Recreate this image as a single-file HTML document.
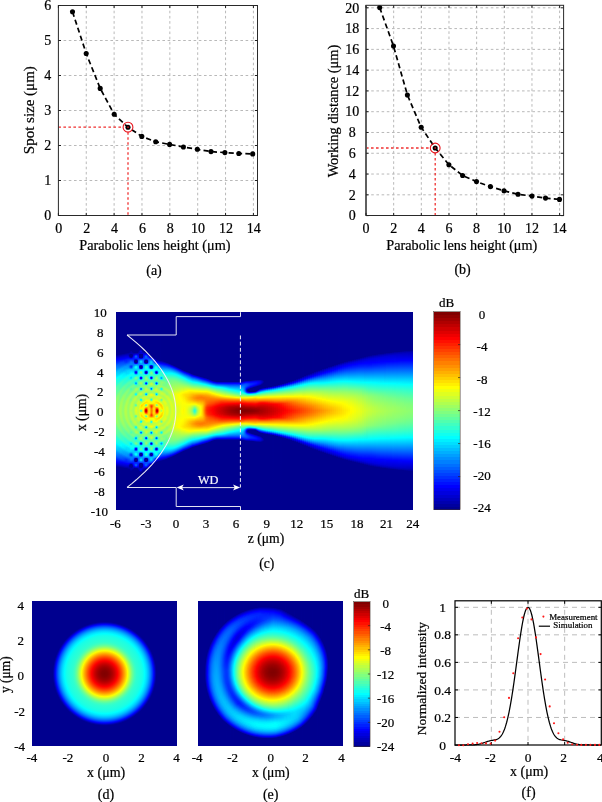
<!DOCTYPE html>
<html><head><meta charset="utf-8"><title>Parabolic lens figure</title>
<style>
html,body{margin:0;padding:0;background:#fff}
#fig{position:relative;width:602px;height:802px;overflow:hidden;background:#fff;font-family:"Liberation Serif",serif}
.hm{position:absolute;display:flex;overflow:hidden}
.hm i{display:block;flex:0 0 auto;width:1px;height:100%}
.cb{position:absolute}
svg{position:absolute;left:0;top:0;will-change:transform}
svg text{font-family:"Liberation Serif",serif}
</style></head><body>
<div id="fig">
<div class="hm" style="left:116px;top:312px;width:297px;height:198px"><i style="background:linear-gradient(#00008f 0.5px,#00008f 42.5px,#0000fa 47.5px,#002bff 50.5px,#06f 53.5px,#0096ff 57.5px,#00caff 60.5px,#00e0ff 63.5px,#00f8ff 65.5px,#0afff5 66.5px,#21ffde 68.5px,#31ffce 72.5px,#60ff9f 76.5px,#65ff9a 81.5px,#96ff69 88.5px,#9aff65 107.5px,#90ff6f 110.5px,#68ff97 115.5px,#65ff9a 119.5px,#5dffa2 121.5px,#2effd1 125.5px,#1effe1 129.5px,#03fffc 131.5px,#00f2ff 132.5px,#00c4ff 137.5px,#0091ff 140.5px,#0070ff 143.5px,#0035ff 146.5px,#0006ff 149.5px,#0000f2 150.5px,#00009b 154.5px,#00008f 155.5px,#00008f 197.5px)"></i><i style="background:linear-gradient(#00008f 0.5px,#000091 42.5px,#0000fd 47.5px,#002eff 50.5px,#0069ff 53.5px,#008bff 56.5px,#00c0ff 59.5px,#00e1ff 63.5px,#02fffd 65.5px,#1affe5 67.5px,#23ffdc 70.5px,#54ffab 74.5px,#5bffa4 75.5px,#5dffa2 79.5px,#8f7 84.5px,#92ff6d 86.5px,#8cff73 104.5px,#93ff6c 110.5px,#85ff7a 113.5px,#60ff9f 117.5px,#59ffa6 122.5px,#28ffd7 126.5px,#17ffe8 130.5px,#00faff 132.5px,#0df 134.5px,#00c8ff 137.5px,#0094ff 140.5px,#0063ff 144.5px,#0027ff 147.5px,#0008ff 149.5px,#0000f6 150.5px,#00009d 154.5px,#00008f 155.5px,#00008f 197.5px)"></i><i style="background:linear-gradient(#00008f 0.5px,#00008f 41.5px,#000093 42.5px,#0000d8 45.5px,#0000fe 47.5px,#001fff 49.5px,#005cff 52.5px,#007fff 55.5px,#00b5ff 58.5px,#00c2ff 59.5px,#00d8ff 62.5px,#00f9ff 64.5px,#09fff6 65.5px,#13ffec 66.5px,#1dffe2 69.5px,#50ffaf 73.5px,#5affa5 78.5px,#89ff76 83.5px,#8cff73 85.5px,#85ff7a 90.5px,#93ff6c 98.5px,#85ff7a 107.5px,#8cff73 112.5px,#87ff78 114.5px,#57ffa8 119.5px,#54ffab 123.5px,#4cffb3 124.5px,#2fd 127.5px,#10ffef 131.5px,#04fffb 132.5px,#00f2ff 133.5px,#00d4ff 135.5px,#00beff 138.5px,#08f 141.5px,#05f 145.5px,#0018ff 148.5px,#0000f8 150.5px,#00008f 155.5px,#00008f 197.5px)"></i><i style="background:linear-gradient(#00008f 0.5px,#00008f 41.5px,#000096 42.5px,#0000db 45.5px,#00f 47.5px,#004eff 51.5px,#0082ff 55.5px,#0af 57.5px,#00b8ff 58.5px,#00cfff 61.5px,#01fffe 64.5px,#0bfff4 65.5px,#16ffe9 68.5px,#4bffb4 72.5px,#50ffaf 76.5px,#82ff7d 81.5px,#7fff80 87.5px,#a0ff5f 95.5px,#a3ff5c 100.5px,#80ff7f 109.5px,#85ff7a 114.5px,#80ff7f 116.5px,#53ffac 120.5px,#4effb1 124.5px,#47ffb8 125.5px,#13ffec 129.5px,#0efff1 131.5px,#00faff 133.5px,#00cbff 136.5px,#00b3ff 139.5px,#007cff 142.5px,#0058ff 145.5px,#000aff 149.5px,#0000f9 150.5px,#0000e8 151.5px,#00008f 155.5px,#00008f 197.5px)"></i><i style="background:linear-gradient(#00008f 0.5px,#00008f 41.5px,#009 42.5px,#0000de 45.5px,#0001ff 47.5px,#0040ff 50.5px,#0075ff 54.5px,#00aeff 57.5px,#00c6ff 60.5px,#00f8ff 63.5px,#03fffc 64.5px,#0ffff0 67.5px,#45ffba 71.5px,#4bffb4 75.5px,#7aff85 79.5px,#7aff85 85.5px,#9bff64 90.5px,#a7ff58 93.5px,#abff54 101.5px,#a3ff5c 105.5px,#79ff86 112.5px,#7dff82 117.5px,#76ff89 118.5px,#50ffaf 121.5px,#49ffb6 122.5px,#48ffb7 125.5px,#42ffbd 126.5px,#15ffea 129.5px,#0ff 133.5px,#00ceff 136.5px,#00a8ff 140.5px,#006fff 143.5px,#004bff 146.5px,#000cff 149.5px,#0000fa 150.5px,#0000d6 152.5px,#000090 155.5px,#00008f 197.5px)"></i><i style="background:linear-gradient(#00008f 0.5px,#00008f 41.5px,#00009d 42.5px,#00c 44.5px,#0000f1 46.5px,#0004ff 47.5px,#04f 50.5px,#0069ff 53.5px,#00a2ff 56.5px,#00bdff 59.5px,#0ef 62.5px,#00fbff 63.5px,#01fffe 64.5px,#08fff7 66.5px,#3fffc0 70.5px,#47ffb8 74.5px,#7f8 78.5px,#74ff8b 83.5px,#95ff6a 87.5px,#a5ff5a 90.5px,#a1ff5e 99.5px,#a6ff59 105.5px,#a0ff5f 108.5px,#73ff8c 114.5px,#79ff86 118.5px,#74ff8b 119.5px,#4fb 123.5px,#3cffc3 127.5px,#0efff1 130.5px,#05fffa 131.5px,#0ff 133.5px,#00f7ff 134.5px,#00c4ff 137.5px,#0af 140.5px,#0072ff 143.5px,#004dff 146.5px,#0000fb 150.5px,#0000d9 152.5px,#000094 155.5px,#00008f 156.5px,#00008f 197.5px)"></i><i style="background:linear-gradient(#00008f 0.5px,#00008f 41.5px,#0000d0 44.5px,#0000f3 46.5px,#0007ff 47.5px,#0046ff 50.5px,#005dff 52.5px,#00a5ff 56.5px,#00bfff 59.5px,#00f3ff 62.5px,#01fffe 65.5px,#39ffc6 69.5px,#3cffc3 72.5px,#43ffbc 73.5px,#6cff93 76.5px,#72ff8d 77.5px,#6dff92 81.5px,#93ff6c 85.5px,#9fff60 87.5px,#93ff6c 100.5px,#a0ff5f 109.5px,#98ff67 111.5px,#70ff8f 115.5px,#6cff93 116.5px,#71ff8e 120.5px,#3fffc0 124.5px,#36ffc9 128.5px,#07fff8 131.5px,#00fdff 132.5px,#0ef 135.5px,#00b9ff 138.5px,#00a0ff 141.5px,#06f 144.5px,#0040ff 147.5px,#0000fe 150.5px,#0000c8 153.5px,#000098 155.5px,#00008f 156.5px,#00008f 197.5px)"></i><i style="background:linear-gradient(#00008f 0.5px,#00008f 41.5px,#0000c0 43.5px,#0000f6 46.5px,#000cff 47.5px,#0037ff 49.5px,#0060ff 52.5px,#009aff 55.5px,#00b4ff 58.5px,#00e9ff 61.5px,#04fffb 65.5px,#3fc 68.5px,#36ffc9 71.5px,#3effc1 72.5px,#69ff96 75.5px,#6bff94 80.5px,#8dff72 83.5px,#9aff65 85.5px,#8eff71 91.5px,#96ff69 98.5px,#8eff71 106.5px,#9bff64 111.5px,#92ff6d 113.5px,#69ff96 117.5px,#6cff93 121.5px,#64ff9b 122.5px,#3affc5 125.5px,#36ffc9 128.5px,#2fffd0 129.5px,#00feff 132.5px,#00efff 135.5px,#00b0ff 139.5px,#0094ff 142.5px,#0059ff 145.5px,#002fff 148.5px,#0003ff 150.5px,#00c 153.5px,#00009d 155.5px,#00008f 156.5px,#00008f 197.5px)"></i><i style="background:linear-gradient(#00008f 0.5px,#00008f 40.5px,#000093 41.5px,#0000c4 43.5px,#0000fa 46.5px,#0050ff 51.5px,#008fff 54.5px,#0af 57.5px,#00e8ff 61.5px,#00fbff 64.5px,#0dfff2 65.5px,#2dffd2 67.5px,#2fffd0 70.5px,#37ffc8 71.5px,#64ff9b 74.5px,#68ff97 75.5px,#63ff9c 78.5px,#94ff6b 83.5px,#8aff75 89.5px,#a3ff5c 95.5px,#a8ff57 99.5px,#a2ff5d 102.5px,#89ff76 108.5px,#94ff6b 112.5px,#92ff6d 114.5px,#6f9 118.5px,#62ff9d 119.5px,#68ff97 122.5px,#60ff9f 123.5px,#32ffcd 126.5px,#30ffcf 129.5px,#28ffd7 130.5px,#06fff9 132.5px,#00f6ff 133.5px,#00e4ff 136.5px,#00b2ff 139.5px,#0098ff 142.5px,#0049ff 146.5px,#002dff 148.5px,#0008ff 150.5px,#0000f2 151.5px,#0000d0 153.5px,#00008f 156.5px,#00008f 197.5px)"></i><i style="background:linear-gradient(#00008f 0.5px,#00008f 40.5px,#000098 41.5px,#0000c9 43.5px,#00f 46.5px,#0015ff 47.5px,#003aff 50.5px,#0094ff 54.5px,#00a2ff 56.5px,#00daff 60.5px,#03fffc 64.5px,#27ffd8 66.5px,#2fffd0 70.5px,#5fffa0 73.5px,#5fffa0 77.5px,#8cff73 81.5px,#8dff72 83.5px,#84ff7b 86.5px,#b0ff4f 94.5px,#b5ff4a 99.5px,#b2ff4d 102.5px,#a6ff59 105.5px,#85ff7a 110.5px,#8eff71 114.5px,#8aff75 116.5px,#64ff9b 119.5px,#5effa1 120.5px,#63ff9c 123.5px,#5affa5 124.5px,#36ffc9 126.5px,#2cffd3 127.5px,#2bffd4 130.5px,#2fd 131.5px,#00fbff 133.5px,#00d6ff 137.5px,#00a8ff 140.5px,#008dff 143.5px,#0046ff 146.5px,#0034ff 147.5px,#000eff 150.5px,#0000f6 151.5px,#0000c0 154.5px,#00008f 156.5px,#00008f 197.5px)"></i><i style="background:linear-gradient(#00008f 0.5px,#00008f 40.5px,#00009d 41.5px,#0000cb 43.5px,#0000ef 45.5px,#0006ff 46.5px,#0019ff 47.5px,#002aff 49.5px,#0039ff 50.5px,#0071ff 52.5px,#0094ff 54.5px,#00a3ff 56.5px,#00c6ff 58.5px,#00deff 61.5px,#00f7ff 63.5px,#0dfff2 64.5px,#1fffe0 65.5px,#27ffd8 66.5px,#26ffd9 68.5px,#2cffd3 69.5px,#57ffa8 72.5px,#5effa1 73.5px,#58ffa7 75.5px,#5cffa3 76.5px,#84ff7b 79.5px,#8bff74 80.5px,#80ff7f 83.5px,#82ff7d 85.5px,#a6ff59 89.5px,#b0ff4f 91.5px,#b0ff4f 105.5px,#af5 107.5px,#80ff7f 112.5px,#89ff76 117.5px,#61ff9e 120.5px,#59ffa6 121.5px,#5cffa3 124.5px,#28ffd7 128.5px,#25ffda 131.5px,#04fffb 133.5px,#00f1ff 134.5px,#00e3ff 135.5px,#00ceff 138.5px,#00abff 140.5px,#0090ff 143.5px,#007eff 144.5px,#0032ff 147.5px,#0013ff 150.5px,#0000fc 151.5px,#0000c3 154.5px,#00008f 156.5px,#00008f 197.5px)"></i><i style="background:linear-gradient(#00008f 0.5px,#00008f 40.5px,#0000f2 45.5px,#000bff 46.5px,#001eff 47.5px,#03f 49.5px,#04f 50.5px,#07f 52.5px,#08f 53.5px,#00a6ff 56.5px,#00cdff 58.5px,#00d8ff 59.5px,#00e0ff 61.5px,#01fffe 63.5px,#20ffdf 65.5px,#26ffd9 68.5px,#54ffab 71.5px,#59ffa6 72.5px,#53ffac 74.5px,#57ffa8 75.5px,#82ff7d 78.5px,#8f7 79.5px,#7cff83 83.5px,#abff54 88.5px,#adff52 90.5px,#9fff60 95.5px,#9dff62 100.5px,#adff52 108.5px,#a9ff56 109.5px,#80ff7f 113.5px,#7bff84 114.5px,#86ff79 118.5px,#54ffab 122.5px,#58ffa7 125.5px,#4fffb0 126.5px,#2dffd2 128.5px,#23ffdc 129.5px,#1dffe2 132.5px,#00f8ff 134.5px,#00e6ff 135.5px,#00d5ff 138.5px,#00a0ff 141.5px,#0082ff 144.5px,#003cff 147.5px,#0018ff 150.5px,#0001ff 151.5px,#000095 156.5px,#00008f 157.5px,#00008f 197.5px)"></i><i style="background:linear-gradient(#00008f 0.5px,#00008f 40.5px,#0000a4 41.5px,#0000c1 43.5px,#0000f0 45.5px,#000eff 46.5px,#02f 47.5px,#003dff 49.5px,#007bff 52.5px,#0093ff 55.5px,#00d2ff 58.5px,#00e4ff 61.5px,#00f4ff 62.5px,#0afff5 63.5px,#18ffe7 64.5px,#1fffe0 67.5px,#4fffb0 70.5px,#56ffa9 71.5px,#4fffb0 73.5px,#52ffad 74.5px,#7eff81 77.5px,#84ff7b 78.5px,#7f8 81.5px,#7bff84 82.5px,#a7ff58 86.5px,#a7ff58 88.5px,#97ff68 93.5px,#97ff68 104.5px,#a9ff56 110.5px,#a4ff5b 111.5px,#78ff87 115.5px,#83ff7c 119.5px,#50ffaf 123.5px,#54ffab 126.5px,#49ffb6 127.5px,#25ffda 129.5px,#1cffe3 130.5px,#1cffe3 132.5px,#14ffeb 133.5px,#02fffd 134.5px,#00edff 135.5px,#00e0ff 136.5px,#00d8ff 138.5px,#0cf 139.5px,#008eff 142.5px,#0081ff 144.5px,#0074ff 145.5px,#0048ff 147.5px,#001cff 150.5px,#0003ff 151.5px,#00c 153.5px,#00008f 157.5px,#00008f 197.5px)"></i><i style="background:linear-gradient(#00008f 0.5px,#00008f 39.5px,#000095 40.5px,#0000a7 41.5px,#000095 43.5px,#0000a7 44.5px,#0000d4 45.5px,#0009ff 46.5px,#0025ff 47.5px,#006fff 51.5px,#007dff 52.5px,#06f 54.5px,#0075ff 55.5px,#00c3ff 57.5px,#00d4ff 58.5px,#00edff 61.5px,#00feff 62.5px,#10ffef 63.5px,#10ffef 64.5px,#05fffa 65.5px,#06fff9 66.5px,#35ffca 68.5px,#54ffab 70.5px,#4effb1 73.5px,#68ff97 75.5px,#7f8 77.5px,#74ff8b 80.5px,#7bff84 81.5px,#a1ff5e 84.5px,#a6ff59 85.5px,#94ff6b 88.5px,#93ff6c 90.5px,#a9ff56 96.5px,#af5 100.5px,#93ff6c 107.5px,#96ff69 109.5px,#a5ff5a 111.5px,#a4ff5b 112.5px,#9dff62 113.5px,#7f8 116.5px,#75ff8a 120.5px,#4dffb2 124.5px,#54ffab 126.5px,#51ffae 127.5px,#41ffbe 128.5px,#1fe 130.5px,#03fffc 131.5px,#12ffed 133.5px,#00f7ff 135.5px,#00e8ff 136.5px,#00d0ff 139.5px,#00b5ff 140.5px,#008aff 141.5px,#006cff 142.5px,#0068ff 143.5px,#0076ff 144.5px,#0078ff 145.5px,#001eff 150.5px,#0000f4 151.5px,#0000c0 152.5px,#00009c 153.5px,#000096 154.5px,#0000a3 155.5px,#0000a0 156.5px,#00008f 157.5px,#00008f 197.5px)"></i><i style="background:linear-gradient(#00008f 0.5px,#00008f 38.5px,#00a 41.5px,#00008f 42.5px,#00008f 44.5px,#0000af 45.5px,#0001ff 46.5px,#0027ff 47.5px,#0061ff 49.5px,#0072ff 50.5px,#007dff 52.5px,#0057ff 53.5px,#003cff 54.5px,#004dff 55.5px,#00c2ff 57.5px,#00fdff 61.5px,#09fff6 62.5px,#12ffed 63.5px,#00fdff 64.5px,#00e0ff 65.5px,#00e7ff 66.5px,#15ffea 67.5px,#3effc1 68.5px,#4effb1 69.5px,#54ffab 70.5px,#4fffb0 72.5px,#5fa 73.5px,#6f9 74.5px,#6bff94 75.5px,#5effa1 76.5px,#5cffa3 77.5px,#79ff86 80.5px,#9aff65 82.5px,#a3ff5c 83.5px,#9dff62 85.5px,#7eff81 87.5px,#80ff7f 88.5px,#adff52 92.5px,#bdff42 96.5px,#b2ff4d 98.5px,#bcff43 100.5px,#b7ff48 103.5px,#97ff68 107.5px,#7cff83 109.5px,#9fff60 112.5px,#a0ff5f 114.5px,#74ff8b 117.5px,#5affa5 120.5px,#6cff93 122.5px,#51ffae 124.5px,#52ffad 127.5px,#49ffb6 128.5px,#31ffce 129.5px,#0ff 130.5px,#00deff 131.5px,#00e9ff 132.5px,#0afff5 133.5px,#0ffff0 134.5px,#00f8ff 136.5px,#00d0ff 139.5px,#00adff 140.5px,#006cff 141.5px,#0041ff 142.5px,#0042ff 143.5px,#0068ff 144.5px,#007bff 145.5px,#07f 146.5px,#006dff 147.5px,#001fff 150.5px,#0000e1 151.5px,#000091 152.5px,#00008f 153.5px,#00008f 154.5px,#0000a4 156.5px,#00008f 159.5px,#00008f 197.5px)"></i><i style="background:linear-gradient(#00008f 0.5px,#00008f 38.5px,#0000a0 39.5px,#0000ac 41.5px,#00008f 42.5px,#00008f 44.5px,#0000a6 45.5px,#00f 46.5px,#0028ff 47.5px,#0068ff 49.5px,#007aff 50.5px,#007cff 52.5px,#004eff 53.5px,#0030ff 54.5px,#0043ff 55.5px,#00c2ff 57.5px,#00f7ff 60.5px,#08fff7 61.5px,#1fe 63.5px,#00f5ff 64.5px,#00d9ff 65.5px,#00e7ff 66.5px,#1cffe3 67.5px,#45ffba 68.5px,#54ffab 72.5px,#71ff8e 74.5px,#6cff93 75.5px,#5fa 76.5px,#51ffae 77.5px,#9aff65 81.5px,#a3ff5c 82.5px,#a0ff5f 83.5px,#7dff82 87.5px,#8f7 88.5px,#a0ff5f 89.5px,#aeff51 90.5px,#beff41 92.5px,#bdff42 96.5px,#afff50 98.5px,#bf4 100.5px,#c1ff3e 104.5px,#af5 107.5px,#81ff7e 109.5px,#7fff80 110.5px,#a2ff5d 114.5px,#a1ff5e 115.5px,#5bffa4 119.5px,#4fffb0 120.5px,#72ff8d 122.5px,#51ffae 125.5px,#4affb5 128.5px,#39ffc6 129.5px,#05fffa 130.5px,#00dbff 131.5px,#00e1ff 132.5px,#04fffb 133.5px,#1fe 134.5px,#02fffd 136.5px,#00daff 138.5px,#00ceff 139.5px,#00acff 140.5px,#06f 141.5px,#0035ff 142.5px,#0036ff 143.5px,#0062ff 144.5px,#007cff 145.5px,#007cff 146.5px,#0075ff 147.5px,#0020ff 150.5px,#0000dc 151.5px,#00008f 152.5px,#000093 155.5px,#0000a6 156.5px,#0000a3 157.5px,#00008f 159.5px,#00008f 197.5px)"></i><i style="background:linear-gradient(#00008f 0.5px,#00008f 39.5px,#0000ae 41.5px,#000093 43.5px,#0000a7 44.5px,#0000d5 45.5px,#000cff 46.5px,#006fff 50.5px,#007cff 52.5px,#0068ff 53.5px,#0062ff 54.5px,#007aff 55.5px,#00c6ff 57.5px,#00dcff 59.5px,#05fffa 61.5px,#0efff1 62.5px,#0efff1 63.5px,#02fffd 65.5px,#16ffe9 66.5px,#35ffca 67.5px,#47ffb8 68.5px,#4fb 70.5px,#4affb5 71.5px,#6bff94 73.5px,#75ff8a 74.5px,#63ff9c 77.5px,#94ff6b 80.5px,#9dff62 81.5px,#9bff64 82.5px,#8aff75 84.5px,#8aff75 85.5px,#bf4 90.5px,#bf4 92.5px,#a8ff57 98.5px,#bcff43 106.5px,#baff45 107.5px,#97ff68 110.5px,#89ff76 112.5px,#9dff62 115.5px,#9bff64 116.5px,#6aff95 119.5px,#62ff9d 120.5px,#74ff8b 122.5px,#73ff8c 123.5px,#47ffb8 126.5px,#43ffbc 129.5px,#0cfff3 131.5px,#01fffe 132.5px,#0ffff0 134.5px,#0cfff3 135.5px,#00feff 136.5px,#00d5ff 138.5px,#0cf 139.5px,#00baff 140.5px,#006dff 142.5px,#0060ff 143.5px,#007bff 145.5px,#0075ff 146.5px,#0068ff 147.5px,#0034ff 149.5px,#0021ff 150.5px,#0000f6 151.5px,#0000c0 152.5px,#00009b 153.5px,#000094 154.5px,#0000a6 155.5px,#0000a7 156.5px,#00008f 158.5px,#00008f 197.5px)"></i><i style="background:linear-gradient(#00008f 0.5px,#00008f 39.5px,#000093 40.5px,#0000f9 44.5px,#000dff 45.5px,#002eff 48.5px,#006eff 51.5px,#008bff 53.5px,#00b8ff 55.5px,#00c5ff 56.5px,#0cf 58.5px,#00d6ff 59.5px,#0ff 61.5px,#0bfff4 62.5px,#0ffff0 64.5px,#42ffbd 67.5px,#3fffc0 70.5px,#71ff8e 73.5px,#72ff8d 74.5px,#67ff98 76.5px,#6eff91 77.5px,#91ff6e 79.5px,#9f6 80.5px,#87ff78 83.5px,#89ff76 84.5px,#b9ff46 88.5px,#a3ff5c 94.5px,#a2ff5d 102.5px,#baff45 108.5px,#adff52 110.5px,#87ff78 113.5px,#8f7 114.5px,#98ff67 116.5px,#97ff68 117.5px,#6aff95 120.5px,#68ff97 121.5px,#73ff8c 123.5px,#6cff93 124.5px,#46ffb9 126.5px,#3effc1 127.5px,#45ffba 129.5px,#3effc1 130.5px,#17ffe8 132.5px,#0cfff3 133.5px,#08fff7 135.5px,#00f8ff 136.5px,#00d0ff 138.5px,#00c1ff 141.5px,#0085ff 144.5px,#06f 146.5px,#0039ff 148.5px,#0006ff 152.5px,#0000ef 153.5px,#00008f 157.5px,#00008f 197.5px)"></i><i style="background:linear-gradient(#00008f 0.5px,#00008f 40.5px,#0000d5 42.5px,#0006ff 43.5px,#0024ff 44.5px,#0025ff 45.5px,#001eff 46.5px,#0004ff 47.5px,#0000bd 48.5px,#0000a4 49.5px,#0000cf 50.5px,#002cff 51.5px,#007fff 52.5px,#009bff 53.5px,#00c5ff 54.5px,#00dbff 55.5px,#00c9ff 57.5px,#00b5ff 58.5px,#08f 59.5px,#007eff 60.5px,#00abff 61.5px,#00edff 62.5px,#09fff6 63.5px,#1bffe4 64.5px,#3affc5 65.5px,#4effb1 66.5px,#4bffb4 67.5px,#3fc 69.5px,#18ffe7 70.5px,#17ffe8 71.5px,#6aff95 73.5px,#6aff95 75.5px,#91ff6e 78.5px,#97ff68 79.5px,#90ff6f 80.5px,#74ff8b 81.5px,#63ff9c 82.5px,#95ff6a 84.5px,#b6ff49 86.5px,#bdff42 87.5px,#b9ff46 88.5px,#90ff6f 92.5px,#8cff73 93.5px,#acff53 95.5px,#baff45 98.5px,#a8ff57 102.5px,#95ff6a 103.5px,#8bff74 104.5px,#bf4 109.5px,#bf4 110.5px,#a0ff5f 112.5px,#8bff74 113.5px,#6dff92 114.5px,#6f9 115.5px,#96ff69 117.5px,#8cff73 119.5px,#6fff90 121.5px,#69ff96 122.5px,#6eff91 123.5px,#5fffa0 124.5px,#2effd1 125.5px,#1fe 126.5px,#3affc5 128.5px,#4effb1 130.5px,#49ffb6 131.5px,#1fe 133.5px,#06fff9 134.5px,#00d4ff 135.5px,#0093ff 136.5px,#007bff 137.5px,#0098ff 138.5px,#00c5ff 139.5px,#00daff 141.5px,#00d6ff 142.5px,#0067ff 145.5px,#0004ff 146.5px,#0000b6 147.5px,#0000a6 148.5px,#0000d6 149.5px,#001eff 150.5px,#0027ff 152.5px,#001bff 153.5px,#0000f2 154.5px,#00008f 156.5px,#00008f 197.5px)"></i><i style="background:linear-gradient(#00008f 0.5px,#00008f 40.5px,#0000b5 41.5px,#0000e8 42.5px,#0036ff 43.5px,#005bff 44.5px,#04f 45.5px,#0024ff 46.5px,#0000e7 47.5px,#00008f 48.5px,#00008f 50.5px,#0000ed 51.5px,#0081ff 52.5px,#00b2ff 53.5px,#00f6ff 54.5px,#0cfff3 55.5px,#00ebff 56.5px,#00caff 57.5px,#009dff 58.5px,#0027ff 59.5px,#0000ef 60.5px,#0037ff 61.5px,#00c7ff 62.5px,#0afff5 63.5px,#2fffd0 64.5px,#60ff9f 65.5px,#6fff90 66.5px,#24ffdb 69.5px,#00caff 70.5px,#009fff 71.5px,#00f1ff 72.5px,#57ffa8 73.5px,#73ff8c 75.5px,#8fff70 76.5px,#a1ff5e 77.5px,#9fff60 78.5px,#93ff6c 79.5px,#7cff83 80.5px,#2cffd3 81.5px,#04fffb 82.5px,#a2ff5d 84.5px,#b4ff4b 85.5px,#bdff42 87.5px,#a4ff5b 89.5px,#9aff65 91.5px,#69ff96 92.5px,#5fa 93.5px,#93ff6c 94.5px,#c3ff3c 95.5px,#daff25 98.5px,#c9ff36 101.5px,#b7ff48 102.5px,#75ff8a 103.5px,#52ffad 104.5px,#80ff7f 105.5px,#a0ff5f 106.5px,#9fff60 107.5px,#b8ff47 109.5px,#beff41 110.5px,#b0ff4f 112.5px,#8cff73 113.5px,#2affd5 114.5px,#06fff9 115.5px,#50ffaf 116.5px,#8bff74 117.5px,#a2ff5d 119.5px,#9dff62 120.5px,#6aff95 122.5px,#6f9 123.5px,#37ffc8 124.5px,#00c4ff 125.5px,#00a2ff 126.5px,#00f0ff 127.5px,#36ffc9 128.5px,#43ffbc 129.5px,#63ff9c 130.5px,#6fff90 131.5px,#4fffb0 132.5px,#1cffe3 133.5px,#01fffe 134.5px,#008eff 135.5px,#000cff 136.5px,#0000f7 137.5px,#05f 138.5px,#00c1ff 139.5px,#00d3ff 140.5px,#00fcff 141.5px,#0bfff4 142.5px,#0df 143.5px,#0057ff 145.5px,#0000a7 146.5px,#00008f 147.5px,#00008f 149.5px,#001bff 150.5px,#002dff 151.5px,#0052ff 152.5px,#0054ff 153.5px,#0019ff 154.5px,#0000ce 155.5px,#00008f 156.5px,#00008f 197.5px)"></i><i style="background:linear-gradient(#00008f 0.5px,#00008f 40.5px,#0000b8 41.5px,#0000ec 42.5px,#0038ff 43.5px,#005bff 44.5px,#0026ff 46.5px,#0000ea 47.5px,#00008f 48.5px,#00008f 50.5px,#0000ea 51.5px,#0085ff 52.5px,#00b8ff 53.5px,#00faff 54.5px,#0efff1 55.5px,#00eaff 56.5px,#0cf 57.5px,#00a1ff 58.5px,#0027ff 59.5px,#0000e8 60.5px,#002fff 61.5px,#00c3ff 62.5px,#0dfff2 63.5px,#69ff96 65.5px,#71ff8e 66.5px,#39ffc6 68.5px,#28ffd7 69.5px,#00cfff 70.5px,#009eff 71.5px,#00eaff 72.5px,#4fffb0 73.5px,#7aff85 75.5px,#9eff61 76.5px,#acff53 77.5px,#9eff61 78.5px,#74ff8b 80.5px,#2affd5 81.5px,#0bfff4 82.5px,#61ff9e 83.5px,#acff53 84.5px,#b2ff4d 86.5px,#a8ff57 89.5px,#afff50 91.5px,#7cff83 92.5px,#65ff9a 93.5px,#a2ff5d 94.5px,#d1ff2e 95.5px,#e1ff1e 98.5px,#d4ff2b 101.5px,#c6ff39 102.5px,#84ff7b 103.5px,#63ff9c 104.5px,#95ff6a 105.5px,#b3ff4c 106.5px,#a9ff56 107.5px,#b3ff4c 112.5px,#9f6 113.5px,#36ffc9 114.5px,#09fff6 115.5px,#4bffb4 116.5px,#81ff7e 117.5px,#a6ff59 119.5px,#af5 120.5px,#91ff6e 121.5px,#6dff92 122.5px,#60ff9f 123.5px,#2fffd0 124.5px,#00bfff 125.5px,#00a4ff 126.5px,#00f6ff 127.5px,#38ffc7 128.5px,#3fffc0 129.5px,#61ff9e 130.5px,#74ff8b 131.5px,#58ffa7 132.5px,#2fd 133.5px,#01fffe 134.5px,#0087ff 135.5px,#0003ff 136.5px,#0000f3 137.5px,#0057ff 138.5px,#00c5ff 139.5px,#00d3ff 140.5px,#00fbff 141.5px,#0efff1 142.5px,#00e3ff 143.5px,#0058ff 145.5px,#0000a1 146.5px,#00008f 147.5px,#00008f 149.5px,#001fff 150.5px,#002eff 151.5px,#0052ff 152.5px,#05f 153.5px,#001cff 154.5px,#0000d1 155.5px,#00008f 156.5px,#00008f 197.5px)"></i><i style="background:linear-gradient(#00008f 0.5px,#00008f 40.5px,#0000bc 41.5px,#0000e0 42.5px,#000dff 43.5px,#0025ff 44.5px,#0025ff 46.5px,#0012ff 47.5px,#0000cf 48.5px,#0000b0 49.5px,#0000d2 50.5px,#002eff 51.5px,#0089ff 52.5px,#00d0ff 54.5px,#00dbff 55.5px,#00c5ff 58.5px,#009bff 59.5px,#0087ff 60.5px,#00a7ff 61.5px,#00e8ff 62.5px,#12ffed 63.5px,#4dffb2 65.5px,#4fffb0 66.5px,#40ffbf 67.5px,#3affc5 68.5px,#42ffbd 69.5px,#2cffd3 71.5px,#59ffa6 73.5px,#63ff9c 74.5px,#95ff6a 76.5px,#9dff62 77.5px,#80ff7f 79.5px,#7aff85 81.5px,#85ff7a 82.5px,#a1ff5e 83.5px,#aeff51 84.5px,#a0ff5f 86.5px,#a2ff5d 87.5px,#cbff34 91.5px,#baff45 93.5px,#caff35 95.5px,#cbff34 99.5px,#c9ff36 102.5px,#bf4 104.5px,#c7ff38 105.5px,#caff35 106.5px,#a0ff5f 110.5px,#acff53 113.5px,#7eff81 115.5px,#7bff84 116.5px,#85ff7a 118.5px,#96ff69 119.5px,#9dff62 120.5px,#8cff73 121.5px,#70ff8f 122.5px,#50ffaf 124.5px,#35ffca 125.5px,#2cffd3 126.5px,#3cffc3 127.5px,#41ffbe 128.5px,#39ffc6 129.5px,#51ffae 131.5px,#4fb 132.5px,#08fff7 134.5px,#00ceff 135.5px,#0094ff 136.5px,#0089ff 137.5px,#00d1ff 139.5px,#00cbff 140.5px,#00daff 142.5px,#00c3ff 143.5px,#006dff 145.5px,#0004ff 146.5px,#0000bc 147.5px,#0000b5 148.5px,#0000e8 149.5px,#0029ff 150.5px,#0023ff 151.5px,#0027ff 152.5px,#001fff 153.5px,#0000fb 154.5px,#0000cf 155.5px,#000098 156.5px,#00008f 157.5px,#00008f 197.5px)"></i><i style="background:linear-gradient(#00008f 0.5px,#00008f 38.5px,#000096 39.5px,#0000ef 43.5px,#0001ff 44.5px,#0025ff 46.5px,#0056ff 48.5px,#0067ff 49.5px,#007aff 51.5px,#00b3ff 54.5px,#00c0ff 56.5px,#00cfff 57.5px,#00faff 59.5px,#02fffd 60.5px,#06fff9 62.5px,#2fffd0 64.5px,#3affc5 65.5px,#34ffcb 67.5px,#3effc1 68.5px,#6f9 70.5px,#69ff96 71.5px,#5effa1 73.5px,#8eff71 76.5px,#7dff82 79.5px,#adff52 82.5px,#aeff51 83.5px,#9aff65 85.5px,#9aff65 86.5px,#c8ff37 89.5px,#d0ff2f 90.5px,#c1ff3e 94.5px,#cbff34 98.5px,#c2ff3d 103.5px,#d0ff2f 106.5px,#ceff31 107.5px,#a1ff5e 110.5px,#9f6 111.5px,#b0ff4f 114.5px,#a8ff57 115.5px,#82ff7d 117.5px,#7dff82 118.5px,#8fff70 120.5px,#8aff75 121.5px,#63ff9c 123.5px,#5dffa2 124.5px,#6aff95 126.5px,#60ff9f 127.5px,#38ffc7 129.5px,#37ffc8 132.5px,#10ffef 134.5px,#03fffc 135.5px,#01fffe 136.5px,#01fffe 137.5px,#00f3ff 138.5px,#00c8ff 140.5px,#00adff 143.5px,#0075ff 146.5px,#0061ff 148.5px,#001cff 151.5px,#0000fa 153.5px,#00008f 158.5px,#00008f 197.5px)"></i><i style="background:linear-gradient(#00008f 0.5px,#00008f 37.5px,#0000b7 39.5px,#0000b8 40.5px,#0000c5 41.5px,#00008f 42.5px,#00008f 45.5px,#0002ff 46.5px,#0047ff 47.5px,#0074ff 48.5px,#0092ff 49.5px,#0093ff 50.5px,#08f 51.5px,#008fff 52.5px,#003dff 53.5px,#0000f1 54.5px,#0000f2 55.5px,#0049ff 56.5px,#00c2ff 57.5px,#00f1ff 58.5px,#15ffea 59.5px,#24ffdb 60.5px,#1fe 62.5px,#1effe1 63.5px,#00feff 64.5px,#00c5ff 65.5px,#00c1ff 66.5px,#03fffc 67.5px,#43ffbc 68.5px,#7aff85 70.5px,#7dff82 71.5px,#65ff9a 73.5px,#74ff8b 74.5px,#6fff90 75.5px,#4dffb2 76.5px,#49ffb6 77.5px,#6aff95 78.5px,#b4ff4b 81.5px,#bcff43 82.5px,#9bff64 84.5px,#98ff67 86.5px,#90ff6f 87.5px,#a5ff5a 88.5px,#c7ff38 89.5px,#c7ff38 92.5px,#e8ff17 96.5px,#e2ff1d 97.5px,#cfff30 98.5px,#d5ff2a 99.5px,#e7ff18 100.5px,#c5ff3a 105.5px,#cf3 107.5px,#bcff43 108.5px,#9f6 109.5px,#92ff6d 110.5px,#9aff65 111.5px,#97ff68 112.5px,#b5ff4a 114.5px,#bcff43 115.5px,#af5 116.5px,#4fb 120.5px,#7f8 122.5px,#6f9 124.5px,#7fff80 126.5px,#71ff8e 127.5px,#2fffd0 129.5px,#00e3ff 130.5px,#00b9ff 131.5px,#00d9ff 132.5px,#13ffec 133.5px,#13ffec 135.5px,#20ffdf 136.5px,#2fd 137.5px,#08fff7 138.5px,#00e3ff 139.5px,#0094ff 140.5px,#001eff 141.5px,#0000e7 142.5px,#0009ff 143.5px,#0063ff 144.5px,#008bff 145.5px,#008bff 146.5px,#0096ff 147.5px,#008aff 148.5px,#0039ff 150.5px,#0000ca 151.5px,#00008f 152.5px,#00008f 154.5px,#0000bd 156.5px,#0000b2 158.5px,#000093 159.5px,#00008f 160.5px,#00008f 197.5px)"></i><i style="background:linear-gradient(#00008f 0.5px,#00008f 37.5px,#00c 38.5px,#0000e1 39.5px,#0000cb 40.5px,#0000c9 41.5px,#00008f 42.5px,#00008f 45.5px,#0000e4 46.5px,#0052ff 47.5px,#009eff 48.5px,#00d5ff 49.5px,#00c9ff 50.5px,#009dff 51.5px,#0092ff 52.5px,#0000e2 53.5px,#00008f 54.5px,#00008f 55.5px,#0000d2 56.5px,#00b4ff 57.5px,#00fdff 58.5px,#3cffc3 59.5px,#5bffa4 60.5px,#45ffba 61.5px,#2fd 62.5px,#2fd 63.5px,#00afff 64.5px,#000aff 65.5px,#0000fd 66.5px,#00acff 67.5px,#47ffb8 68.5px,#95ff6a 70.5px,#a0ff5f 71.5px,#72ff8d 73.5px,#7cff83 74.5px,#3fc 75.5px,#009aff 76.5px,#09f 77.5px,#36ffc9 78.5px,#8bff74 79.5px,#caff35 81.5px,#cf3 82.5px,#9cff63 84.5px,#a2ff5d 85.5px,#75ff8a 86.5px,#08fff7 87.5px,#25ffda 88.5px,#9fff60 89.5px,#beff41 90.5px,#c4ff3b 91.5px,#feff01 93.5px,#fff600 94.5px,#fffa00 96.5px,#c8ff37 97.5px,#6f9 98.5px,#86ff79 99.5px,#ecff13 100.5px,#fff800 101.5px,#fff800 103.5px,#f4ff0b 104.5px,#d4ff2b 105.5px,#beff41 106.5px,#bdff42 107.5px,#73ff8c 108.5px,#02fffd 109.5px,#2effd1 110.5px,#96ff69 111.5px,#a2ff5d 113.5px,#beff41 114.5px,#d0ff2f 115.5px,#c0ff3f 116.5px,#79ff86 118.5px,#00f3ff 119.5px,#007eff 120.5px,#00d1ff 121.5px,#63ff9c 122.5px,#75ff8a 123.5px,#7f8 124.5px,#93ff6c 125.5px,#a1ff5e 126.5px,#87ff78 127.5px,#5dffa2 128.5px,#1cffe3 129.5px,#005aff 130.5px,#0000e7 131.5px,#0043ff 132.5px,#00efff 133.5px,#1fffe0 134.5px,#2dffd2 135.5px,#53ffac 136.5px,#5fa 137.5px,#24ffdb 138.5px,#00eaff 139.5px,#0060ff 140.5px,#00008f 141.5px,#00008f 143.5px,#0032ff 144.5px,#0092ff 145.5px,#00aeff 146.5px,#00d5ff 147.5px,#00c6ff 148.5px,#003eff 150.5px,#00008f 151.5px,#00008f 155.5px,#0000c4 156.5px,#0000d6 157.5px,#0000df 158.5px,#00008f 160.5px,#00008f 197.5px)"></i><i style="background:linear-gradient(#00008f 0.5px,#00008f 37.5px,#0000bf 38.5px,#0000db 39.5px,#00c 40.5px,#0000cd 41.5px,#00008f 42.5px,#00008f 45.5px,#0000e7 46.5px,#0056ff 47.5px,#00a3ff 48.5px,#00d9ff 49.5px,#00ceff 50.5px,#00a2ff 51.5px,#0097ff 52.5px,#0000e0 53.5px,#00008f 54.5px,#00008f 55.5px,#0000ce 56.5px,#00b8ff 57.5px,#03fffc 58.5px,#3fffc0 59.5px,#5effa1 60.5px,#4affb5 61.5px,#28ffd7 62.5px,#28ffd7 63.5px,#00abff 64.5px,#0000f9 65.5px,#0000ef 66.5px,#00abff 67.5px,#4effb1 68.5px,#95ff6a 70.5px,#9fff60 71.5px,#7bff84 73.5px,#84ff7b 74.5px,#2effd1 75.5px,#0085ff 76.5px,#0087ff 77.5px,#37ffc8 78.5px,#97ff68 79.5px,#caff35 81.5px,#c5ff3a 82.5px,#aeff51 83.5px,#a3ff5c 84.5px,#b2ff4d 85.5px,#7fff80 86.5px,#00fcff 87.5px,#1fe 88.5px,#91ff6e 89.5px,#bcff43 90.5px,#d8ff27 91.5px,#fff600 92.5px,#ffd900 93.5px,#ffdf00 94.5px,#fffd00 96.5px,#bfff40 97.5px,#5bffa4 98.5px,#7bff84 99.5px,#e6ff19 100.5px,#fff900 101.5px,#ffda00 103.5px,#ffe100 104.5px,#f5ff0a 105.5px,#c8ff37 106.5px,#b5ff4a 107.5px,#61ff9e 108.5px,#00efff 109.5px,#2cffd3 110.5px,#a5ff5a 111.5px,#af5 112.5px,#a4ff5b 113.5px,#cbff34 115.5px,#c3ff3c 116.5px,#a7ff58 117.5px,#82ff7d 118.5px,#00ecff 119.5px,#0068ff 120.5px,#00c1ff 121.5px,#64ff9b 122.5px,#7eff81 123.5px,#7fff80 124.5px,#95ff6a 125.5px,#9fff60 126.5px,#8f7 127.5px,#62ff9d 128.5px,#21ffde 129.5px,#0053ff 130.5px,#0000d6 131.5px,#0038ff 132.5px,#00efff 133.5px,#25ffda 134.5px,#3fc 135.5px,#56ffa9 136.5px,#58ffa7 137.5px,#27ffd8 138.5px,#00efff 139.5px,#0061ff 140.5px,#00008f 141.5px,#00008f 143.5px,#03f 144.5px,#0098ff 145.5px,#00b3ff 146.5px,#00daff 147.5px,#00cbff 148.5px,#0082ff 149.5px,#0043ff 150.5px,#00008f 151.5px,#00008f 155.5px,#0000c7 156.5px,#0000d4 157.5px,#0000d6 158.5px,#0000a6 159.5px,#00008f 160.5px,#00008f 197.5px)"></i><i style="background:linear-gradient(#00008f 0.5px,#00008f 38.5px,#0000af 39.5px,#0000d0 41.5px,#00008f 42.5px,#00008f 45.5px,#000cff 46.5px,#05f 47.5px,#007fff 48.5px,#009cff 49.5px,#0096ff 51.5px,#009eff 52.5px,#003bff 53.5px,#0000de 54.5px,#00d 55.5px,#0045ff 56.5px,#00d0ff 57.5px,#00feff 58.5px,#1bffe4 59.5px,#28ffd7 60.5px,#23ffdc 62.5px,#2fffd0 63.5px,#00f9ff 64.5px,#00acff 65.5px,#00acff 66.5px,#08fff7 67.5px,#58ffa7 68.5px,#76ff89 70.5px,#76ff89 72.5px,#8aff75 74.5px,#6bff94 75.5px,#2dffd2 76.5px,#2fffd0 77.5px,#74ff8b 78.5px,#a2ff5d 79.5px,#b0ff4f 80.5px,#b2ff4d 81.5px,#a3ff5c 83.5px,#aeff51 84.5px,#c2ff3d 85.5px,#baff45 86.5px,#90ff6f 87.5px,#8bff74 88.5px,#cfff30 90.5px,#f9ff06 91.5px,#ffe300 92.5px,#ffe000 93.5px,#fcff03 95.5px,#f5ff0a 96.5px,#cbff34 98.5px,#d2ff2d 99.5px,#edff12 100.5px,#fffc00 102.5px,#ffde00 104.5px,#ffed00 105.5px,#e7ff18 106.5px,#9fff60 108.5px,#86ff79 109.5px,#c4ff3b 111.5px,#baff45 112.5px,#a7ff58 113.5px,#a4ff5b 114.5px,#b3ff4c 116.5px,#acff53 117.5px,#96ff69 118.5px,#56ffa9 119.5px,#23ffdc 120.5px,#43ffbc 121.5px,#7fff80 122.5px,#85ff7a 123.5px,#79ff86 124.5px,#73ff8c 127.5px,#65ff9a 128.5px,#41ffbe 129.5px,#0df 130.5px,#009fff 131.5px,#00c6ff 132.5px,#18ffe7 133.5px,#2affd5 134.5px,#2fd 135.5px,#25ffda 137.5px,#1fe 138.5px,#00f3ff 139.5px,#009dff 140.5px,#01f 141.5px,#0000d0 142.5px,#0000fa 143.5px,#0069ff 144.5px,#009aff 145.5px,#0098ff 146.5px,#009fff 147.5px,#0093ff 148.5px,#0047ff 150.5px,#0000d1 151.5px,#00008f 152.5px,#00008f 154.5px,#0000b1 155.5px,#0000c6 156.5px,#0000b8 157.5px,#00008f 159.5px,#00008f 197.5px)"></i><i style="background:linear-gradient(#00008f 0.5px,#00008f 39.5px,#0000d2 41.5px,#0000e9 42.5px,#0000f7 43.5px,#0005ff 44.5px,#001aff 45.5px,#0054ff 47.5px,#0065ff 48.5px,#007aff 50.5px,#00a7ff 52.5px,#00b7ff 55.5px,#00e9ff 57.5px,#00fbff 58.5px,#0ff 59.5px,#00feff 60.5px,#0afff5 61.5px,#34ffcb 63.5px,#35ffca 66.5px,#60ff9f 68.5px,#6f9 69.5px,#5bffa4 71.5px,#69ff96 72.5px,#80ff7f 73.5px,#8cff73 74.5px,#7aff85 76.5px,#7fff80 77.5px,#a9ff56 79.5px,#af5 80.5px,#95ff6a 82.5px,#a1ff5e 83.5px,#cbff34 85.5px,#c9ff36 86.5px,#b6ff49 88.5px,#c7ff38 89.5px,#efff10 90.5px,#ffea00 91.5px,#ffe600 92.5px,#fff900 93.5px,#f5ff0a 94.5px,#f1ff0e 95.5px,#fffd00 97.5px,#fff600 98.5px,#fdff02 100.5px,#f1ff0e 102.5px,#faff05 103.5px,#ffe300 105.5px,#fff600 106.5px,#df2 107.5px,#bdff42 108.5px,#b7ff48 109.5px,#cf3 111.5px,#c6ff39 112.5px,#9aff65 114.5px,#96ff69 115.5px,#acff53 117.5px,#a2ff5d 118.5px,#7aff85 120.5px,#8aff75 122.5px,#8aff75 123.5px,#61ff9e 125.5px,#5bffa4 126.5px,#6f9 128.5px,#31ffce 131.5px,#37ffc8 133.5px,#2effd1 134.5px,#04fffb 136.5px,#00feff 137.5px,#0ff 138.5px,#00f6ff 139.5px,#00c2ff 141.5px,#00b2ff 142.5px,#00aeff 144.5px,#0074ff 147.5px,#0060ff 149.5px,#004bff 150.5px,#0010ff 152.5px,#0000fe 153.5px,#0000e1 155.5px,#0000a4 157.5px,#00008f 158.5px,#00008f 197.5px)"></i><i style="background:linear-gradient(#00008f 0.5px,#00008f 40.5px,#0000d0 41.5px,#0000f5 42.5px,#0019ff 43.5px,#002eff 44.5px,#0042ff 46.5px,#0032ff 47.5px,#0000e3 48.5px,#0000b6 49.5px,#0000d9 50.5px,#0045ff 51.5px,#00abff 52.5px,#00c4ff 53.5px,#00d9ff 54.5px,#00f0ff 57.5px,#00e0ff 58.5px,#009bff 59.5px,#0079ff 60.5px,#0af 61.5px,#09fff6 62.5px,#37ffc8 63.5px,#64ff9b 68.5px,#5cffa3 69.5px,#2bffd4 70.5px,#15ffea 71.5px,#43ffbc 72.5px,#7fff80 73.5px,#8cff73 74.5px,#89ff76 76.5px,#acff53 79.5px,#a2ff5d 80.5px,#7fff80 81.5px,#74ff8b 82.5px,#c4ff3b 84.5px,#cdff32 85.5px,#bfff40 87.5px,#c6ff39 88.5px,#e2ff1d 89.5px,#fff300 90.5px,#ffe100 91.5px,#fcff03 92.5px,#deff21 93.5px,#e7ff18 94.5px,#fff800 95.5px,#ff9600 97.5px,#ff7500 98.5px,#ff7e00 99.5px,#ffdf00 101.5px,#f8ff07 102.5px,#dfff20 103.5px,#e6ff19 104.5px,#fff100 105.5px,#ffe200 106.5px,#faff05 107.5px,#d4ff2b 108.5px,#c1ff3e 109.5px,#cf3 112.5px,#b7ff48 113.5px,#8f7 114.5px,#72ff8d 115.5px,#af5 117.5px,#af5 118.5px,#8eff71 120.5px,#8f7 121.5px,#8cff73 123.5px,#6bff94 124.5px,#2affd5 125.5px,#16ffe9 126.5px,#65ff9a 128.5px,#61ff9e 129.5px,#2fffd0 134.5px,#00e3ff 135.5px,#008dff 136.5px,#007eff 137.5px,#00f3ff 139.5px,#00e0ff 142.5px,#00d2ff 143.5px,#00b9ff 144.5px,#008dff 145.5px,#0014ff 146.5px,#0000c0 147.5px,#0000c0 148.5px,#0003ff 149.5px,#0049ff 150.5px,#0028ff 153.5px,#000cff 154.5px,#0000e6 155.5px,#0000b2 156.5px,#00008f 157.5px,#00008f 197.5px)"></i><i style="background:linear-gradient(#00008f 0.5px,#00008f 40.5px,#0000fd 42.5px,#003eff 43.5px,#0061ff 44.5px,#0059ff 45.5px,#004aff 46.5px,#000dff 47.5px,#00008f 48.5px,#00008f 50.5px,#0000f2 51.5px,#00afff 52.5px,#0df 53.5px,#18ffe7 54.5px,#28ffd7 55.5px,#0efff1 56.5px,#00f7ff 57.5px,#00b8ff 58.5px,#0000fe 59.5px,#00009a 60.5px,#0000fd 61.5px,#00d5ff 62.5px,#39ffc6 63.5px,#78ff87 65.5px,#84ff7b 66.5px,#68ff97 68.5px,#40ffbf 69.5px,#009cff 70.5px,#0040ff 71.5px,#00bcff 72.5px,#6cff93 73.5px,#8cff73 74.5px,#96ff69 75.5px,#b9ff46 77.5px,#b8ff47 78.5px,#adff52 79.5px,#8cff73 80.5px,#07fff8 81.5px,#00c4ff 82.5px,#4affb5 83.5px,#c3ff3c 84.5px,#c9ff36 86.5px,#d4ff2b 87.5px,#feff01 89.5px,#ffe500 90.5px,#fff300 91.5px,#9eff61 92.5px,#6fff90 93.5px,#cbff34 94.5px,#ffc700 95.5px,#ff6a00 96.5px,#ff0200 97.5px,#c10000 98.5px,#d20000 99.5px,#ff2a00 100.5px,#ff9200 101.5px,#fe0 102.5px,#9cff63 103.5px,#6fff90 104.5px,#cfff30 105.5px,#ffe100 106.5px,#ffef00 107.5px,#f3ff0c 108.5px,#cfff30 110.5px,#c8ff37 111.5px,#cf3 112.5px,#a3ff5c 113.5px,#05fffa 114.5px,#00c6ff 115.5px,#4fb 116.5px,#a4ff5b 117.5px,#baff45 119.5px,#b5ff4a 120.5px,#90ff6f 122.5px,#8cff73 123.5px,#32ffcd 124.5px,#0075ff 125.5px,#004dff 126.5px,#00e3ff 127.5px,#61ff9e 128.5px,#7eff81 130.5px,#83ff7c 131.5px,#6bff94 132.5px,#47ffb8 133.5px,#2dffd2 134.5px,#007fff 135.5px,#0000be 136.5px,#0000ad 137.5px,#0049ff 138.5px,#00edff 139.5px,#00fcff 140.5px,#1bffe4 141.5px,#28ffd7 142.5px,#03fffc 143.5px,#00c6ff 144.5px,#0079ff 145.5px,#000097 146.5px,#00008f 148.5px,#00009f 149.5px,#0046ff 150.5px,#004dff 151.5px,#0061ff 152.5px,#0059ff 153.5px,#0025ff 154.5px,#0000e6 155.5px,#00009d 156.5px,#00008f 157.5px,#00008f 197.5px)"></i><i style="background:linear-gradient(#00008f 0.5px,#00008f 40.5px,#0000b4 41.5px,#0000f3 42.5px,#0039ff 43.5px,#0063ff 44.5px,#005fff 45.5px,#004eff 46.5px,#000cff 47.5px,#00008f 48.5px,#00008f 50.5px,#0000e6 51.5px,#00b2ff 52.5px,#00e5ff 53.5px,#28ffd7 54.5px,#3bffc4 55.5px,#00fbff 57.5px,#00b0ff 58.5px,#0000dc 59.5px,#00008f 60.5px,#0000d8 61.5px,#0cf 62.5px,#3affc5 63.5px,#5affa5 64.5px,#85ff7a 65.5px,#94ff6b 66.5px,#6aff95 68.5px,#37ffc8 69.5px,#0075ff 70.5px,#0009ff 71.5px,#009aff 72.5px,#68ff97 73.5px,#8aff75 74.5px,#98ff67 75.5px,#b6ff49 76.5px,#c8ff37 77.5px,#c0ff3f 78.5px,#abff54 79.5px,#82ff7d 80.5px,#00e1ff 81.5px,#0091ff 82.5px,#34ffcb 83.5px,#c2ff3d 84.5px,#c8ff37 86.5px,#faff05 88.5px,#fff200 89.5px,#ffe500 90.5px,#ff0 91.5px,#8f7 92.5px,#64ff9b 93.5px,#daff25 94.5px,#ffae00 95.5px,#ff5400 96.5px,#f20000 97.5px,#b80000 98.5px,#c70000 99.5px,#ff1800 100.5px,#ffd700 102.5px,#a1ff5e 103.5px,#5cffa3 104.5px,#bf4 105.5px,#ffe800 106.5px,#ffe900 107.5px,#fff900 108.5px,#f0ff0f 109.5px,#d5ff2a 110.5px,#c4ff3b 111.5px,#c9ff36 112.5px,#9fff60 113.5px,#00dfff 114.5px,#0093ff 115.5px,#2bffd4 116.5px,#9fff60 117.5px,#c6ff39 119.5px,#c4ff3b 120.5px,#8fff70 122.5px,#8cff73 123.5px,#25ffda 124.5px,#0046ff 125.5px,#0018ff 126.5px,#00c9ff 127.5px,#5fffa0 128.5px,#71ff8e 129.5px,#8cff73 130.5px,#93ff6c 131.5px,#75ff8a 132.5px,#49ffb6 133.5px,#2effd1 134.5px,#006bff 135.5px,#000091 136.5px,#00008f 137.5px,#0031ff 138.5px,#00edff 139.5px,#04fffb 140.5px,#2bffd4 141.5px,#3bffc4 142.5px,#10ffef 143.5px,#00cbff 144.5px,#0079ff 145.5px,#00008f 146.5px,#000094 149.5px,#0049ff 150.5px,#0052ff 151.5px,#0065ff 152.5px,#0058ff 153.5px,#001eff 154.5px,#0000d8 155.5px,#00008f 156.5px,#00008f 197.5px)"></i><i style="background:linear-gradient(#00008f 0.5px,#000090 41.5px,#0000d4 42.5px,#000dff 43.5px,#03f 44.5px,#004dff 46.5px,#002fff 47.5px,#0000b8 48.5px,#00008f 49.5px,#00009a 50.5px,#002cff 51.5px,#00b5ff 52.5px,#00f6ff 54.5px,#07fff8 55.5px,#00fcff 57.5px,#00d2ff 58.5px,#0058ff 59.5px,#001eff 60.5px,#006aff 61.5px,#00fcff 62.5px,#3bffc4 63.5px,#71ff8e 66.5px,#72ff8d 67.5px,#6aff95 68.5px,#4effb1 69.5px,#00f2ff 70.5px,#00cbff 71.5px,#1dffe2 72.5px,#7eff81 73.5px,#8aff75 75.5px,#b5ff4a 77.5px,#b8ff47 78.5px,#a9ff56 79.5px,#90ff6f 80.5px,#58ffa7 81.5px,#4dffb2 82.5px,#97ff68 83.5px,#c9ff36 84.5px,#bfff40 85.5px,#c0ff3f 86.5px,#f7ff08 88.5px,#fff600 89.5px,#fe0 90.5px,#fff700 91.5px,#df2 92.5px,#daff25 93.5px,#ffef00 94.5px,#ffbc00 95.5px,#ff6f00 97.5px,#ff5600 98.5px,#ff5d00 99.5px,#ff7e00 100.5px,#ffce00 102.5px,#f7ff08 103.5px,#d2ff2d 104.5px,#ef1 105.5px,#ffef00 106.5px,#fff000 107.5px,#fffb00 108.5px,#edff12 109.5px,#cdff32 110.5px,#bcff43 111.5px,#c4ff3b 112.5px,#bfff40 113.5px,#75ff8a 114.5px,#46ffb9 115.5px,#9eff61 117.5px,#baff45 119.5px,#aeff51 120.5px,#95ff6a 121.5px,#87ff78 122.5px,#8cff73 123.5px,#60ff9f 124.5px,#00f1ff 125.5px,#00cdff 126.5px,#19ffe6 127.5px,#63ff9c 128.5px,#74ff8b 130.5px,#6cff93 131.5px,#42ffbd 133.5px,#34ffcb 134.5px,#00c3ff 135.5px,#003cff 136.5px,#0026ff 137.5px,#08f 138.5px,#00f6ff 139.5px,#04fffb 142.5px,#00e9ff 143.5px,#00c5ff 144.5px,#008eff 145.5px,#0000ea 146.5px,#00008f 147.5px,#00008f 148.5px,#0000e8 149.5px,#0051ff 150.5px,#003fff 152.5px,#0027ff 153.5px,#0000f8 154.5px,#0000ba 155.5px,#00008f 156.5px,#00008f 197.5px)"></i><i style="background:linear-gradient(#00008f 0.5px,#00008f 41.5px,#00a 42.5px,#0000e1 43.5px,#0009ff 44.5px,#004aff 46.5px,#005bff 47.5px,#0050ff 49.5px,#0065ff 50.5px,#00b8ff 52.5px,#00d4ff 55.5px,#00fcff 57.5px,#00feff 58.5px,#00f1ff 59.5px,#00f4ff 60.5px,#10ffef 61.5px,#31ffce 62.5px,#3cffc3 63.5px,#3bffc4 65.5px,#63ff9c 67.5px,#6aff95 68.5px,#5affa5 70.5px,#67ff98 71.5px,#81ff7e 72.5px,#8fff70 73.5px,#7dff82 75.5px,#8f7 76.5px,#a1ff5e 77.5px,#afff50 78.5px,#9f6 80.5px,#9dff62 81.5px,#cf3 83.5px,#caff35 84.5px,#bf4 85.5px,#bf4 86.5px,#f2ff0d 88.5px,#ff0 89.5px,#fff300 91.5px,#ffd300 94.5px,#ffd000 98.5px,#ffd100 102.5px,#fffd00 107.5px,#fcff03 108.5px,#e7ff18 109.5px,#c7ff38 110.5px,#b7ff48 111.5px,#ceff31 113.5px,#c5ff3a 114.5px,#af5 115.5px,#98ff67 116.5px,#9dff62 117.5px,#acff53 118.5px,#acff53 119.5px,#81ff7e 121.5px,#7fff80 122.5px,#8cff73 123.5px,#8cff73 124.5px,#5fffa0 126.5px,#5bffa4 127.5px,#6aff95 129.5px,#38ffc7 132.5px,#3bffc4 134.5px,#25ffda 135.5px,#03fffc 136.5px,#00efff 137.5px,#02fffd 139.5px,#00f6ff 140.5px,#00cdff 142.5px,#00bfff 144.5px,#00acff 145.5px,#007eff 146.5px,#0059ff 147.5px,#004fff 148.5px,#0059ff 150.5px,#0000fa 153.5px,#0000ce 154.5px,#00008f 155.5px,#00008f 197.5px)"></i><i style="background:linear-gradient(#00008f 0.5px,#00008f 42.5px,#0000a0 43.5px,#0000c5 44.5px,#0000f4 45.5px,#0038ff 46.5px,#0063ff 47.5px,#008cff 49.5px,#00b8ff 52.5px,#0049ff 54.5px,#0054ff 55.5px,#009fff 56.5px,#00f4ff 57.5px,#09fff6 58.5px,#1fe 59.5px,#3cffc3 62.5px,#3dffc2 63.5px,#00feff 65.5px,#14ffeb 66.5px,#4cffb3 67.5px,#6aff95 68.5px,#65ff9a 69.5px,#69ff96 70.5px,#91ff6e 72.5px,#93ff6c 73.5px,#73ff8c 75.5px,#6fff90 76.5px,#a9ff56 78.5px,#9bff64 80.5px,#a8ff57 81.5px,#c4ff3b 82.5px,#d4ff2b 83.5px,#baff45 85.5px,#baff45 86.5px,#cdff32 87.5px,#eaff15 88.5px,#f7ff08 89.5px,#f6ff09 90.5px,#fff400 91.5px,#ffce00 92.5px,#ffb400 93.5px,#ffb600 94.5px,#ffdb00 96.5px,#ffe000 100.5px,#ffd600 101.5px,#ffb200 103.5px,#fb0 104.5px,#fd0 105.5px,#feff01 106.5px,#f4ff0b 108.5px,#c3ff3c 110.5px,#b7ff48 111.5px,#bfff40 112.5px,#d0ff2f 113.5px,#d1ff2e 114.5px,#9fff60 116.5px,#9dff62 117.5px,#abff54 118.5px,#9fff60 119.5px,#7cff83 120.5px,#6cff93 121.5px,#8cff73 123.5px,#95ff6a 124.5px,#8bff74 125.5px,#65ff9a 127.5px,#64ff9b 129.5px,#05fffa 131.5px,#06fff9 132.5px,#2cffd3 133.5px,#3effc1 134.5px,#38ffc7 135.5px,#19ffe6 137.5px,#06fff9 139.5px,#00d6ff 140.5px,#007cff 141.5px,#0047ff 142.5px,#0057ff 143.5px,#09f 144.5px,#00b4ff 145.5px,#0085ff 148.5px,#0058ff 150.5px,#001cff 151.5px,#0000df 152.5px,#00008f 154.5px,#00008f 197.5px)"></i><i style="background:linear-gradient(#00008f 0.5px,#00008f 44.5px,#0000bc 45.5px,#0020ff 46.5px,#0061ff 47.5px,#00bcff 49.5px,#00c9ff 50.5px,#00b7ff 52.5px,#001aff 53.5px,#00008f 54.5px,#00008f 55.5px,#0019ff 56.5px,#00e0ff 57.5px,#12ffed 58.5px,#5effa1 60.5px,#60ff9f 61.5px,#3cffc3 63.5px,#00c4ff 64.5px,#0038ff 65.5px,#0047ff 66.5px,#00efff 67.5px,#68ff97 68.5px,#6dff92 69.5px,#acff53 71.5px,#b2ff4d 72.5px,#85ff7a 74.5px,#34ffcb 75.5px,#00c6ff 76.5px,#00e9ff 77.5px,#7f8 78.5px,#a5ff5a 79.5px,#a1ff5e 80.5px,#e2ff1d 82.5px,#e5ff1a 83.5px,#b9ff46 85.5px,#90ff6f 86.5px,#56ffa9 87.5px,#86ff79 88.5px,#df2 89.5px,#ef1 90.5px,#fff500 91.5px,#ffb100 92.5px,#f70 93.5px,#ff6c00 94.5px,#ffa100 96.5px,#ffa900 97.5px,#ffa800 100.5px,#ff9800 101.5px,#ff7a00 102.5px,#ff6a00 103.5px,#ff8900 104.5px,#ffce00 105.5px,#f8ff07 106.5px,#edff12 107.5px,#c1ff3e 108.5px,#65ff9a 109.5px,#6f9 110.5px,#a8ff57 111.5px,#d8ff27 113.5px,#e9ff16 114.5px,#d6ff29 115.5px,#b0ff4f 116.5px,#9fff60 117.5px,#a3ff5c 118.5px,#41ffbe 119.5px,#00c5ff 120.5px,#00e9ff 121.5px,#61ff9e 122.5px,#8dff72 123.5px,#a6ff59 124.5px,#b3ff4c 125.5px,#a0ff5f 126.5px,#7cff83 127.5px,#6aff95 128.5px,#4bffb4 129.5px,#00a4ff 130.5px,#0029ff 131.5px,#0065ff 132.5px,#03fffc 133.5px,#41ffbe 134.5px,#64ff9b 136.5px,#54ffab 137.5px,#29ffd6 138.5px,#09fff6 139.5px,#0098ff 140.5px,#00c 141.5px,#00008f 142.5px,#0000b5 143.5px,#0062ff 144.5px,#00b9ff 145.5px,#00c8ff 147.5px,#00aeff 148.5px,#0052ff 150.5px,#0000f3 151.5px,#0000a1 152.5px,#00008f 153.5px,#00008f 197.5px)"></i><i style="background:linear-gradient(#00008f 0.5px,#00008f 44.5px,#0000a9 45.5px,#000cff 46.5px,#05f 47.5px,#00c4ff 49.5px,#00d5ff 50.5px,#00b9ff 52.5px,#0003ff 53.5px,#00008f 54.5px,#00008f 55.5px,#0000ed 56.5px,#00dbff 57.5px,#18ffe7 58.5px,#4fffb0 59.5px,#7bff84 60.5px,#7f8 61.5px,#53ffac 62.5px,#3dffc2 63.5px,#00a0ff 64.5px,#0000e0 65.5px,#0000eb 66.5px,#00c5ff 67.5px,#68ff97 68.5px,#72ff8d 69.5px,#c1ff3e 71.5px,#c1ff3e 72.5px,#86ff79 74.5px,#13ffec 75.5px,#0067ff 76.5px,#008dff 77.5px,#5bffa4 78.5px,#a6ff59 79.5px,#a5ff5a 80.5px,#efff10 82.5px,#ef1 83.5px,#ceff31 84.5px,#baff45 85.5px,#76ff89 86.5px,#08fff7 87.5px,#45ffba 88.5px,#cfff30 89.5px,#edff12 90.5px,#fff300 91.5px,#ff5400 93.5px,#ff3600 94.5px,#ff4c00 95.5px,#ff6d00 96.5px,#ff7c00 97.5px,#ff7900 100.5px,#ff6100 101.5px,#ff3f00 102.5px,#ff3b00 103.5px,#ff7000 104.5px,#ffc700 105.5px,#f8ff07 106.5px,#ebff14 107.5px,#a1ff5e 108.5px,#15ffea 109.5px,#29ffd6 110.5px,#9fff60 111.5px,#dcff23 113.5px,#f4ff0b 114.5px,#e4ff1b 115.5px,#b9ff46 116.5px,#a1ff5e 117.5px,#9fff60 118.5px,#0afff5 119.5px,#005dff 120.5px,#00a0ff 121.5px,#54ffab 122.5px,#8eff71 123.5px,#afff50 124.5px,#c6ff39 125.5px,#b5ff4a 126.5px,#87ff78 127.5px,#6cff93 128.5px,#40ffbf 129.5px,#0063ff 130.5px,#0000c7 131.5px,#0020ff 132.5px,#00f1ff 133.5px,#4fb 134.5px,#7fff80 136.5px,#6eff91 137.5px,#37ffc8 138.5px,#0cfff3 139.5px,#0084ff 140.5px,#000095 141.5px,#00008f 143.5px,#0057ff 144.5px,#00bcff 145.5px,#00d4ff 147.5px,#00b2ff 148.5px,#0042ff 150.5px,#0000e0 151.5px,#00008f 152.5px,#00008f 197.5px)"></i><i style="background:linear-gradient(#00008f 0.5px,#00008f 44.5px,#00009a 45.5px,#0000ef 46.5px,#0037ff 47.5px,#006bff 48.5px,#0096ff 49.5px,#00afff 50.5px,#00baff 52.5px,#0043ff 53.5px,#00c 54.5px,#0000c3 55.5px,#0042ff 56.5px,#00e9ff 57.5px,#13ffec 58.5px,#52ffad 60.5px,#58ffa7 61.5px,#3fffc0 63.5px,#0df 64.5px,#006eff 65.5px,#007fff 66.5px,#0bfff4 67.5px,#6bff94 68.5px,#6eff91 69.5px,#a3ff5c 71.5px,#acff53 72.5px,#8f7 74.5px,#49ffb6 75.5px,#00faff 76.5px,#1dffe2 77.5px,#8f7 78.5px,#a7ff58 79.5px,#a2ff5d 80.5px,#deff21 82.5px,#e3ff1c 83.5px,#bf4 85.5px,#81ff7e 87.5px,#a9ff56 88.5px,#e6ff19 89.5px,#efff10 90.5px,#fff400 91.5px,#ffb100 92.5px,#f70 93.5px,#ff6c00 94.5px,#ff9d00 96.5px,#ff9f00 97.5px,#ff9800 98.5px,#ffa100 100.5px,#ff9600 101.5px,#ff7900 102.5px,#ff6a00 103.5px,#ff8a00 104.5px,#ffce00 105.5px,#f9ff06 106.5px,#ef1 107.5px,#d3ff2c 108.5px,#90ff6f 109.5px,#89ff76 110.5px,#b0ff4f 111.5px,#e5ff1a 114.5px,#d2ff2d 115.5px,#afff50 116.5px,#a0ff5f 117.5px,#a7ff58 118.5px,#60ff9f 119.5px,#00feff 120.5px,#13ffec 121.5px,#6aff95 122.5px,#8fff70 123.5px,#a4ff5b 124.5px,#acff53 125.5px,#98ff67 126.5px,#79ff86 127.5px,#6cff93 128.5px,#5fa 129.5px,#00cdff 130.5px,#0065ff 131.5px,#0091ff 132.5px,#10ffef 133.5px,#4fb 134.5px,#59ffa6 136.5px,#48ffb7 137.5px,#25ffda 138.5px,#0cfff3 139.5px,#00acff 140.5px,#0003ff 141.5px,#0000b6 142.5px,#0000f1 143.5px,#007bff 144.5px,#00b9ff 145.5px,#00b5ff 146.5px,#00a8ff 147.5px,#0087ff 148.5px,#0020ff 150.5px,#0000ca 151.5px,#00008f 152.5px,#00008f 197.5px)"></i><i style="background:linear-gradient(#00008f 0.5px,#00008f 45.5px,#0000c6 46.5px,#000cff 47.5px,#0040ff 48.5px,#0065ff 49.5px,#00a5ff 51.5px,#0bf 52.5px,#008eff 54.5px,#009aff 55.5px,#0ff 57.5px,#0dfff2 58.5px,#1bffe4 60.5px,#3fffc0 62.5px,#42ffbd 63.5px,#26ffd9 65.5px,#3bffc4 66.5px,#5fffa0 67.5px,#6fff90 68.5px,#68ff97 70.5px,#91ff6e 72.5px,#96ff69 73.5px,#7eff81 75.5px,#86ff79 76.5px,#a0ff5f 77.5px,#b1ff4e 78.5px,#9dff62 80.5px,#a9ff56 81.5px,#c5ff3a 82.5px,#d5ff2a 83.5px,#bdff42 85.5px,#c2ff3d 86.5px,#f7ff08 88.5px,#f7ff08 90.5px,#fff200 91.5px,#ffc900 92.5px,#ffaf00 93.5px,#ffb400 94.5px,#ffda00 96.5px,#ffd200 98.5px,#ffdb00 100.5px,#ffd600 101.5px,#ffaf00 103.5px,#ffb600 104.5px,#fffe00 106.5px,#f7ff08 107.5px,#fbff04 108.5px,#ef1 109.5px,#d0ff2f 110.5px,#bcff43 111.5px,#c1ff3e 112.5px,#d2ff2d 113.5px,#d2ff2d 114.5px,#a1ff5e 116.5px,#a0ff5f 117.5px,#afff50 118.5px,#adff52 119.5px,#80ff7f 121.5px,#81ff7e 122.5px,#96ff69 124.5px,#6f9 127.5px,#6dff92 129.5px,#2fffd0 131.5px,#27ffd8 132.5px,#43ffbc 134.5px,#3affc5 135.5px,#15ffea 137.5px,#0bfff4 139.5px,#00edff 140.5px,#00b4ff 141.5px,#0090ff 142.5px,#0095ff 143.5px,#00b2ff 144.5px,#00b4ff 145.5px,#0057ff 148.5px,#002dff 149.5px,#0000f1 150.5px,#00a 151.5px,#00008f 152.5px,#00008f 197.5px)"></i><i style="background:linear-gradient(#00008f 0.5px,#00008f 45.5px,#00009c 46.5px,#0000d9 47.5px,#000aff 48.5px,#0053ff 50.5px,#00b6ff 52.5px,#00f4ff 56.5px,#06fff9 57.5px,#0ff 58.5px,#00e0ff 59.5px,#00d9ff 60.5px,#00fdff 61.5px,#31ffce 62.5px,#4fb 63.5px,#48ffb7 65.5px,#6dff92 67.5px,#71ff8e 68.5px,#5fa 70.5px,#5dffa2 71.5px,#7eff81 72.5px,#93ff6c 73.5px,#85ff7a 75.5px,#93ff6c 76.5px,#abff54 77.5px,#b6ff49 78.5px,#9dff62 80.5px,#9eff61 81.5px,#cfff30 83.5px,#ceff31 84.5px,#bfff40 85.5px,#c2ff3d 86.5px,#faff05 88.5px,#fffb00 89.5px,#fff900 90.5px,#ffce00 94.5px,#ffd600 96.5px,#ffd100 98.5px,#ffd700 100.5px,#ffce00 102.5px,#ffd000 103.5px,#fffb00 107.5px,#fffc00 108.5px,#f1ff0e 109.5px,#d1ff2e 110.5px,#bdff42 111.5px,#d2ff2d 113.5px,#c7ff38 114.5px,#abff54 115.5px,#9bff64 116.5px,#a2ff5d 117.5px,#b2ff4d 118.5px,#b5ff4a 119.5px,#8bff74 121.5px,#86ff79 122.5px,#91ff6e 123.5px,#8eff71 124.5px,#56ffa9 126.5px,#5affa5 127.5px,#6cff93 128.5px,#71ff8e 129.5px,#67ff98 130.5px,#4fb 132.5px,#42ffbd 134.5px,#1effe1 135.5px,#00eaff 136.5px,#00d6ff 137.5px,#00ecff 138.5px,#09fff6 139.5px,#0ff 140.5px,#00daff 142.5px,#00c1ff 144.5px,#00a7ff 145.5px,#0070ff 146.5px,#0043ff 147.5px,#0000f8 149.5px,#00008f 151.5px,#00008f 197.5px)"></i><i style="background:linear-gradient(#00008f 0.5px,#00008f 46.5px,#0000d7 48.5px,#0000f2 49.5px,#0016ff 50.5px,#005aff 51.5px,#00abff 52.5px,#00f0ff 54.5px,#09fff6 55.5px,#07fff8 57.5px,#00daff 58.5px,#0052ff 59.5px,#0008ff 60.5px,#0057ff 61.5px,#00fdff 62.5px,#45ffba 63.5px,#84ff7b 66.5px,#80ff7f 67.5px,#73ff8c 68.5px,#51ffae 69.5px,#00dfff 70.5px,#0af 71.5px,#0bfff4 72.5px,#82ff7d 73.5px,#94ff6b 75.5px,#c4ff3b 77.5px,#c2ff3d 78.5px,#afff50 79.5px,#93ff6c 80.5px,#47ffb8 81.5px,#2fffd0 82.5px,#8bff74 83.5px,#cf3 84.5px,#c3ff3c 85.5px,#c9ff36 86.5px,#fffa00 88.5px,#ffea00 90.5px,#fff500 91.5px,#daff25 92.5px,#d7ff28 93.5px,#ffe900 94.5px,#ffb700 95.5px,#ff7500 97.5px,#ff6000 98.5px,#f60 99.5px,#ff8300 100.5px,#ffc700 102.5px,#faff05 103.5px,#ceff31 104.5px,#edff12 105.5px,#ffeb00 106.5px,#fff100 108.5px,#faff05 109.5px,#d9ff26 110.5px,#c3ff3c 111.5px,#c9ff36 112.5px,#bfff40 113.5px,#5fffa0 114.5px,#29ffd6 115.5px,#a3ff5c 117.5px,#c6ff39 119.5px,#bdff42 120.5px,#8fff70 122.5px,#93ff6c 123.5px,#5cffa3 124.5px,#00d5ff 125.5px,#00aeff 126.5px,#0ffff0 127.5px,#6aff95 128.5px,#84ff7b 130.5px,#7fff80 131.5px,#4dffb2 133.5px,#3dffc2 134.5px,#0bf 135.5px,#0025ff 136.5px,#0016ff 137.5px,#01fffe 139.5px,#0dfff2 141.5px,#02fffd 142.5px,#00beff 144.5px,#0090ff 145.5px,#003aff 146.5px,#0006ff 147.5px,#0000e8 148.5px,#0000c9 149.5px,#00009d 150.5px,#00008f 151.5px,#00008f 197.5px)"></i><i style="background:linear-gradient(#00008f 0.5px,#00008f 46.5px,#000097 47.5px,#0002ff 50.5px,#0042ff 51.5px,#0096ff 52.5px,#00f4ff 54.5px,#14ffeb 55.5px,#12ffed 56.5px,#07fff8 57.5px,#00cbff 58.5px,#0014ff 59.5px,#0000a2 60.5px,#0000fe 61.5px,#00e1ff 62.5px,#46ffb9 63.5px,#62ff9d 64.5px,#8bff74 65.5px,#9bff64 66.5px,#75ff8a 68.5px,#4fb 69.5px,#008eff 70.5px,#002aff 71.5px,#00b4ff 72.5px,#74ff8b 73.5px,#93ff6c 74.5px,#9fff60 75.5px,#bcff43 76.5px,#d0ff2f 77.5px,#c8ff37 78.5px,#b3ff4c 79.5px,#8bff74 80.5px,#00f4ff 81.5px,#0af 82.5px,#46ffb9 83.5px,#caff35 84.5px,#ceff31 86.5px,#fffa00 88.5px,#ffdf00 90.5px,#fff900 91.5px,#98ff67 92.5px,#7dff82 93.5px,#efff10 94.5px,#ff9f00 95.5px,#ff4b00 96.5px,#f00000 97.5px,#b90000 98.5px,#c70000 99.5px,#ff1300 100.5px,#ffc600 102.5px,#baff45 103.5px,#73ff8c 104.5px,#c6ff39 105.5px,#ffe400 106.5px,#ffe200 107.5px,#ffef00 108.5px,#faff05 109.5px,#dcff23 110.5px,#c9ff36 111.5px,#cfff30 112.5px,#af5 113.5px,#00f6ff 114.5px,#00acff 115.5px,#39ffc6 116.5px,#a6ff59 117.5px,#ceff31 119.5px,#cbff34 120.5px,#97ff68 122.5px,#95ff6a 123.5px,#36ffc9 124.5px,#0065ff 125.5px,#0038ff 126.5px,#0df 127.5px,#6aff95 128.5px,#94ff6b 130.5px,#9f6 131.5px,#7cff83 132.5px,#54ffab 133.5px,#3bffc4 134.5px,#0086ff 135.5px,#0000bf 136.5px,#00b 137.5px,#0060ff 138.5px,#00fdff 139.5px,#0afff5 140.5px,#16ffe9 141.5px,#0cfff3 142.5px,#00e1ff 143.5px,#0078ff 145.5px,#0024ff 146.5px,#0000f1 147.5px,#00008f 150.5px,#00008f 197.5px)"></i><i style="background:linear-gradient(#00008f 0.5px,#00008f 47.5px,#0000ad 48.5px,#0000fa 50.5px,#0032ff 51.5px,#07f 52.5px,#00d0ff 54.5px,#0ef 55.5px,#00fbff 56.5px,#02fffd 57.5px,#00e0ff 58.5px,#0064ff 59.5px,#0014ff 60.5px,#0057ff 61.5px,#00fbff 62.5px,#47ffb8 63.5px,#72ff8d 65.5px,#7fff80 66.5px,#75ff8a 68.5px,#56ffa9 69.5px,#00e0ff 70.5px,#00a3ff 71.5px,#02fffd 72.5px,#81ff7e 73.5px,#96ff69 74.5px,#9f6 75.5px,#baff45 77.5px,#bfff40 78.5px,#b6ff49 79.5px,#9bff64 80.5px,#40ffbf 81.5px,#1bffe4 82.5px,#7dff82 83.5px,#d0ff2f 84.5px,#cf3 86.5px,#d7ff28 87.5px,#ef1 88.5px,#fff500 89.5px,#ffdb00 90.5px,#ffe800 91.5px,#c6ff39 92.5px,#a6ff59 93.5px,#ef1 94.5px,#ffb300 95.5px,#ff5400 96.5px,#ed0000 97.5px,#ae0000 98.5px,#bf0000 99.5px,#ff1500 100.5px,#ff7c00 101.5px,#ffd700 102.5px,#caff35 103.5px,#a5ff5a 104.5px,#e9ff16 105.5px,#ffd900 106.5px,#ffe400 107.5px,#feff01 108.5px,#d1ff2e 110.5px,#cf3 111.5px,#d4ff2b 112.5px,#bf4 113.5px,#4cffb3 114.5px,#19ffe6 115.5px,#68ff97 116.5px,#adff52 117.5px,#bf4 118.5px,#bfff40 119.5px,#96ff69 122.5px,#98ff67 123.5px,#58ffa7 124.5px,#00cdff 125.5px,#0af 126.5px,#13ffec 127.5px,#6fff90 128.5px,#7fff80 130.5px,#7cff83 131.5px,#3effc1 134.5px,#00baff 135.5px,#0029ff 136.5px,#0026ff 137.5px,#0098ff 138.5px,#01fffe 139.5px,#00f8ff 141.5px,#00e4ff 142.5px,#00c0ff 143.5px,#0094ff 144.5px,#005dff 145.5px,#001aff 146.5px,#0000e9 147.5px,#00009f 149.5px,#00008f 150.5px,#00008f 197.5px)"></i><i style="background:linear-gradient(#00008f 0.5px,#00008f 47.5px,#0000a3 48.5px,#0000ef 50.5px,#001fff 51.5px,#0083ff 53.5px,#00a6ff 54.5px,#00f9ff 57.5px,#01fffe 58.5px,#00e5ff 59.5px,#00d5ff 60.5px,#00f2ff 61.5px,#2bffd4 62.5px,#47ffb8 63.5px,#4bffb4 65.5px,#54ffab 66.5px,#73ff8c 68.5px,#6fff90 69.5px,#57ffa8 70.5px,#50ffaf 71.5px,#92ff6d 73.5px,#9f6 74.5px,#8dff72 76.5px,#afff50 78.5px,#b8ff47 79.5px,#aeff51 80.5px,#9aff65 81.5px,#9aff65 82.5px,#d3ff2c 84.5px,#d6ff29 85.5px,#c4ff3b 87.5px,#d0ff2f 88.5px,#f1ff0e 89.5px,#ffe300 90.5px,#ffd500 91.5px,#fff000 92.5px,#f3ff0c 93.5px,#f8ff07 94.5px,#ffe800 95.5px,#ff7d00 97.5px,#ff5a00 98.5px,#ff6400 99.5px,#ff9300 100.5px,#fc0 101.5px,#fff700 102.5px,#f2ff0d 103.5px,#fbff04 104.5px,#ffe300 105.5px,#ffd500 106.5px,#fff300 107.5px,#e2ff1d 108.5px,#c8ff37 109.5px,#c5ff3a 110.5px,#d8ff27 112.5px,#caff35 113.5px,#af5 114.5px,#96ff69 115.5px,#a1ff5e 116.5px,#b5ff4a 117.5px,#b7ff48 118.5px,#93ff6c 120.5px,#8cff73 121.5px,#9aff65 123.5px,#86ff79 124.5px,#5fffa0 125.5px,#4effb1 126.5px,#75ff8a 128.5px,#6fff90 129.5px,#4fffb0 131.5px,#42ffbd 134.5px,#15ffea 135.5px,#00e0ff 136.5px,#00d7ff 137.5px,#00f1ff 138.5px,#04fffb 139.5px,#00efff 140.5px,#09f 143.5px,#0072ff 144.5px,#000bff 146.5px,#0000df 147.5px,#000094 149.5px,#00008f 150.5px,#00008f 197.5px)"></i><i style="background:linear-gradient(#00008f 0.5px,#00008f 47.5px,#00009a 48.5px,#0000e3 50.5px,#000cff 51.5px,#0062ff 53.5px,#00a0ff 55.5px,#00ecff 57.5px,#06fff9 58.5px,#13ffec 60.5px,#20ffdf 61.5px,#47ffb8 63.5px,#39ffc6 65.5px,#3fffc0 66.5px,#72ff8d 68.5px,#7f8 69.5px,#6dff92 71.5px,#92ff6d 73.5px,#9bff64 74.5px,#85ff7a 76.5px,#8cff73 77.5px,#b8ff47 79.5px,#b6ff49 80.5px,#a4ff5b 82.5px,#d9ff26 85.5px,#c4ff3b 87.5px,#c2ff3d 88.5px,#d9ff26 89.5px,#fffb00 90.5px,#ffd800 91.5px,#ffd900 92.5px,#fff100 93.5px,#fcff03 94.5px,#f9ff06 95.5px,#fffc00 96.5px,#ffe600 98.5px,#ffe800 99.5px,#feff01 101.5px,#f9ff06 102.5px,#fffd00 103.5px,#ffd500 105.5px,#ffe300 106.5px,#f1ff0e 107.5px,#cdff32 108.5px,#c0ff3f 109.5px,#d7ff28 111.5px,#d6ff29 112.5px,#abff54 114.5px,#a4ff5b 115.5px,#b9ff46 117.5px,#b3ff4c 118.5px,#87ff78 120.5px,#89ff76 121.5px,#97ff68 122.5px,#9aff65 123.5px,#74ff8b 125.5px,#6cff93 126.5px,#7f8 128.5px,#6aff95 129.5px,#4dffb2 130.5px,#39ffc6 131.5px,#47ffb8 133.5px,#42ffbd 134.5px,#19ffe6 136.5px,#0dfff2 138.5px,#00feff 139.5px,#00b3ff 141.5px,#07f 143.5px,#0000fa 146.5px,#00008f 149.5px,#00008f 197.5px)"></i><i style="background:linear-gradient(#00008f 0.5px,#000091 48.5px,#00f 51.5px,#004aff 53.5px,#007cff 55.5px,#009dff 56.5px,#00d6ff 57.5px,#00fdff 58.5px,#19ffe6 59.5px,#2bffd4 60.5px,#37ffc8 62.5px,#4fb 63.5px,#1affe5 64.5px,#00d8ff 65.5px,#00d8ff 66.5px,#28ffd7 67.5px,#6eff91 68.5px,#7dff82 69.5px,#86ff79 72.5px,#9cff63 74.5px,#7cff83 75.5px,#41ffbe 76.5px,#45ffba 77.5px,#8f7 78.5px,#b4ff4b 79.5px,#beff41 80.5px,#b2ff4d 83.5px,#d4ff2b 85.5px,#c7ff38 86.5px,#9f6 87.5px,#95ff6a 88.5px,#e4ff1b 90.5px,#ffef00 91.5px,#ffd100 92.5px,#ffd300 93.5px,#fffa00 95.5px,#fcff03 96.5px,#d2ff2d 98.5px,#daff25 99.5px,#f4ff0b 100.5px,#ff0 101.5px,#fff400 102.5px,#ffcf00 104.5px,#ffd900 105.5px,#fdff02 106.5px,#acff53 108.5px,#8fff70 109.5px,#abff54 110.5px,#d3ff2c 111.5px,#cdff32 112.5px,#baff45 113.5px,#b1ff4e 114.5px,#beff41 116.5px,#bcff43 117.5px,#a9ff56 118.5px,#6bff94 119.5px,#38ffc7 120.5px,#56ffa9 121.5px,#90ff6f 122.5px,#98ff67 123.5px,#84ff7b 125.5px,#82ff7d 127.5px,#78ff87 128.5px,#59ffa6 129.5px,#03fffc 130.5px,#00cdff 131.5px,#00efff 132.5px,#3fc 133.5px,#3fffc0 134.5px,#25ffda 137.5px,#0ffff0 138.5px,#00f0ff 139.5px,#008dff 141.5px,#005cff 143.5px,#0017ff 145.5px,#0000f0 146.5px,#0000a8 148.5px,#00008f 149.5px,#00008f 197.5px)"></i><i style="background:linear-gradient(#00008f 0.5px,#00008f 48.5px,#0000f7 51.5px,#001cff 52.5px,#005dff 54.5px,#0092ff 56.5px,#00edff 58.5px,#15ffea 59.5px,#31ffce 60.5px,#35ffca 62.5px,#41ffbe 63.5px,#07fff8 64.5px,#0af 65.5px,#00a3ff 66.5px,#09fff6 67.5px,#69ff96 68.5px,#80ff7f 69.5px,#91ff6e 70.5px,#8cff73 73.5px,#9f6 74.5px,#6bff94 75.5px,#0afff5 76.5px,#08fff7 77.5px,#6dff92 78.5px,#acff53 79.5px,#c1ff3e 80.5px,#caff35 81.5px,#b3ff4c 83.5px,#b5ff4a 84.5px,#c9ff36 85.5px,#b1ff4e 86.5px,#6f9 87.5px,#6aff95 88.5px,#afff50 89.5px,#ebff14 91.5px,#ffe800 92.5px,#ffcf00 93.5px,#ffd300 94.5px,#fe0 96.5px,#e7ff18 97.5px,#adff52 98.5px,#bfff40 99.5px,#feff01 100.5px,#ffea00 101.5px,#ffcf00 103.5px,#ffd500 104.5px,#fff800 105.5px,#dcff23 106.5px,#c6ff39 107.5px,#95ff6a 108.5px,#5affa5 109.5px,#82ff7d 110.5px,#c6ff39 111.5px,#b2ff4d 113.5px,#c6ff39 115.5px,#c9ff36 116.5px,#b9ff46 117.5px,#9dff62 118.5px,#41ffbe 119.5px,#00f6ff 120.5px,#2dffd2 121.5px,#8aff75 122.5px,#94ff6b 123.5px,#89ff76 124.5px,#94ff6b 126.5px,#8cff73 127.5px,#78ff87 128.5px,#4dffb2 129.5px,#00d8ff 130.5px,#0096ff 131.5px,#00cbff 132.5px,#29ffd6 133.5px,#3bffc4 134.5px,#35ffca 135.5px,#38ffc7 136.5px,#28ffd7 137.5px,#06fff9 138.5px,#00deff 139.5px,#00acff 140.5px,#0085ff 141.5px,#0051ff 143.5px,#000eff 145.5px,#0000e9 146.5px,#00009f 148.5px,#00008f 149.5px,#00008f 197.5px)"></i><i style="background:linear-gradient(#00008f 0.5px,#00008f 48.5px,#0000a5 49.5px,#0000f1 51.5px,#0016ff 52.5px,#0059ff 54.5px,#0092ff 56.5px,#00fdff 59.5px,#18ffe7 60.5px,#2affd5 62.5px,#3dffc2 63.5px,#24ffdb 64.5px,#00edff 65.5px,#00e5ff 66.5px,#24ffdb 67.5px,#65ff9a 68.5px,#7dff82 69.5px,#8cff73 70.5px,#80ff7f 72.5px,#83ff7c 73.5px,#95ff6a 74.5px,#83ff7c 75.5px,#4cffb3 76.5px,#4fb 77.5px,#79ff86 78.5px,#a3ff5c 79.5px,#bf4 80.5px,#caff35 81.5px,#acff53 84.5px,#baff45 85.5px,#b9ff46 86.5px,#9cff63 87.5px,#a3ff5c 88.5px,#c5ff3a 89.5px,#d0ff2f 91.5px,#fff800 93.5px,#ffe600 94.5px,#ffe000 96.5px,#fff600 97.5px,#e5ff1a 98.5px,#f0ff0f 99.5px,#ffe900 100.5px,#ffdf00 101.5px,#ffeb00 103.5px,#fbff04 104.5px,#deff21 105.5px,#cbff34 106.5px,#cbff34 107.5px,#b9ff46 108.5px,#9aff65 109.5px,#a7ff58 110.5px,#bfff40 111.5px,#acff53 113.5px,#c8ff37 115.5px,#c6ff39 116.5px,#96ff69 118.5px,#61ff9e 119.5px,#3dffc2 120.5px,#61ff9e 121.5px,#92ff6d 122.5px,#80ff7f 124.5px,#8dff72 126.5px,#8f7 127.5px,#74ff8b 128.5px,#50ffaf 129.5px,#06fff9 130.5px,#00dfff 131.5px,#02fffd 132.5px,#35ffca 133.5px,#35ffca 134.5px,#26ffd9 135.5px,#21ffde 136.5px,#0ffff0 137.5px,#00efff 138.5px,#00a6ff 140.5px,#004cff 143.5px,#0007ff 145.5px,#0000e3 146.5px,#000094 148.5px,#00008f 149.5px,#00008f 197.5px)"></i><i style="background:linear-gradient(#00008f 0.5px,#00008f 48.5px,#009 49.5px,#0000ea 51.5px,#000fff 52.5px,#0075ff 55.5px,#00e7ff 59.5px,#00feff 60.5px,#0efff1 61.5px,#1effe1 62.5px,#37ffc8 63.5px,#4fb 64.5px,#3bffc4 66.5px,#48ffb7 67.5px,#7f8 69.5px,#83ff7c 70.5px,#76ff89 72.5px,#7bff84 73.5px,#9dff62 75.5px,#8eff71 77.5px,#8eff71 78.5px,#9f6 79.5px,#c1ff3e 81.5px,#c3ff3c 82.5px,#abff54 84.5px,#aeff51 85.5px,#daff25 88.5px,#deff21 89.5px,#cfff30 92.5px,#fffa00 96.5px,#fff400 99.5px,#fffe00 101.5px,#d4ff2b 104.5px,#ceff31 105.5px,#deff21 108.5px,#abff54 112.5px,#aeff51 113.5px,#c5ff3a 115.5px,#bcff43 116.5px,#93ff6c 118.5px,#8cff73 119.5px,#9cff63 121.5px,#9f6 122.5px,#7f8 124.5px,#82ff7d 126.5px,#81ff7e 127.5px,#41ffbe 130.5px,#3bffc4 131.5px,#41ffbe 133.5px,#17ffe8 135.5px,#08fff7 136.5px,#00f6ff 137.5px,#0068ff 142.5px,#0001ff 145.5px,#00008f 148.5px,#00008f 197.5px)"></i><i style="background:linear-gradient(#00008f 0.5px,#00008f 49.5px,#0000e2 51.5px,#0008ff 52.5px,#0090ff 56.5px,#0df 59.5px,#00f3ff 60.5px,#05fffa 61.5px,#47ffb8 64.5px,#54ffab 65.5px,#52ffad 67.5px,#5cffa3 68.5px,#81ff7e 70.5px,#7f8 73.5px,#9cff63 75.5px,#a7ff58 76.5px,#96ff69 78.5px,#94ff6b 79.5px,#c4ff3b 82.5px,#c1ff3e 83.5px,#adff52 85.5px,#b1ff4e 86.5px,#e0ff1f 89.5px,#e3ff1c 90.5px,#d1ff2e 93.5px,#e2ff1d 98.5px,#d0ff2f 103.5px,#e3ff1c 107.5px,#dcff23 108.5px,#aeff51 111.5px,#afff50 112.5px,#c4ff3b 114.5px,#c1ff3e 115.5px,#9cff63 117.5px,#93ff6c 118.5px,#a5ff5a 120.5px,#a4ff5b 121.5px,#7fff80 123.5px,#76ff89 124.5px,#83ff7c 126.5px,#7cff83 127.5px,#56ffa9 129.5px,#51ffae 132.5px,#0ffff0 135.5px,#00fdff 136.5px,#00d3ff 138.5px,#0084ff 141.5px,#001eff 144.5px,#0000f8 145.5px,#0000a6 147.5px,#00008f 148.5px,#00008f 197.5px)"></i><i style="background:linear-gradient(#00008f 0.5px,#00008f 49.5px,#0000a9 50.5px,#00f 52.5px,#004bff 54.5px,#0af 57.5px,#00d8ff 59.5px,#00fdff 61.5px,#12ffed 62.5px,#56ffa9 65.5px,#5cffa3 66.5px,#5affa5 68.5px,#74ff8b 70.5px,#7f8 73.5px,#80ff7f 74.5px,#a8ff57 76.5px,#acff53 77.5px,#96ff69 79.5px,#9f6 80.5px,#c2ff3d 83.5px,#c2ff3d 84.5px,#b1ff4e 86.5px,#b5ff4a 87.5px,#dfff20 90.5px,#e4ff1b 91.5px,#d8ff27 93.5px,#d5ff2a 97.5px,#d8ff27 103.5px,#e3ff1c 106.5px,#b2ff4d 110.5px,#b2ff4d 111.5px,#c4ff3b 113.5px,#bdff42 114.5px,#9fff60 116.5px,#97ff68 117.5px,#9f6 118.5px,#adff52 120.5px,#a2ff5d 121.5px,#7bff84 123.5px,#71ff8e 127.5px,#57ffa8 129.5px,#5bffa4 131.5px,#50ffaf 132.5px,#09fff6 135.5px,#00f6ff 136.5px,#00cfff 138.5px,#009fff 140.5px,#0060ff 142.5px,#0017ff 144.5px,#0000ef 145.5px,#000096 147.5px,#00008f 148.5px,#00008f 197.5px)"></i><i style="background:linear-gradient(#00008f 0.5px,#00008f 49.5px,#000098 50.5px,#0000f4 52.5px,#001dff 53.5px,#008aff 56.5px,#00c2ff 58.5px,#00feff 61.5px,#12ffed 62.5px,#53ffac 65.5px,#5fffa0 66.5px,#5cffa3 68.5px,#7eff81 74.5px,#b0ff4f 77.5px,#91ff6e 81.5px,#9bff64 82.5px,#b7ff48 83.5px,#c9ff36 84.5px,#b6ff49 87.5px,#b7ff48 88.5px,#d6ff29 91.5px,#d2ff2d 93.5px,#e7ff18 95.5px,#e7ff18 101.5px,#e5ff1a 102.5px,#d1ff2e 104.5px,#d3ff2c 106.5px,#baff45 108.5px,#b6ff49 109.5px,#c8ff37 112.5px,#c5ff3a 113.5px,#94ff6b 115.5px,#93ff6c 116.5px,#afff50 119.5px,#adff52 120.5px,#85ff7a 122.5px,#7dff82 123.5px,#60ff9f 128.5px,#5dffa2 131.5px,#0afff5 135.5px,#00f7ff 136.5px,#00cfff 138.5px,#009dff 140.5px,#000dff 144.5px,#0000e3 145.5px,#00008f 147.5px,#00008f 197.5px)"></i><i style="background:linear-gradient(#00008f 0.5px,#00008f 50.5px,#0000e7 52.5px,#0012ff 53.5px,#0084ff 56.5px,#00c2ff 58.5px,#02fffd 61.5px,#5effa1 66.5px,#65ff9a 69.5px,#82ff7d 72.5px,#86ff79 75.5px,#af5 77.5px,#b1ff4e 78.5px,#94ff6b 81.5px,#98ff67 82.5px,#c6ff39 84.5px,#cdff32 85.5px,#b6ff49 89.5px,#cbff34 93.5px,#e4ff1b 95.5px,#ebff14 99.5px,#e1ff1e 102.5px,#c7ff38 104.5px,#b7ff48 107.5px,#b7ff48 108.5px,#cdff32 111.5px,#cf3 112.5px,#beff41 113.5px,#a4ff5b 114.5px,#93ff6c 115.5px,#98ff67 116.5px,#afff50 118.5px,#b0ff4f 119.5px,#82ff7d 122.5px,#86ff79 124.5px,#68ff97 127.5px,#62ff9d 130.5px,#59ffa6 131.5px,#30ffcf 133.5px,#00f9ff 136.5px,#00d0ff 138.5px,#09f 140.5px,#0002ff 144.5px,#0000a3 146.5px,#00008f 147.5px,#00008f 197.5px)"></i><i style="background:linear-gradient(#00008f 0.5px,#00008f 50.5px,#0000a4 51.5px,#0000d6 52.5px,#0006ff 53.5px,#00a0ff 57.5px,#00d9ff 59.5px,#04fffb 61.5px,#5dffa2 66.5px,#67ff98 67.5px,#70ff8f 70.5px,#8bff74 72.5px,#8fff70 73.5px,#86ff79 75.5px,#8eff71 76.5px,#afff50 78.5px,#b4ff4b 79.5px,#9fff60 82.5px,#a8ff57 83.5px,#c8ff37 85.5px,#d0ff2f 86.5px,#d0ff2f 87.5px,#b8ff47 91.5px,#d3ff2c 96.5px,#d8ff27 98.5px,#d5ff2a 100.5px,#bdff42 104.5px,#b8ff47 106.5px,#d1ff2e 110.5px,#ceff31 111.5px,#a3ff5c 114.5px,#9fff60 115.5px,#b2ff4d 117.5px,#b4ff4b 118.5px,#89ff76 121.5px,#8fff70 124.5px,#6dff92 127.5px,#64ff9b 130.5px,#00fbff 136.5px,#00d0ff 138.5px,#00b3ff 139.5px,#0093ff 140.5px,#001fff 143.5px,#0000f3 144.5px,#00008f 146.5px,#00008f 197.5px)"></i><i style="background:linear-gradient(#00008f 0.5px,#00008f 51.5px,#0000f5 53.5px,#02f 54.5px,#0073ff 56.5px,#0bf 58.5px,#00efff 60.5px,#04fffb 61.5px,#69ff96 67.5px,#75ff8a 70.5px,#92ff6d 73.5px,#8dff72 76.5px,#b5ff4a 79.5px,#b9ff46 80.5px,#a5ff5a 83.5px,#abff54 84.5px,#d1ff2e 87.5px,#d4ff2b 88.5px,#bcff43 93.5px,#c1ff3e 97.5px,#bdff42 104.5px,#d4ff2b 109.5px,#ceff31 110.5px,#a8ff57 113.5px,#a6ff59 114.5px,#b9ff46 117.5px,#b1ff4e 118.5px,#92ff6d 120.5px,#8dff72 121.5px,#94ff6b 123.5px,#79ff86 126.5px,#6dff92 129.5px,#65ff9a 130.5px,#00fbff 136.5px,#00cdff 138.5px,#00aeff 139.5px,#0064ff 141.5px,#01f 143.5px,#0000e1 144.5px,#0000ae 145.5px,#00008f 146.5px,#00008f 197.5px)"></i><i style="background:linear-gradient(#00008f 0.5px,#00008f 51.5px,#0000ad 52.5px,#0000e2 53.5px,#0013ff 54.5px,#0068ff 56.5px,#00b4ff 58.5px,#00edff 60.5px,#04fffb 61.5px,#2affd5 63.5px,#6aff95 67.5px,#7fff80 71.5px,#98ff67 74.5px,#97ff68 77.5px,#bcff43 80.5px,#bfff40 81.5px,#abff54 84.5px,#aeff51 85.5px,#d7ff28 89.5px,#d5ff2a 91.5px,#c4ff3b 95.5px,#c0ff3f 99.5px,#d8ff27 107.5px,#d4ff2b 108.5px,#acff53 112.5px,#acff53 113.5px,#bfff40 116.5px,#95ff6a 120.5px,#96ff69 123.5px,#83ff7c 125.5px,#70ff8f 129.5px,#65ff9a 130.5px,#10ffef 135.5px,#00faff 136.5px,#00e4ff 137.5px,#00a6ff 139.5px,#00f 143.5px,#000098 145.5px,#00008f 146.5px,#00008f 197.5px)"></i><i style="background:linear-gradient(#00008f 0.5px,#00008f 51.5px,#000096 52.5px,#0001ff 54.5px,#005aff 56.5px,#0af 58.5px,#00eaff 60.5px,#02fffd 61.5px,#3bffc4 64.5px,#75ff8a 68.5px,#89ff76 72.5px,#a0ff5f 75.5px,#a4ff5b 78.5px,#c4ff3b 81.5px,#c6ff39 82.5px,#b2ff4d 86.5px,#daff25 91.5px,#dcff23 93.5px,#d1ff2e 98.5px,#dcff23 104.5px,#d8ff27 106.5px,#b4ff4b 110.5px,#b5ff4a 112.5px,#c6ff39 115.5px,#c1ff3e 116.5px,#a1ff5e 119.5px,#9eff61 122.5px,#86ff79 125.5px,#79ff86 128.5px,#5fa 131.5px,#0ffff0 135.5px,#00f8ff 136.5px,#00c0ff 138.5px,#0073ff 140.5px,#001dff 142.5px,#0000ec 143.5px,#0000b7 144.5px,#00008f 145.5px,#00008f 197.5px)"></i><i style="background:linear-gradient(#00008f 0.5px,#00008f 52.5px,#0000b5 53.5px,#0000eb 54.5px,#001eff 55.5px,#009fff 58.5px,#00e4ff 60.5px,#00feff 61.5px,#14ffeb 62.5px,#4bffb4 65.5px,#75ff8a 68.5px,#a9ff56 76.5px,#b5ff4a 79.5px,#cf3 82.5px,#cf3 84.5px,#b9ff46 87.5px,#dcff23 94.5px,#deff21 101.5px,#d7ff28 104.5px,#b9ff46 109.5px,#ceff31 113.5px,#ceff31 114.5px,#b2ff4d 118.5px,#a7ff58 121.5px,#81ff7e 127.5px,#63ff9c 130.5px,#3fc 133.5px,#0cfff3 135.5px,#00f4ff 136.5px,#00d8ff 137.5px,#008fff 139.5px,#000bff 142.5px,#0000d6 143.5px,#00009e 144.5px,#00008f 145.5px,#00008f 197.5px)"></i><i style="background:linear-gradient(#00008f 0.5px,#00008f 52.5px,#00009b 53.5px,#0000d3 54.5px,#000aff 55.5px,#06f 57.5px,#00b8ff 59.5px,#00f8ff 61.5px,#10ffef 62.5px,#49ffb6 65.5px,#75ff8a 68.5px,#cdff32 81.5px,#d8ff27 85.5px,#c7ff38 88.5px,#c3ff3c 90.5px,#d5ff2a 99.5px,#c3ff3c 107.5px,#d9ff26 112.5px,#cbff34 116.5px,#7bff84 128.5px,#43ffbc 132.5px,#08fff7 135.5px,#0ef 136.5px,#00a9ff 138.5px,#0027ff 141.5px,#0000f4 142.5px,#0000bd 143.5px,#00008f 144.5px,#00008f 197.5px)"></i><i style="background:linear-gradient(#00008f 0.5px,#00008f 53.5px,#0000b9 54.5px,#0000f2 55.5px,#0026ff 56.5px,#0080ff 58.5px,#00d0ff 60.5px,#00f1ff 61.5px,#0bfff4 62.5px,#57ffa8 66.5px,#7eff81 69.5px,#a6ff59 75.5px,#daff25 81.5px,#e3ff1c 86.5px,#c8ff37 93.5px,#c7ff38 102.5px,#cbff34 105.5px,#e3ff1c 111.5px,#d8ff27 116.5px,#a3ff5c 122.5px,#7aff85 128.5px,#40ffbf 132.5px,#02fffd 135.5px,#00e4ff 136.5px,#009aff 138.5px,#0012ff 141.5px,#0000db 142.5px,#0000a3 143.5px,#00008f 144.5px,#00008f 197.5px)"></i><i style="background:linear-gradient(#00008f 0.5px,#00008f 53.5px,#00009e 54.5px,#0000d8 55.5px,#0010ff 56.5px,#006eff 58.5px,#00c3ff 60.5px,#00e6ff 61.5px,#04fffb 62.5px,#42ffbd 65.5px,#7dff82 69.5px,#b1ff4e 76.5px,#e4ff1b 81.5px,#eaff15 88.5px,#cf3 96.5px,#caff35 99.5px,#ebff14 110.5px,#e2ff1d 116.5px,#b6ff49 120.5px,#83ff7c 127.5px,#4dffb2 131.5px,#12ffed 134.5px,#00f8ff 135.5px,#00b3ff 137.5px,#002eff 140.5px,#0000f9 141.5px,#00008f 143.5px,#00008f 197.5px)"></i><i style="background:linear-gradient(#00008f 0.5px,#00008f 54.5px,#0000bc 55.5px,#0000f6 56.5px,#002bff 57.5px,#08f 59.5px,#00d9ff 61.5px,#00f9ff 62.5px,#14ffeb 63.5px,#4fffb0 66.5px,#7aff85 69.5px,#c5ff3a 78.5px,#ebff14 81.5px,#f0ff0f 82.5px,#ef1 90.5px,#d6ff29 98.5px,#d7ff28 100.5px,#efff10 107.5px,#f0ff0f 114.5px,#e7ff18 116.5px,#c1ff3e 119.5px,#81ff7e 127.5px,#59ffa6 130.5px,#0afff5 134.5px,#00edff 135.5px,#00a2ff 137.5px,#0017ff 140.5px,#0000df 141.5px,#0000a4 142.5px,#00008f 143.5px,#00008f 197.5px)"></i><i style="background:linear-gradient(#00008f 0.5px,#00008f 54.5px,#00009f 55.5px,#0000da 56.5px,#0013ff 57.5px,#0074ff 59.5px,#00caff 61.5px,#00edff 62.5px,#0afff5 63.5px,#49ffb6 66.5px,#83ff7c 70.5px,#c7ff38 78.5px,#f6ff09 82.5px,#f1ff0e 90.5px,#dbff24 98.5px,#f2ff0d 107.5px,#f6ff09 114.5px,#f4ff0b 115.5px,#c3ff3c 119.5px,#94ff6b 125.5px,#7eff81 127.5px,#42ffbd 131.5px,#0ff 134.5px,#00baff 136.5px,#0000fc 140.5px,#00008f 142.5px,#00008f 197.5px)"></i><i style="background:linear-gradient(#00008f 0.5px,#00008f 55.5px,#0000bc 56.5px,#0000f7 57.5px,#002eff 58.5px,#008cff 60.5px,#00deff 62.5px,#00feff 63.5px,#18ffe7 64.5px,#53ffac 67.5px,#8cff73 71.5px,#caff35 78.5px,#faff05 82.5px,#f4ff0b 90.5px,#e0ff1f 96.5px,#deff21 99.5px,#f5ff0a 107.5px,#fbff04 114.5px,#f7ff08 115.5px,#c6ff39 119.5px,#87ff78 126.5px,#4dffb2 130.5px,#0ffff0 133.5px,#00f2ff 134.5px,#00a7ff 136.5px,#0019ff 139.5px,#0000e0 140.5px,#0000a4 141.5px,#00008f 142.5px,#00008f 197.5px)"></i><i style="background:linear-gradient(#00008f 0.5px,#00008f 55.5px,#00009e 56.5px,#0000da 57.5px,#0013ff 58.5px,#0075ff 60.5px,#00cdff 62.5px,#00f1ff 63.5px,#0efff1 64.5px,#4dffb2 67.5px,#8f7 71.5px,#cfff30 78.5px,#feff01 82.5px,#f9ff06 89.5px,#e8ff17 95.5px,#e5ff1a 99.5px,#f8ff07 107.5px,#fffe00 114.5px,#fcff03 115.5px,#cbff34 119.5px,#90ff6f 125.5px,#57ffa8 129.5px,#32ffcd 131.5px,#03fffc 133.5px,#00e3ff 134.5px,#0091ff 136.5px,#0000fc 139.5px,#00008f 141.5px,#00008f 197.5px)"></i><i style="background:linear-gradient(#00008f 0.5px,#00008f 56.5px,#00b 57.5px,#0000f6 58.5px,#002dff 59.5px,#00b9ff 62.5px,#00e1ff 63.5px,#02fffd 64.5px,#45ffba 67.5px,#76ff89 70.5px,#9fff60 73.5px,#d5ff2a 78.5px,#fcff03 81.5px,#fff900 83.5px,#ff0 86.5px,#f0ff0f 94.5px,#efff10 102.5px,#fcff03 108.5px,#fff900 114.5px,#fffd00 115.5px,#f8ff07 116.5px,#d0ff2f 119.5px,#8dff72 125.5px,#50ffaf 129.5px,#1fe 132.5px,#00f5ff 133.5px,#00a8ff 135.5px,#0018ff 138.5px,#0000df 139.5px,#0000a3 140.5px,#00008f 141.5px,#00008f 197.5px)"></i><i style="background:linear-gradient(#00008f 0.5px,#00008f 56.5px,#00009e 57.5px,#0000d9 58.5px,#0012ff 59.5px,#0075ff 61.5px,#00ceff 63.5px,#00f3ff 64.5px,#10ffef 65.5px,#50ffaf 68.5px,#8fff70 72.5px,#f7ff08 80.5px,#fffb00 81.5px,#fff400 83.5px,#fffd00 87.5px,#f5ff0a 94.5px,#fbff04 98.5px,#f5ff0a 103.5px,#ff0 108.5px,#fff300 114.5px,#ff0 116.5px,#a5ff5a 123.5px,#6aff95 127.5px,#49ffb6 129.5px,#06fff9 132.5px,#00e5ff 133.5px,#0092ff 135.5px,#0000fc 138.5px,#00008f 140.5px,#00008f 197.5px)"></i><i style="background:linear-gradient(#00008f 0.5px,#00008f 57.5px,#0000bd 58.5px,#0000f7 59.5px,#002dff 60.5px,#0bf 63.5px,#00e3ff 64.5px,#04fffb 65.5px,#35ffca 67.5px,#6bff94 70.5px,#9bff64 73.5px,#fdff02 80.5px,#fe0 82.5px,#feff01 90.5px,#f8ff07 94.5px,#ff0 100.5px,#f8ff07 104.5px,#ff0 107.5px,#ffed00 114.5px,#fff900 116.5px,#f8ff07 117.5px,#a4ff5b 123.5px,#41ffbe 129.5px,#14ffeb 131.5px,#00f7ff 132.5px,#00a9ff 134.5px,#0018ff 137.5px,#0000e0 138.5px,#0000a5 139.5px,#00008f 140.5px,#00008f 197.5px)"></i><i style="background:linear-gradient(#00008f 0.5px,#00008f 57.5px,#0000a2 58.5px,#00d 59.5px,#0015ff 60.5px,#0078ff 62.5px,#00d1ff 64.5px,#00f6ff 65.5px,#14ffeb 66.5px,#41ffbe 68.5px,#98ff67 73.5px,#fffc00 80.5px,#ffe800 82.5px,#ffe900 84.5px,#fdff02 91.5px,#f8ff07 93.5px,#fff900 98.5px,#f8ff07 103.5px,#feff01 106.5px,#ffe700 114.5px,#fff400 116.5px,#fcff03 117.5px,#a2ff5d 123.5px,#39ffc6 129.5px,#09fff6 131.5px,#00e8ff 132.5px,#0095ff 134.5px,#00f 137.5px,#00008f 139.5px,#00008f 197.5px)"></i><i style="background:linear-gradient(#00008f 0.5px,#00008f 58.5px,#0000fd 60.5px,#00beff 64.5px,#00e5ff 65.5px,#07fff8 66.5px,#4cffb3 69.5px,#b8ff47 75.5px,#f6ff09 79.5px,#fff800 80.5px,#ffe300 82.5px,#ffe200 83.5px,#feff01 91.5px,#f8ff07 93.5px,#fffe00 97.5px,#f8ff07 103.5px,#fcff03 105.5px,#ffe400 112.5px,#ffe200 114.5px,#ffe600 115.5px,#fffe00 117.5px,#c3ff3c 121.5px,#57ffa8 127.5px,#00faff 131.5px,#00adff 133.5px,#001eff 136.5px,#0000e7 137.5px,#0000ac 138.5px,#00008f 139.5px,#00008f 197.5px)"></i><i style="background:linear-gradient(#00008f 0.5px,#00008f 58.5px,#0000ac 59.5px,#0000e7 60.5px,#001eff 61.5px,#007eff 63.5px,#00d3ff 65.5px,#00f6ff 66.5px,#13ffec 67.5px,#42ffbd 69.5px,#cf3 76.5px,#faff05 79.5px,#fff500 80.5px,#ffdf00 82.5px,#ffdc00 84.5px,#ffe100 86.5px,#fffe00 91.5px,#f6ff09 94.5px,#f6ff09 103.5px,#fcff03 105.5px,#ffe400 110.5px,#ffdc00 113.5px,#ffe300 115.5px,#fffb00 117.5px,#e7ff18 119.5px,#c4ff3b 121.5px,#3affc5 128.5px,#08fff7 130.5px,#00e8ff 131.5px,#09f 133.5px,#0009ff 136.5px,#0000d0 137.5px,#000093 138.5px,#00008f 139.5px,#00008f 197.5px)"></i><i style="background:linear-gradient(#00008f 0.5px,#00008f 58.5px,#000093 59.5px,#0000d0 60.5px,#0009ff 61.5px,#0097ff 64.5px,#00e4ff 66.5px,#04fffb 67.5px,#4effb1 70.5px,#cdff32 76.5px,#feff01 79.5px,#ffdc00 82.5px,#ffd500 84.5px,#ffde00 87.5px,#faff05 92.5px,#efff10 96.5px,#efff10 100.5px,#fdff02 105.5px,#ffe200 109.5px,#ffd500 112.5px,#ffd800 114.5px,#fff700 117.5px,#f9ff06 118.5px,#d9ff26 120.5px,#45ffba 127.5px,#15ffea 129.5px,#00f7ff 130.5px,#00b0ff 132.5px,#0029ff 135.5px,#0000f2 136.5px,#0000b8 137.5px,#00008f 138.5px,#00008f 197.5px)"></i><i style="background:linear-gradient(#00008f 0.5px,#00008f 59.5px,#0000b8 60.5px,#0000f3 61.5px,#0029ff 62.5px,#0084ff 64.5px,#00d2ff 66.5px,#00f3ff 67.5px,#1fe 68.5px,#4fb 70.5px,#e4ff1b 77.5px,#f6ff09 78.5px,#fffb00 79.5px,#ffd900 82.5px,#ffce00 85.5px,#ffd500 87.5px,#fbff04 92.5px,#e1ff1e 98.5px,#e7ff18 101.5px,#feff01 105.5px,#ffe200 108.5px,#ffce00 111.5px,#ffd400 114.5px,#fff400 117.5px,#fdff02 118.5px,#dcff23 120.5px,#3bffc4 127.5px,#06fff9 129.5px,#00e6ff 130.5px,#009dff 132.5px,#0015ff 135.5px,#0000dc 136.5px,#0000a0 137.5px,#00008f 138.5px,#00008f 197.5px)"></i><i style="background:linear-gradient(#00008f 0.5px,#00008f 59.5px,#0000a0 60.5px,#0000dc 61.5px,#0014ff 62.5px,#0045ff 63.5px,#009aff 65.5px,#00e3ff 67.5px,#04fffb 68.5px,#3bffc4 70.5px,#e5ff1a 77.5px,#f9ff06 78.5px,#fff700 79.5px,#ffd500 82.5px,#ffc600 85.5px,#fc0 87.5px,#fbff04 92.5px,#dbff24 96.5px,#d3ff2c 98.5px,#deff21 101.5px,#ff0 105.5px,#ffd100 109.5px,#ffc600 112.5px,#ffd000 114.5px,#fffc00 118.5px,#f2ff0d 119.5px,#dcff23 120.5px,#15ffea 128.5px,#00f7ff 129.5px,#008aff 132.5px,#0000fe 135.5px,#00008f 137.5px,#00008f 197.5px)"></i><i style="background:linear-gradient(#00008f 0.5px,#00008f 60.5px,#0000fc 62.5px,#0089ff 65.5px,#00d5ff 67.5px,#00f7ff 68.5px,#16ffe9 69.5px,#fbff04 78.5px,#ffd000 82.5px,#ffbe00 85.5px,#ffc400 87.5px,#fcff03 92.5px,#d0ff2f 96.5px,#c5ff3a 98.5px,#cbff34 100.5px,#fffe00 105.5px,#ffca00 109.5px,#ffbe00 111.5px,#ffcb00 114.5px,#fffa00 118.5px,#f3ff0c 119.5px,#dbff24 120.5px,#0afff5 128.5px,#00e9ff 129.5px,#00a1ff 131.5px,#001dff 134.5px,#0000e6 135.5px,#00a 136.5px,#00008f 137.5px,#00008f 197.5px)"></i><i style="background:linear-gradient(#00008f 0.5px,#00008f 60.5px,#0000a6 61.5px,#0000e2 62.5px,#0019ff 63.5px,#0075ff 65.5px,#00c6ff 67.5px,#00e9ff 68.5px,#0bfff4 69.5px,#fbff04 78.5px,#ffcb00 82.5px,#ffb600 85.5px,#ffbd00 87.5px,#fbff04 92.5px,#c3ff3c 96.5px,#b4ff4b 98.5px,#bcff43 100.5px,#fffe00 105.5px,#ffc300 109.5px,#ffb500 111.5px,#ffc500 114.5px,#fff900 118.5px,#f2ff0d 119.5px,#d9ff26 120.5px,#9eff61 122.5px,#00fdff 128.5px,#008fff 131.5px,#0037ff 133.5px,#0004ff 134.5px,#0000ca 135.5px,#00008f 136.5px,#00008f 197.5px)"></i><i style="background:linear-gradient(#00008f 0.5px,#00008f 61.5px,#0000fe 63.5px,#008dff 66.5px,#00dbff 68.5px,#00feff 69.5px,#1effe1 70.5px,#87ff78 74.5px,#f9ff06 78.5px,#fff200 79.5px,#ffc500 82.5px,#ffad00 85.5px,#ffb500 87.5px,#fff400 91.5px,#f9ff06 92.5px,#beff41 95.5px,#a5ff5a 97.5px,#9fff60 98.5px,#a1ff5e 99.5px,#b6ff49 101.5px,#c4ff3b 102.5px,#fffe00 105.5px,#ffbc00 109.5px,#ffad00 111.5px,#ffae00 112.5px,#ffbe00 114.5px,#fff900 118.5px,#f0ff0f 119.5px,#7cff83 123.5px,#12ffed 127.5px,#00f0ff 128.5px,#00a5ff 130.5px,#001fff 133.5px,#0000e8 134.5px,#0000ad 135.5px,#00008f 136.5px,#00008f 197.5px)"></i><i style="background:linear-gradient(#00008f 0.5px,#00008f 61.5px,#0000ac 62.5px,#0000e7 63.5px,#001eff 64.5px,#007cff 66.5px,#00ceff 68.5px,#00f2ff 69.5px,#15ffea 70.5px,#f7ff08 78.5px,#fff300 79.5px,#ffc000 82.5px,#ffa500 85.5px,#ffae00 87.5px,#fff200 91.5px,#f7ff08 92.5px,#c1ff3e 94.5px,#acff53 95.5px,#8cff73 97.5px,#84ff7b 98.5px,#86ff79 99.5px,#b3ff4c 102.5px,#fffe00 105.5px,#ffb500 109.5px,#ffa500 111.5px,#ffa600 112.5px,#ffb800 114.5px,#fffa00 118.5px,#edff12 119.5px,#93ff6c 122.5px,#08fff7 127.5px,#00e4ff 128.5px,#0096ff 130.5px,#0009ff 133.5px,#0000d0 134.5px,#000093 135.5px,#00008f 136.5px,#00008f 197.5px)"></i><i style="background:linear-gradient(#00008f 0.5px,#00008f 61.5px,#000096 62.5px,#0000d5 63.5px,#000fff 64.5px,#0071ff 66.5px,#00c6ff 68.5px,#00ebff 69.5px,#0ffff0 70.5px,#7dff82 74.5px,#f4ff0b 78.5px,#fff400 79.5px,#ffbc00 82.5px,#ffa300 84.5px,#ff9d00 85.5px,#ff9e00 86.5px,#ffb500 88.5px,#fff200 91.5px,#f4ff0b 92.5px,#91ff6e 95.5px,#5dffa2 97.5px,#4effb1 98.5px,#52ffad 99.5px,#67ff98 100.5px,#9dff62 102.5px,#ff0 105.5px,#ffaf00 109.5px,#ff9d00 111.5px,#ff9f00 112.5px,#ffb300 114.5px,#fffc00 118.5px,#eaff15 119.5px,#8eff71 122.5px,#3effc1 125.5px,#01fffe 127.5px,#0df 128.5px,#008cff 130.5px,#002fff 132.5px,#0000f8 133.5px,#0000bc 134.5px,#00008f 135.5px,#00008f 197.5px)"></i><i style="background:linear-gradient(#00008f 0.5px,#00008f 62.5px,#0000c2 63.5px,#00f 64.5px,#0037ff 65.5px,#0095ff 67.5px,#00e6ff 69.5px,#0afff5 70.5px,#f1ff0e 78.5px,#fff600 79.5px,#ffa900 83.5px,#ff9700 85.5px,#ff9700 86.5px,#ffa000 87.5px,#ffc300 89.5px,#fff100 91.5px,#f2ff0d 92.5px,#7eff81 95.5px,#38ffc7 97.5px,#2fd 98.5px,#28ffd7 99.5px,#46ffb9 100.5px,#feff01 105.5px,#ffa900 109.5px,#ff9600 111.5px,#ff9800 112.5px,#ffaf00 114.5px,#fffe00 118.5px,#e7ff18 119.5px,#8bff74 122.5px,#00fbff 127.5px,#0084ff 130.5px,#02f 132.5px,#0000e7 133.5px,#0000a8 134.5px,#00008f 135.5px,#00008f 197.5px)"></i><i style="background:linear-gradient(#00008f 0.5px,#00008f 62.5px,#0000ae 63.5px,#00e 64.5px,#0028ff 65.5px,#00b5ff 68.5px,#04fffb 70.5px,#efff10 78.5px,#fff700 79.5px,#ffa400 83.5px,#ff9000 85.5px,#ff9000 86.5px,#ffa900 88.5px,#ffed00 91.5px,#f7ff08 92.5px,#89ff76 95.5px,#49ffb6 97.5px,#35ffca 98.5px,#3affc5 99.5px,#5fa 100.5px,#97ff68 102.5px,#e3ff1c 104.5px,#fffb00 105.5px,#ffb400 108.5px,#ff9500 110.5px,#ff8f00 111.5px,#ff9200 112.5px,#fa0 114.5px,#ffea00 117.5px,#feff01 118.5px,#18ffe7 126.5px,#00f5ff 127.5px,#07f 130.5px,#0012ff 132.5px,#0000d5 133.5px,#000094 134.5px,#00008f 135.5px,#00008f 197.5px)"></i><i style="background:linear-gradient(#00008f 0.5px,#00008f 62.5px,#00009b 63.5px,#0000dc 64.5px,#0018ff 65.5px,#00abff 68.5px,#00fdff 70.5px,#20ffdf 71.5px,#ef1 78.5px,#fff700 79.5px,#ff9f00 83.5px,#ff8900 85.5px,#ff8a00 86.5px,#ffa200 88.5px,#fffc00 92.5px,#a9ff56 95.5px,#7bff84 97.5px,#6eff91 98.5px,#72ff8d 99.5px,#83ff7c 100.5px,#b2ff4d 102.5px,#f0ff0f 104.5px,#fff200 105.5px,#ff9b00 109.5px,#f80 111.5px,#ff8b00 112.5px,#ffa600 114.5px,#ffea00 117.5px,#feff01 118.5px,#13ffec 126.5px,#0ef 127.5px,#006aff 130.5px,#0001ff 132.5px,#0000c2 133.5px,#00008f 134.5px,#00008f 197.5px)"></i><i style="background:linear-gradient(#00008f 0.5px,#00008f 63.5px,#0000ca 64.5px,#0007ff 65.5px,#0070ff 67.5px,#0cf 69.5px,#00f5ff 70.5px,#1affe5 71.5px,#edff12 78.5px,#fff800 79.5px,#ff9c00 83.5px,#ff8400 85.5px,#ff8500 86.5px,#ff9e00 88.5px,#fff200 92.5px,#f2ff0d 93.5px,#c5ff3a 95.5px,#a8ff57 97.5px,#a0ff5f 98.5px,#a2ff5d 99.5px,#bcff43 101.5px,#cf3 102.5px,#fdff02 104.5px,#ff9700 109.5px,#ff8400 111.5px,#ff9200 113.5px,#ffa300 114.5px,#ffea00 117.5px,#fcff03 118.5px,#0cfff3 126.5px,#00e5ff 127.5px,#008dff 129.5px,#0028ff 131.5px,#00e 132.5px,#0000b0 133.5px,#00008f 134.5px,#00008f 197.5px)"></i><i style="background:linear-gradient(#00008f 0.5px,#00008f 63.5px,#0000b7 64.5px,#0000f4 65.5px,#002dff 66.5px,#00c1ff 69.5px,#00ebff 70.5px,#13ffec 71.5px,#cdff32 77.5px,#fff900 79.5px,#f90 83.5px,#ff8200 85.5px,#ff8300 86.5px,#ff9c00 88.5px,#fdff02 93.5px,#d9ff26 95.5px,#bfff40 98.5px,#c8ff37 100.5px,#efff10 103.5px,#fff800 104.5px,#ff9500 109.5px,#ff8100 111.5px,#ff8f00 113.5px,#ffa100 114.5px,#ffeb00 117.5px,#fbff04 118.5px,#47ffb8 124.5px,#04fffb 126.5px,#00dbff 127.5px,#007fff 129.5px,#0017ff 131.5px,#0000dc 132.5px,#00009d 133.5px,#00008f 134.5px,#00008f 197.5px)"></i><i style="background:linear-gradient(#00008f 0.5px,#00008f 63.5px,#0000a4 64.5px,#0000e2 65.5px,#001bff 66.5px,#00b4ff 69.5px,#00e1ff 70.5px,#0bfff4 71.5px,#caff35 77.5px,#fffb00 79.5px,#ff9700 83.5px,#ff7f00 85.5px,#ff8b00 87.5px,#fff800 93.5px,#f5ff0a 94.5px,#d9ff26 98.5px,#dfff20 100.5px,#fbff04 103.5px,#ff9400 109.5px,#ff7f00 111.5px,#ff8100 112.5px,#ff9f00 114.5px,#ffec00 117.5px,#f9ff06 118.5px,#21ffde 125.5px,#00faff 126.5px,#00a1ff 128.5px,#0005ff 131.5px,#0000ca 132.5px,#00008f 133.5px,#00008f 197.5px)"></i><i style="background:linear-gradient(#00008f 0.5px,#00008f 63.5px,#000092 64.5px,#0000d0 65.5px,#0009ff 66.5px,#00a6ff 69.5px,#02fffd 71.5px,#49ffb6 73.5px,#e6ff19 78.5px,#fffd00 79.5px,#ff9600 83.5px,#ff7d00 85.5px,#ff8a00 87.5px,#fe0 93.5px,#fffb00 94.5px,#fcff03 95.5px,#f2ff0d 98.5px,#feff01 102.5px,#fff700 103.5px,#ff9200 109.5px,#ff7d00 111.5px,#ff7f00 112.5px,#ff8b00 113.5px,#ff9f00 114.5px,#fe0 117.5px,#f7ff08 118.5px,#19ffe6 125.5px,#00f0ff 126.5px,#0092ff 128.5px,#0029ff 130.5px,#0000f2 131.5px,#0000b8 132.5px,#00008f 133.5px,#00008f 197.5px)"></i><i style="background:linear-gradient(#00008f 0.5px,#00008f 64.5px,#0000be 65.5px,#0000f6 66.5px,#002cff 67.5px,#0097ff 69.5px,#00f7ff 71.5px,#20ffdf 72.5px,#c4ff3b 77.5px,#ff0 79.5px,#ff9700 83.5px,#ff8500 84.5px,#ff7c00 85.5px,#f80 87.5px,#ffe200 93.5px,#ffeb00 94.5px,#fff100 98.5px,#ffe900 103.5px,#ff8300 110.5px,#ff7c00 111.5px,#ff7f00 112.5px,#ffa000 114.5px,#fff000 117.5px,#f4ff0b 118.5px,#d7ff28 119.5px,#1fe 125.5px,#00e6ff 126.5px,#0017ff 130.5px,#0000e0 131.5px,#0000a6 132.5px,#00008f 133.5px,#00008f 197.5px)"></i><i style="background:linear-gradient(#00008f 0.5px,#00008f 64.5px,#0000ad 65.5px,#0000e6 66.5px,#001cff 67.5px,#00edff 71.5px,#18ffe7 72.5px,#c2ff3d 77.5px,#feff01 79.5px,#f90 83.5px,#ff7d00 85.5px,#ff8500 87.5px,#ffb200 90.5px,#ffd200 93.5px,#ffd600 94.5px,#ffd000 98.5px,#ffd500 103.5px,#ffc400 105.5px,#ff8100 110.5px,#ff7c00 111.5px,#ff8000 112.5px,#ff8e00 113.5px,#ffa200 114.5px,#fff100 117.5px,#f3ff0c 118.5px,#d5ff2a 119.5px,#52ffad 123.5px,#08fff7 125.5px,#00daff 126.5px,#0007ff 130.5px,#0000d0 131.5px,#000094 132.5px,#00008f 133.5px,#00008f 197.5px)"></i><i style="background:linear-gradient(#00008f 0.5px,#00008f 64.5px,#00009b 65.5px,#0000d6 66.5px,#000dff 67.5px,#00e2ff 71.5px,#10ffef 72.5px,#7eff81 75.5px,#feff01 79.5px,#ff9c00 83.5px,#ff7f00 85.5px,#ff7c00 86.5px,#ff8200 87.5px,#ffa500 90.5px,#ffb700 93.5px,#ffa700 98.5px,#ffb700 104.5px,#ffa100 107.5px,#ff7f00 110.5px,#ff7c00 111.5px,#ff9000 113.5px,#fff100 117.5px,#f3ff0c 118.5px,#d5ff2a 119.5px,#4dffb2 123.5px,#00feff 125.5px,#009aff 127.5px,#002cff 129.5px,#0000f7 130.5px,#00008f 132.5px,#00008f 197.5px)"></i><i style="background:linear-gradient(#00008f 0.5px,#00008f 65.5px,#0000fd 67.5px,#00d7ff 71.5px,#07fff8 72.5px,#7cff83 75.5px,#feff01 79.5px,#ff9f00 83.5px,#ff8100 85.5px,#ff7d00 86.5px,#ff9500 90.5px,#ff9a00 92.5px,#ff7b00 98.5px,#ff7f00 100.5px,#f90 104.5px,#ff9700 106.5px,#ff7d00 110.5px,#ff7d00 111.5px,#ff9300 113.5px,#fff100 117.5px,#f3ff0c 118.5px,#d5ff2a 119.5px,#91ff6e 121.5px,#21ffde 124.5px,#00f4ff 125.5px,#001dff 129.5px,#0000e7 130.5px,#0000af 131.5px,#00008f 132.5px,#00008f 197.5px)"></i><i style="background:linear-gradient(#00008f 0.5px,#00008f 65.5px,#0000b6 66.5px,#0000ed 67.5px,#0023ff 68.5px,#00caff 71.5px,#00fcff 72.5px,#29ffd6 73.5px,#9dff62 76.5px,#feff01 79.5px,#ffb600 82.5px,#ff9000 84.5px,#ff8400 85.5px,#ff7c00 87.5px,#ff8300 91.5px,#f70 93.5px,#ff5f00 95.5px,#ff5100 98.5px,#ff5b00 101.5px,#ff8100 105.5px,#ff7f00 111.5px,#ff9600 113.5px,#fff100 117.5px,#f3ff0c 118.5px,#d4ff2b 119.5px,#8fff70 121.5px,#18ffe7 124.5px,#00e9ff 125.5px,#000eff 129.5px,#0000d8 130.5px,#00009d 131.5px,#00008f 132.5px,#00008f 197.5px)"></i><i style="background:linear-gradient(#00008f 0.5px,#00008f 65.5px,#0000a4 66.5px,#00d 67.5px,#0013ff 68.5px,#00f1ff 72.5px,#20ffdf 73.5px,#9f6 76.5px,#dfff20 78.5px,#fcff03 79.5px,#ffa400 83.5px,#ff8600 85.5px,#ff7a00 87.5px,#ff7000 91.5px,#ff6900 92.5px,#ff3f00 95.5px,#ff3000 98.5px,#ff3b00 101.5px,#ff6c00 105.5px,#ff7b00 110.5px,#ff8b00 112.5px,#ffac00 114.5px,#fff200 117.5px,#f1ff0e 118.5px,#d2ff2d 119.5px,#64ff9b 122.5px,#0efff1 124.5px,#00dcff 125.5px,#0000fd 129.5px,#00008f 131.5px,#00008f 197.5px)"></i><i style="background:linear-gradient(#00008f 0.5px,#00008f 66.5px,#00c 67.5px,#0003ff 68.5px,#00e3ff 72.5px,#16ffe9 73.5px,#92ff6d 76.5px,#f8ff07 79.5px,#ffec00 80.5px,#ffa700 83.5px,#f80 85.5px,#ff6400 91.5px,#ff2d00 95.5px,#ff1e00 98.5px,#ff2900 101.5px,#ff3100 102.5px,#ff5f00 105.5px,#ff7b00 110.5px,#ff8d00 112.5px,#ffaf00 114.5px,#fff600 117.5px,#ecff13 118.5px,#a8ff57 120.5px,#5cffa3 122.5px,#03fffc 124.5px,#00ceff 125.5px,#0023ff 128.5px,#0000ed 129.5px,#0000b5 130.5px,#00008f 131.5px,#00008f 197.5px)"></i><i style="background:linear-gradient(#00008f 0.5px,#00008f 66.5px,#0000b7 67.5px,#0000f0 68.5px,#0027ff 69.5px,#00d5ff 72.5px,#0afff5 73.5px,#62ff9d 75.5px,#d1ff2e 78.5px,#f1ff0e 79.5px,#fff200 80.5px,#ffab00 83.5px,#ff8a00 85.5px,#ff5c00 91.5px,#ff2300 95.5px,#ff1500 98.5px,#ff1900 100.5px,#ff2700 102.5px,#f50 105.5px,#ff8f00 112.5px,#ffb300 114.5px,#fffc00 117.5px,#e5ff1a 118.5px,#9fff60 120.5px,#26ffd9 123.5px,#00f5ff 124.5px,#01f 128.5px,#0000da 129.5px,#00009d 130.5px,#00008f 131.5px,#00008f 197.5px)"></i><i style="background:linear-gradient(#00008f 0.5px,#00008f 66.5px,#00009b 67.5px,#0000da 68.5px,#0014ff 69.5px,#00fbff 73.5px,#2cffd3 74.5px,#57ffa8 75.5px,#c7ff38 78.5px,#e8ff17 79.5px,#fffa00 80.5px,#ffb000 83.5px,#ff8c00 85.5px,#f50 91.5px,#ff1b00 95.5px,#ff0e00 98.5px,#ff1200 100.5px,#ff1f00 102.5px,#ff4e00 105.5px,#ff8400 111.5px,#ffa400 113.5px,#ffea00 116.5px,#f9ff06 117.5px,#dbff24 118.5px,#6fff90 121.5px,#1affe5 123.5px,#00e6ff 124.5px,#0000fd 128.5px,#00008f 130.5px,#00008f 197.5px)"></i><i style="background:linear-gradient(#00008f 0.5px,#00008f 67.5px,#0000c0 68.5px,#0000fe 69.5px,#00edff 73.5px,#20ffdf 74.5px,#72ff8d 76.5px,#bf4 78.5px,#fbff04 80.5px,#ffb600 83.5px,#ff8100 86.5px,#ff5000 91.5px,#ff1400 95.5px,#ff0800 98.5px,#ff1800 102.5px,#ff4800 105.5px,#ff8600 111.5px,#ffa900 113.5px,#fff300 116.5px,#f0ff0f 117.5px,#d0ff2f 118.5px,#63ff9c 121.5px,#0dfff2 123.5px,#00d8ff 124.5px,#0023ff 127.5px,#0000e6 128.5px,#0000a6 129.5px,#00008f 130.5px,#00008f 197.5px)"></i><i style="background:linear-gradient(#00008f 0.5px,#00008f 67.5px,#0000a4 68.5px,#0000e7 69.5px,#0026ff 70.5px,#00e0ff 73.5px,#14ffeb 74.5px,#67ff98 76.5px,#d2ff2d 79.5px,#f1ff0e 80.5px,#fff100 81.5px,#ffa600 84.5px,#ff8200 86.5px,#ff4b00 91.5px,#ff0f00 95.5px,#ff0300 98.5px,#ff1200 102.5px,#ff4300 105.5px,#f80 111.5px,#ffaf00 113.5px,#fffc00 116.5px,#c5ff3a 118.5px,#7dff82 120.5px,#2fffd0 122.5px,#0ff 123.5px,#00c9ff 124.5px,#000eff 127.5px,#0000cd 128.5px,#00008f 129.5px,#00008f 197.5px)"></i><i style="background:linear-gradient(#00008f 0.5px,#00008f 68.5px,#0000d0 69.5px,#0013ff 70.5px,#00d3ff 73.5px,#09fff6 74.5px,#36ffc9 75.5px,#a5ff5a 78.5px,#e7ff18 80.5px,#fffa00 81.5px,#ffab00 84.5px,#ff8400 86.5px,#ff4700 91.5px,#ff1500 94.5px,#ff0900 95.5px,#f00 97.5px,#ff0200 100.5px,#ff0d00 102.5px,#ff4c00 106.5px,#ff8a00 111.5px,#ffb500 113.5px,#ffe900 115.5px,#f9ff06 116.5px,#dbff24 117.5px,#73ff8c 120.5px,#25ffda 122.5px,#00f4ff 123.5px,#0bf 124.5px,#0039ff 126.5px,#0000f8 127.5px,#0000b3 128.5px,#00008f 129.5px,#00008f 197.5px)"></i><i style="background:linear-gradient(#00008f 0.5px,#00008f 68.5px,#00b 69.5px,#0001ff 70.5px,#00c6ff 73.5px,#00feff 74.5px,#2effd1 75.5px,#9dff62 78.5px,#fcff03 81.5px,#ffb000 84.5px,#ff8500 86.5px,#ff4200 91.5px,#ff0e00 94.5px,#fd0000 96.5px,#f80000 99.5px,#f00 101.5px,#ff0700 102.5px,#ff4700 106.5px,#ff8d00 111.5px,#ffba00 113.5px,#fff100 115.5px,#f0ff0f 116.5px,#d2ff2d 117.5px,#6bff94 120.5px,#1cffe3 122.5px,#00e9ff 123.5px,#0029ff 126.5px,#0000e5 127.5px,#00009d 128.5px,#00008f 129.5px,#00008f 197.5px)"></i><i style="background:linear-gradient(#00008f 0.5px,#00008f 68.5px,#0000ab 69.5px,#0000f3 70.5px,#0036ff 71.5px,#0bf 73.5px,#00f6ff 74.5px,#26ffd9 75.5px,#74ff8b 77.5px,#f5ff0a 81.5px,#ffed00 82.5px,#ffb500 84.5px,#ff8700 86.5px,#ff3c00 91.5px,#ff0700 94.5px,#fb0000 95.5px,#f10000 98.5px,#f00 102.5px,#ff8f00 111.5px,#fff800 115.5px,#e9ff16 116.5px,#89ff76 119.5px,#14ffeb 122.5px,#00dfff 123.5px,#001cff 126.5px,#0000d7 127.5px,#00008f 128.5px,#00008f 197.5px)"></i><i style="background:linear-gradient(#00008f 0.5px,#00008f 68.5px,#00009c 69.5px,#0000e5 70.5px,#0029ff 71.5px,#00ebff 74.5px,#1dffe2 75.5px,#46ffb9 76.5px,#adff52 79.5px,#ebff14 81.5px,#fff500 82.5px,#ff8900 86.5px,#f00 94.5px,#f40000 95.5px,#ea0000 98.5px,#f10000 101.5px,#ff0600 103.5px,#ff7d00 110.5px,#ffab00 112.5px,#ffe300 114.5px,#fdff02 115.5px,#dfff20 116.5px,#5cffa3 120.5px,#0bfff4 122.5px,#00d4ff 123.5px,#000eff 126.5px,#0000c9 127.5px,#00008f 128.5px,#00008f 197.5px)"></i><i style="background:linear-gradient(#00008f 0.5px,#00008f 68.5px,#000091 69.5px,#0000da 70.5px,#001dff 71.5px,#00e1ff 74.5px,#15ffea 75.5px,#60ff9f 77.5px,#fffe00 82.5px,#ffa500 85.5px,#ff7600 87.5px,#ff0a00 93.5px,#f90000 94.5px,#e80000 96.5px,#e20000 98.5px,#ea0000 101.5px,#f00 103.5px,#ff7f00 110.5px,#ffb000 112.5px,#ffec00 114.5px,#f4ff0b 115.5px,#b6ff49 117.5px,#2effd1 121.5px,#02fffd 122.5px,#00c9ff 123.5px,#0003ff 126.5px,#0000be 127.5px,#00008f 128.5px,#00008f 197.5px)"></i><i style="background:linear-gradient(#00008f 0.5px,#00008f 69.5px,#0000d5 70.5px,#0017ff 71.5px,#00dbff 74.5px,#0ffff0 75.5px,#59ffa6 77.5px,#f8ff07 82.5px,#ffe700 83.5px,#ffa900 85.5px,#ff7600 87.5px,#ff0300 93.5px,#f30000 94.5px,#e20000 96.5px,#dc0000 99.5px,#eb0000 102.5px,#f90000 103.5px,#ff0b00 104.5px,#ff7f00 110.5px,#ffb500 112.5px,#fff400 114.5px,#ecff13 115.5px,#cdff32 116.5px,#4bffb4 120.5px,#00fbff 122.5px,#00c2ff 123.5px,#0000fc 126.5px,#0000b9 127.5px,#00008f 128.5px,#00008f 197.5px)"></i><i style="background:linear-gradient(#00008f 0.5px,#00008f 69.5px,#0000d4 70.5px,#0015ff 71.5px,#00d6ff 74.5px,#0bfff4 75.5px,#54ffab 77.5px,#f1ff0e 82.5px,#fe0 83.5px,#ff9000 86.5px,#ff5e00 88.5px,#fd0000 93.5px,#e20000 95.5px,#d60000 98.5px,#de0000 101.5px,#ff0500 104.5px,#ff5100 108.5px,#ff7f00 110.5px,#fffb00 114.5px,#c6ff39 116.5px,#23ffdc 121.5px,#00f7ff 122.5px,#00beff 123.5px,#003bff 125.5px,#0000fb 126.5px,#0000b9 127.5px,#00008f 128.5px,#00008f 197.5px)"></i><i style="background:linear-gradient(#00008f 0.5px,#00008f 69.5px,#0000d3 70.5px,#0013ff 71.5px,#00d1ff 74.5px,#06fff9 75.5px,#4fffb0 77.5px,#e9ff16 82.5px,#fff700 83.5px,#ff9200 86.5px,#ff5c00 88.5px,#ff0a00 92.5px,#f70000 93.5px,#d00 95.5px,#d10000 99.5px,#e10000 102.5px,#fe0000 104.5px,#ff4d00 108.5px,#ff8100 110.5px,#ffe300 113.5px,#fbff04 114.5px,#1fffe0 121.5px,#00f2ff 122.5px,#00b9ff 123.5px,#0038ff 125.5px,#0000f9 126.5px,#0000b8 127.5px,#00008f 128.5px,#00008f 197.5px)"></i><i style="background:linear-gradient(#00008f 0.5px,#00008f 69.5px,#0000d2 70.5px,#01f 71.5px,#00cbff 74.5px,#0ff 75.5px,#4affb5 77.5px,#ff0 83.5px,#ff9600 86.5px,#ff4000 89.5px,#ff0500 92.5px,#f20000 93.5px,#d20000 96.5px,#c00 99.5px,#d40000 101.5px,#f90000 104.5px,#ff0c00 105.5px,#ff4a00 108.5px,#ff8200 110.5px,#ffec00 113.5px,#f2ff0d 114.5px,#5cffa3 119.5px,#19ffe6 121.5px,#00ecff 122.5px,#0035ff 125.5px,#0000f8 126.5px,#0000b8 127.5px,#00008f 128.5px,#00008f 197.5px)"></i><i style="background:linear-gradient(#00008f 0.5px,#00008f 69.5px,#0000d2 70.5px,#000fff 71.5px,#00c5ff 74.5px,#00f9ff 75.5px,#23ffdc 76.5px,#f7ff08 83.5px,#ffe600 84.5px,#f90 86.5px,#ff5900 88.5px,#ff3d00 89.5px,#f00 92.5px,#d40000 95.5px,#c70000 98.5px,#d00000 101.5px,#d80000 102.5px,#f50000 104.5px,#ff0800 105.5px,#ff2f00 107.5px,#ff6500 109.5px,#ff8400 110.5px,#fff400 113.5px,#eaff15 114.5px,#56ffa9 119.5px,#14ffeb 121.5px,#00e5ff 122.5px,#00aeff 123.5px,#03f 125.5px,#0000f7 126.5px,#0000b7 127.5px,#00008f 128.5px,#00008f 197.5px)"></i><i style="background:linear-gradient(#00008f 0.5px,#00008f 69.5px,#0000d1 70.5px,#000eff 71.5px,#00bfff 74.5px,#00f3ff 75.5px,#1dffe2 76.5px,#f0ff0f 83.5px,#ffec00 84.5px,#ff9c00 86.5px,#ff5900 88.5px,#ff2500 90.5px,#fc0000 92.5px,#d00000 95.5px,#c20000 98.5px,#cb0000 101.5px,#ff0400 105.5px,#ff2e00 107.5px,#ff6500 109.5px,#ff8600 110.5px,#fffb00 113.5px,#50ffaf 119.5px,#0efff1 121.5px,#00dfff 122.5px,#0031ff 125.5px,#0000f6 126.5px,#0000b7 127.5px,#00008f 128.5px,#00008f 197.5px)"></i><i style="background:linear-gradient(#00008f 0.5px,#00008f 69.5px,#0000d0 70.5px,#000dff 71.5px,#00b9ff 74.5px,#00ecff 75.5px,#15ffea 76.5px,#eaff15 83.5px,#fff200 84.5px,#ff9f00 86.5px,#ff5900 88.5px,#ff2400 90.5px,#f90000 92.5px,#cb0000 95.5px,#bf0000 97.5px,#bd0000 99.5px,#cf0000 102.5px,#ff0200 105.5px,#ff2e00 107.5px,#ff6500 109.5px,#ffda00 112.5px,#feff01 113.5px,#49ffb6 119.5px,#06fff9 121.5px,#00d8ff 122.5px,#002fff 125.5px,#0000f5 126.5px,#0000b7 127.5px,#00008f 128.5px,#00008f 197.5px)"></i><i style="background:linear-gradient(#00008f 0.5px,#00008f 69.5px,#0000d0 70.5px,#000bff 71.5px,#00b2ff 74.5px,#00e3ff 75.5px,#0dfff2 76.5px,#e4ff1b 83.5px,#fff600 84.5px,#ff7b00 87.5px,#ff5a00 88.5px,#ff0d00 91.5px,#f60000 92.5px,#c70000 95.5px,#b70000 98.5px,#bc0000 100.5px,#cb0000 102.5px,#f00 105.5px,#ff2d00 107.5px,#ff6700 109.5px,#ff8a00 110.5px,#ffdf00 112.5px,#f9ff06 113.5px,#00fdff 121.5px,#009dff 123.5px,#002dff 125.5px,#0000f4 126.5px,#0000b6 127.5px,#00008f 128.5px,#00008f 197.5px)"></i><i style="background:linear-gradient(#00008f 0.5px,#00008f 69.5px,#0000cf 70.5px,#000aff 71.5px,#00abff 74.5px,#00dbff 75.5px,#04fffb 76.5px,#fffb00 84.5px,#ff7d00 87.5px,#ff5c00 88.5px,#ff0b00 91.5px,#f40000 92.5px,#ce0000 94.5px,#c20000 95.5px,#b20000 98.5px,#b70000 100.5px,#c60000 102.5px,#fd0000 105.5px,#ff2d00 107.5px,#ff6800 109.5px,#ffe300 112.5px,#f4ff0b 113.5px,#b1ff4e 115.5px,#19ffe6 120.5px,#00f4ff 121.5px,#0096ff 123.5px,#002bff 125.5px,#0000f3 126.5px,#0000b6 127.5px,#00008f 128.5px,#00008f 197.5px)"></i><i style="background:linear-gradient(#00008f 0.5px,#00008f 69.5px,#0000cf 70.5px,#0009ff 71.5px,#0072ff 73.5px,#00d2ff 75.5px,#00f9ff 76.5px,#1effe1 77.5px,#b8ff47 82.5px,#ff0 84.5px,#ff8000 87.5px,#ff5d00 88.5px,#ff0a00 91.5px,#f20000 92.5px,#ca0000 94.5px,#bd0000 95.5px,#ad0000 98.5px,#b20000 100.5px,#c20000 102.5px,#fb0000 105.5px,#ff2d00 107.5px,#ff6a00 109.5px,#ffe700 112.5px,#f0ff0f 113.5px,#abff54 115.5px,#10ffef 120.5px,#00eaff 121.5px,#0090ff 123.5px,#0029ff 125.5px,#0000f2 126.5px,#0000b6 127.5px,#00008f 128.5px,#00008f 197.5px)"></i><i style="background:linear-gradient(#00008f 0.5px,#00008f 69.5px,#0000ce 70.5px,#0008ff 71.5px,#006dff 73.5px,#00c9ff 75.5px,#00f0ff 76.5px,#15ffea 77.5px,#91ff6e 81.5px,#fbff04 84.5px,#ffda00 85.5px,#ff8300 87.5px,#ff3f00 89.5px,#ff0900 91.5px,#f00000 92.5px,#c60000 94.5px,#b90000 95.5px,#a80000 98.5px,#ad0000 100.5px,#bd0000 102.5px,#f90000 105.5px,#ff2d00 107.5px,#ff6d00 109.5px,#ffeb00 112.5px,#ecff13 113.5px,#a4ff5b 115.5px,#07fff8 120.5px,#00e1ff 121.5px,#008aff 123.5px,#0027ff 125.5px,#0000f1 126.5px,#0000b5 127.5px,#00008f 128.5px,#00008f 197.5px)"></i><i style="background:linear-gradient(#00008f 0.5px,#00008f 69.5px,#0000ce 70.5px,#0007ff 71.5px,#006aff 73.5px,#00c1ff 75.5px,#00e7ff 76.5px,#0cfff3 77.5px,#8aff75 81.5px,#f7ff08 84.5px,#ffde00 85.5px,#ff8500 87.5px,#ff4000 89.5px,#ff0800 91.5px,#e00 92.5px,#d60000 93.5px,#b40000 95.5px,#a30000 98.5px,#a90000 100.5px,#b90000 102.5px,#f80000 105.5px,#ff2d00 107.5px,#ff6f00 109.5px,#ffef00 112.5px,#e7ff18 113.5px,#9eff61 115.5px,#00fdff 120.5px,#00b0ff 122.5px,#0026ff 125.5px,#0000f1 126.5px,#0000b5 127.5px,#00008f 128.5px,#00008f 197.5px)"></i><i style="background:linear-gradient(#00008f 0.5px,#00008f 69.5px,#0000ce 70.5px,#0007ff 71.5px,#0092ff 74.5px,#00dfff 76.5px,#04fffb 77.5px,#83ff7c 81.5px,#f3ff0c 84.5px,#ffe200 85.5px,#f80 87.5px,#ff4000 89.5px,#ff0700 91.5px,#ec0000 92.5px,#bf0000 94.5px,#b10000 95.5px,#9f0000 98.5px,#a50000 100.5px,#b60000 102.5px,#c70000 103.5px,#f60000 105.5px,#ff1200 106.5px,#ff4e00 108.5px,#f90 110.5px,#fff300 112.5px,#e3ff1c 113.5px,#7f8 116.5px,#19ffe6 119.5px,#00f5ff 120.5px,#0081ff 123.5px,#0025ff 125.5px,#0000f0 126.5px,#0000b5 127.5px,#00008f 128.5px,#00008f 197.5px)"></i><i style="background:linear-gradient(#00008f 0.5px,#00008f 69.5px,#0000ce 70.5px,#0006ff 71.5px,#0064ff 73.5px,#00d9ff 76.5px,#00fcff 77.5px,#20ffdf 78.5px,#7dff82 81.5px,#ef1 84.5px,#ffe600 85.5px,#ff8a00 87.5px,#ff4100 89.5px,#ff0600 91.5px,#eb0000 92.5px,#bd0000 94.5px,#ae0000 95.5px,#9b0000 98.5px,#a10000 100.5px,#b30000 102.5px,#f50000 105.5px,#f10 106.5px,#ff4e00 108.5px,#ff9c00 110.5px,#fff700 112.5px,#deff21 113.5px,#91ff6e 115.5px,#12ffed 119.5px,#0ef 120.5px,#007eff 123.5px,#0024ff 125.5px,#0000f0 126.5px,#0000b5 127.5px,#00008f 128.5px,#00008f 197.5px)"></i><i style="background:linear-gradient(#00008f 0.5px,#00008f 69.5px,#0000ce 70.5px,#0006ff 71.5px,#0063ff 73.5px,#00b1ff 75.5px,#00f6ff 77.5px,#19ffe6 78.5px,#76ff89 81.5px,#e9ff16 84.5px,#ffea00 85.5px,#ff8c00 87.5px,#ff4100 89.5px,#ff0500 91.5px,#e90000 92.5px,#b00 94.5px,#ac0000 95.5px,#970000 98.5px,#9e0000 100.5px,#b10000 102.5px,#c20000 103.5px,#f40000 105.5px,#ff1000 106.5px,#ff4f00 108.5px,#ff9e00 110.5px,#fffb00 112.5px,#8aff75 115.5px,#69ff96 116.5px,#0cfff3 119.5px,#00e9ff 120.5px,#007cff 123.5px,#0024ff 125.5px,#0000f0 126.5px,#0000b5 127.5px,#00008f 128.5px,#00008f 197.5px)"></i><i style="background:linear-gradient(#00008f 0.5px,#00008f 69.5px,#0000ce 70.5px,#0006ff 71.5px,#0062ff 73.5px,#00aeff 75.5px,#00f1ff 77.5px,#13ffec 78.5px,#6fff90 81.5px,#e4ff1b 84.5px,#fe0 85.5px,#ff8e00 87.5px,#ff4100 89.5px,#ff0400 91.5px,#e70000 92.5px,#b90000 94.5px,#a00 95.5px,#940000 98.5px,#9b0000 100.5px,#af0000 102.5px,#c10000 103.5px,#f20000 105.5px,#ff0f00 106.5px,#ff4f00 108.5px,#ffa000 110.5px,#ffd100 111.5px,#feff01 112.5px,#af5 114.5px,#62ff9d 116.5px,#06fff9 119.5px,#00e4ff 120.5px,#007aff 123.5px,#0024ff 125.5px,#0000f0 126.5px,#0000b5 127.5px,#00008f 128.5px,#00008f 197.5px)"></i><i style="background:linear-gradient(#00008f 0.5px,#00008f 69.5px,#0000ce 70.5px,#0006ff 71.5px,#0037ff 72.5px,#08f 74.5px,#00ecff 77.5px,#0cfff3 78.5px,#68ff97 81.5px,#deff21 84.5px,#fff200 85.5px,#ff9000 87.5px,#ff4100 89.5px,#ff0300 91.5px,#e60000 92.5px,#c00 93.5px,#a70000 95.5px,#910000 98.5px,#980000 100.5px,#ad0000 102.5px,#bf0000 103.5px,#f10000 105.5px,#ff0f00 106.5px,#ff4f00 108.5px,#ff7600 109.5px,#ffd500 111.5px,#f9ff06 112.5px,#7dff82 115.5px,#0ff 119.5px,#0079ff 123.5px,#0024ff 125.5px,#0000f0 126.5px,#0000b5 127.5px,#00008f 128.5px,#00008f 197.5px)"></i><i style="background:linear-gradient(#00008f 0.5px,#00008f 69.5px,#0000ce 70.5px,#0006ff 71.5px,#0037ff 72.5px,#0086ff 74.5px,#00e7ff 77.5px,#06fff9 78.5px,#61ff9e 81.5px,#d9ff26 84.5px,#fff700 85.5px,#ff9100 87.5px,#ff4100 89.5px,#ff0200 91.5px,#e50000 92.5px,#ca0000 93.5px,#a60000 95.5px,#8e0000 98.5px,#950000 100.5px,#ab0000 102.5px,#bd0000 103.5px,#f00000 105.5px,#ff0e00 106.5px,#ff4f00 108.5px,#f70 109.5px,#ffd900 111.5px,#f4ff0b 112.5px,#76ff89 115.5px,#35ffca 117.5px,#00f9ff 119.5px,#0078ff 123.5px,#0024ff 125.5px,#0000f0 126.5px,#0000b5 127.5px,#00008f 128.5px,#00008f 197.5px)"></i><i style="background:linear-gradient(#00008f 0.5px,#00008f 69.5px,#0000ce 70.5px,#0006ff 71.5px,#0037ff 72.5px,#0085ff 74.5px,#01fffe 78.5px,#3affc5 80.5px,#7eff81 82.5px,#fffb00 85.5px,#ff9300 87.5px,#ff6700 88.5px,#ff0100 91.5px,#b30000 94.5px,#900 96.5px,#8b0000 98.5px,#930000 100.5px,#a90000 102.5px,#b00 103.5px,#ef0000 105.5px,#ff0d00 106.5px,#ff4f00 108.5px,#ff7800 109.5px,#ffdc00 111.5px,#efff10 112.5px,#95ff6a 114.5px,#6fff90 115.5px,#12ffed 118.5px,#00f4ff 119.5px,#09f 122.5px,#0050ff 124.5px,#0024ff 125.5px,#0000f0 126.5px,#0000b5 127.5px,#00008f 128.5px,#00008f 197.5px)"></i><i style="background:linear-gradient(#00008f 0.5px,#00008f 69.5px,#0000ce 70.5px,#0007ff 71.5px,#0060ff 73.5px,#00a3ff 75.5px,#00faff 78.5px,#16ffe9 79.5px,#7f8 82.5px,#cf3 84.5px,#ff0 85.5px,#ff9500 87.5px,#ff6800 88.5px,#ff4100 89.5px,#f00 91.5px,#b20000 94.5px,#960000 96.5px,#800 98.5px,#900000 100.5px,#a80000 102.5px,#ba0000 103.5px,#e00 105.5px,#ff0c00 106.5px,#ff5000 108.5px,#ff7900 109.5px,#ffe000 111.5px,#eaff15 112.5px,#8eff71 114.5px,#46ffb9 116.5px,#0bfff4 118.5px,#00efff 119.5px,#0076ff 123.5px,#0024ff 125.5px,#0000f0 126.5px,#0000b5 127.5px,#00008f 128.5px,#00008f 197.5px)"></i><i style="background:linear-gradient(#00008f 0.5px,#00008f 69.5px,#0000ce 70.5px,#0007ff 71.5px,#005fff 73.5px,#00a2ff 75.5px,#00f4ff 78.5px,#10ffef 79.5px,#70ff8f 82.5px,#98ff67 83.5px,#faff05 85.5px,#ff9600 87.5px,#ff6800 88.5px,#ff1e00 90.5px,#fe0000 91.5px,#c60000 93.5px,#b10000 94.5px,#950000 96.5px,#860000 98.5px,#8e0000 100.5px,#a70000 102.5px,#d00000 104.5px,#ed0000 105.5px,#ff0b00 106.5px,#ff5000 108.5px,#ff7900 109.5px,#ffe400 111.5px,#e5ff1a 112.5px,#87ff78 114.5px,#3fffc0 116.5px,#05fffa 118.5px,#00eaff 119.5px,#0075ff 123.5px,#0025ff 125.5px,#0000f0 126.5px,#0000b5 127.5px,#00008f 128.5px,#00008f 197.5px)"></i><i style="background:linear-gradient(#00008f 0.5px,#00008f 69.5px,#0000ce 70.5px,#0007ff 71.5px,#0037ff 72.5px,#0082ff 74.5px,#00d6ff 77.5px,#00efff 78.5px,#0afff5 79.5px,#68ff97 82.5px,#90ff6f 83.5px,#f6ff09 85.5px,#ffd000 86.5px,#ff9700 87.5px,#ff6900 88.5px,#ff4000 89.5px,#fe0000 91.5px,#c50000 93.5px,#b00000 94.5px,#930000 96.5px,#830000 98.5px,#8c0000 100.5px,#a60000 102.5px,#cf0000 104.5px,#ec0000 105.5px,#ff0b00 106.5px,#ff2b00 107.5px,#ff7a00 109.5px,#ffe700 111.5px,#e0ff1f 112.5px,#abff54 113.5px,#5affa5 115.5px,#38ffc7 116.5px,#00feff 118.5px,#0094ff 122.5px,#0050ff 124.5px,#0025ff 125.5px,#0000f1 126.5px,#0000b5 127.5px,#00008f 128.5px,#00008f 197.5px)"></i><i style="background:linear-gradient(#00008f 0.5px,#00008f 69.5px,#0000ce 70.5px,#0008ff 71.5px,#0037ff 72.5px,#0081ff 74.5px,#0bf 76.5px,#03fffc 79.5px,#61ff9e 82.5px,#89ff76 83.5px,#f1ff0e 85.5px,#ffd300 86.5px,#f90 87.5px,#ff6900 88.5px,#ff4000 89.5px,#fd0000 91.5px,#c40000 93.5px,#af0000 94.5px,#920000 96.5px,#810000 98.5px,#8b0000 100.5px,#a50000 102.5px,#b70000 103.5px,#eb0000 105.5px,#ff0a00 106.5px,#ff5000 108.5px,#ff7b00 109.5px,#ffeb00 111.5px,#dbff24 112.5px,#a4ff5b 113.5px,#52ffad 115.5px,#13ffec 117.5px,#00f8ff 118.5px,#0094ff 122.5px,#0050ff 124.5px,#0025ff 125.5px,#0000f1 126.5px,#0000b5 127.5px,#00008f 128.5px,#00008f 197.5px)"></i><i style="background:linear-gradient(#00008f 0.5px,#00008f 69.5px,#0000cf 70.5px,#0008ff 71.5px,#005fff 73.5px,#009fff 75.5px,#00fdff 79.5px,#19ffe6 80.5px,#82ff7d 83.5px,#ef1 85.5px,#ffd600 86.5px,#ff9a00 87.5px,#ff6900 88.5px,#ff4000 89.5px,#fc0000 91.5px,#c40000 93.5px,#af0000 94.5px,#910000 96.5px,#800000 98.5px,#8a0000 100.5px,#a50000 102.5px,#b60000 103.5px,#ea0000 105.5px,#ff0900 106.5px,#ff2a00 107.5px,#ff7b00 109.5px,#fe0 111.5px,#d6ff29 112.5px,#9eff61 113.5px,#4cffb3 115.5px,#0efff1 117.5px,#00f3ff 118.5px,#00c8ff 120.5px,#0094ff 122.5px,#0050ff 124.5px,#0026ff 125.5px,#0000f2 126.5px,#0000b5 127.5px,#00008f 128.5px,#00008f 197.5px)"></i><i style="background:linear-gradient(#00008f 0.5px,#00008f 68.5px,#000092 69.5px,#0000d4 70.5px,#000eff 71.5px,#003dff 72.5px,#0063ff 73.5px,#00a0ff 75.5px,#00f9ff 79.5px,#17ffe8 80.5px,#5affa5 82.5px,#82ff7d 83.5px,#edff12 85.5px,#ffd600 86.5px,#ff9b00 87.5px,#ff6900 88.5px,#ff4000 89.5px,#fc0000 91.5px,#c40000 93.5px,#af0000 94.5px,#910000 96.5px,#800000 98.5px,#8a0000 100.5px,#a50000 102.5px,#b70000 103.5px,#ea0000 105.5px,#ff0a00 106.5px,#ff2a00 107.5px,#ff7b00 109.5px,#fe0 111.5px,#d6ff29 112.5px,#9eff61 113.5px,#4bffb4 115.5px,#0bfff4 117.5px,#00efff 118.5px,#0095ff 122.5px,#05f 124.5px,#0000f8 126.5px,#00b 127.5px,#00008f 128.5px,#00008f 197.5px)"></i><i style="background:linear-gradient(#00008f 0.5px,#00008f 68.5px,#00009c 69.5px,#0000e0 70.5px,#0019ff 71.5px,#0046ff 72.5px,#0083ff 74.5px,#00ecff 79.5px,#0efff1 80.5px,#83ff7c 83.5px,#edff12 85.5px,#ffd800 86.5px,#ff6b00 88.5px,#ff1e00 90.5px,#fd0000 91.5px,#c50000 93.5px,#b00000 94.5px,#920000 96.5px,#800000 98.5px,#8a0000 100.5px,#a60000 102.5px,#b80000 103.5px,#eb0000 105.5px,#ff0b00 106.5px,#ff2b00 107.5px,#ff7e00 109.5px,#ffef00 111.5px,#d6ff29 112.5px,#9fff60 113.5px,#71ff8e 114.5px,#0ff 117.5px,#00e1ff 118.5px,#0079ff 123.5px,#005cff 124.5px,#0035ff 125.5px,#0004ff 126.5px,#0000c6 127.5px,#00008f 128.5px,#00008f 197.5px)"></i><i style="background:linear-gradient(#00008f 0.5px,#00008f 68.5px,#0000a9 69.5px,#0000ed 70.5px,#0024ff 71.5px,#004dff 72.5px,#006aff 73.5px,#00b5ff 78.5px,#00d0ff 79.5px,#00f8ff 80.5px,#26ffd9 81.5px,#83ff7c 83.5px,#edff12 85.5px,#ffdb00 86.5px,#ff7000 88.5px,#ff4500 89.5px,#f00 91.5px,#c70000 93.5px,#b20000 94.5px,#930000 96.5px,#810000 98.5px,#820000 99.5px,#980000 101.5px,#ba0000 103.5px,#e00 105.5px,#ff0c00 106.5px,#f50 108.5px,#ff8300 109.5px,#fff100 111.5px,#d7ff28 112.5px,#6fff90 114.5px,#14ffeb 116.5px,#00e7ff 117.5px,#00c4ff 118.5px,#00adff 119.5px,#0086ff 122.5px,#0060ff 124.5px,#003eff 125.5px,#0010ff 126.5px,#0000d4 127.5px,#00008f 128.5px,#00008f 197.5px)"></i><i style="background:linear-gradient(#00008f 0.5px,#00008f 68.5px,#0000b8 69.5px,#0000fa 70.5px,#002dff 71.5px,#0051ff 72.5px,#06f 73.5px,#0070ff 74.5px,#0076ff 77.5px,#0085ff 78.5px,#00a2ff 79.5px,#00d4ff 80.5px,#1fe 81.5px,#edff12 85.5px,#ffdc00 86.5px,#f70 88.5px,#ff2300 90.5px,#ff0300 91.5px,#e50000 92.5px,#b50000 94.5px,#a40000 95.5px,#800 97.5px,#820000 98.5px,#830000 99.5px,#9a0000 101.5px,#bd0000 103.5px,#f10000 105.5px,#ff0f00 106.5px,#ff3100 107.5px,#ff8a00 109.5px,#fff100 111.5px,#d8ff27 112.5px,#34ffcb 115.5px,#00f8ff 116.5px,#00bdff 117.5px,#0094ff 118.5px,#007dff 119.5px,#0073ff 120.5px,#006dff 123.5px,#005fff 124.5px,#04f 125.5px,#001bff 126.5px,#0000e1 127.5px,#009 128.5px,#00008f 129.5px,#00008f 197.5px)"></i><i style="background:linear-gradient(#00008f 0.5px,#00008f 68.5px,#0000c7 69.5px,#0007ff 70.5px,#0035ff 71.5px,#0052ff 72.5px,#005fff 73.5px,#005eff 74.5px,#0036ff 77.5px,#003fff 78.5px,#0060ff 79.5px,#009dff 80.5px,#0ef 81.5px,#3bffc4 82.5px,#7cff83 83.5px,#efff10 85.5px,#ffdc00 86.5px,#ff4f00 89.5px,#ff2600 90.5px,#ff0600 91.5px,#e90000 92.5px,#a60000 95.5px,#890000 97.5px,#830000 98.5px,#840000 99.5px,#9c0000 101.5px,#c10000 103.5px,#f40000 105.5px,#ff1200 106.5px,#ff3600 107.5px,#fff000 111.5px,#daff25 112.5px,#63ff9c 114.5px,#1effe1 115.5px,#00ceff 116.5px,#0081ff 117.5px,#0050ff 118.5px,#0038ff 119.5px,#0039ff 120.5px,#0058ff 122.5px,#0060ff 123.5px,#005cff 124.5px,#0048ff 125.5px,#0024ff 126.5px,#00e 127.5px,#0000a8 128.5px,#00008f 129.5px,#00008f 197.5px)"></i><i style="background:linear-gradient(#00008f 0.5px,#00008f 68.5px,#0000d0 69.5px,#000dff 70.5px,#0037ff 71.5px,#004eff 72.5px,#0054ff 73.5px,#0049ff 74.5px,#002fff 75.5px,#000bff 76.5px,#0000e9 77.5px,#0000e4 78.5px,#000dff 79.5px,#005bff 80.5px,#00c5ff 81.5px,#26ffd9 82.5px,#74ff8b 83.5px,#f2ff0d 85.5px,#ffdb00 86.5px,#ff2a00 90.5px,#ff0800 91.5px,#ec0000 92.5px,#a80000 95.5px,#8b0000 97.5px,#840000 98.5px,#860000 99.5px,#9e0000 101.5px,#c50000 103.5px,#f70000 105.5px,#ff1500 106.5px,#ff3a00 107.5px,#fe0 111.5px,#dcff23 112.5px,#57ffa8 114.5px,#02fffd 115.5px,#0038ff 117.5px,#0000f7 118.5px,#0000e0 119.5px,#0000f4 120.5px,#001aff 121.5px,#003bff 122.5px,#0050ff 123.5px,#0054ff 124.5px,#0047ff 125.5px,#0028ff 126.5px,#0000f7 127.5px,#0000b3 128.5px,#00008f 129.5px,#00008f 197.5px)"></i><i style="background:linear-gradient(#00008f 0.5px,#00008f 68.5px,#0000d5 69.5px,#000eff 70.5px,#0034ff 71.5px,#0047ff 72.5px,#0048ff 73.5px,#0036ff 74.5px,#0013ff 75.5px,#0000e2 76.5px,#0000b0 77.5px,#00009f 78.5px,#0000cd 79.5px,#002bff 80.5px,#00a2ff 81.5px,#15ffea 82.5px,#6dff92 83.5px,#b5ff4a 84.5px,#f4ff0b 85.5px,#ffd800 86.5px,#ff2d00 90.5px,#ff0a00 91.5px,#e00 92.5px,#a00 95.5px,#8c0000 97.5px,#850000 98.5px,#870000 99.5px,#9f0000 101.5px,#c70000 103.5px,#f80000 105.5px,#ff1600 106.5px,#ff3d00 107.5px,#ffeb00 111.5px,#dcff23 112.5px,#9f6 113.5px,#4cffb3 114.5px,#00eaff 115.5px,#0071ff 116.5px,#0002ff 117.5px,#0000b3 118.5px,#00009f 119.5px,#0000c3 120.5px,#0000f6 121.5px,#0023ff 122.5px,#003fff 123.5px,#004aff 124.5px,#0042ff 125.5px,#0027ff 126.5px,#0000f9 127.5px,#0000b9 128.5px,#00008f 129.5px,#00008f 197.5px)"></i><i style="background:linear-gradient(#00008f 0.5px,#00008f 68.5px,#0000d6 69.5px,#000cff 70.5px,#002fff 71.5px,#003eff 72.5px,#003bff 73.5px,#0025ff 74.5px,#0000fc 75.5px,#000090 77.5px,#00008f 78.5px,#0000ab 79.5px,#01f 80.5px,#008fff 81.5px,#0afff5 82.5px,#67ff98 83.5px,#b4ff4b 84.5px,#f5ff0a 85.5px,#ffd600 86.5px,#ff2e00 90.5px,#ff0a00 91.5px,#ef0000 92.5px,#a00 95.5px,#8d0000 97.5px,#870000 98.5px,#800 99.5px,#a00000 101.5px,#c80000 103.5px,#f90000 105.5px,#ff1800 106.5px,#fb0 110.5px,#ffe900 111.5px,#df2 112.5px,#96ff69 113.5px,#4fb 114.5px,#00dbff 115.5px,#005aff 116.5px,#0000e4 117.5px,#00008f 118.5px,#00008f 119.5px,#0000a5 120.5px,#0000de 121.5px,#000fff 122.5px,#0030ff 123.5px,#003eff 124.5px,#003aff 125.5px,#0023ff 126.5px,#0000f8 127.5px,#0000bc 128.5px,#00008f 129.5px,#00008f 197.5px)"></i><i style="background:linear-gradient(#00008f 0.5px,#00008f 67.5px,#000092 68.5px,#0000d7 69.5px,#000aff 70.5px,#0029ff 71.5px,#0035ff 72.5px,#002dff 73.5px,#0013ff 74.5px,#0000e6 75.5px,#0000ac 76.5px,#00008f 77.5px,#000094 79.5px,#0004ff 80.5px,#0086ff 81.5px,#06fff9 82.5px,#65ff9a 83.5px,#b4ff4b 84.5px,#f8ff07 85.5px,#ffd300 86.5px,#ff2f00 90.5px,#ff0b00 91.5px,#ef0000 92.5px,#ab0000 95.5px,#8e0000 97.5px,#800 98.5px,#890000 99.5px,#a00000 101.5px,#f90000 105.5px,#ff1800 106.5px,#ffe600 111.5px,#deff21 112.5px,#95ff6a 113.5px,#41ffbe 114.5px,#00d6ff 115.5px,#0050ff 116.5px,#0000d2 117.5px,#00008f 118.5px,#00008f 120.5px,#0000f9 122.5px,#001fff 123.5px,#0032ff 124.5px,#0032ff 125.5px,#001fff 126.5px,#0000f7 127.5px,#0000be 128.5px,#00008f 129.5px,#00008f 197.5px)"></i><i style="background:linear-gradient(#00008f 0.5px,#00008f 67.5px,#000096 68.5px,#0000d8 69.5px,#0008ff 70.5px,#0023ff 71.5px,#002bff 72.5px,#001fff 73.5px,#0001ff 74.5px,#0000cf 75.5px,#000092 76.5px,#00008f 79.5px,#0003ff 80.5px,#008aff 81.5px,#0afff5 82.5px,#67ff98 83.5px,#b6ff49 84.5px,#fbff04 85.5px,#ffd100 86.5px,#ff2f00 90.5px,#ff0b00 91.5px,#f00000 92.5px,#ab0000 95.5px,#9a0000 96.5px,#890000 98.5px,#8a0000 99.5px,#a00000 101.5px,#fa0000 105.5px,#ff1800 106.5px,#ffe300 111.5px,#e2ff1d 112.5px,#4fb 114.5px,#00daff 115.5px,#0053ff 116.5px,#0000cf 117.5px,#00008f 118.5px,#00008f 120.5px,#0000ac 121.5px,#0000e5 122.5px,#000fff 123.5px,#0026ff 124.5px,#002aff 125.5px,#001bff 126.5px,#0000f7 127.5px,#00008f 129.5px,#00008f 197.5px)"></i><i style="background:linear-gradient(#00008f 0.5px,#00008f 67.5px,#00009f 68.5px,#0000de 69.5px,#000aff 70.5px,#0021ff 71.5px,#0025ff 72.5px,#0015ff 73.5px,#0000f1 74.5px,#00008f 76.5px,#00008f 79.5px,#0009ff 80.5px,#0093ff 81.5px,#10ffef 82.5px,#6aff95 83.5px,#bf4 84.5px,#fffe00 85.5px,#ffcf00 86.5px,#ff3000 90.5px,#ff0d00 91.5px,#f20000 92.5px,#ad0000 95.5px,#900000 97.5px,#8a0000 98.5px,#8c0000 99.5px,#a20000 101.5px,#fb0000 105.5px,#ff1a00 106.5px,#ffe000 111.5px,#e7ff18 112.5px,#49ffb6 114.5px,#00e2ff 115.5px,#005bff 116.5px,#0000d1 117.5px,#00008f 118.5px,#00008f 120.5px,#000097 121.5px,#0000d4 122.5px,#0002ff 123.5px,#001eff 124.5px,#0026ff 125.5px,#001aff 126.5px,#0000fa 127.5px,#00008f 129.5px,#00008f 197.5px)"></i><i style="background:linear-gradient(#00008f 0.5px,#00008f 67.5px,#0000a7 68.5px,#0000e3 69.5px,#000bff 70.5px,#001fff 71.5px,#001eff 72.5px,#000aff 73.5px,#0000e2 74.5px,#0000a9 75.5px,#00008f 76.5px,#00008f 79.5px,#0013ff 80.5px,#009fff 81.5px,#19ffe6 82.5px,#c0ff3f 84.5px,#fffa00 85.5px,#fc0 86.5px,#ff3200 90.5px,#ff0f00 91.5px,#f40000 92.5px,#af0000 95.5px,#920000 97.5px,#8c0000 98.5px,#8d0000 99.5px,#a40000 101.5px,#fe0000 105.5px,#ff1c00 106.5px,#fd0 111.5px,#ecff13 112.5px,#4fffb0 114.5px,#00ecff 115.5px,#0067ff 116.5px,#0000d8 117.5px,#00008f 118.5px,#00008f 121.5px,#0000f4 123.5px,#0015ff 124.5px,#0021ff 125.5px,#0019ff 126.5px,#0000fd 127.5px,#0000cd 128.5px,#00008f 129.5px,#00008f 197.5px)"></i><i style="background:linear-gradient(#00008f 0.5px,#00008f 67.5px,#0000af 68.5px,#0000e7 69.5px,#000cff 70.5px,#001cff 71.5px,#0017ff 72.5px,#0000fd 73.5px,#0000d1 74.5px,#000094 75.5px,#000090 79.5px,#001fff 80.5px,#00acff 81.5px,#21ffde 82.5px,#c6ff39 84.5px,#fff500 85.5px,#ffc900 86.5px,#f30 90.5px,#f10 91.5px,#f60000 92.5px,#b10000 95.5px,#940000 97.5px,#8e0000 98.5px,#8f0000 99.5px,#a60000 101.5px,#ff0100 105.5px,#ff1e00 106.5px,#ffd900 111.5px,#f2ff0d 112.5px,#5fa 114.5px,#00f7ff 115.5px,#0074ff 116.5px,#0000e3 117.5px,#00008f 118.5px,#00008f 121.5px,#0000ae 122.5px,#0000e5 123.5px,#000bff 124.5px,#001bff 125.5px,#0018ff 126.5px,#00f 127.5px,#0000d3 128.5px,#000092 129.5px,#00008f 130.5px,#00008f 197.5px)"></i><i style="background:linear-gradient(#00008f 0.5px,#00008f 67.5px,#0000b6 68.5px,#0000eb 69.5px,#000cff 70.5px,#0017ff 71.5px,#000eff 72.5px,#0000f0 73.5px,#00008f 75.5px,#00008f 78.5px,#00009a 79.5px,#002dff 80.5px,#00b9ff 81.5px,#2affd5 82.5px,#cf3 84.5px,#fff100 85.5px,#ffc600 86.5px,#ff8200 88.5px,#ff3500 90.5px,#ff1300 91.5px,#f70000 92.5px,#b30000 95.5px,#960000 97.5px,#900000 98.5px,#910000 99.5px,#a80000 101.5px,#ff0200 105.5px,#ff2000 106.5px,#ffd600 111.5px,#f7ff08 112.5px,#5cffa3 114.5px,#03fffc 115.5px,#0082ff 116.5px,#0000f1 117.5px,#00008f 118.5px,#00008f 121.5px,#00009a 122.5px,#0000d5 123.5px,#0000fe 124.5px,#0014ff 125.5px,#0015ff 126.5px,#0001ff 127.5px,#0000d8 128.5px,#00009b 129.5px,#00008f 130.5px,#00008f 197.5px)"></i><i style="background:linear-gradient(#00008f 0.5px,#00008f 67.5px,#00e 69.5px,#000bff 70.5px,#0012ff 71.5px,#0005ff 72.5px,#0000e2 73.5px,#0000ad 74.5px,#00008f 75.5px,#00008f 78.5px,#0000af 79.5px,#0041ff 80.5px,#00c9ff 81.5px,#3fc 82.5px,#d3ff2c 84.5px,#ffef00 85.5px,#ffc500 86.5px,#ff8200 88.5px,#ff1200 91.5px,#f60000 92.5px,#a40000 96.5px,#920000 98.5px,#940000 99.5px,#a00 101.5px,#ff0100 105.5px,#ff2000 106.5px,#ffd400 111.5px,#fbff04 112.5px,#b3ff4c 113.5px,#0efff1 115.5px,#0095ff 116.5px,#0008ff 117.5px,#00008f 118.5px,#00008f 122.5px,#0000c5 123.5px,#0000f2 124.5px,#000dff 125.5px,#0012ff 126.5px,#0002ff 127.5px,#0000dc 128.5px,#0000a3 129.5px,#00008f 130.5px,#00008f 197.5px)"></i><i style="background:linear-gradient(#00008f 0.5px,#00008f 67.5px,#0000f0 69.5px,#0009ff 70.5px,#000cff 71.5px,#0000f9 72.5px,#0000d4 73.5px,#00009c 74.5px,#00008f 75.5px,#00008f 78.5px,#0000e5 79.5px,#006cff 80.5px,#00e6ff 81.5px,#43ffbc 82.5px,#d7ff28 84.5px,#fff100 85.5px,#ff0e00 91.5px,#f30000 92.5px,#a50000 96.5px,#950000 98.5px,#960000 99.5px,#ab0000 101.5px,#fc0000 105.5px,#ff1c00 106.5px,#ffd800 111.5px,#f9ff06 112.5px,#bf4 113.5px,#2fd 115.5px,#00b7ff 116.5px,#0037ff 117.5px,#0000af 118.5px,#00008f 119.5px,#00008f 122.5px,#0000b4 123.5px,#0000e5 124.5px,#0004ff 125.5px,#000dff 126.5px,#0002ff 127.5px,#0000e0 128.5px,#0000ab 129.5px,#00008f 130.5px,#00008f 197.5px)"></i><i style="background:linear-gradient(#00008f 0.5px,#00008f 67.5px,#0000c4 68.5px,#0000ec 69.5px,#0001ff 70.5px,#00f 71.5px,#0000e9 72.5px,#0000c1 73.5px,#00008f 74.5px,#00008f 77.5px,#00a 78.5px,#0025ff 79.5px,#009aff 80.5px,#03fffc 81.5px,#52ffad 82.5px,#97ff68 83.5px,#d6ff29 84.5px,#fff600 85.5px,#ff0800 91.5px,#ef0000 92.5px,#b50000 95.5px,#9d0000 97.5px,#980000 98.5px,#900 99.5px,#ac0000 101.5px,#f80000 105.5px,#ff1500 106.5px,#ff6900 108.5px,#ffdc00 111.5px,#f5ff0a 112.5px,#beff41 113.5px,#35ffca 115.5px,#00dbff 116.5px,#006cff 117.5px,#0000f3 118.5px,#00008f 119.5px,#00008f 122.5px,#0000a0 123.5px,#0000d3 124.5px,#0000f4 125.5px,#0003ff 126.5px,#0000fa 127.5px,#0000de 128.5px,#0000ae 129.5px,#00008f 130.5px,#00008f 197.5px)"></i><i style="background:linear-gradient(#00008f 0.5px,#00008f 67.5px,#0000c3 68.5px,#0000e8 69.5px,#0000f7 70.5px,#0000f2 71.5px,#0000d9 72.5px,#0000ae 73.5px,#00008f 74.5px,#00008f 77.5px,#0000eb 78.5px,#0058ff 79.5px,#00bfff 80.5px,#1bffe4 81.5px,#9bff64 83.5px,#d3ff2c 84.5px,#fffa00 85.5px,#ff7f00 88.5px,#ff2500 90.5px,#ff0200 91.5px,#eb0000 92.5px,#b50000 95.5px,#9f0000 97.5px,#9b0000 98.5px,#9c0000 99.5px,#ad0000 101.5px,#f30000 105.5px,#ff0e00 106.5px,#ffdf00 111.5px,#f1ff0e 112.5px,#83ff7c 114.5px,#00f9ff 116.5px,#002eff 118.5px,#0000c0 119.5px,#00008f 120.5px,#00008f 123.5px,#0000c1 124.5px,#0000e5 125.5px,#0000f7 126.5px,#0000f3 127.5px,#0000dc 128.5px,#0000af 129.5px,#00008f 130.5px,#00008f 197.5px)"></i><i style="background:linear-gradient(#00008f 0.5px,#00008f 67.5px,#0000c2 68.5px,#0000e2 69.5px,#00e 70.5px,#0000e5 71.5px,#0000c9 72.5px,#00009c 73.5px,#00008f 74.5px,#00008f 76.5px,#0000ba 77.5px,#001cff 78.5px,#0df 80.5px,#2bffd4 81.5px,#9dff62 83.5px,#fffb00 85.5px,#ff7c00 88.5px,#ff1e00 90.5px,#fc0000 91.5px,#b50000 95.5px,#a20000 97.5px,#9f0000 98.5px,#ae0000 101.5px,#ca0000 103.5px,#f00000 105.5px,#ff0800 106.5px,#ffe000 111.5px,#f0ff0f 112.5px,#50ffaf 115.5px,#10ffef 116.5px,#00b6ff 117.5px,#0056ff 118.5px,#0000f3 119.5px,#000096 120.5px,#00008f 121.5px,#00008f 123.5px,#0000d6 125.5px,#0000eb 126.5px,#0000ec 127.5px,#0000d8 128.5px,#00008f 130.5px,#00008f 197.5px)"></i><i style="background:linear-gradient(#00008f 0.5px,#00008f 67.5px,#0000c0 68.5px,#0000db 69.5px,#0000e3 70.5px,#0000d6 71.5px,#0000b7 72.5px,#00008f 73.5px,#00008f 76.5px,#0000db 77.5px,#0039ff 78.5px,#00f3ff 80.5px,#38ffc7 81.5px,#d6ff29 84.5px,#fff900 85.5px,#ff7b00 88.5px,#ff1900 90.5px,#fa0000 91.5px,#d40000 93.5px,#b70000 95.5px,#a20000 98.5px,#b00000 101.5px,#ca0000 103.5px,#ff0400 106.5px,#ff2b00 107.5px,#ff8b00 109.5px,#ffde00 111.5px,#f3ff0c 112.5px,#8eff71 114.5px,#20ffdf 116.5px,#00d0ff 117.5px,#0013ff 119.5px,#0000b8 120.5px,#00008f 121.5px,#00008f 123.5px,#00009d 124.5px,#0000c5 125.5px,#00d 126.5px,#0000e2 127.5px,#0000d3 128.5px,#00008f 130.5px,#00008f 197.5px)"></i><i style="background:linear-gradient(#00008f 0.5px,#00008f 67.5px,#0000b2 68.5px,#0000ca 69.5px,#0000cd 70.5px,#0000bd 71.5px,#00009b 72.5px,#00008f 73.5px,#00008f 75.5px,#00009d 76.5px,#0000f2 77.5px,#0050ff 78.5px,#00aeff 79.5px,#05fffa 80.5px,#43ffbc 81.5px,#a9ff56 83.5px,#daff25 84.5px,#fff600 85.5px,#ff7a00 88.5px,#ff1700 90.5px,#f80000 91.5px,#d30000 93.5px,#b80000 95.5px,#a50000 98.5px,#a00 100.5px,#bd0000 102.5px,#ff0200 106.5px,#ff2900 107.5px,#ff8b00 109.5px,#ffdc00 111.5px,#f6ff09 112.5px,#2cffd3 116.5px,#00e5ff 117.5px,#002aff 119.5px,#0000cf 120.5px,#00008f 121.5px,#00008f 124.5px,#0000c6 126.5px,#0000ce 127.5px,#0000c3 128.5px,#0000a3 129.5px,#00008f 130.5px,#00008f 197.5px)"></i><i style="background:linear-gradient(#00008f 0.5px,#00008f 67.5px,#0000b8 69.5px,#0000b7 70.5px,#00008f 72.5px,#00008f 75.5px,#0000b2 76.5px,#0008ff 77.5px,#00c3ff 79.5px,#13ffec 80.5px,#4cffb3 81.5px,#aeff51 83.5px,#df2 84.5px,#fff400 85.5px,#ff7900 88.5px,#ff1600 90.5px,#f80000 91.5px,#d40000 93.5px,#ba0000 95.5px,#ab0000 97.5px,#a90000 99.5px,#b40000 101.5px,#cb0000 103.5px,#ff0200 106.5px,#ff2800 107.5px,#ff8b00 109.5px,#ffdb00 111.5px,#f9ff06 112.5px,#36ffc9 116.5px,#00f6ff 117.5px,#003fff 119.5px,#0000e4 120.5px,#000091 121.5px,#00008f 122.5px,#000090 125.5px,#0000ae 126.5px,#0000ba 127.5px,#0000b2 128.5px,#000097 129.5px,#00008f 130.5px,#00008f 197.5px)"></i><i style="background:linear-gradient(#00008f 0.5px,#00008f 67.5px,#000092 68.5px,#0000a2 69.5px,#00009d 70.5px,#00008f 71.5px,#00008f 75.5px,#0000c4 76.5px,#001aff 77.5px,#00d4ff 79.5px,#1effe1 80.5px,#b3ff4c 83.5px,#e0ff1f 84.5px,#fff200 85.5px,#ff7900 88.5px,#ff1600 90.5px,#f90000 91.5px,#d40000 93.5px,#bc0000 95.5px,#ae0000 97.5px,#ac0000 99.5px,#c00000 102.5px,#da0000 104.5px,#ff0300 106.5px,#ff2800 107.5px,#ff8b00 109.5px,#ffda00 111.5px,#fbff04 112.5px,#3fffc0 116.5px,#04fffb 117.5px,#00b1ff 118.5px,#0053ff 119.5px,#0000f6 120.5px,#0000a3 121.5px,#00008f 122.5px,#000092 126.5px,#0000a1 127.5px,#00009e 128.5px,#00008f 129.5px,#00008f 197.5px)"></i><i style="background:linear-gradient(#00008f 0.5px,#00008f 75.5px,#0000d3 76.5px,#002bff 77.5px,#008cff 78.5px,#00e4ff 79.5px,#27ffd8 80.5px,#e3ff1c 84.5px,#fff100 85.5px,#ff7900 88.5px,#ff1700 90.5px,#fb0000 91.5px,#e50000 92.5px,#c90000 94.5px,#b70000 96.5px,#af0000 98.5px,#b30000 100.5px,#c30000 102.5px,#db0000 104.5px,#ff0500 106.5px,#ff2900 107.5px,#ff8b00 109.5px,#fcff03 112.5px,#76ff89 115.5px,#0ffff0 117.5px,#00c2ff 118.5px,#0007ff 120.5px,#0000b2 121.5px,#00008f 122.5px,#00008f 197.5px)"></i><i style="background:linear-gradient(#00008f 0.5px,#00008f 75.5px,#0000e1 76.5px,#003cff 77.5px,#009cff 78.5px,#00f0ff 79.5px,#2fffd0 80.5px,#e5ff1a 84.5px,#fff000 85.5px,#ff7a00 88.5px,#ff1a00 90.5px,#fd0000 91.5px,#e60000 92.5px,#cb0000 94.5px,#b90000 96.5px,#b20000 98.5px,#b60000 100.5px,#c50000 102.5px,#dc0000 104.5px,#ff0800 106.5px,#ff2b00 107.5px,#ff8b00 109.5px,#feff01 112.5px,#7bff84 115.5px,#19ffe6 117.5px,#00d1ff 118.5px,#0078ff 119.5px,#0016ff 120.5px,#0000c0 121.5px,#00008f 122.5px,#00008f 197.5px)"></i><i style="width:2px;background:linear-gradient(#00008f 0.5px,#00008f 74.5px,#0000a2 75.5px,#0000f6 76.5px,#0056ff 77.5px,#00b2ff 78.5px,#03fefc 79.5px,#3affc6 80.5px,#e8ff17 84.5px,#fe0 85.5px,#ff7c00 88.5px,#ff2000 90.5px,#ff0200 91.5px,#e90000 92.5px,#ce0000 94.5px,#be0000 96.5px,#b70000 98.5px,#ba0000 100.5px,#c80000 102.5px,#df0000 104.5px,#f10000 105.5px,#ff0d00 106.5px,#ff3000 107.5px,#ff8c00 109.5px,#fffe00 112.5px,#aeff52 114.5px,#24ffda 117.5px,#00e4ff 118.5px,#0090ff 119.5px,#002dff 120.5px,#0000d5 121.5px,#00008f 122.5px,#00008f 197.5px)"></i><i style="width:2px;background:linear-gradient(#00008f 0.5px,#00008f 74.5px,#0000c0 75.5px,#0012ff 76.5px,#0076ff 77.5px,#0cf 78.5px,#13ffec 79.5px,#46ffba 80.5px,#ecff14 84.5px,#fe0 85.5px,#ff7f00 88.5px,#ff2800 90.5px,#ff0800 91.5px,#ed0000 92.5px,#ca0000 95.5px,#be0000 98.5px,#c20000 100.5px,#ce0000 102.5px,#e40000 104.5px,#f60000 105.5px,#ff1400 106.5px,#ff3800 107.5px,#ff8f00 109.5px,#fffc00 112.5px,#8aff75 115.5px,#00f9ff 118.5px,#00abff 119.5px,#004dff 120.5px,#0000f0 121.5px,#00009e 122.5px,#00008f 123.5px,#00008f 197.5px)"></i><i style="width:2px;background:linear-gradient(#00008f 0.5px,#00008f 73.5px,#000090 74.5px,#0000da 75.5px,#0030ff 76.5px,#0092ff 77.5px,#00e3ff 78.5px,#22ffde 79.5px,#79ff86 81.5px,#ef1 84.5px,#ffec00 85.5px,#ff8300 88.5px,#ff0e00 91.5px,#f20000 92.5px,#da0000 94.5px,#ca0000 96.5px,#c50000 99.5px,#d40000 102.5px,#e80000 104.5px,#fa0000 105.5px,#ff1c00 106.5px,#ff9200 109.5px,#fffa00 112.5px,#e0ff20 113.5px,#68ff96 116.5px,#3effc1 117.5px,#0bfff4 118.5px,#00c4ff 119.5px,#006dff 120.5px,#000bff 121.5px,#0000bc 122.5px,#00008f 123.5px,#00008f 197.5px)"></i><i style="width:2px;background:linear-gradient(#00008f 0.5px,#00008f 73.5px,#0000a9 74.5px,#0000f4 75.5px,#0052ff 76.5px,#00aeff 77.5px,#00f8ff 78.5px,#2effd0 79.5px,#81ff7e 81.5px,#f0ff0e 84.5px,#ffeb00 85.5px,#f80 88.5px,#ff1400 91.5px,#f60000 92.5px,#d80000 95.5px,#ce0000 97.5px,#c00 99.5px,#da0000 102.5px,#fe0100 105.5px,#ff9600 109.5px,#fff800 112.5px,#e2ff1c 113.5px,#71ff8e 116.5px,#1affe4 118.5px,#00dcff 119.5px,#008cff 120.5px,#0029ff 121.5px,#0000d6 122.5px,#000090 123.5px,#00008f 197.5px)"></i><i style="width:2px;background:linear-gradient(#00008f 0.5px,#00008f 73.5px,#0000c6 74.5px,#0012ff 75.5px,#0076ff 76.5px,#00c8ff 77.5px,#0afff4 78.5px,#3bffc4 79.5px,#63ff9c 80.5px,#f2ff0c 84.5px,#ffea00 85.5px,#ff8c00 88.5px,#ff6a00 89.5px,#ff1800 91.5px,#fc0000 92.5px,#d80000 96.5px,#d30000 99.5px,#e20000 102.5px,#ff0500 105.5px,#ff2700 106.5px,#ff7800 108.5px,#fff800 112.5px,#e6ff1a 113.5px,#9fff60 115.5px,#28ffd6 118.5px,#00f2ff 119.5px,#0af 120.5px,#004eff 121.5px,#0000f2 122.5px,#00a 123.5px,#00008f 124.5px,#00008f 197.5px)"></i><i style="width:2px;background:linear-gradient(#00008f 0.5px,#00008f 72.5px,#0000a0 73.5px,#0000e5 74.5px,#003aff 75.5px,#09f 76.5px,#00e2ff 77.5px,#1cffe3 78.5px,#6cff93 80.5px,#f6ff0a 84.5px,#ffe900 85.5px,#ff8e00 88.5px,#ff6d00 89.5px,#ff1c00 91.5px,#ff0200 92.5px,#f60000 93.5px,#e00000 96.5px,#da0000 98.5px,#e20000 101.5px,#fa0000 104.5px,#ff0a00 105.5px,#ff2a00 106.5px,#ff7c00 108.5px,#fff600 112.5px,#e8ff16 113.5px,#a6ff5a 115.5px,#36ffc8 118.5px,#08fff8 119.5px,#00c7ff 120.5px,#0076ff 121.5px,#0014ff 122.5px,#0000ca 123.5px,#00008f 124.5px,#00008f 197.5px)"></i><i style="width:2px;background:linear-gradient(#00008f 0.5px,#00008f 72.5px,#0000c2 73.5px,#0008fe 74.5px,#06f 75.5px,#00b8ff 76.5px,#00f9ff 77.5px,#2affd4 78.5px,#96ff68 81.5px,#f8ff08 84.5px,#ffe800 85.5px,#ff9000 88.5px,#ff2000 91.5px,#ff0a00 92.5px,#f60000 94.5px,#e40000 97.5px,#e20000 99.5px,#f90000 103.5px,#ff0400 104.5px,#ff1000 105.5px,#ff2e00 106.5px,#ff7e00 108.5px,#fff400 112.5px,#eaff14 113.5px,#aaff54 115.5px,#42ffbc 118.5px,#18ffe6 119.5px,#00e1ff 120.5px,#09f 121.5px,#003dff 122.5px,#0000e9 123.5px,#0000a8 124.5px,#00008f 125.5px,#00008f 197.5px)"></i><i style="width:2px;background:linear-gradient(#00008f 0.5px,#00008f 71.5px,#0000a2 72.5px,#0000e1 73.5px,#002eff 74.5px,#008aff 75.5px,#00d2ff 76.5px,#0cfff3 77.5px,#5bffa4 79.5px,#faff06 84.5px,#ffe800 85.5px,#ff9200 88.5px,#ff2600 91.5px,#ff1400 92.5px,#ff0900 93.5px,#f80000 95.5px,#ea0000 98.5px,#e00 100.5px,#fa0000 102.5px,#ff0400 103.5px,#ff1800 105.5px,#f30 106.5px,#ff9e00 109.5px,#fff200 112.5px,#eeff12 113.5px,#b0ff50 115.5px,#4effb2 118.5px,#00f7ff 120.5px,#00b7ff 121.5px,#0068ff 122.5px,#000bff 123.5px,#0000c9 124.5px,#000090 125.5px,#00008f 197.5px)"></i><i style="width:2px;background:linear-gradient(#00008f 0.5px,#00008f 71.5px,#0000c4 72.5px,#0005fc 73.5px,#00a9ff 75.5px,#00eaff 76.5px,#1cffe3 77.5px,#63ff9c 79.5px,#fcff04 84.5px,#ff9200 88.5px,#ff2e00 91.5px,#ff1400 93.5px,#ff0200 95.5px,#fa0000 96.5px,#f20000 98.5px,#fd0000 101.5px,#ff2300 105.5px,#ff3a00 106.5px,#ff9e00 109.5px,#fff200 112.5px,#f0ff10 113.5px,#96ff6a 116.5px,#34ffcb 119.5px,#0afff5 120.5px,#00d1ff 121.5px,#008bff 122.5px,#0032ff 123.5px,#0000e6 124.5px,#0000ac 125.5px,#00008f 126.5px,#00008f 197.5px)"></i><i style="width:2px;background:linear-gradient(#00008f 0.5px,#00008f 70.5px,#00a 71.5px,#0000e2 72.5px,#0026ff 73.5px,#007eff 74.5px,#00c4ff 75.5px,#02fcfe 76.5px,#2affd6 77.5px,#6bff94 79.5px,#feff02 84.5px,#ffaf00 87.5px,#ff3800 91.5px,#ff1500 94.5px,#ff0600 96.5px,#fb0000 98.5px,#ff0800 101.5px,#ff2f00 105.5px,#ff4200 106.5px,#ff9e00 109.5px,#fff000 112.5px,#f2ff0c 113.5px,#5fffa0 118.5px,#1affe6 120.5px,#00e8ff 121.5px,#00a9ff 122.5px,#0008fe 124.5px,#00c 125.5px,#000095 126.5px,#00008f 127.5px,#00008f 197.5px)"></i><i style="width:2px;background:linear-gradient(#00008f 0.5px,#00008f 69.5px,#000095 70.5px,#0000ca 71.5px,#0004fc 72.5px,#009dff 74.5px,#00dcff 75.5px,#0ffff0 76.5px,#5fa 78.5px,#feff00 84.5px,#ff5900 90.5px,#f40 91.5px,#ff2000 94.5px,#ff0400 98.5px,#ff0a00 100.5px,#ff3a00 105.5px,#ff6400 107.5px,#fff000 112.5px,#f4ff0b 113.5px,#d8ff26 114.5px,#48ffb6 119.5px,#00fbfe 121.5px,#00c4ff 122.5px,#0080ff 123.5px,#002dff 124.5px,#0000e9 125.5px,#0000b5 126.5px,#00008f 127.5px,#00008f 197.5px)"></i><i style="width:2px;background:linear-gradient(#00008f 0.5px,#00008f 69.5px,#0000b5 70.5px,#0000e6 71.5px,#0024ff 72.5px,#0074ff 73.5px,#00b8ff 74.5px,#00f1ff 75.5px,#1effe2 76.5px,#5cffa3 78.5px,#fffe00 84.5px,#ff7900 89.5px,#ff4e00 91.5px,#ff2a00 94.5px,#ff0d00 98.5px,#ff1400 100.5px,#ff2e00 103.5px,#ff5600 106.5px,#ff6a00 107.5px,#fe0 112.5px,#f6ff0a 113.5px,#dcff24 114.5px,#51ffae 119.5px,#0efff2 121.5px,#00dcff 122.5px,#009eff 123.5px,#0008ff 125.5px,#0000d2 126.5px,#00009f 127.5px,#00008f 128.5px,#00008f 197.5px)"></i><i style="width:2px;background:linear-gradient(#00008f 0.5px,#00008f 68.5px,#0000a1 69.5px,#0000d2 70.5px,#0006fd 71.5px,#0094ff 73.5px,#00d0ff 74.5px,#04fffb 75.5px,#48ffb7 77.5px,#fffc00 84.5px,#ff7e00 89.5px,#ff5a00 91.5px,#ff3400 94.5px,#ff1600 98.5px,#ff1700 99.5px,#ff2600 101.5px,#ff3800 103.5px,#ff6000 106.5px,#f80 108.5px,#fe0 112.5px,#f8ff08 113.5px,#58ffa6 119.5px,#1cffe4 121.5px,#00f0ff 122.5px,#00baff 123.5px,#0078ff 124.5px,#002cff 125.5px,#00e 126.5px,#000091 128.5px,#00008f 129.5px,#00008f 197.5px)"></i><i style="width:2px;background:linear-gradient(#00008f 0.5px,#00008f 67.5px,#000093 68.5px,#0000ed 70.5px,#0026ff 71.5px,#0070ff 72.5px,#00e7ff 74.5px,#12ffec 75.5px,#50ffb0 77.5px,#fffc00 84.5px,#ff9a00 88.5px,#ff7300 90.5px,#ff3e00 94.5px,#ff1e00 98.5px,#ff2600 100.5px,#ff5a00 105.5px,#ff8c00 108.5px,#ffed00 112.5px,#f8ff06 113.5px,#c6ff38 115.5px,#45ffba 120.5px,#04fefc 122.5px,#00d2ff 123.5px,#0098ff 124.5px,#000dff 126.5px,#0000da 127.5px,#0000ae 128.5px,#00008f 129.5px,#00008f 197.5px)"></i><i style="width:2px;background:linear-gradient(#00008f 0.5px,#00008f 67.5px,#0000b1 68.5px,#0000dc 69.5px,#000cff 70.5px,#0090ff 72.5px,#00caff 73.5px,#00faff 74.5px,#1fffe0 75.5px,#56ffa8 77.5px,#ebff14 83.5px,#fffb00 84.5px,#ff9e00 88.5px,#ff7b00 90.5px,#ff4700 94.5px,#ff2600 98.5px,#ff2e00 100.5px,#ff6400 105.5px,#ffa600 109.5px,#ffed00 112.5px,#f9ff06 113.5px,#e2ff1e 114.5px,#4dffb2 120.5px,#12ffee 122.5px,#00e8ff 123.5px,#0078ff 125.5px,#0032ff 126.5px,#0000f6 127.5px,#00009e 129.5px,#00008f 130.5px,#00008f 197.5px)"></i><i style="width:2px;background:linear-gradient(#00008f 0.5px,#00008f 66.5px,#0000a4 67.5px,#0000f8 69.5px,#0031ff 70.5px,#0074ff 71.5px,#00e1ff 73.5px,#0afff4 74.5px,#46ffba 76.5px,#d6ff2a 82.5px,#fffb00 84.5px,#ffb600 87.5px,#ff8300 90.5px,#ff4f00 94.5px,#ff2f00 98.5px,#ff3600 100.5px,#ff6c00 105.5px,#fa0 109.5px,#ffed00 112.5px,#faff05 113.5px,#e3ff1c 114.5px,#3cffc4 121.5px,#00fbff 123.5px,#0098ff 125.5px,#0018ff 127.5px,#0000e7 128.5px,#000094 130.5px,#00008f 131.5px,#00008f 197.5px)"></i><i style="width:2px;background:linear-gradient(#00008f 0.5px,#00008f 65.5px,#009 66.5px,#0000ea 68.5px,#001aff 69.5px,#0094ff 71.5px,#00f4ff 73.5px,#18ffe6 74.5px,#4effb1 76.5px,#eeff12 83.5px,#fffa00 84.5px,#fa0 88.5px,#ff6f00 92.5px,#ff4300 96.5px,#ff3700 98.5px,#ff3e00 100.5px,#ff6700 104.5px,#ffb000 109.5px,#ffed00 112.5px,#fbff04 113.5px,#4fb 121.5px,#0cfff4 123.5px,#00e4ff 124.5px,#007eff 126.5px,#0006fe 128.5px,#0000da 129.5px,#00008f 131.5px,#00008f 197.5px)"></i><i style="width:2px;background:linear-gradient(#00008f 0.5px,#00008f 64.5px,#000094 65.5px,#0000e0 67.5px,#0009ff 68.5px,#00b0ff 71.5px,#00deff 72.5px,#06fffa 73.5px,#24ffda 74.5px,#5fa 76.5px,#ef1 83.5px,#fffa00 84.5px,#ffc000 87.5px,#f70 92.5px,#ff4b00 96.5px,#ff4000 98.5px,#ff4600 100.5px,#ff6f00 104.5px,#ffb600 109.5px,#fe0 112.5px,#fbff04 113.5px,#4cffb3 121.5px,#19ffe6 123.5px,#00f6ff 124.5px,#009cff 126.5px,#0028ff 128.5px,#0000f6 129.5px,#0000ab 131.5px,#00008f 132.5px,#00008f 197.5px)"></i><i style="width:2px;background:linear-gradient(#00008f 0.5px,#000090 64.5px,#0002fa 67.5px,#002bff 68.5px,#09f 70.5px,#00c8ff 71.5px,#00f0ff 72.5px,#13ffec 73.5px,#5cffa4 76.5px,#fffb00 84.5px,#ffc500 87.5px,#ff7200 93.5px,#ff5300 96.5px,#ff4800 98.5px,#ff4f00 100.5px,#ff6a00 103.5px,#ffbc00 109.5px,#fff000 112.5px,#fbff04 113.5px,#3dffc2 122.5px,#06fff8 124.5px,#00e1ff 125.5px,#0085ff 127.5px,#0016ff 129.5px,#0000ec 130.5px,#0000a3 132.5px,#00008f 133.5px,#00008f 197.5px)"></i><i style="width:2px;background:linear-gradient(#00008f 0.5px,#00008f 63.5px,#0000f0 66.5px,#001aff 67.5px,#0083ff 69.5px,#00dcff 71.5px,#02fefd 72.5px,#1effe2 73.5px,#4cffb2 75.5px,#fffc00 84.5px,#ffca00 87.5px,#ff7900 93.5px,#ff5b00 96.5px,#ff5000 98.5px,#ff5700 100.5px,#ff7200 103.5px,#ffd000 110.5px,#fff200 112.5px,#faff05 113.5px,#59ffa6 121.5px,#13ffec 124.5px,#00f2ff 125.5px,#009fff 127.5px,#0008ff 130.5px,#0000e2 131.5px,#00009c 133.5px,#00008f 134.5px,#00008f 197.5px)"></i><i style="width:2px;background:linear-gradient(#00008f 0.5px,#00008f 62.5px,#0000a5 63.5px,#0000e6 65.5px,#000aff 66.5px,#006cff 68.5px,#00c4ff 70.5px,#00ecff 71.5px,#0cfff2 72.5px,#52ffad 75.5px,#fffe00 84.5px,#ff8000 93.5px,#ff6300 96.5px,#ff5900 98.5px,#ff5f00 100.5px,#ff7900 103.5px,#fff400 112.5px,#f8ff06 113.5px,#d3ff2c 115.5px,#4affb5 122.5px,#02fefe 125.5px,#00b4ff 127.5px,#0089ff 128.5px,#0026ff 130.5px,#0001fa 131.5px,#000096 134.5px,#00008f 135.5px,#00008f 197.5px)"></i><i style="width:2px;background:linear-gradient(#00008f 0.5px,#00008f 61.5px,#00009c 62.5px,#0002fb 65.5px,#0026ff 66.5px,#0085ff 68.5px,#00d6ff 70.5px,#00f8ff 71.5px,#15ffea 72.5px,#56ffaa 75.5px,#fcff03 84.5px,#f80 93.5px,#ff6b00 96.5px,#ff6100 98.5px,#ff6700 100.5px,#ff8100 103.5px,#fff800 112.5px,#f6ff0a 113.5px,#c0ff3f 116.5px,#3affc5 123.5px,#0afff5 125.5px,#00eaff 126.5px,#009eff 128.5px,#0014ff 131.5px,#0000f0 132.5px,#000092 135.5px,#00008f 136.5px,#00008f 197.5px)"></i><i style="width:2px;background:linear-gradient(#00008f 0.5px,#00008f 60.5px,#000095 61.5px,#0000f2 64.5px,#0015ff 65.5px,#0097ff 68.5px,#00e2ff 70.5px,#02fffe 71.5px,#44ffba 74.5px,#c7ff38 81.5px,#f9ff06 84.5px,#fff700 85.5px,#ff8f00 93.5px,#ff7400 96.5px,#ff6900 98.5px,#ff6f00 100.5px,#f80 103.5px,#fffc00 112.5px,#c0ff40 116.5px,#3effc2 123.5px,#1fe 125.5px,#00f5ff 126.5px,#08f 129.5px,#0006ff 132.5px,#0000e6 133.5px,#00008f 136.5px,#00008f 197.5px)"></i><i style="width:2px;background:linear-gradient(#00008f 0.5px,#000090 60.5px,#0000e8 63.5px,#0006ff 64.5px,#00a6ff 68.5px,#00eaff 70.5px,#06fff9 71.5px,#46ffb9 74.5px,#b4ff4b 80.5px,#e6ff19 83.5px,#fffc00 85.5px,#ff8c00 94.5px,#ff7100 98.5px,#f70 100.5px,#ff9000 103.5px,#fff400 111.5px,#fdff02 112.5px,#bfff40 116.5px,#3effc0 123.5px,#00fbff 126.5px,#00bcff 128.5px,#0070ff 130.5px,#001cff 132.5px,#0000f9 133.5px,#0000a2 136.5px,#00008f 137.5px,#00008f 197.5px)"></i><i style="width:2px;background:linear-gradient(#00008f 0.5px,#00008f 59.5px,#0000fa 63.5px,#001bff 64.5px,#006aff 66.5px,#00d2ff 69.5px,#00efff 70.5px,#08fff6 71.5px,#3fc 73.5px,#b4ff4c 80.5px,#fdff02 85.5px,#ff9e00 93.5px,#ff7900 98.5px,#ff7f00 100.5px,#ff9800 103.5px,#fffa00 111.5px,#eaff14 113.5px,#adff52 117.5px,#3fffc0 123.5px,#00feff 126.5px,#00e4ff 127.5px,#00a4ff 129.5px,#000dff 133.5px,#0000ef 134.5px,#0000bc 136.5px,#000098 137.5px,#00008f 138.5px,#00008f 197.5px)"></i><i style="width:2px;background:linear-gradient(#00008f 0.5px,#00008f 58.5px,#00009e 59.5px,#0000bf 60.5px,#0000f0 62.5px,#000cff 63.5px,#0078ff 66.5px,#00d7ff 69.5px,#00f2ff 70.5px,#0afff6 71.5px,#59ffa6 75.5px,#b2ff4c 80.5px,#ebff14 84.5px,#fffa00 86.5px,#ffa600 93.5px,#ff8000 98.5px,#f80 100.5px,#ffa000 103.5px,#fff200 110.5px,#fefe00 111.5px,#acff53 117.5px,#3effc0 123.5px,#00fffe 126.5px,#00adff 129.5px,#0020ff 133.5px,#0002fe 134.5px,#0000ce 136.5px,#000092 138.5px,#00008f 139.5px,#00008f 197.5px)"></i><i style="width:2px;background:linear-gradient(#00008f 0.5px,#00008f 57.5px,#000094 58.5px,#0000d2 60.5px,#0002fe 62.5px,#001eff 63.5px,#0084ff 66.5px,#00c0ff 68.5px,#00f2ff 70.5px,#0afff5 71.5px,#a1ff5e 79.5px,#cdff32 82.5px,#fefe01 86.5px,#ffae00 93.5px,#f80 98.5px,#ff8a00 99.5px,#ffa800 103.5px,#fff800 110.5px,#faff05 111.5px,#aaff54 117.5px,#65ff9a 121.5px,#01fffe 126.5px,#00b4ff 129.5px,#0012ff 134.5px,#0000f6 135.5px,#0000c8 137.5px,#00008f 139.5px,#00008f 197.5px)"></i><i style="width:2px;background:linear-gradient(#00008f 0.5px,#00008f 57.5px,#0000ca 59.5px,#0000f6 61.5px,#0010ff 62.5px,#008dff 66.5px,#00c4ff 68.5px,#00f4ff 70.5px,#0afff5 71.5px,#6dff92 76.5px,#a0ff5f 79.5px,#faff06 86.5px,#fff800 87.5px,#ffb500 93.5px,#ff9000 98.5px,#ff9700 100.5px,#ffb900 104.5px,#fffe00 110.5px,#c4ff3b 115.5px,#9aff66 118.5px,#66ff9a 121.5px,#02fffd 126.5px,#00eaff 127.5px,#009eff 130.5px,#0006ff 135.5px,#00e 136.5px,#0000c0 138.5px,#00009f 139.5px,#00008f 140.5px,#00008f 197.5px)"></i><i style="width:2px;background:linear-gradient(#00008f 0.5px,#00008f 56.5px,#00e 60.5px,#0006ff 61.5px,#0095ff 66.5px,#00c8ff 68.5px,#00f6ff 70.5px,#0cfff4 71.5px,#5bffa4 75.5px,#9eff60 79.5px,#fffe00 87.5px,#ffbd00 93.5px,#ff9800 98.5px,#ff9f00 100.5px,#ffb800 103.5px,#fff700 109.5px,#fcff03 110.5px,#98ff66 118.5px,#6f9 121.5px,#03fffc 126.5px,#00ecff 127.5px,#00a4ff 130.5px,#0014ff 135.5px,#0000fb 136.5px,#0000d2 138.5px,#0000b8 139.5px,#000095 140.5px,#00008f 141.5px,#00008f 197.5px)"></i><i style="width:2px;background:linear-gradient(#00008f 0.5px,#00008f 55.5px,#000097 56.5px,#0000ba 57.5px,#0000d4 58.5px,#0000fb 60.5px,#0012ff 61.5px,#0082ff 65.5px,#0cf 68.5px,#00f8ff 70.5px,#0efff2 71.5px,#5cffa4 75.5px,#8eff72 78.5px,#fcff03 87.5px,#ffc400 93.5px,#ffa000 98.5px,#ffa700 100.5px,#ffbe00 103.5px,#fffc00 109.5px,#ecff13 111.5px,#96ff68 118.5px,#54ffab 122.5px,#05fffa 126.5px,#00efff 127.5px,#0092ff 131.5px,#000aff 136.5px,#0000f3 137.5px,#0000ca 139.5px,#00008f 141.5px,#00008f 197.5px)"></i><i style="width:2px;background:linear-gradient(#00008f 0.5px,#000090 55.5px,#00c 57.5px,#0000f4 59.5px,#0009ff 60.5px,#008cff 65.5px,#00d2ff 68.5px,#00fbff 70.5px,#10ffef 71.5px,#5cffa3 75.5px,#8cff74 78.5px,#d6ff29 84.5px,#fffc00 88.5px,#ffca00 93.5px,#ffa700 98.5px,#ffb600 101.5px,#fff600 108.5px,#feff01 109.5px,#94ff6b 118.5px,#5fa 122.5px,#08fff7 126.5px,#00f3ff 127.5px,#009aff 131.5px,#0016ff 136.5px,#0002fe 137.5px,#0000da 139.5px,#0000c2 140.5px,#0000a2 141.5px,#00008f 142.5px,#00008f 197.5px)"></i><i style="width:2px;background:linear-gradient(#00008f 0.5px,#00008f 54.5px,#0000da 57.5px,#0002fe 59.5px,#0015ff 60.5px,#007eff 64.5px,#00c2ff 67.5px,#01fefe 70.5px,#14ffeb 71.5px,#5cffa4 75.5px,#8aff76 78.5px,#feff01 88.5px,#ffc800 94.5px,#ffaf00 98.5px,#ffb500 100.5px,#ffc400 102.5px,#fffa00 108.5px,#e4ff1a 111.5px,#92ff6e 118.5px,#5fa 122.5px,#0cfff3 126.5px,#00f8ff 127.5px,#008cff 132.5px,#000cff 137.5px,#0000f8 138.5px,#0000d2 140.5px,#0000b9 141.5px,#000096 142.5px,#00008f 143.5px,#00008f 197.5px)"></i><i style="width:2px;background:linear-gradient(#00008f 0.5px,#00008f 53.5px,#000097 54.5px,#0000ba 55.5px,#0000d4 56.5px,#0000f8 58.5px,#000bff 59.5px,#009eff 65.5px,#00f1ff 69.5px,#05fffa 70.5px,#4bffb4 74.5px,#86ff78 78.5px,#c4ff3a 83.5px,#f9ff06 88.5px,#fffb00 89.5px,#ffc600 95.5px,#ffb700 98.5px,#ffc200 101.5px,#fff600 107.5px,#f6ff09 109.5px,#a8ff56 116.5px,#64ff9b 121.5px,#00fcff 127.5px,#0096ff 132.5px,#0004ff 138.5px,#0000ca 141.5px,#00008f 143.5px,#00008f 197.5px)"></i><i style="width:2px;background:linear-gradient(#00008f 0.5px,#00008f 53.5px,#00c 55.5px,#0004ff 58.5px,#00bcff 66.5px,#00f5ff 69.5px,#08fff7 70.5px,#5affa5 75.5px,#92ff6d 79.5px,#ceff32 84.5px,#fefe00 89.5px,#fc0 95.5px,#ffbf00 98.5px,#ffc800 101.5px,#fffa00 107.5px,#e8ff16 110.5px,#a6ff58 116.5px,#54ffab 122.5px,#01fffe 127.5px,#009eff 132.5px,#0025ff 137.5px,#0000fc 139.5px,#0000d8 141.5px,#0000c2 142.5px,#0000a1 143.5px,#00008f 144.5px,#00008f 197.5px)"></i><i style="width:2px;background:linear-gradient(#00008f 0.5px,#00008f 52.5px,#0000a4 53.5px,#0000da 55.5px,#0000fc 57.5px,#0024ff 59.5px,#0083ff 63.5px,#00c1ff 66.5px,#00f8ff 69.5px,#0afff4 70.5px,#5affa6 75.5px,#9eff61 80.5px,#e0ff1e 86.5px,#fcff04 89.5px,#ffd200 95.5px,#ffc600 98.5px,#ffce00 101.5px,#fffe00 107.5px,#dcff22 111.5px,#9f6 117.5px,#54ffab 122.5px,#04fffb 127.5px,#00f2ff 128.5px,#0090ff 133.5px,#001bff 138.5px,#0008ff 139.5px,#0000f6 140.5px,#0000d2 142.5px,#0000b8 143.5px,#000094 144.5px,#00008f 145.5px,#00008f 197.5px)"></i><i style="width:2px;background:linear-gradient(#00008f 0.5px,#00008f 51.5px,#000096 52.5px,#0000ba 53.5px,#0000d4 54.5px,#0000f8 56.5px,#0008ff 57.5px,#001bff 58.5px,#008aff 63.5px,#00d8ff 67.5px,#00fcff 69.5px,#0dfff2 70.5px,#5affa4 75.5px,#91ff6e 79.5px,#caff34 84.5px,#faff06 89.5px,#fffc00 90.5px,#ffd800 95.5px,#ffce00 98.5px,#ffd400 101.5px,#fff800 106.5px,#f6ff08 108.5px,#a5ff5a 116.5px,#63ff9c 121.5px,#06fff8 127.5px,#00f4ff 128.5px,#0096ff 133.5px,#0028ff 138.5px,#0002fe 140.5px,#0000e0 142.5px,#0000ca 143.5px,#00008f 145.5px,#00008f 197.5px)"></i><i style="width:2px;background:linear-gradient(#00008f 0.5px,#000090 51.5px,#00c 53.5px,#0000f3 55.5px,#0004ff 56.5px,#00dbff 67.5px,#00feff 69.5px,#10fff0 70.5px,#6aff96 76.5px,#a9ff56 81.5px,#d4ff2c 85.5px,#fffe00 90.5px,#ffde00 95.5px,#ffd400 98.5px,#ffda00 101.5px,#fffa00 106.5px,#ecff13 109.5px,#a5ff5a 116.5px,#64ff9b 121.5px,#08fff6 127.5px,#00f6ff 128.5px,#00afff 132.5px,#001fff 139.5px,#0000fc 141.5px,#0000da 143.5px,#0000a2 145.5px,#00008f 146.5px,#00008f 197.5px)"></i><i style="width:2px;background:linear-gradient(#00008f 0.5px,#00008f 50.5px,#0000a3 51.5px,#0000db 53.5px,#0000fd 55.5px,#001eff 57.5px,#00a7ff 64.5px,#00fffe 69.5px,#85ff7a 78.5px,#beff40 83.5px,#feff02 90.5px,#ffe400 95.5px,#ffda00 98.5px,#ffe000 101.5px,#fffc00 106.5px,#e2ff1e 110.5px,#98ff66 117.5px,#65ff9a 121.5px,#0afff4 127.5px,#00f8ff 128.5px,#00b2ff 132.5px,#0018ff 140.5px,#0008ff 141.5px,#0000f8 142.5px,#0000d2 144.5px,#000094 146.5px,#00008f 147.5px,#00008f 197.5px)"></i><i style="width:2px;background:linear-gradient(#00008f 0.5px,#00008f 49.5px,#000094 50.5px,#0000d2 52.5px,#0000f7 54.5px,#0016ff 56.5px,#00bcff 65.5px,#02fffe 69.5px,#4effb1 74.5px,#90ff6e 79.5px,#c6ff38 84.5px,#f3ff0c 89.5px,#fffd00 91.5px,#ffe200 98.5px,#ffe600 101.5px,#fffa00 105.5px,#f0ff0f 108.5px,#aeff50 115.5px,#72ff8d 120.5px,#0bfff4 127.5px,#00faff 128.5px,#0032ff 139.5px,#0002fe 142.5px,#0000df 144.5px,#00008f 147.5px,#00008f 197.5px)"></i><i style="width:2px;background:linear-gradient(#00008f 0.5px,#00008f 49.5px,#0000de 52.5px,#0001fe 54.5px,#001eff 56.5px,#00d0ff 66.5px,#02fffd 69.5px,#69ff96 76.5px,#9bff64 80.5px,#f0ff0f 89.5px,#fffd00 92.5px,#ffe800 98.5px,#ffec00 101.5px,#fffa00 104.5px,#f4ff0b 107.5px,#acff52 115.5px,#71ff8e 120.5px,#0bfff4 127.5px,#00faff 128.5px,#0028ff 140.5px,#0008ff 142.5px,#0000f9 143.5px,#0000d5 145.5px,#0000bc 146.5px,#00009a 147.5px,#00008f 148.5px,#00008f 197.5px)"></i><i style="width:2px;background:linear-gradient(#00008f 0.5px,#00008f 48.5px,#000097 49.5px,#0000d3 51.5px,#0000f8 53.5px,#0006ff 54.5px,#0024ff 56.5px,#00c0ff 65.5px,#01fffe 69.5px,#68ff98 76.5px,#9aff66 80.5px,#ecff14 89.5px,#fffe00 93.5px,#fe0 98.5px,#fffa00 103.5px,#faff04 105.5px,#e9ff16 108.5px,#aaff54 115.5px,#70ff90 120.5px,#0afff4 127.5px,#00faff 128.5px,#002eff 140.5px,#0002ff 143.5px,#0000e0 145.5px,#0000ca 146.5px,#00008f 148.5px,#00008f 197.5px)"></i><i style="width:2px;background:linear-gradient(#00008f 0.5px,#00008f 48.5px,#0000de 51.5px,#0000fe 53.5px,#0029ff 56.5px,#00fffe 69.5px,#8cff73 79.5px,#acff52 82.5px,#e0ff1f 88.5px,#fefe00 94.5px,#fff400 98.5px,#fffc00 102.5px,#e4ff1b 108.5px,#a8ff56 115.5px,#88ff78 118.5px,#0afff6 127.5px,#00f9ff 128.5px,#0032ff 140.5px,#0006ff 143.5px,#0000f8 144.5px,#0000d6 146.5px,#00009c 148.5px,#00008f 149.5px,#00008f 197.5px)"></i><i style="width:2px;background:linear-gradient(#00008f 0.5px,#00008f 47.5px,#000098 48.5px,#0000d2 50.5px,#0000f6 52.5px,#0004ff 53.5px,#001fff 55.5px,#00feff 69.5px,#0efff2 70.5px,#7eff80 78.5px,#c4ff3b 85.5px,#e8ff18 90.5px,#feff02 95.5px,#fffc00 100.5px,#e6ff1a 107.5px,#afff50 114.5px,#7aff86 119.5px,#08fff8 127.5px,#00f8ff 128.5px,#0037ff 140.5px,#0000fe 144.5px,#0000df 146.5px,#0000c9 147.5px,#00008f 149.5px,#00008f 197.5px)"></i><i style="width:2px;background:linear-gradient(#00008f 0.5px,#00008f 47.5px,#0000dc 50.5px,#0000fb 52.5px,#0023ff 55.5px,#00fcff 69.5px,#0cfff4 70.5px,#7cff82 78.5px,#b8ff47 84.5px,#d6ff28 88.5px,#ecff14 92.5px,#f8ff08 95.5px,#fcff02 99.5px,#e0ff20 107.5px,#acff53 114.5px,#78ff88 119.5px,#06fffa 127.5px,#00f6ff 128.5px,#003bff 140.5px,#0003ff 144.5px,#0000e7 146.5px,#0000ba 148.5px,#00009c 149.5px,#00008f 150.5px,#00008f 197.5px)"></i><i style="width:2px;background:linear-gradient(#00008f 0.5px,#00008f 46.5px,#000098 47.5px,#0000b7 48.5px,#0000e4 50.5px,#0000fe 52.5px,#0026ff 55.5px,#00ecff 68.5px,#00faff 69.5px,#0afff6 70.5px,#6dff92 77.5px,#acff53 83.5px,#cbff34 87.5px,#e6ff1a 92.5px,#f4ff0c 96.5px,#f6ff08 99.5px,#e4ff1c 105.5px,#ceff30 109.5px,#b1ff4e 113.5px,#81ff7e 118.5px,#04fffc 127.5px,#00f4ff 128.5px,#0021ff 142.5px,#0007ff 144.5px,#0000fa 145.5px,#0000dc 147.5px,#0000c7 148.5px,#00008f 150.5px,#00008f 197.5px)"></i><i style="width:2px;background:linear-gradient(#00008f 0.5px,#00008f 46.5px,#0000d9 49.5px,#0000f8 51.5px,#0004ff 52.5px,#001cff 54.5px,#00ceff 66.5px,#00f8ff 69.5px,#08fff8 70.5px,#7f8 78.5px,#a8ff57 83.5px,#d1ff2e 89.5px,#e8ff18 94.5px,#f0ff0e 98.5px,#e2ff1c 104.5px,#c4ff3c 110.5px,#a5ff5a 114.5px,#72ff8d 119.5px,#02fffc 127.5px,#00f4ff 128.5px,#0024ff 142.5px,#0000fe 145.5px,#0000d2 148.5px,#00009a 150.5px,#00008f 151.5px,#00008f 197.5px)"></i><i style="width:2px;background:linear-gradient(#00008f 0.5px,#00008f 45.5px,#000096 46.5px,#0000ce 48.5px,#0000e1 49.5px,#0000fc 51.5px,#001fff 54.5px,#00c0ff 65.5px,#00f8ff 69.5px,#06fff9 70.5px,#74ff8b 78.5px,#acff53 84.5px,#daff26 92.5px,#e8ff18 96.5px,#eaff16 99.5px,#e4ff1c 102.5px,#ceff30 107.5px,#a1ff5e 114.5px,#6fff90 119.5px,#00fffe 127.5px,#0036ff 141.5px,#0003ff 145.5px,#0000f7 146.5px,#0000da 148.5px,#00008f 151.5px,#00008f 197.5px)"></i><i style="width:2px;background:linear-gradient(#00008f 0.5px,#00008f 45.5px,#0000d7 48.5px,#0000fe 51.5px,#02f 54.5px,#00dbff 67.5px,#04fffa 70.5px,#70ff8f 78.5px,#a0ff5f 83.5px,#bcff44 87.5px,#d8ff28 93.5px,#e4ff1c 99.5px,#daff26 103.5px,#c4ff3c 108.5px,#9cff62 114.5px,#5fffa0 120.5px,#00feff 127.5px,#002aff 142.5px,#0006ff 145.5px,#0000fb 146.5px,#0000e2 148.5px,#0000b8 150.5px,#00009a 151.5px,#00008f 152.5px,#00008f 197.5px)"></i><i style="width:2px;background:linear-gradient(#00008f 0.5px,#00008f 44.5px,#000098 45.5px,#00c 47.5px,#0000de 48.5px,#0002ff 51.5px,#0023ff 54.5px,#00e8ff 68.5px,#04fffc 70.5px,#5effa0 77.5px,#a2ff5c 84.5px,#baff44 88.5px,#d4ff2b 94.5px,#dcff22 99.5px,#c6ff39 106.5px,#a0ff60 113.5px,#65ff9a 119.5px,#00feff 127.5px,#002bff 142.5px,#0000fe 146.5px,#0000d8 149.5px,#00008f 152.5px,#00008f 197.5px)"></i><i style="width:2px;background:linear-gradient(#00008f 0.5px,#00008f 44.5px,#0000d5 47.5px,#0000f0 49.5px,#0003ff 51.5px,#0031ff 55.5px,#02fffc 70.5px,#4cffb2 76.5px,#96ff6a 83.5px,#aaff56 86.5px,#c5ff3a 92.5px,#d6ff29 98.5px,#ccff34 103.5px,#9aff65 113.5px,#69ff96 118.5px,#00fcff 127.5px,#001eff 143.5px,#00f 146.5px,#0000df 149.5px,#0000b7 151.5px,#00009b 152.5px,#00008f 153.5px,#00008f 197.5px)"></i><i style="width:2px;background:linear-gradient(#00008f 0.5px,#00008f 43.5px,#000098 44.5px,#0000b4 45.5px,#0000dc 47.5px,#0000fb 50.5px,#0004ff 51.5px,#0024ff 54.5px,#02fffe 70.5px,#7cff82 81.5px,#98ff68 84.5px,#c2ff3d 93.5px,#d0ff30 98.5px,#c4ff3a 103.5px,#94ff6a 113.5px,#00fbff 127.5px,#002cff 142.5px,#00f 146.5px,#0000f0 148.5px,#0000d6 150.5px,#00008f 153.5px,#00008f 197.5px)"></i><i style="width:2px;background:linear-gradient(#00008f 0.5px,#00008f 43.5px,#0000d2 46.5px,#0000ec 48.5px,#0000fc 50.5px,#0004ff 51.5px,#0018ff 53.5px,#0ff 70.5px,#8aff74 83.5px,#a2ff5c 87.5px,#c4ff3c 95.5px,#caff36 98.5px,#c2ff3e 102.5px,#8fff70 113.5px,#08fff8 126.5px,#00faff 127.5px,#0020ff 143.5px,#0001ff 146.5px,#0000f2 148.5px,#0000dc 150.5px,#0000ca 151.5px,#00009a 153.5px,#00008f 154.5px,#00008f 197.5px)"></i><i style="width:2px;background:linear-gradient(#00008f 0.5px,#00008f 42.5px,#000095 43.5px,#0000b0 44.5px,#0000d8 46.5px,#00e 48.5px,#0000fc 50.5px,#000eff 52.5px,#0027ff 54.5px,#00f2ff 69.5px,#00feff 70.5px,#0afff4 71.5px,#7dff82 82.5px,#8dff72 84.5px,#baff45 94.5px,#c4ff3b 98.5px,#bcff43 102.5px,#8aff75 113.5px,#06fffa 126.5px,#00f9ff 127.5px,#002eff 142.5px,#0002ff 146.5px,#0000e0 150.5px,#0000be 152.5px,#00008f 154.5px,#00008f 197.5px)"></i><i style="width:2px;background:linear-gradient(#00008f 0.5px,#00008f 42.5px,#00d 46.5px,#0000fe 50.5px,#002aff 54.5px,#00f0ff 69.5px,#00fcff 70.5px,#09fff6 71.5px,#7aff86 82.5px,#89ff76 84.5px,#b9ff46 95.5px,#bfff40 99.5px,#a0ff5f 108.5px,#86ff79 113.5px,#04fffa 126.5px,#00f8ff 127.5px,#0024ff 143.5px,#0004ff 146.5px,#0000e4 150.5px,#0000c6 152.5px,#000094 154.5px,#00008f 155.5px,#00008f 197.5px)"></i><i style="width:2px;background:linear-gradient(#00008f 0.5px,#00008f 42.5px,#0000c0 44.5px,#0000e1 46.5px,#00f 50.5px,#0020ff 53.5px,#00f0ff 69.5px,#00fcff 70.5px,#08fff8 71.5px,#76ff89 82.5px,#85ff7a 84.5px,#b5ff4a 95.5px,#bf4 99.5px,#b4ff4b 102.5px,#83ff7c 113.5px,#03fffc 126.5px,#00f6ff 127.5px,#001aff 144.5px,#0000fc 147.5px,#0000dc 151.5px,#00c 152.5px,#00009e 154.5px,#00008f 155.5px,#00008f 197.5px)"></i><i style="width:2px;background:linear-gradient(#00008f 0.5px,#00008f 41.5px,#000096 42.5px,#0000c6 44.5px,#0000e4 46.5px,#0002ff 50.5px,#02f 53.5px,#00e2ff 68.5px,#00faff 70.5px,#06fff8 71.5px,#73ff8c 82.5px,#82ff7e 84.5px,#aeff51 94.5px,#b7ff48 99.5px,#a0ff5e 106.5px,#7fff80 113.5px,#02fffd 126.5px,#00f6ff 127.5px,#002aff 143.5px,#0000fe 147.5px,#0000df 151.5px,#0000be 153.5px,#00008f 155.5px,#00008f 197.5px)"></i><i style="width:2px;background:linear-gradient(#00008f 0.5px,#00008f 41.5px,#0000db 45.5px,#00e 47.5px,#0004ff 50.5px,#0030ff 54.5px,#0ef 69.5px,#05fffa 71.5px,#70ff8f 82.5px,#7eff80 84.5px,#9fff60 91.5px,#b4ff4c 98.5px,#a9ff56 103.5px,#7cff83 113.5px,#01fffe 126.5px,#00f4ff 127.5px,#002cff 143.5px,#00f 147.5px,#0000e2 151.5px,#0000c4 153.5px,#000092 155.5px,#00008f 156.5px,#00008f 197.5px)"></i><i style="width:2px;background:linear-gradient(#00008f 0.5px,#00008f 41.5px,#0000be 43.5px,#0000de 45.5px,#0000fc 49.5px,#000eff 51.5px,#00d4ff 67.5px,#04fffb 71.5px,#64ff9a 81.5px,#7cff84 84.5px,#a4ff5c 93.5px,#b0ff4f 99.5px,#8eff70 109.5px,#72ff8d 114.5px,#00feff 126.5px,#0001ff 147.5px,#0000ec 150.5px,#0000d9 152.5px,#0000b6 154.5px,#00009c 155.5px,#00008f 156.5px,#00008f 197.5px)"></i><i style="width:2px;background:linear-gradient(#00008f 0.5px,#00008f 40.5px,#000092 41.5px,#0000c4 43.5px,#0000e0 45.5px,#0000fc 49.5px,#0010ff 51.5px,#00ecff 69.5px,#03fffc 71.5px,#62ff9d 81.5px,#78ff86 84.5px,#9aff66 91.5px,#adff52 98.5px,#a6ff59 102.5px,#7cff83 112.5px,#5effa0 116.5px,#00feff 126.5px,#0002ff 147.5px,#0000dc 152.5px,#0000bc 154.5px,#00008f 156.5px,#00008f 197.5px)"></i><i style="width:2px;background:linear-gradient(#00008f 0.5px,#00008f 40.5px,#00009a 41.5px,#0000b4 42.5px,#0000d8 44.5px,#0000fe 49.5px,#0012ff 51.5px,#02fffd 71.5px,#58ffa8 80.5px,#82ff7e 86.5px,#a4ff5a 95.5px,#aaff56 99.5px,#96ff6a 106.5px,#7aff86 112.5px,#5cffa2 116.5px,#00fdff 126.5px,#0004ff 147.5px,#0000de 152.5px,#0000c1 154.5px,#00008f 156.5px,#00008f 197.5px)"></i><i style="width:2px;background:linear-gradient(#00008f 0.5px,#00008f 40.5px,#0000ba 42.5px,#0000da 44.5px,#0000fe 49.5px,#02fffe 71.5px,#3cffc4 77.5px,#73ff8c 84.5px,#94ff6a 91.5px,#a7ff58 98.5px,#a0ff5e 102.5px,#7cff82 111.5px,#5affa4 116.5px,#00fcff 126.5px,#0010ff 146.5px,#0000fb 148.5px,#0000d4 153.5px,#0000b0 155.5px,#000096 156.5px,#00008f 157.5px,#00008f 197.5px)"></i><i style="width:2px;background:linear-gradient(#00008f 0.5px,#00008f 40.5px,#0000be 42.5px,#0000cf 43.5px,#0000e4 45.5px,#00f 49.5px,#00fffe 71.5px,#4cffb4 79.5px,#7cff82 86.5px,#9cff63 94.5px,#a4ff5b 99.5px,#90ff6e 106.5px,#74ff8a 112.5px,#50ffae 117.5px,#00fcff 126.5px,#0006ff 147.5px,#0000fc 148.5px,#0000d6 153.5px,#0000c9 154.5px,#00009e 156.5px,#00008f 157.5px,#00008f 197.5px)"></i><i style="width:2px;background:linear-gradient(#00008f 0.5px,#00008f 39.5px,#000092 40.5px,#0000ae 41.5px,#0000d2 43.5px,#0002ff 49.5px,#0ff 71.5px,#3affc6 77.5px,#74ff8a 85.5px,#8cff72 90.5px,#a2ff5e 98.5px,#98ff66 103.5px,#78ff88 111.5px,#56ffa8 116.5px,#06fff9 125.5px,#00faff 126.5px,#0012ff 146.5px,#0000fc 148.5px,#0000d8 153.5px,#00b 155.5px,#00008f 157.5px,#00008f 197.5px)"></i><i style="width:2px;background:linear-gradient(#00008f 0.5px,#00008f 39.5px,#00009a 40.5px,#0000b3 41.5px,#0000d4 43.5px,#0002ff 49.5px,#00f4ff 70.5px,#00feff 71.5px,#0afff6 72.5px,#48ffb6 79.5px,#78ff88 86.5px,#98ff68 94.5px,#a0ff60 98.5px,#8cff72 106.5px,#76ff8a 111.5px,#45ffba 118.5px,#06fffa 125.5px,#00faff 126.5px,#0000fe 148.5px,#0000ce 154.5px,#00a 156.5px,#00008f 157.5px,#00008f 197.5px)"></i><i style="width:2px;background:linear-gradient(#00008f 0.5px,#00008f 39.5px,#0000b8 41.5px,#0000d4 43.5px,#0004ff 49.5px,#00f3ff 70.5px,#00feff 71.5px,#08fff6 72.5px,#46ffb8 79.5px,#76ff8a 86.5px,#8cff74 91.5px,#9aff64 96.5px,#9cff62 99.5px,#8eff72 105.5px,#74ff8c 111.5px,#44ffbc 118.5px,#04fffa 125.5px,#00f9ff 126.5px,#0000fe 148.5px,#0000d0 154.5px,#0000af 156.5px,#000094 157.5px,#00008f 158.5px,#00008f 197.5px)"></i><i style="width:2px;background:linear-gradient(#00008f 0.5px,#00008f 39.5px,#00b 41.5px,#0000ca 42.5px,#0000fa 48.5px,#0004ff 49.5px,#00f2ff 70.5px,#08fff8 72.5px,#3effc2 78.5px,#78ff86 87.5px,#96ff6a 95.5px,#9aff64 99.5px,#8cff74 105.5px,#76ff88 110.5px,#4affb6 117.5px,#04fffb 125.5px,#00f8ff 126.5px,#00f 148.5px,#0000d1 154.5px,#0000b4 156.5px,#00009a 157.5px,#00008f 158.5px,#00008f 197.5px)"></i><i style="width:2px;background:linear-gradient(#00008f 0.5px,#00008f 39.5px,#0000ab 40.5px,#00c 42.5px,#0000fa 48.5px,#0006ff 49.5px,#00e7ff 69.5px,#00fcff 71.5px,#07fff8 72.5px,#44ffbc 79.5px,#76ff88 87.5px,#94ff6c 95.5px,#98ff66 99.5px,#8aff76 105.5px,#74ff8a 110.5px,#40ffbe 118.5px,#03fffc 125.5px,#00f8ff 126.5px,#0002ff 148.5px,#0000d2 154.5px,#0000b7 156.5px,#00008f 158.5px,#00008f 197.5px)"></i><i style="width:2px;background:linear-gradient(#00008f 0.5px,#00008f 38.5px,#000094 39.5px,#0000af 40.5px,#00c 42.5px,#0000fc 48.5px,#00f1ff 70.5px,#06fff9 72.5px,#3affc4 78.5px,#6aff96 85.5px,#86ff7a 91.5px,#96ff68 98.5px,#90ff6e 102.5px,#78ff88 109.5px,#38ffc8 119.5px,#02fffd 125.5px,#00f7ff 126.5px,#0002ff 148.5px,#0000c8 155.5px,#0000ba 156.5px,#00008f 158.5px,#00008f 197.5px)"></i><i style="width:2px;background:linear-gradient(#00008f 0.5px,#00008f 38.5px,#00009a 39.5px,#0000b2 40.5px,#0000c2 41.5px,#0000fc 48.5px,#00e6ff 69.5px,#05fffa 72.5px,#32ffce 77.5px,#68ff98 85.5px,#84ff7c 91.5px,#94ff6a 98.5px,#8eff70 102.5px,#76ff8a 109.5px,#3effc2 118.5px,#02fffe 125.5px,#00f6ff 126.5px,#0004ff 148.5px,#0000f8 149.5px,#0000c8 155.5px,#00a 157.5px,#00008f 158.5px,#00008f 197.5px)"></i><i style="width:2px;background:linear-gradient(#00008f 0.5px,#00008f 38.5px,#0000c2 41.5px,#0000fd 48.5px,#00dbff 68.5px,#04fffa 72.5px,#38ffc8 78.5px,#70ff8e 87.5px,#8eff72 95.5px,#92ff6c 99.5px,#80ff7e 106.5px,#6eff90 110.5px,#3cffc3 118.5px,#00fffe 125.5px,#00f6ff 126.5px,#0004ff 148.5px,#0000f9 149.5px,#0000c9 155.5px,#0000ae 157.5px,#000094 158.5px,#00008f 159.5px,#00008f 197.5px)"></i><i style="width:2px;background:linear-gradient(#00008f 0.5px,#00008f 38.5px,#0000b6 40.5px,#0000c3 41.5px,#0000fe 48.5px,#00d0ff 67.5px,#04fffb 72.5px,#36ffc8 78.5px,#6aff96 86.5px,#83ff7c 92.5px,#90ff6e 99.5px,#7eff80 106.5px,#62ff9e 112.5px,#34ffcc 119.5px,#0ff 125.5px,#0005ff 148.5px,#0000fa 149.5px,#0000be 156.5px,#0000b0 157.5px,#000098 158.5px,#00008f 159.5px,#00008f 197.5px)"></i><i style="width:2px;background:linear-gradient(#00008f 0.5px,#00008f 38.5px,#0000b7 40.5px,#0000fe 48.5px,#00c5ff 66.5px,#03fffc 72.5px,#35ffca 78.5px,#68ff98 86.5px,#7eff80 91.5px,#8fff70 98.5px,#80ff7e 105.5px,#66ff9a 111.5px,#32ffcd 119.5px,#00feff 125.5px,#0006ff 148.5px,#0000fa 149.5px,#0000be 156.5px,#00008f 159.5px,#00008f 197.5px)"></i><i style="width:2px;background:linear-gradient(#00008f 0.5px,#000090 38.5px,#0000a8 39.5px,#0000b7 40.5px,#00f 48.5px,#00c5ff 66.5px,#02fffd 72.5px,#42ffbe 80.5px,#6bff94 87.5px,#83ff7c 93.5px,#8eff72 99.5px,#7cff84 106.5px,#69ff96 110.5px,#38ffc7 118.5px,#00feff 125.5px,#0006ff 148.5px,#0000fb 149.5px,#0000be 156.5px,#00008f 159.5px,#00008f 197.5px)"></i><i style="background:linear-gradient(#00008f 0.5px,#000091 38.5px,#0000a9 39.5px,#0000b7 40.5px,#00f 48.5px,#00c5ff 66.5px,#02fffd 72.5px,#3fc 78.5px,#65ff9a 86.5px,#7cff83 91.5px,#8cff73 99.5px,#7eff81 105.5px,#68ff97 110.5px,#3effc1 117.5px,#00fdff 125.5px,#0000fb 149.5px,#0000bd 156.5px,#0000b2 157.5px,#00008f 159.5px,#00008f 197.5px)"></i></div>
<div class="hm" style="left:32px;top:601px;width:145px;height:145px;background:radial-gradient(circle at 72.6px 72.7px,#800000 0px,#860000 3px,#9a0000 6px,#af0000 8px,#ca0000 10px,#fd0000 13px,#ff2700 15px,#ff5600 17px,#ffa700 20px,#fcff03 23px,#84ff7b 27px,#6bff94 28px,#45ffba 30px,#30ffcf 32px,#1bffe4 37px,#15ffea 38px,#01fffe 40px,#00e1ff 42px,#00b5ff 44px,#007bff 46px,#03f 48px,#0009ff 49px,#0000db 50px,#00a 51px,#00008f 52px,#00008f 60px)"></div>
<div class="hm" style="left:198px;top:601px;width:145px;height:145px"><i style="background:#00008f"></i><i style="background:#00008f"></i><i style="background:#00008f"></i><i style="background:#00008f"></i><i style="background:#00008f"></i><i style="background:#00008f"></i><i style="background:#00008f"></i><i style="background:linear-gradient(#00008f 0.5px,#00008f 60.5px,#0000a6 65.5px,#0000af 72.5px,#0000ab 77.5px,#00008f 83.5px,#00008f 144.5px)"></i><i style="background:linear-gradient(#00008f 0.5px,#00008f 54.5px,#0000b0 58.5px,#0000c8 62.5px,#0000d6 67.5px,#0000dc 73.5px,#0000ce 80.5px,#0000b6 84.5px,#000091 88.5px,#00008f 89.5px,#00008f 144.5px)"></i><i style="background:linear-gradient(#00008f 0.5px,#00008f 50.5px,#0000b9 54.5px,#0000e1 59.5px,#0000f8 64.5px,#00f 68.5px,#0005ff 74.5px,#0001ff 77.5px,#0000f3 81.5px,#0000e2 84.5px,#0000c0 88.5px,#00008f 92.5px,#00008f 144.5px)"></i><i style="background:linear-gradient(#00008f 0.5px,#00008f 47.5px,#0000d8 53.5px,#0001ff 58.5px,#001fff 65.5px,#0028ff 73.5px,#0021ff 79.5px,#0004ff 85.5px,#0000f3 87.5px,#0000d6 90.5px,#000091 95.5px,#00008f 96.5px,#00008f 144.5px)"></i><i style="background:linear-gradient(#00008f 0.5px,#00008f 44.5px,#000097 45.5px,#0000de 50.5px,#0000fd 53.5px,#0007ff 54.5px,#0023ff 58.5px,#0039ff 63.5px,#0047ff 75.5px,#03f 83.5px,#001aff 87.5px,#0000fe 90.5px,#0000ce 94.5px,#00008f 98.5px,#00008f 144.5px)"></i><i style="background:linear-gradient(#00008f 0.5px,#00008f 42.5px,#0000d0 46.5px,#0002ff 50.5px,#002eff 55.5px,#0051ff 62.5px,#005cff 67.5px,#0062ff 75.5px,#005bff 80.5px,#0042ff 86.5px,#002cff 89.5px,#0004ff 93.5px,#0000f6 94.5px,#0000ca 97.5px,#000093 100.5px,#00008f 101.5px,#00008f 144.5px)"></i><i style="background:linear-gradient(#00008f 0.5px,#000090 40.5px,#0000d7 44.5px,#0001ff 47.5px,#003bff 53.5px,#0059ff 58.5px,#006dff 64.5px,#0078ff 73.5px,#0075ff 79.5px,#0063ff 85.5px,#04f 90.5px,#0002ff 96.5px,#0000f3 97.5px,#0000c0 100.5px,#000097 102.5px,#00008f 103.5px,#00008f 144.5px)"></i><i style="background:linear-gradient(#00008f 0.5px,#00008f 38.5px,#0000ca 41.5px,#0000fa 44.5px,#0008ff 45.5px,#003dff 50.5px,#0069ff 57.5px,#007fff 64.5px,#008aff 73.5px,#0087ff 80.5px,#0072ff 87.5px,#0047ff 93.5px,#000aff 98.5px,#0000f9 99.5px,#0000c3 102.5px,#000097 104.5px,#00008f 105.5px,#00008f 144.5px)"></i><i style="background:linear-gradient(#00008f 0.5px,#00008f 36.5px,#00d 40.5px,#0000fd 42.5px,#0030ff 46.5px,#004cff 49.5px,#0071ff 55.5px,#0086ff 61.5px,#0098ff 74.5px,#0096ff 81.5px,#008aff 86.5px,#0078ff 90.5px,#0050ff 95.5px,#0000fd 101.5px,#0000c2 104.5px,#000093 106.5px,#00008f 107.5px,#00008f 144.5px)"></i><i style="background:linear-gradient(#00008f 0.5px,#00008f 34.5px,#00009c 35.5px,#0000db 38.5px,#0000fd 40.5px,#0048ff 46.5px,#0060ff 49.5px,#0076ff 53.5px,#0090ff 61.5px,#00a2ff 75.5px,#00a0ff 83.5px,#0087ff 91.5px,#0073ff 94.5px,#004bff 98.5px,#0000fd 103.5px,#00008f 108.5px,#00008f 144.5px)"></i><i style="background:linear-gradient(#00008f 0.5px,#00008f 32.5px,#000093 33.5px,#0000d6 36.5px,#0000fb 38.5px,#004aff 44.5px,#0069ff 48.5px,#0079ff 51.5px,#08f 55.5px,#09f 63.5px,#00a9ff 78.5px,#00a2ff 88.5px,#08f 94.5px,#0070ff 97.5px,#004eff 100.5px,#0000fa 105.5px,#00009c 109.5px,#00008f 110.5px,#00008f 144.5px)"></i><i style="background:linear-gradient(#00008f 0.5px,#00008f 31.5px,#0000f5 36.5px,#0008ff 37.5px,#03f 40.5px,#005cff 44.5px,#0082ff 51.5px,#00a3ff 69.5px,#00aeff 83.5px,#00a8ff 90.5px,#008dff 96.5px,#005cff 101.5px,#0030ff 104.5px,#000aff 106.5px,#0000f4 107.5px,#00008f 111.5px,#00008f 144.5px)"></i><i style="background:linear-gradient(#00008f 0.5px,#000091 30.5px,#0000c3 32.5px,#0001ff 35.5px,#0030ff 38.5px,#0052ff 41.5px,#006aff 44.5px,#007eff 48.5px,#008cff 54.5px,#00b1ff 85.5px,#0af 93.5px,#0090ff 98.5px,#0074ff 101.5px,#004dff 104.5px,#0003ff 108.5px,#0000eb 109.5px,#00009b 112.5px,#00008f 113.5px,#00008f 144.5px)"></i><i style="background:linear-gradient(#00008f 0.5px,#00008f 28.5px,#00009a 29.5px,#0000f7 33.5px,#000aff 34.5px,#0038ff 37.5px,#004fff 39.5px,#0079ff 45.5px,#0086ff 50.5px,#0091ff 65.5px,#00b4ff 89.5px,#0af 96.5px,#0092ff 100.5px,#0067ff 104.5px,#0037ff 107.5px,#000fff 109.5px,#0000f7 110.5px,#00008f 114.5px,#00008f 144.5px)"></i><i style="background:linear-gradient(#00008f 0.5px,#00008f 27.5px,#00f 32.5px,#0023ff 34.5px,#05f 38.5px,#006cff 41.5px,#007aff 44.5px,#0083ff 49.5px,#0086ff 65.5px,#0097ff 77.5px,#00b6ff 91.5px,#00b0ff 97.5px,#0092ff 102.5px,#0071ff 105.5px,#0053ff 107.5px,#0002ff 111.5px,#0000cd 113.5px,#000090 115.5px,#00008f 144.5px)"></i><i style="background:linear-gradient(#00008f 0.5px,#00008f 26.5px,#0000db 29.5px,#0006ff 31.5px,#0037ff 34.5px,#0059ff 37.5px,#006fff 40.5px,#007aff 43.5px,#007fff 48.5px,#0074ff 60.5px,#0078ff 65.5px,#008cff 78.5px,#00afff 89.5px,#00b9ff 95.5px,#00b5ff 98.5px,#00a8ff 101.5px,#0086ff 105.5px,#005cff 108.5px,#000bff 112.5px,#0000f1 113.5px,#000098 116.5px,#00008f 117.5px,#00008f 144.5px)"></i><i style="background:linear-gradient(#00008f 0.5px,#000090 25.5px,#0000c8 27.5px,#0000f7 29.5px,#000cff 30.5px,#003cff 33.5px,#005dff 36.5px,#07f 41.5px,#007bff 45.5px,#0067ff 56.5px,#06f 64.5px,#007aff 77.5px,#00b2ff 92.5px,#00baff 96.5px,#00b3ff 101.5px,#00a8ff 103.5px,#008dff 106.5px,#0064ff 109.5px,#0012ff 113.5px,#0000f8 114.5px,#00009e 117.5px,#00008f 118.5px,#00008f 144.5px)"></i><i style="background:linear-gradient(#00008f 0.5px,#00008f 23.5px,#000094 24.5px,#00c 26.5px,#0000fb 28.5px,#0010ff 29.5px,#0032ff 31.5px,#0056ff 34.5px,#0074ff 39.5px,#0074ff 45.5px,#0054ff 57.5px,#0054ff 64.5px,#0071ff 80.5px,#0af 92.5px,#00bcff 98.5px,#00b3ff 103.5px,#0093ff 107.5px,#0059ff 111.5px,#0000fe 115.5px,#0000a1 118.5px,#00008f 119.5px,#00008f 144.5px)"></i><i style="background:linear-gradient(#00008f 0.5px,#00008f 22.5px,#000096 23.5px,#0000cf 25.5px,#0000fe 27.5px,#0035ff 30.5px,#004eff 32.5px,#0067ff 35.5px,#0073ff 38.5px,#006dff 44.5px,#004aff 53.5px,#0041ff 57.5px,#0042ff 64.5px,#0051ff 70.5px,#0053ff 75.5px,#005fff 80.5px,#0070ff 84.5px,#00b4ff 96.5px,#00beff 100.5px,#00b7ff 104.5px,#09f 108.5px,#005fff 112.5px,#0003ff 116.5px,#0000e5 117.5px,#0000a0 119.5px,#00008f 120.5px,#00008f 144.5px)"></i><i style="background:linear-gradient(#00008f 0.5px,#000093 22.5px,#0000d0 24.5px,#0001ff 26.5px,#0037ff 29.5px,#0050ff 31.5px,#0061ff 33.5px,#006fff 36.5px,#0069ff 42.5px,#0034ff 54.5px,#002eff 57.5px,#0031ff 63.5px,#0043ff 70.5px,#0045ff 76.5px,#0051ff 81.5px,#006fff 87.5px,#00acff 96.5px,#00bfff 101.5px,#00baff 105.5px,#00afff 107.5px,#0092ff 110.5px,#0075ff 112.5px,#004fff 114.5px,#0004ff 117.5px,#0000e3 118.5px,#00009c 120.5px,#00008f 121.5px,#00008f 144.5px)"></i><i style="background:linear-gradient(#00008f 0.5px,#00008f 21.5px,#0000ce 23.5px,#0002ff 25.5px,#0038ff 28.5px,#0051ff 30.5px,#0067ff 33.5px,#006eff 36.5px,#0062ff 41.5px,#002fff 50.5px,#0020ff 55.5px,#0021ff 60.5px,#003aff 70.5px,#003bff 78.5px,#04f 82.5px,#0056ff 86.5px,#00a8ff 97.5px,#00b9ff 100.5px,#00c1ff 103.5px,#00b9ff 107.5px,#0096ff 111.5px,#0079ff 113.5px,#0052ff 115.5px,#0002ff 118.5px,#000097 121.5px,#00008f 122.5px,#00008f 144.5px)"></i><i style="background:linear-gradient(#00008f 0.5px,#00008f 20.5px,#00f 24.5px,#0029ff 26.5px,#0051ff 29.5px,#06f 32.5px,#006cff 35.5px,#0060ff 39.5px,#0020ff 49.5px,#0014ff 53.5px,#0019ff 59.5px,#0037ff 69.5px,#0037ff 82.5px,#0050ff 88.5px,#00b2ff 100.5px,#00c2ff 105.5px,#00b6ff 109.5px,#09f 112.5px,#0068ff 115.5px,#0039ff 117.5px,#0000fe 119.5px,#000090 122.5px,#00008f 144.5px)"></i><i style="background:linear-gradient(#00008f 0.5px,#00008f 19.5px,#0000fb 23.5px,#0037ff 26.5px,#0051ff 28.5px,#0065ff 31.5px,#0069ff 33.5px,#005fff 37.5px,#001eff 46.5px,#000aff 51.5px,#000dff 55.5px,#003fff 69.5px,#0032ff 84.5px,#0046ff 89.5px,#00a8ff 100.5px,#0bf 103.5px,#00c4ff 106.5px,#00beff 109.5px,#00b1ff 111.5px,#009bff 113.5px,#0067ff 116.5px,#001aff 119.5px,#0000f9 120.5px,#00008f 123.5px,#00008f 144.5px)"></i><i style="background:linear-gradient(#00008f 0.5px,#00008f 18.5px,#00009f 19.5px,#0000f6 22.5px,#000eff 23.5px,#0034ff 25.5px,#004fff 27.5px,#0064ff 30.5px,#0067ff 32.5px,#005fff 35.5px,#004cff 38.5px,#0012ff 45.5px,#0001ff 49.5px,#0007ff 53.5px,#003fff 63.5px,#0051ff 69.5px,#004bff 75.5px,#0031ff 83.5px,#0030ff 87.5px,#003cff 90.5px,#0053ff 93.5px,#00adff 102.5px,#0bf 104.5px,#00c5ff 107.5px,#00c0ff 110.5px,#00b3ff 112.5px,#009cff 114.5px,#0065ff 117.5px,#0015ff 120.5px,#0000f3 121.5px,#0000a8 123.5px,#00008f 124.5px,#00008f 144.5px)"></i><i style="background:linear-gradient(#00008f 0.5px,#00008f 17.5px,#000096 18.5px,#0000f1 21.5px,#000aff 22.5px,#0030ff 24.5px,#004cff 26.5px,#005dff 28.5px,#0064ff 30.5px,#0063ff 32.5px,#0054ff 35.5px,#000eff 43.5px,#0000fc 46.5px,#0000f9 48.5px,#0003ff 51.5px,#004dff 61.5px,#005eff 64.5px,#006aff 68.5px,#06f 74.5px,#0032ff 85.5px,#002dff 89.5px,#0042ff 93.5px,#00abff 103.5px,#00baff 105.5px,#00c6ff 108.5px,#00c2ff 111.5px,#00b4ff 113.5px,#009cff 115.5px,#0062ff 118.5px,#000fff 121.5px,#0000eb 122.5px,#00009e 124.5px,#00008f 125.5px,#00008f 144.5px)"></i><i style="background:linear-gradient(#00008f 0.5px,#00008f 17.5px,#0000ea 20.5px,#0004ff 21.5px,#002cff 23.5px,#0048ff 25.5px,#005aff 27.5px,#0062ff 29.5px,#0060ff 31.5px,#004fff 34.5px,#0004ff 42.5px,#0000f3 46.5px,#0000fd 49.5px,#000dff 51.5px,#006cff 61.5px,#0086ff 66.5px,#008bff 69.5px,#007dff 76.5px,#0032ff 87.5px,#002bff 91.5px,#0043ff 95.5px,#00b2ff 105.5px,#00c0ff 107.5px,#00c8ff 110.5px,#00bdff 113.5px,#009bff 116.5px,#005fff 119.5px,#0007ff 122.5px,#0000e2 123.5px,#000092 125.5px,#00008f 144.5px)"></i><i style="background:linear-gradient(#00008f 0.5px,#00008f 16.5px,#0000a5 17.5px,#0000fc 20.5px,#0027ff 22.5px,#04f 24.5px,#0057ff 26.5px,#005fff 28.5px,#005dff 30.5px,#004bff 33.5px,#0003ff 40.5px,#00e 44.5px,#0000f2 46.5px,#0001ff 48.5px,#0086ff 60.5px,#00a1ff 64.5px,#00aeff 69.5px,#0af 73.5px,#009fff 76.5px,#0084ff 80.5px,#0038ff 88.5px,#0027ff 92.5px,#002dff 94.5px,#003cff 96.5px,#00b2ff 106.5px,#00c5ff 109.5px,#00caff 111.5px,#00beff 114.5px,#09f 117.5px,#0059ff 120.5px,#0000fd 123.5px,#0000af 125.5px,#00008f 126.5px,#00008f 144.5px)"></i><i style="background:linear-gradient(#00008f 0.5px,#00008f 15.5px,#009 16.5px,#0000f4 19.5px,#000dff 20.5px,#0032ff 22.5px,#004bff 24.5px,#0058ff 26.5px,#005cff 28.5px,#0047ff 32.5px,#0005ff 38.5px,#0000ea 42.5px,#0000ed 44.5px,#0000fb 46.5px,#001eff 49.5px,#0072ff 55.5px,#00a9ff 60.5px,#00c5ff 64.5px,#00d2ff 68.5px,#0cf 74.5px,#00bdff 77.5px,#0092ff 82.5px,#0036ff 90.5px,#0029ff 92.5px,#0025ff 94.5px,#002eff 96.5px,#0040ff 98.5px,#009cff 105.5px,#00baff 108.5px,#00c8ff 110.5px,#00caff 113.5px,#00b4ff 116.5px,#0096ff 118.5px,#006dff 120.5px,#0016ff 123.5px,#0000f2 124.5px,#0000a1 126.5px,#00008f 127.5px,#00008f 144.5px)"></i><i style="background:linear-gradient(#00008f 0.5px,#00008f 15.5px,#0000cf 17.5px,#0005ff 19.5px,#003bff 22.5px,#004fff 24.5px,#0058ff 26.5px,#0056ff 28.5px,#004bff 30.5px,#0000fd 37.5px,#0000ec 39.5px,#0000e6 41.5px,#0000ed 43.5px,#00f 45.5px,#0078ff 53.5px,#00b8ff 58.5px,#00e8ff 64.5px,#00f6ff 69.5px,#00f0ff 74.5px,#00d3ff 79.5px,#00a9ff 83.5px,#003dff 91.5px,#0025ff 94.5px,#0024ff 96.5px,#0030ff 98.5px,#00b4ff 108.5px,#00c6ff 110.5px,#00ceff 113.5px,#00beff 116.5px,#0093ff 119.5px,#004bff 122.5px,#000bff 124.5px,#0000e5 125.5px,#000091 127.5px,#00008f 144.5px)"></i><i style="background:linear-gradient(#00008f 0.5px,#00008f 14.5px,#0000a3 15.5px,#0000fb 18.5px,#0035ff 21.5px,#004bff 23.5px,#05f 25.5px,#004fff 28.5px,#0040ff 30.5px,#0003ff 35.5px,#0000e3 39.5px,#0000e6 41.5px,#0000f8 43.5px,#0014ff 45.5px,#09f 53.5px,#00c3ff 56.5px,#0ef 60.5px,#00feff 62.5px,#05fffa 63.5px,#14ffeb 66.5px,#1affe5 70.5px,#14ffeb 74.5px,#00feff 78.5px,#0cf 83.5px,#04f 92.5px,#0025ff 95.5px,#0021ff 97.5px,#002cff 99.5px,#0043ff 101.5px,#00b8ff 109.5px,#00ceff 112.5px,#00d0ff 114.5px,#00bdff 117.5px,#00a1ff 119.5px,#005fff 122.5px,#0000fe 125.5px,#0000ad 127.5px,#00008f 128.5px,#00008f 144.5px)"></i><i style="background:linear-gradient(#00008f 0.5px,#00008f 13.5px,#000094 14.5px,#0000f1 17.5px,#000aff 18.5px,#003cff 21.5px,#004dff 23.5px,#0052ff 25.5px,#004dff 27.5px,#003dff 29.5px,#0000fe 34.5px,#0000e8 36.5px,#0000df 38.5px,#0000e6 40.5px,#0000fb 42.5px,#000bff 43.5px,#0af 52.5px,#00e3ff 56.5px,#00faff 58.5px,#06fff9 59.5px,#30ffcf 65.5px,#3bffc4 70.5px,#32ffcd 75.5px,#21ffde 78.5px,#00fbff 82.5px,#00c4ff 86.5px,#003cff 94.5px,#0026ff 96.5px,#001fff 98.5px,#0029ff 100.5px,#003fff 102.5px,#00a3ff 108.5px,#00bcff 110.5px,#00cdff 112.5px,#00d1ff 115.5px,#0bf 118.5px,#009cff 120.5px,#0071ff 122.5px,#0016ff 125.5px,#0000f0 126.5px,#00009a 128.5px,#00008f 129.5px,#00008f 144.5px)"></i><i style="background:linear-gradient(#00008f 0.5px,#00008f 13.5px,#00f 17.5px,#0036ff 20.5px,#0049ff 22.5px,#004fff 24.5px,#04f 27.5px,#0000fc 33.5px,#0000e6 35.5px,#0000dc 37.5px,#0000e6 39.5px,#00f 41.5px,#0097ff 49.5px,#00d9ff 53.5px,#03fffc 56.5px,#24ffdb 59.5px,#4fb 63.5px,#56ffa9 67.5px,#5affa5 70.5px,#5fa 74.5px,#48ffb7 77.5px,#28ffd7 81.5px,#04fffb 84.5px,#00d6ff 87.5px,#0040ff 95.5px,#0027ff 97.5px,#001dff 99.5px,#0026ff 101.5px,#003dff 103.5px,#0098ff 108.5px,#00c1ff 111.5px,#00d4ff 114.5px,#00d2ff 116.5px,#00c4ff 118.5px,#0097ff 121.5px,#0068ff 123.5px,#0007ff 126.5px,#0000df 127.5px,#00008f 129.5px,#00008f 144.5px)"></i><i style="background:linear-gradient(#00008f 0.5px,#00008f 12.5px,#000098 13.5px,#00b 14.5px,#0000f4 16.5px,#000cff 17.5px,#003cff 20.5px,#004cff 23.5px,#0043ff 26.5px,#0000fb 32.5px,#0000e5 34.5px,#0000dc 36.5px,#0000e6 38.5px,#0003ff 40.5px,#00a4ff 48.5px,#00e7ff 52.5px,#06fff9 54.5px,#2cffd3 57.5px,#52ffad 61.5px,#6bff94 65.5px,#7f8 70.5px,#75ff8a 73.5px,#6f9 77.5px,#3dffc2 82.5px,#08fff7 86.5px,#00f7ff 87.5px,#00d3ff 89.5px,#04f 96.5px,#0027ff 98.5px,#001bff 100.5px,#0023ff 102.5px,#002fff 103.5px,#008dff 108.5px,#0bf 111.5px,#00d4ff 114.5px,#00d6ff 116.5px,#0cf 118.5px,#00a4ff 121.5px,#005dff 124.5px,#001dff 126.5px,#0000f6 127.5px,#0000a0 129.5px,#00008f 130.5px,#00008f 144.5px)"></i><i style="background:linear-gradient(#00008f 0.5px,#00008f 12.5px,#0000e8 15.5px,#0002ff 16.5px,#0028ff 18.5px,#0035ff 19.5px,#0046ff 21.5px,#004aff 23.5px,#0039ff 26.5px,#0000fb 31.5px,#0000e6 33.5px,#0000de 35.5px,#0000e8 37.5px,#0000f4 38.5px,#0006ff 39.5px,#00afff 47.5px,#00e4ff 50.5px,#04fffb 52.5px,#3bffc4 56.5px,#74ff8b 62.5px,#8dff72 67.5px,#92ff6d 71.5px,#87ff78 76.5px,#6dff92 80.5px,#43ffbc 84.5px,#06fff9 88.5px,#00f3ff 89.5px,#0047ff 97.5px,#0027ff 99.5px,#001eff 100.5px,#001cff 102.5px,#0026ff 103.5px,#00b4ff 111.5px,#00d3ff 114.5px,#00d9ff 116.5px,#00caff 119.5px,#00b0ff 121.5px,#006eff 124.5px,#000dff 127.5px,#0000e4 128.5px,#00008f 130.5px,#00008f 144.5px)"></i><i style="background:linear-gradient(#00008f 0.5px,#00008f 11.5px,#009 12.5px,#0000bc 13.5px,#0000f5 15.5px,#000cff 16.5px,#003aff 19.5px,#0047ff 22.5px,#0039ff 25.5px,#0000fc 30.5px,#0000e8 32.5px,#0000e1 34.5px,#0000ed 36.5px,#0000fa 37.5px,#000aff 38.5px,#001dff 39.5px,#00b8ff 46.5px,#01fffe 50.5px,#48ffb7 55.5px,#7dff82 60.5px,#a3ff5c 66.5px,#acff53 71.5px,#a1ff5e 76.5px,#76ff89 82.5px,#45ffba 86.5px,#0ff 90.5px,#0049ff 98.5px,#0027ff 100.5px,#001dff 101.5px,#001bff 102.5px,#002bff 104.5px,#004cff 106.5px,#009bff 110.5px,#00c7ff 113.5px,#00d7ff 115.5px,#00daff 117.5px,#00d1ff 119.5px,#00a9ff 122.5px,#007eff 124.5px,#0062ff 125.5px,#0000f9 128.5px,#0000a1 130.5px,#00008f 131.5px,#00008f 144.5px)"></i><i style="background:linear-gradient(#00008f 0.5px,#00008f 11.5px,#0001ff 15.5px,#0016ff 16.5px,#03f 18.5px,#0045ff 21.5px,#0039ff 24.5px,#0000fe 29.5px,#0000ea 31.5px,#0000e4 33.5px,#0000e9 34.5px,#00f 36.5px,#0038ff 39.5px,#00d3ff 46.5px,#00f8ff 48.5px,#0afff5 49.5px,#60ff9f 55.5px,#95ff6a 60.5px,#bf4 66.5px,#c4ff3b 72.5px,#b5ff4a 77.5px,#90ff6f 82.5px,#52ffad 87.5px,#0afff5 91.5px,#00f3ff 92.5px,#0049ff 99.5px,#0028ff 101.5px,#0020ff 102.5px,#001fff 103.5px,#0031ff 105.5px,#00a4ff 111.5px,#00c2ff 113.5px,#00d5ff 115.5px,#0df 117.5px,#00cfff 120.5px,#00a2ff 123.5px,#05f 126.5px,#000fff 128.5px,#0000e5 129.5px,#00008f 131.5px,#00008f 144.5px)"></i><i style="background:linear-gradient(#00008f 0.5px,#00008f 10.5px,#000097 11.5px,#0000ba 12.5px,#0000f3 14.5px,#000bff 15.5px,#0037ff 18.5px,#0042ff 21.5px,#0031ff 24.5px,#0001ff 28.5px,#0000ed 30.5px,#0000e8 32.5px,#0005ff 35.5px,#002aff 37.5px,#00c5ff 44.5px,#0ff 47.5px,#5dffa2 53.5px,#9f6 58.5px,#b4ff4b 61.5px,#ceff31 65.5px,#dcff23 70.5px,#d1ff2e 76.5px,#a8ff57 82.5px,#6cff93 87.5px,#3affc5 90.5px,#1fe 92.5px,#00faff 93.5px,#004aff 100.5px,#0037ff 101.5px,#0023ff 103.5px,#0024ff 104.5px,#0038ff 106.5px,#009aff 111.5px,#00c9ff 114.5px,#00daff 116.5px,#00deff 118.5px,#0cf 121.5px,#09f 124.5px,#0065ff 126.5px,#0000f9 129.5px,#00009f 131.5px,#00008f 132.5px,#00008f 144.5px)"></i><i style="background:linear-gradient(#00008f 0.5px,#00008f 10.5px,#0000fd 14.5px,#0030ff 17.5px,#0040ff 20.5px,#0032ff 23.5px,#0004ff 27.5px,#0000eb 30.5px,#0000eb 31.5px,#0000fa 33.5px,#001aff 35.5px,#00deff 44.5px,#06fff9 46.5px,#39ffc6 49.5px,#73ff8c 53.5px,#b8ff47 59.5px,#d2ff2d 62.5px,#e9ff16 66.5px,#f3ff0c 71.5px,#e3ff1c 77.5px,#b5ff4a 83.5px,#76ff89 88.5px,#41ffbe 91.5px,#0ff 94.5px,#004aff 101.5px,#0038ff 102.5px,#0026ff 104.5px,#0028ff 105.5px,#0040ff 107.5px,#00a4ff 112.5px,#00c4ff 114.5px,#00d8ff 116.5px,#00e0ff 118.5px,#00dbff 120.5px,#00b8ff 123.5px,#0073ff 126.5px,#000dff 129.5px,#0000e2 130.5px,#00008f 132.5px,#00008f 144.5px)"></i><i style="background:linear-gradient(#00008f 0.5px,#000091 10.5px,#0000d4 12.5px,#0000ef 13.5px,#0007ff 14.5px,#001aff 15.5px,#03f 17.5px,#003dff 20.5px,#03f 22.5px,#0000fc 27.5px,#00e 29.5px,#00e 30.5px,#0000fd 32.5px,#000cff 33.5px,#0032ff 35.5px,#00f5ff 44.5px,#09fff6 45.5px,#5effa1 50.5px,#8f7 53.5px,#b9ff46 57.5px,#e0ff1f 61.5px,#ff0 66.5px,#fff500 70.5px,#fffc00 75.5px,#e6ff19 80.5px,#a9ff56 86.5px,#6dff92 90.5px,#32ffcd 93.5px,#03fffc 95.5px,#00e8ff 96.5px,#0060ff 101.5px,#004aff 102.5px,#002dff 104.5px,#002aff 105.5px,#0039ff 107.5px,#00aeff 113.5px,#0cf 115.5px,#0df 117.5px,#00e2ff 119.5px,#00cfff 122.5px,#00afff 124.5px,#0064ff 127.5px,#001fff 129.5px,#0000f5 130.5px,#009 132.5px,#00008f 133.5px,#00008f 144.5px)"></i><i style="background:linear-gradient(#00008f 0.5px,#00008f 9.5px,#0000a0 10.5px,#0000e0 12.5px,#0000f9 13.5px,#000fff 14.5px,#0035ff 17.5px,#003bff 19.5px,#002cff 22.5px,#0001ff 26.5px,#0000f1 29.5px,#00f 31.5px,#0034ff 34.5px,#00e4ff 42.5px,#00f7ff 43.5px,#0cfff3 44.5px,#42ffbd 47.5px,#9cff63 53.5px,#e3ff1c 59.5px,#fdff02 62.5px,#ffe500 67.5px,#ffde00 71.5px,#ffe600 75.5px,#fffb00 79.5px,#f3ff0c 81.5px,#d6ff29 84.5px,#a3ff5c 88.5px,#5fffa0 92.5px,#04fffb 96.5px,#00e8ff 97.5px,#005fff 102.5px,#0049ff 103.5px,#002fff 105.5px,#0034ff 107.5px,#0042ff 108.5px,#0093ff 112.5px,#00c7ff 115.5px,#00e2ff 118.5px,#00e3ff 120.5px,#00d6ff 122.5px,#00a5ff 125.5px,#008eff 126.5px,#0053ff 128.5px,#0008ff 130.5px,#0000dc 131.5px,#0000ad 132.5px,#00008f 133.5px,#00008f 144.5px)"></i><i style="background:linear-gradient(#00008f 0.5px,#00008f 9.5px,#0000ce 11.5px,#0002ff 13.5px,#002fff 16.5px,#0039ff 18.5px,#002eff 21.5px,#0005ff 25.5px,#0000fc 26.5px,#0000f5 28.5px,#0002ff 30.5px,#0021ff 32.5px,#00e6ff 41.5px,#00f9ff 42.5px,#0efff1 43.5px,#5fa 47.5px,#93ff6c 51.5px,#d6ff29 56.5px,#fffd00 60.5px,#ffd300 66.5px,#ffc800 71.5px,#ffd400 76.5px,#ff0 82.5px,#d3ff2c 86.5px,#a9ff56 89.5px,#62ff9d 93.5px,#03fffc 97.5px,#00e7ff 98.5px,#005dff 103.5px,#0047ff 104.5px,#0032ff 106.5px,#03f 107.5px,#004bff 109.5px,#009eff 113.5px,#00d0ff 116.5px,#00e2ff 118.5px,#00e6ff 120.5px,#00d1ff 123.5px,#00b0ff 125.5px,#0061ff 128.5px,#0019ff 130.5px,#00e 131.5px,#00008f 133.5px,#00008f 144.5px)"></i><i style="background:linear-gradient(#00008f 0.5px,#00008f 8.5px,#000097 9.5px,#0000d8 11.5px,#0000f2 12.5px,#0009ff 13.5px,#0027ff 15.5px,#0036ff 17.5px,#0037ff 18.5px,#0030ff 20.5px,#0001ff 25.5px,#0000f8 27.5px,#0004ff 29.5px,#0036ff 32.5px,#00a7ff 37.5px,#00faff 41.5px,#0efff1 42.5px,#87ff78 49.5px,#d0ff2f 54.5px,#fffd00 58.5px,#ffc800 64.5px,#ffb200 70.5px,#ffb400 73.5px,#ffc400 77.5px,#fff500 83.5px,#feff01 84.5px,#f3ff0c 85.5px,#9dff62 91.5px,#4dffb2 95.5px,#02fffd 98.5px,#0059ff 104.5px,#0039ff 106.5px,#0035ff 107.5px,#0045ff 109.5px,#00abff 114.5px,#0cf 116.5px,#00e1ff 118.5px,#00e8ff 120.5px,#00e1ff 122.5px,#00d7ff 123.5px,#00a4ff 126.5px,#006eff 128.5px,#0029ff 130.5px,#00f 131.5px,#0000a1 133.5px,#00008f 134.5px,#00008f 144.5px)"></i><i style="background:linear-gradient(#00008f 0.5px,#00008f 8.5px,#0000a3 9.5px,#0000c5 10.5px,#0000fa 12.5px,#000fff 13.5px,#002aff 15.5px,#0035ff 18.5px,#002bff 20.5px,#0000fe 25.5px,#0006ff 28.5px,#0035ff 31.5px,#00bcff 37.5px,#00f9ff 40.5px,#0efff1 41.5px,#a8ff57 50.5px,#fdff02 56.5px,#ffba00 63.5px,#ffa300 67.5px,#ff9d00 70.5px,#ffa100 74.5px,#ffb500 78.5px,#ffcd00 81.5px,#fff800 85.5px,#f9ff06 86.5px,#d0ff2f 89.5px,#8cff73 93.5px,#4cffb3 96.5px,#00feff 99.5px,#006dff 104.5px,#05f 105.5px,#003aff 107.5px,#0041ff 109.5px,#0050ff 110.5px,#00a4ff 114.5px,#00d5ff 117.5px,#00e6ff 119.5px,#00e9ff 121.5px,#0df 123.5px,#00c2ff 125.5px,#00aeff 126.5px,#007bff 128.5px,#0010ff 131.5px,#0000e3 132.5px,#0000b3 133.5px,#00008f 134.5px,#00008f 144.5px)"></i><i style="background:linear-gradient(#00008f 0.5px,#00008f 8.5px,#0000cf 10.5px,#0002ff 12.5px,#002cff 15.5px,#03f 17.5px,#002dff 19.5px,#0004ff 24.5px,#00f 25.5px,#0007ff 27.5px,#0034ff 30.5px,#00cfff 37.5px,#00f7ff 39.5px,#0cfff3 40.5px,#9f6 48.5px,#d8ff27 52.5px,#fffb00 55.5px,#ffbf00 60.5px,#ffa500 63.5px,#ff8e00 67.5px,#ff8700 71.5px,#ff8c00 74.5px,#ffa000 78.5px,#ffc300 82.5px,#ff0 87.5px,#9fff60 93.5px,#61ff9e 96.5px,#00faff 100.5px,#0081ff 104.5px,#0051ff 106.5px,#0042ff 107.5px,#003dff 108.5px,#004bff 110.5px,#00b1ff 115.5px,#00d2ff 117.5px,#00e6ff 119.5px,#00ecff 121.5px,#00d8ff 124.5px,#00b7ff 126.5px,#0086ff 128.5px,#0045ff 130.5px,#001eff 131.5px,#0000f3 132.5px,#000091 134.5px,#00008f 144.5px)"></i><i style="background:linear-gradient(#00008f 0.5px,#00008f 7.5px,#000096 8.5px,#0000d7 10.5px,#0000f1 11.5px,#0007ff 12.5px,#0024ff 14.5px,#0031ff 16.5px,#002fff 18.5px,#0008ff 23.5px,#0003ff 25.5px,#0008ff 26.5px,#01f 27.5px,#0031ff 29.5px,#0cf 36.5px,#00f4ff 38.5px,#09fff6 39.5px,#b9ff46 49.5px,#f8ff07 53.5px,#fff700 54.5px,#ffb600 59.5px,#ff8900 64.5px,#ff7400 69.5px,#ff7300 72.5px,#ff8000 76.5px,#ff9c00 80.5px,#ffba00 83.5px,#fffc00 88.5px,#e4ff1b 90.5px,#9eff61 94.5px,#5fffa0 97.5px,#1fe 100.5px,#00f3ff 101.5px,#0060ff 106.5px,#0042ff 108.5px,#0041ff 109.5px,#0057ff 111.5px,#00abff 115.5px,#00ceff 117.5px,#00e5ff 119.5px,#0ef 121.5px,#00deff 124.5px,#0af 127.5px,#0052ff 130.5px,#0002ff 132.5px,#0000a1 134.5px,#00008f 135.5px,#00008f 144.5px)"></i><i style="background:linear-gradient(#00008f 0.5px,#00008f 7.5px,#0000a1 8.5px,#0000df 10.5px,#0000f7 11.5px,#000cff 12.5px,#0026ff 14.5px,#0030ff 16.5px,#002bff 18.5px,#0008ff 23.5px,#0009ff 25.5px,#01f 26.5px,#002fff 28.5px,#00c8ff 35.5px,#05fffa 38.5px,#c9ff36 49.5px,#faff05 52.5px,#fff500 53.5px,#fb0 57.5px,#ff7d00 63.5px,#ff6200 68.5px,#ff5f00 72.5px,#ff6c00 76.5px,#ff9200 81.5px,#ffc000 85.5px,#fffa00 89.5px,#e4ff1b 91.5px,#9cff63 95.5px,#5affa5 98.5px,#0afff5 101.5px,#00ebff 102.5px,#0071ff 106.5px,#005aff 107.5px,#04f 109.5px,#0053ff 111.5px,#00b9ff 116.5px,#00d9ff 118.5px,#00ebff 120.5px,#00efff 122.5px,#00d7ff 125.5px,#00b2ff 127.5px,#007eff 129.5px,#0039ff 131.5px,#0010ff 132.5px,#0000e2 133.5px,#0000b1 134.5px,#00008f 135.5px,#00008f 144.5px)"></i><i style="background:linear-gradient(#00008f 0.5px,#00008f 7.5px,#0000cb 9.5px,#0000fd 11.5px,#001eff 13.5px,#002dff 15.5px,#002dff 17.5px,#000aff 23.5px,#01f 25.5px,#003eff 28.5px,#00c3ff 34.5px,#0ff 37.5px,#d8ff27 49.5px,#faff05 51.5px,#fff400 52.5px,#ffa900 57.5px,#ff7200 62.5px,#ff5200 67.5px,#ff4b00 71.5px,#ff5900 76.5px,#ff7f00 81.5px,#ffae00 85.5px,#fff900 90.5px,#e3ff1c 92.5px,#83ff7c 97.5px,#54ffab 99.5px,#01fffe 102.5px,#0069ff 107.5px,#05f 108.5px,#004aff 109.5px,#0049ff 110.5px,#0060ff 112.5px,#00b5ff 116.5px,#00d6ff 118.5px,#00ebff 120.5px,#00f1ff 122.5px,#00e7ff 124.5px,#00baff 127.5px,#08f 129.5px,#0045ff 131.5px,#001dff 132.5px,#0000f0 133.5px,#00008f 135.5px,#00008f 144.5px)"></i><i style="background:linear-gradient(#00008f 0.5px,#00008f 7.5px,#0000d2 9.5px,#0003ff 11.5px,#0020ff 13.5px,#002cff 15.5px,#002aff 17.5px,#000dff 22.5px,#01f 24.5px,#0028ff 26.5px,#003aff 27.5px,#00f9ff 36.5px,#0dfff2 37.5px,#f8ff07 50.5px,#fff400 51.5px,#ffa500 56.5px,#ff6900 61.5px,#f40 66.5px,#ff3900 70.5px,#ff3b00 73.5px,#ff4600 76.5px,#ff6d00 81.5px,#ffab00 86.5px,#fffa00 91.5px,#e1ff1e 93.5px,#93ff6c 97.5px,#4dffb2 100.5px,#15ffea 102.5px,#00f5ff 103.5px,#0079ff 107.5px,#0061ff 108.5px,#0052ff 109.5px,#004cff 110.5px,#0050ff 111.5px,#005dff 112.5px,#00c3ff 117.5px,#00e1ff 119.5px,#00f1ff 121.5px,#00f1ff 123.5px,#00e2ff 125.5px,#00c2ff 127.5px,#00abff 128.5px,#0091ff 129.5px,#0050ff 131.5px,#0000fd 133.5px,#00009a 135.5px,#00008f 136.5px,#00008f 144.5px)"></i><i style="background:linear-gradient(#00008f 0.5px,#00008f 6.5px,#009 7.5px,#0000d9 9.5px,#0000f1 10.5px,#0007ff 11.5px,#0021ff 13.5px,#002cff 15.5px,#0028ff 17.5px,#0012ff 21.5px,#0012ff 23.5px,#0025ff 25.5px,#0035ff 26.5px,#00caff 33.5px,#00f2ff 35.5px,#06fff9 36.5px,#f5ff0a 49.5px,#fff700 50.5px,#ff9400 56.5px,#ff6200 60.5px,#ff3800 65.5px,#ff2700 70.5px,#ff3000 75.5px,#ff5200 80.5px,#ff8c00 85.5px,#fffd00 92.5px,#8dff72 98.5px,#43ffbc 101.5px,#09fff6 103.5px,#00e9ff 104.5px,#0089ff 107.5px,#006fff 108.5px,#005bff 109.5px,#0051ff 110.5px,#0051ff 111.5px,#006bff 113.5px,#00c0ff 117.5px,#00dfff 119.5px,#00f5ff 122.5px,#00efff 124.5px,#00d9ff 126.5px,#009aff 129.5px,#005aff 131.5px,#0009ff 133.5px,#0000da 134.5px,#0000a6 135.5px,#00008f 136.5px,#00008f 144.5px)"></i><i style="background:linear-gradient(#00008f 0.5px,#00008f 6.5px,#0000a1 7.5px,#0000c2 8.5px,#0000f6 10.5px,#000aff 11.5px,#02f 13.5px,#002bff 15.5px,#0013ff 21.5px,#0019ff 23.5px,#0042ff 26.5px,#00fdff 35.5px,#1fe 36.5px,#fffb00 49.5px,#ff9300 55.5px,#ff5100 60.5px,#ff2700 65.5px,#ff1600 70.5px,#ff1f00 75.5px,#ff4100 80.5px,#ff7c00 85.5px,#ffef00 92.5px,#fdff02 93.5px,#9bff64 98.5px,#6dff92 100.5px,#00fbff 104.5px,#007dff 108.5px,#06f 109.5px,#0058ff 110.5px,#0054ff 111.5px,#0068ff 113.5px,#00bcff 117.5px,#00deff 119.5px,#00f2ff 121.5px,#00f6ff 123.5px,#00ebff 125.5px,#00dfff 126.5px,#00baff 128.5px,#0063ff 131.5px,#0013ff 133.5px,#0000e4 134.5px,#0000b2 135.5px,#00008f 136.5px,#00008f 144.5px)"></i><i style="background:linear-gradient(#00008f 0.5px,#00008f 6.5px,#0000e4 9.5px,#0000fa 10.5px,#001aff 12.5px,#0028ff 14.5px,#0028ff 16.5px,#0017ff 20.5px,#0019ff 22.5px,#003dff 25.5px,#00e2ff 33.5px,#00f5ff 34.5px,#09fff6 35.5px,#75ff8a 41.5px,#fdff02 48.5px,#ff9400 54.5px,#ff4d00 59.5px,#ff1700 65.5px,#ff0600 70.5px,#ff0f00 75.5px,#ff3b00 81.5px,#ff7b00 86.5px,#fff400 93.5px,#f7ff08 94.5px,#a8ff57 98.5px,#62ff9d 101.5px,#0dfff2 104.5px,#00ecff 105.5px,#008bff 108.5px,#0072ff 109.5px,#0060ff 110.5px,#0058ff 111.5px,#005bff 112.5px,#0067ff 113.5px,#0cf 118.5px,#00e9ff 120.5px,#00f7ff 122.5px,#00efff 125.5px,#00d4ff 127.5px,#00a8ff 129.5px,#006bff 131.5px,#001dff 133.5px,#00e 134.5px,#00008f 136.5px,#00008f 144.5px)"></i><i style="background:linear-gradient(#00008f 0.5px,#00008f 6.5px,#0000ce 8.5px,#0000fe 10.5px,#001cff 12.5px,#0028ff 14.5px,#0019ff 20.5px,#0020ff 22.5px,#0049ff 25.5px,#0ff 34.5px,#59ffa6 39.5px,#f5ff0a 47.5px,#fff400 48.5px,#ff7500 55.5px,#ff4a00 58.5px,#ff2800 61.5px,#ff0800 65.5px,#fd0000 67.5px,#f60000 71.5px,#f00 75.5px,#ff1900 79.5px,#ff5000 84.5px,#ffaf00 90.5px,#fffb00 94.5px,#f0ff0f 95.5px,#8f7 100.5px,#56ffa9 102.5px,#00fcff 105.5px,#007eff 109.5px,#0069ff 110.5px,#005eff 111.5px,#005dff 112.5px,#0076ff 114.5px,#00caff 118.5px,#00e8ff 120.5px,#00f8ff 122.5px,#00f8ff 124.5px,#00d8ff 127.5px,#00adff 129.5px,#0072ff 131.5px,#0025ff 133.5px,#0000f7 134.5px,#000091 136.5px,#00008f 144.5px)"></i><i style="background:linear-gradient(#00008f 0.5px,#000092 6.5px,#0000d3 8.5px,#0002ff 10.5px,#001dff 12.5px,#0028ff 14.5px,#001dff 19.5px,#0027ff 22.5px,#05f 25.5px,#00f6ff 33.5px,#09fff6 34.5px,#61ff9e 39.5px,#fffd00 47.5px,#ffad00 51.5px,#ff5800 56.5px,#ff2400 60.5px,#f00 64.5px,#ef0000 67.5px,#e80000 71.5px,#ed0000 74.5px,#ff0300 78.5px,#ff1e00 81.5px,#ff5000 85.5px,#ff9000 89.5px,#ffef00 94.5px,#fbff04 95.5px,#af5 99.5px,#63ff9c 102.5px,#0cfff3 105.5px,#00ebff 106.5px,#008bff 109.5px,#0065ff 111.5px,#0060ff 112.5px,#0075ff 114.5px,#00c8ff 118.5px,#00e7ff 120.5px,#00f8ff 122.5px,#00f9ff 124.5px,#00f3ff 125.5px,#00dbff 127.5px,#00b2ff 129.5px,#0078ff 131.5px,#00f 134.5px,#00009a 136.5px,#00008f 137.5px,#00008f 144.5px)"></i><i style="background:linear-gradient(#00008f 0.5px,#00008f 5.5px,#000098 6.5px,#0000d7 8.5px,#0000f0 9.5px,#0004ff 10.5px,#001eff 12.5px,#0025ff 13.5px,#0028ff 15.5px,#001fff 19.5px,#0026ff 21.5px,#004dff 24.5px,#00feff 33.5px,#10ffef 34.5px,#8fff70 41.5px,#f7ff08 46.5px,#fff200 47.5px,#ff8e00 52.5px,#ff4b00 56.5px,#ff1700 60.5px,#ff0300 62.5px,#fa0000 63.5px,#e60000 66.5px,#da0000 71.5px,#e30000 75.5px,#fd0000 79.5px,#ff0700 80.5px,#ff3500 84.5px,#ff7200 88.5px,#fff800 95.5px,#f2ff0d 96.5px,#8f7 101.5px,#1affe5 105.5px,#00f9ff 106.5px,#0098ff 109.5px,#007eff 110.5px,#006cff 111.5px,#0065ff 112.5px,#0068ff 113.5px,#0074ff 114.5px,#00c5ff 118.5px,#00e5ff 120.5px,#00fbff 123.5px,#00f5ff 125.5px,#00deff 127.5px,#009cff 130.5px,#005aff 132.5px,#0008ff 134.5px,#0000d7 135.5px,#0000a2 136.5px,#00008f 137.5px,#00008f 144.5px)"></i><i style="background:linear-gradient(#00008f 0.5px,#00008f 5.5px,#00009c 6.5px,#0000bf 7.5px,#0000f3 9.5px,#0007ff 10.5px,#001fff 12.5px,#0025ff 13.5px,#02f 19.5px,#002dff 21.5px,#0058ff 24.5px,#00e2ff 31.5px,#06fff9 33.5px,#83ff7c 40.5px,#fffc00 46.5px,#ff9500 51.5px,#ff4e00 55.5px,#ff3000 57.5px,#f00 61.5px,#df0000 65.5px,#ce0000 70.5px,#d70000 75.5px,#fa0000 80.5px,#ff0500 81.5px,#f50 87.5px,#ff9d00 91.5px,#fe0 95.5px,#fcff03 96.5px,#92ff6d 101.5px,#45ffba 104.5px,#08fff7 106.5px,#00e6ff 107.5px,#0089ff 110.5px,#0075ff 111.5px,#006aff 112.5px,#006aff 113.5px,#0084ff 115.5px,#00d4ff 119.5px,#00efff 121.5px,#00fbff 123.5px,#00f6ff 125.5px,#00e1ff 127.5px,#00baff 129.5px,#00a1ff 130.5px,#0060ff 132.5px,#000eff 134.5px,#0000de 135.5px,#00a 136.5px,#00008f 137.5px,#00008f 144.5px)"></i><i style="background:linear-gradient(#00008f 0.5px,#00008f 5.5px,#00009e 6.5px,#0000c0 7.5px,#0000f3 9.5px,#0007ff 10.5px,#001fff 12.5px,#0025ff 13.5px,#0025ff 18.5px,#002bff 20.5px,#0050ff 23.5px,#00fbff 32.5px,#0dfff2 33.5px,#8aff75 40.5px,#f5ff0a 45.5px,#fff300 46.5px,#ffb200 49.5px,#ff6500 53.5px,#ff2500 57.5px,#fe0000 60.5px,#ce0000 66.5px,#c20000 71.5px,#d00000 76.5px,#ff0400 82.5px,#ff2b00 85.5px,#ff5b00 88.5px,#fff900 96.5px,#dcff23 98.5px,#84ff7b 102.5px,#14ffeb 106.5px,#00f2ff 107.5px,#00b1ff 109.5px,#007dff 111.5px,#006fff 112.5px,#006dff 113.5px,#0083ff 115.5px,#00d2ff 119.5px,#0ef 121.5px,#00fbff 123.5px,#00f8ff 125.5px,#00e3ff 127.5px,#00beff 129.5px,#0087ff 131.5px,#003fff 133.5px,#0014ff 134.5px,#0000e4 135.5px,#0000b0 136.5px,#00008f 137.5px,#00008f 144.5px)"></i><i style="background:linear-gradient(#00008f 0.5px,#00008f 5.5px,#0000a0 6.5px,#0000dc 8.5px,#0000f3 9.5px,#0006ff 10.5px,#0024ff 13.5px,#0028ff 18.5px,#0031ff 20.5px,#005aff 23.5px,#00cdff 29.5px,#02fffd 32.5px,#69ff96 38.5px,#feff01 45.5px,#ff6d00 52.5px,#ff2900 56.5px,#f00 59.5px,#e90000 61.5px,#c90000 65.5px,#b80000 70.5px,#ba0000 73.5px,#c60000 76.5px,#db0000 79.5px,#f90000 82.5px,#ff0600 83.5px,#ff6200 89.5px,#fff000 96.5px,#f9ff06 97.5px,#8dff72 102.5px,#3effc1 105.5px,#00feff 107.5px,#00bcff 109.5px,#0085ff 111.5px,#0075ff 112.5px,#0070ff 113.5px,#0082ff 115.5px,#00d0ff 119.5px,#00edff 121.5px,#00fbff 123.5px,#00f9ff 125.5px,#00e5ff 127.5px,#00c1ff 129.5px,#008bff 131.5px,#0019ff 134.5px,#0000e9 135.5px,#0000b6 136.5px,#00008f 137.5px,#00008f 144.5px)"></i><i style="background:linear-gradient(#00008f 0.5px,#00008f 5.5px,#0000a1 6.5px,#0000dc 8.5px,#0000f2 9.5px,#0005ff 10.5px,#02f 13.5px,#002fff 19.5px,#0052ff 22.5px,#00d4ff 29.5px,#00f6ff 31.5px,#08fff7 32.5px,#5cffa3 37.5px,#efff10 44.5px,#fff800 45.5px,#ff8b00 50.5px,#ff5100 53.5px,#ff0300 58.5px,#f60000 59.5px,#d60000 62.5px,#c00000 65.5px,#b20000 68.5px,#ae0000 71.5px,#b70000 75.5px,#c20000 77.5px,#da0000 80.5px,#fb0000 83.5px,#ff1700 85.5px,#ff5900 89.5px,#fffe00 97.5px,#7dff82 103.5px,#48ffb7 105.5px,#0afff5 107.5px,#00e8ff 108.5px,#008eff 111.5px,#007cff 112.5px,#0074ff 113.5px,#0076ff 114.5px,#0082ff 115.5px,#00cfff 119.5px,#00ecff 121.5px,#00fbff 123.5px,#00faff 125.5px,#00e7ff 127.5px,#00abff 130.5px,#006dff 132.5px,#001dff 134.5px,#00e 135.5px,#00008f 137.5px,#00008f 144.5px)"></i><i style="background:linear-gradient(#00008f 0.5px,#00008f 5.5px,#0000a1 6.5px,#0000db 8.5px,#0004ff 10.5px,#0021ff 13.5px,#0034ff 19.5px,#005aff 22.5px,#00fbff 31.5px,#0cfff3 32.5px,#73ff8c 38.5px,#f6ff09 44.5px,#fff100 45.5px,#ff9700 49.5px,#ff5b00 52.5px,#ff2600 55.5px,#ff0800 57.5px,#fa0000 58.5px,#d70000 61.5px,#bd0000 64.5px,#ad0000 67.5px,#a50000 71.5px,#b90000 77.5px,#d10000 80.5px,#f00 84.5px,#ff5000 89.5px,#fff700 97.5px,#f2ff0d 98.5px,#85ff7a 103.5px,#51ffae 105.5px,#14ffeb 107.5px,#00f2ff 108.5px,#0096ff 111.5px,#0082ff 112.5px,#0078ff 113.5px,#0079ff 114.5px,#0083ff 115.5px,#00ceff 119.5px,#00ecff 121.5px,#00fbff 123.5px,#00fbff 125.5px,#00e9ff 127.5px,#00c6ff 129.5px,#00adff 130.5px,#0070ff 132.5px,#0021ff 134.5px,#0000f2 135.5px,#00008f 137.5px,#00008f 144.5px)"></i><i style="background:linear-gradient(#00008f 0.5px,#00008f 5.5px,#0000a1 6.5px,#0000db 8.5px,#0003ff 10.5px,#0020ff 13.5px,#0039ff 19.5px,#0062ff 22.5px,#00beff 27.5px,#01fffe 31.5px,#64ff9b 37.5px,#a1ff5e 40.5px,#fdff02 44.5px,#ff5300 52.5px,#f00 57.5px,#e50000 59.5px,#bd0000 63.5px,#a50000 67.5px,#9e0000 70.5px,#a30000 74.5px,#b80000 78.5px,#d30000 81.5px,#f70000 84.5px,#ff0600 85.5px,#ff4900 89.5px,#fff000 97.5px,#f8ff07 98.5px,#8bff74 103.5px,#59ffa6 105.5px,#00fcff 108.5px,#009eff 111.5px,#0089ff 112.5px,#007dff 113.5px,#007cff 114.5px,#0093ff 116.5px,#00cdff 119.5px,#00ecff 121.5px,#00feff 124.5px,#00f5ff 126.5px,#00dbff 128.5px,#00afff 130.5px,#0072ff 132.5px,#0024ff 134.5px,#0000f5 135.5px,#00008f 137.5px,#00008f 144.5px)"></i><i style="background:linear-gradient(#00008f 0.5px,#00008f 5.5px,#0000a0 6.5px,#0000da 8.5px,#0001ff 10.5px,#000fff 11.5px,#001fff 13.5px,#0036ff 18.5px,#0059ff 21.5px,#00d5ff 28.5px,#05fffa 31.5px,#68ff97 37.5px,#fffc00 44.5px,#ffb500 47.5px,#ff4c00 52.5px,#ff0800 56.5px,#f90000 57.5px,#c80000 61.5px,#a80000 65.5px,#980000 69.5px,#970000 72.5px,#a00000 75.5px,#b90000 79.5px,#d70000 82.5px,#f00 85.5px,#f50 90.5px,#ffeb00 97.5px,#fdff02 98.5px,#a8ff57 102.5px,#4fb 106.5px,#05fffa 108.5px,#00e3ff 109.5px,#00a6ff 111.5px,#008fff 112.5px,#0082ff 113.5px,#007fff 114.5px,#0094ff 116.5px,#00deff 120.5px,#00f6ff 122.5px,#00feff 124.5px,#00f6ff 126.5px,#00dcff 128.5px,#00b1ff 130.5px,#0074ff 132.5px,#0026ff 134.5px,#0000f7 135.5px,#00008f 137.5px,#00008f 144.5px)"></i><i style="background:linear-gradient(#00008f 0.5px,#00008f 5.5px,#0000a0 6.5px,#0000d8 8.5px,#00f 10.5px,#0018ff 12.5px,#003aff 18.5px,#0060ff 21.5px,#00e9ff 29.5px,#08fff7 31.5px,#58ffa7 36.5px,#94ff6b 39.5px,#f0ff0f 43.5px,#fff600 44.5px,#f90 48.5px,#ff4600 52.5px,#ff0200 56.5px,#f30000 57.5px,#c20000 61.5px,#a20000 65.5px,#920000 69.5px,#910000 72.5px,#9a0000 75.5px,#b30000 79.5px,#d10000 82.5px,#f90000 85.5px,#ff0900 86.5px,#ff4f00 90.5px,#fffc00 98.5px,#7fff80 104.5px,#0dfff2 108.5px,#00ebff 109.5px,#00adff 111.5px,#0096ff 112.5px,#0087ff 113.5px,#0083ff 114.5px,#0095ff 116.5px,#00ecff 121.5px,#00fcff 123.5px,#00fdff 125.5px,#00ecff 127.5px,#00caff 129.5px,#00b2ff 130.5px,#0076ff 132.5px,#0000f9 135.5px,#000090 137.5px,#00008f 144.5px)"></i><i style="background:linear-gradient(#00008f 0.5px,#00008f 5.5px,#00009e 6.5px,#0000d7 8.5px,#0000fe 10.5px,#001fff 13.5px,#0036ff 17.5px,#06f 21.5px,#00fcff 30.5px,#0bfff4 31.5px,#6eff91 37.5px,#f4ff0b 43.5px,#fff200 44.5px,#ff9400 48.5px,#ff4100 52.5px,#fc0000 56.5px,#d30000 59.5px,#ab0000 63.5px,#930000 67.5px,#8c0000 72.5px,#950000 75.5px,#ae0000 79.5px,#c00 82.5px,#ff0300 86.5px,#ff5e00 91.5px,#fff800 98.5px,#f0ff0f 99.5px,#84ff7b 104.5px,#14ffeb 108.5px,#00f2ff 109.5px,#00b4ff 111.5px,#009cff 112.5px,#008cff 113.5px,#0086ff 114.5px,#0097ff 116.5px,#00dfff 120.5px,#00f6ff 122.5px,#0ff 124.5px,#00f7ff 126.5px,#00deff 128.5px,#00b3ff 130.5px,#0076ff 132.5px,#0000fa 135.5px,#000091 137.5px,#00008f 144.5px)"></i><i style="background:linear-gradient(#00008f 0.5px,#00008f 5.5px,#00009d 6.5px,#0000d5 8.5px,#0000fd 10.5px,#0017ff 12.5px,#003aff 17.5px,#005dff 20.5px,#0ff 30.5px,#5dffa2 36.5px,#9f6 39.5px,#f7ff08 43.5px,#ffef00 44.5px,#ff9000 48.5px,#ff3d00 52.5px,#ff0800 55.5px,#f80000 56.5px,#c30000 60.5px,#9f0000 64.5px,#8f0000 67.5px,#870000 71.5px,#8d0000 74.5px,#a20000 78.5px,#c80000 82.5px,#fe0000 86.5px,#ff2000 88.5px,#ff6e00 92.5px,#fff400 98.5px,#f4ff0b 99.5px,#8f7 104.5px,#1affe5 108.5px,#00f9ff 109.5px,#00d8ff 110.5px,#00a2ff 112.5px,#0091ff 113.5px,#008aff 114.5px,#09f 116.5px,#00dfff 120.5px,#00f7ff 122.5px,#01fffe 124.5px,#00f7ff 126.5px,#00deff 128.5px,#00b3ff 130.5px,#07f 132.5px,#0000fa 135.5px,#000091 137.5px,#00008f 144.5px)"></i><i style="background:linear-gradient(#00008f 0.5px,#00008f 5.5px,#00009b 6.5px,#0000d4 8.5px,#0000fc 10.5px,#0048ff 18.5px,#0072ff 21.5px,#00d6ff 27.5px,#02fffd 30.5px,#3cffc3 34.5px,#71ff8e 37.5px,#faff05 43.5px,#ffec00 44.5px,#f70 49.5px,#ff3a00 52.5px,#ff0500 55.5px,#f50000 56.5px,#c00000 60.5px,#9c0000 64.5px,#800 68.5px,#840000 71.5px,#8d0000 75.5px,#9f0000 78.5px,#c50000 82.5px,#fb0000 86.5px,#ff1d00 88.5px,#ff5600 91.5px,#fff200 98.5px,#f6ff09 99.5px,#8bff74 104.5px,#59ffa6 106.5px,#00feff 109.5px,#00a7ff 112.5px,#0096ff 113.5px,#008eff 114.5px,#009cff 116.5px,#00e0ff 120.5px,#00f8ff 122.5px,#01fffe 124.5px,#00f8ff 126.5px,#00deff 128.5px,#00b3ff 130.5px,#0076ff 132.5px,#0000f9 135.5px,#000091 137.5px,#00008f 144.5px)"></i><i style="background:linear-gradient(#00008f 0.5px,#00008f 5.5px,#009 6.5px,#0000d2 8.5px,#0000fa 10.5px,#000aff 11.5px,#004dff 18.5px,#0068ff 20.5px,#00d9ff 27.5px,#04fffb 30.5px,#3dffc2 34.5px,#72ff8d 37.5px,#fcff03 43.5px,#ff4b00 51.5px,#ff0300 55.5px,#f20000 56.5px,#c90000 59.5px,#a10000 63.5px,#890000 67.5px,#820000 71.5px,#870000 74.5px,#9d0000 78.5px,#c20000 82.5px,#f90000 86.5px,#ff0a00 87.5px,#ff4000 90.5px,#fff000 98.5px,#f8ff07 99.5px,#8dff72 104.5px,#41ffbe 107.5px,#04fffb 109.5px,#00e3ff 110.5px,#00acff 112.5px,#009aff 113.5px,#0093ff 114.5px,#009fff 116.5px,#00e2ff 120.5px,#00f9ff 122.5px,#02fffd 124.5px,#00f8ff 126.5px,#00deff 128.5px,#00b2ff 130.5px,#0075ff 132.5px,#0027ff 134.5px,#0000f8 135.5px,#00008f 137.5px,#00008f 144.5px)"></i><i style="background:linear-gradient(#00008f 0.5px,#00008f 5.5px,#000096 6.5px,#0000d0 8.5px,#0000f9 10.5px,#000aff 11.5px,#0052ff 18.5px,#00dcff 27.5px,#05fffa 30.5px,#3dffc2 34.5px,#73ff8c 37.5px,#fdff02 43.5px,#ff7300 49.5px,#ff3600 52.5px,#ff0100 55.5px,#f10000 56.5px,#bc0000 60.5px,#980000 64.5px,#800 67.5px,#800000 71.5px,#860000 74.5px,#9b0000 78.5px,#c10000 82.5px,#f70000 86.5px,#ff0800 87.5px,#ff2b00 89.5px,#ff6700 92.5px,#ffef00 98.5px,#f9ff06 99.5px,#8fff70 104.5px,#5fffa0 106.5px,#08fff7 109.5px,#00e7ff 110.5px,#00b1ff 112.5px,#009fff 113.5px,#0097ff 114.5px,#00a3ff 116.5px,#00e4ff 120.5px,#00faff 122.5px,#02fffd 124.5px,#00f8ff 126.5px,#0df 128.5px,#00b1ff 130.5px,#0073ff 132.5px,#0024ff 134.5px,#0000f5 135.5px,#00008f 137.5px,#00008f 144.5px)"></i><i style="background:linear-gradient(#00008f 0.5px,#000093 6.5px,#0000ce 8.5px,#0000f8 10.5px,#0009ff 11.5px,#0056ff 18.5px,#00d0ff 26.5px,#00f9ff 29.5px,#06fff9 30.5px,#60ff9f 36.5px,#9eff61 39.5px,#fdff02 43.5px,#ff8900 48.5px,#ff4900 51.5px,#ff0100 55.5px,#f00000 56.5px,#c70000 59.5px,#9f0000 63.5px,#870000 67.5px,#800000 71.5px,#850000 74.5px,#9b0000 78.5px,#c00000 82.5px,#f70000 86.5px,#ff0800 87.5px,#ff3e00 90.5px,#fe0 98.5px,#faff05 99.5px,#91ff6e 104.5px,#61ff9e 106.5px,#0bfff4 109.5px,#00ebff 110.5px,#00b5ff 112.5px,#00a3ff 113.5px,#009bff 114.5px,#00a6ff 116.5px,#00f2ff 121.5px,#01fffe 123.5px,#00feff 125.5px,#00ecff 127.5px,#00c8ff 129.5px,#00afff 130.5px,#0071ff 132.5px,#0021ff 134.5px,#0000f1 135.5px,#00008f 137.5px,#00008f 144.5px)"></i><i style="background:linear-gradient(#00008f 0.5px,#000090 6.5px,#0000b0 7.5px,#0000e2 9.5px,#0000f6 10.5px,#0008ff 11.5px,#004cff 17.5px,#00e0ff 27.5px,#00f9ff 29.5px,#07fff8 30.5px,#2effd1 33.5px,#5fffa0 36.5px,#9dff62 39.5px,#fdff02 43.5px,#ff8900 48.5px,#ff4900 51.5px,#ff0100 55.5px,#f00000 56.5px,#bc0000 60.5px,#9f0000 63.5px,#840000 68.5px,#800000 71.5px,#890000 75.5px,#9b0000 78.5px,#c10000 82.5px,#f70000 86.5px,#ff0800 87.5px,#ff3e00 90.5px,#ffef00 98.5px,#f9ff06 99.5px,#91ff6e 104.5px,#48ffb7 107.5px,#0dfff2 109.5px,#0ef 110.5px,#00b9ff 112.5px,#00a8ff 113.5px,#00a0ff 114.5px,#00a1ff 115.5px,#0af 116.5px,#00f4ff 121.5px,#02fffd 123.5px,#00feff 125.5px,#00ebff 127.5px,#00c6ff 129.5px,#00adff 130.5px,#006dff 132.5px,#001cff 134.5px,#0000ec 135.5px,#0000b9 136.5px,#00008f 137.5px,#00008f 144.5px)"></i><i style="background:linear-gradient(#00008f 0.5px,#00008f 6.5px,#0000de 9.5px,#0004ff 11.5px,#0058ff 18.5px,#00d2ff 26.5px,#00f9ff 29.5px,#07fff8 30.5px,#2effd1 33.5px,#5fffa0 36.5px,#9cff63 39.5px,#fcff03 43.5px,#ff7400 49.5px,#ff3700 52.5px,#ff0200 55.5px,#f20000 56.5px,#bd0000 60.5px,#900 64.5px,#850000 68.5px,#810000 71.5px,#870000 74.5px,#9c0000 78.5px,#c20000 82.5px,#f80000 86.5px,#ff0900 87.5px,#ff2c00 89.5px,#ff6800 92.5px,#fff000 98.5px,#f8ff07 99.5px,#91ff6e 104.5px,#63ff9c 106.5px,#10ffef 109.5px,#00f1ff 110.5px,#00bdff 112.5px,#00acff 113.5px,#00a5ff 114.5px,#00afff 116.5px,#00f6ff 121.5px,#00feff 122.5px,#00feff 125.5px,#00e9ff 127.5px,#0af 130.5px,#0069ff 132.5px,#0018ff 134.5px,#0000e7 135.5px,#0000b3 136.5px,#00008f 137.5px,#00008f 144.5px)"></i><i style="background:linear-gradient(#00008f 0.5px,#00008f 6.5px,#0000d9 9.5px,#00f 11.5px,#0056ff 18.5px,#00dfff 27.5px,#06fff9 30.5px,#2dffd2 33.5px,#5dffa2 36.5px,#b1ff4e 40.5px,#faff05 43.5px,#ffeb00 44.5px,#ff8d00 48.5px,#ff3900 52.5px,#ff0400 55.5px,#f40000 56.5px,#bf0000 60.5px,#9b0000 64.5px,#870000 68.5px,#830000 71.5px,#890000 74.5px,#9e0000 78.5px,#c40000 82.5px,#fa0000 86.5px,#ff0b00 87.5px,#ff5600 91.5px,#fff200 98.5px,#f6ff09 99.5px,#7aff85 105.5px,#1fe 109.5px,#00f3ff 110.5px,#00c0ff 112.5px,#00a8ff 114.5px,#00b2ff 116.5px,#00f7ff 121.5px,#00feff 122.5px,#00fdff 125.5px,#00e8ff 127.5px,#00c0ff 129.5px,#08f 131.5px,#0065ff 132.5px,#0012ff 134.5px,#0000e1 135.5px,#0000ac 136.5px,#00008f 137.5px,#00008f 144.5px)"></i><i style="background:linear-gradient(#00008f 0.5px,#00008f 6.5px,#00009e 7.5px,#0000d3 9.5px,#0000fa 11.5px,#000aff 12.5px,#0047ff 17.5px,#00c2ff 25.5px,#00f8ff 29.5px,#05fffa 30.5px,#2cffd3 33.5px,#5cffa3 36.5px,#98ff67 39.5px,#f7ff08 43.5px,#fe0 44.5px,#ff7900 49.5px,#ff3c00 52.5px,#ff0700 55.5px,#f70000 56.5px,#c20000 60.5px,#9e0000 64.5px,#8a0000 68.5px,#860000 71.5px,#8c0000 74.5px,#a10000 78.5px,#c70000 82.5px,#fd0000 86.5px,#ff5900 91.5px,#fff400 98.5px,#f4ff0b 99.5px,#8eff71 104.5px,#49ffb6 107.5px,#12ffed 109.5px,#00f5ff 110.5px,#00c3ff 112.5px,#00abff 114.5px,#00b4ff 116.5px,#00f5ff 121.5px,#0ff 123.5px,#00f9ff 125.5px,#00f0ff 126.5px,#00d1ff 128.5px,#00a0ff 130.5px,#005eff 132.5px,#000aff 134.5px,#0000d9 135.5px,#0000a4 136.5px,#00008f 137.5px,#00008f 144.5px)"></i><i style="background:linear-gradient(#00008f 0.5px,#00008f 6.5px,#000098 7.5px,#0000e3 10.5px,#0000f6 11.5px,#0006ff 12.5px,#0061ff 19.5px,#0df 27.5px,#04fffb 30.5px,#2affd5 33.5px,#6cff93 37.5px,#f4ff0b 43.5px,#fff200 44.5px,#ff9300 48.5px,#ff4000 52.5px,#ff0b00 55.5px,#fb0000 56.5px,#c60000 60.5px,#a20000 64.5px,#8e0000 68.5px,#8a0000 71.5px,#900000 74.5px,#a50000 78.5px,#cb0000 82.5px,#ff0200 86.5px,#ff7100 92.5px,#fff800 98.5px,#f0ff0f 99.5px,#8cff73 104.5px,#48ffb7 107.5px,#12ffed 109.5px,#00f5ff 110.5px,#00c6ff 112.5px,#00b6ff 113.5px,#00afff 114.5px,#00b7ff 116.5px,#00f4ff 121.5px,#00fdff 123.5px,#00f5ff 125.5px,#0df 127.5px,#00b4ff 129.5px,#0079ff 131.5px,#002dff 133.5px,#00f 134.5px,#009 136.5px,#00008f 137.5px,#00008f 144.5px)"></i><i style="background:linear-gradient(#00008f 0.5px,#000091 7.5px,#0000c8 9.5px,#0000f1 11.5px,#0002ff 12.5px,#005fff 19.5px,#00bfff 25.5px,#02fffd 30.5px,#37ffc8 34.5px,#69ff96 37.5px,#f0ff0f 43.5px,#fff600 44.5px,#ff8200 49.5px,#ff3200 53.5px,#ff0100 56.5px,#f10000 57.5px,#cb0000 60.5px,#a70000 64.5px,#930000 68.5px,#8f0000 71.5px,#980000 75.5px,#a00 78.5px,#c50000 81.5px,#f70000 85.5px,#ff0700 86.5px,#ff4d00 90.5px,#fffc00 98.5px,#74ff8b 105.5px,#12ffed 109.5px,#00f6ff 110.5px,#00c8ff 112.5px,#00b2ff 114.5px,#00baff 116.5px,#00ebff 120.5px,#00f9ff 122.5px,#00f1ff 125.5px,#00d7ff 127.5px,#00acff 129.5px,#0070ff 131.5px,#02f 133.5px,#0000f4 134.5px,#00008f 136.5px,#00008f 144.5px)"></i><i style="background:linear-gradient(#00008f 0.5px,#00008f 7.5px,#0000d8 10.5px,#0000fc 12.5px,#004eff 18.5px,#0cf 26.5px,#01fffe 30.5px,#35ffca 34.5px,#6f9 37.5px,#fffb00 44.5px,#ff5e00 51.5px,#ff0600 56.5px,#f70000 57.5px,#d10000 60.5px,#b40000 63.5px,#9c0000 67.5px,#950000 71.5px,#9a0000 74.5px,#b00000 78.5px,#cb0000 81.5px,#fd0000 85.5px,#ff1d00 87.5px,#ff5300 90.5px,#ffeb00 97.5px,#fdff02 98.5px,#71ff8e 105.5px,#1fe 109.5px,#00f6ff 110.5px,#00c9ff 112.5px,#00b5ff 114.5px,#00bdff 116.5px,#00f2ff 121.5px,#00f7ff 122.5px,#00f4ff 124.5px,#00d1ff 127.5px,#00a4ff 129.5px,#06f 131.5px,#0017ff 133.5px,#0000e8 134.5px,#0000b6 135.5px,#00008f 136.5px,#00008f 144.5px)"></i><i style="background:linear-gradient(#00008f 0.5px,#00008f 7.5px,#00009f 8.5px,#0000e6 11.5px,#0000f7 12.5px,#0008ff 13.5px,#004aff 18.5px,#00d8ff 27.5px,#00feff 30.5px,#0bfff4 31.5px,#32ffcd 34.5px,#63ff9c 37.5px,#8aff75 39.5px,#fdff02 44.5px,#ff8e00 49.5px,#ff5100 52.5px,#fd0000 57.5px,#cd0000 61.5px,#b30000 64.5px,#9d0000 69.5px,#9c0000 72.5px,#a50000 75.5px,#be0000 79.5px,#f50000 84.5px,#ff0500 85.5px,#ff5a00 90.5px,#fff000 97.5px,#f8ff07 98.5px,#6eff91 105.5px,#0ffff0 109.5px,#00f5ff 110.5px,#00cbff 112.5px,#00b8ff 114.5px,#00c0ff 116.5px,#00f1ff 121.5px,#00f4ff 123.5px,#00efff 124.5px,#00daff 126.5px,#00b5ff 128.5px,#007eff 130.5px,#0036ff 132.5px,#000bff 133.5px,#0000db 134.5px,#0000a8 135.5px,#00008f 136.5px,#00008f 144.5px)"></i><i style="background:linear-gradient(#00008f 0.5px,#00008f 7.5px,#000097 8.5px,#0000c8 10.5px,#0000fd 13.5px,#0045ff 18.5px,#00c7ff 26.5px,#00fcff 30.5px,#09fff6 31.5px,#2fffd0 34.5px,#71ff8e 38.5px,#f6ff09 44.5px,#fff000 45.5px,#ff9500 49.5px,#ff4600 53.5px,#ff0600 57.5px,#f70000 58.5px,#b00 64.5px,#a70000 68.5px,#a30000 71.5px,#ac0000 75.5px,#b70000 77.5px,#cf0000 80.5px,#fd0000 84.5px,#ff1b00 86.5px,#ff4e00 89.5px,#fff700 97.5px,#f2ff0d 98.5px,#6aff95 105.5px,#0efff1 109.5px,#00f4ff 110.5px,#0cf 112.5px,#0bf 114.5px,#00c3ff 116.5px,#00f0ff 121.5px,#00ebff 124.5px,#00d4ff 126.5px,#0092ff 129.5px,#0051ff 131.5px,#0000fd 133.5px,#00009a 135.5px,#00008f 136.5px,#00008f 144.5px)"></i><i style="background:linear-gradient(#00008f 0.5px,#00008f 8.5px,#0000e3 12.5px,#0004ff 14.5px,#00d3ff 27.5px,#00f9ff 30.5px,#06fff9 31.5px,#5affa5 37.5px,#94ff6b 40.5px,#efff10 44.5px,#fff800 45.5px,#ff7400 51.5px,#ff3d00 54.5px,#ff0100 58.5px,#f30000 59.5px,#d00 61.5px,#bd0000 65.5px,#ad0000 69.5px,#ac0000 71.5px,#b10000 74.5px,#c00000 77.5px,#d80000 80.5px,#f90000 83.5px,#ff1500 85.5px,#ff5700 89.5px,#fffe00 97.5px,#6f9 105.5px,#0cfff3 109.5px,#00f3ff 110.5px,#00cdff 112.5px,#00beff 114.5px,#00c6ff 116.5px,#00eaff 120.5px,#00efff 122.5px,#00e6ff 124.5px,#00cdff 126.5px,#00a3ff 128.5px,#0068ff 130.5px,#001dff 132.5px,#0000f0 133.5px,#00008f 135.5px,#00008f 144.5px)"></i><i style="background:linear-gradient(#00008f 0.5px,#00008f 8.5px,#000095 9.5px,#0000c4 11.5px,#0000fa 14.5px,#000aff 15.5px,#003aff 18.5px,#00b2ff 25.5px,#00eaff 29.5px,#03fffc 31.5px,#5fa 37.5px,#a3ff5c 41.5px,#feff01 45.5px,#ff6a00 52.5px,#ff2600 56.5px,#fd0000 59.5px,#d00 62.5px,#c60000 65.5px,#b90000 68.5px,#b50000 71.5px,#be0000 75.5px,#c90000 77.5px,#ff0300 83.5px,#ff2d00 86.5px,#ff6000 89.5px,#fff000 96.5px,#f8ff07 97.5px,#75ff8a 104.5px,#09fff6 109.5px,#00f2ff 110.5px,#00ceff 112.5px,#00c1ff 114.5px,#00c9ff 116.5px,#00e9ff 120.5px,#00ecff 122.5px,#00e1ff 124.5px,#00c5ff 126.5px,#09f 128.5px,#005cff 130.5px,#000fff 132.5px,#0000e1 133.5px,#0000af 134.5px,#00008f 135.5px,#00008f 144.5px)"></i><i style="background:linear-gradient(#00008f 0.5px,#00008f 9.5px,#0000cd 12.5px,#0002ff 15.5px,#00beff 26.5px,#0ff 31.5px,#50ffaf 37.5px,#87ff78 40.5px,#f5ff0a 45.5px,#fff200 46.5px,#ffb000 49.5px,#ff6200 53.5px,#f20 57.5px,#fb0000 60.5px,#cb0000 66.5px,#c10000 69.5px,#c00000 72.5px,#d30000 77.5px,#ff0100 82.5px,#ff4700 87.5px,#ff9000 91.5px,#fff900 96.5px,#f0ff0f 97.5px,#5cffa3 105.5px,#07fff8 109.5px,#00f0ff 110.5px,#00cfff 112.5px,#00c4ff 114.5px,#00e8ff 120.5px,#00e9ff 122.5px,#00dbff 124.5px,#00bdff 126.5px,#008fff 128.5px,#0050ff 130.5px,#00f 132.5px,#00009e 134.5px,#00008f 135.5px,#00008f 144.5px)"></i><i style="background:linear-gradient(#00008f 0.5px,#000093 10.5px,#0000c1 12.5px,#0000f9 15.5px,#001cff 17.5px,#00abff 25.5px,#00e4ff 29.5px,#00fcff 31.5px,#09fff6 32.5px,#3cffc3 36.5px,#6dff92 39.5px,#fffc00 46.5px,#ff9200 51.5px,#ff4b00 55.5px,#ff1300 59.5px,#fc0000 61.5px,#ea0000 63.5px,#d20000 67.5px,#cb0000 71.5px,#d90000 76.5px,#ff0100 81.5px,#ff2500 84.5px,#ff5200 87.5px,#ff9b00 91.5px,#fe0 95.5px,#fcff03 96.5px,#4fb 106.5px,#04fffb 109.5px,#00efff 110.5px,#00d1ff 112.5px,#00c7ff 114.5px,#00e7ff 120.5px,#00e4ff 122.5px,#00d4ff 124.5px,#00b4ff 126.5px,#0083ff 128.5px,#0065ff 129.5px,#001bff 131.5px,#0000ef 132.5px,#00008f 134.5px,#00008f 144.5px)"></i><i style="background:linear-gradient(#00008f 0.5px,#00008f 10.5px,#0003ff 16.5px,#00b6ff 26.5px,#00edff 30.5px,#05fffa 32.5px,#5fa 38.5px,#8cff73 41.5px,#f7ff08 46.5px,#fff100 47.5px,#ff9e00 51.5px,#ff5700 55.5px,#ff1f00 59.5px,#f00 62.5px,#e80000 65.5px,#d70000 70.5px,#dc0000 74.5px,#ff0400 80.5px,#ff2500 83.5px,#ff5e00 87.5px,#fff800 95.5px,#f2ff0d 96.5px,#52ffad 105.5px,#01fffe 109.5px,#0df 111.5px,#00cbff 113.5px,#0cf 115.5px,#00e5ff 120.5px,#00e0ff 122.5px,#00cdff 124.5px,#0af 126.5px,#07f 128.5px,#000bff 131.5px,#0000de 132.5px,#0000ae 133.5px,#00008f 134.5px,#00008f 144.5px)"></i><i style="background:linear-gradient(#00008f 0.5px,#000090 11.5px,#0000f9 16.5px,#000dff 17.5px,#007fff 23.5px,#00b2ff 26.5px,#01fffe 32.5px,#4fffb0 38.5px,#97ff68 42.5px,#fffc00 47.5px,#ff9800 52.5px,#ff4600 57.5px,#ff1600 61.5px,#fc0000 64.5px,#eb0000 67.5px,#e40000 71.5px,#e90000 74.5px,#f00 78.5px,#ff1b00 81.5px,#ff4c00 85.5px,#ffa000 90.5px,#ffef00 94.5px,#fbff04 95.5px,#b1ff4e 99.5px,#5effa1 104.5px,#00fdff 109.5px,#0df 111.5px,#00cdff 113.5px,#00e2ff 120.5px,#00dbff 122.5px,#00d1ff 123.5px,#00b4ff 125.5px,#0086ff 127.5px,#0048ff 129.5px,#0000f9 131.5px,#00009a 133.5px,#00008f 134.5px,#00008f 144.5px)"></i><i style="background:linear-gradient(#00008f 0.5px,#00008f 11.5px,#00009b 12.5px,#0000dc 15.5px,#0004ff 17.5px,#0079ff 23.5px,#00adff 26.5px,#00f1ff 31.5px,#00fcff 32.5px,#09fff6 33.5px,#58ffa7 39.5px,#8eff71 42.5px,#f5ff0a 47.5px,#fff400 48.5px,#ff9300 53.5px,#ff4600 58.5px,#ff1200 63.5px,#fe0000 66.5px,#f20000 71.5px,#ff0100 76.5px,#ff1600 79.5px,#f30 82.5px,#ff6900 86.5px,#ffad00 90.5px,#fffa00 94.5px,#f0ff0f 95.5px,#00fbff 109.5px,#0df 111.5px,#00cfff 113.5px,#00e0ff 119.5px,#00dcff 121.5px,#00caff 123.5px,#00a9ff 125.5px,#0079ff 127.5px,#0039ff 129.5px,#0012ff 130.5px,#0000e7 131.5px,#00008f 133.5px,#00008f 144.5px)"></i><i style="background:linear-gradient(#00008f 0.5px,#00008f 12.5px,#0000fa 17.5px,#0010ff 18.5px,#00a8ff 26.5px,#00edff 31.5px,#05fffa 33.5px,#34ffcb 37.5px,#61ff9e 40.5px,#97ff68 43.5px,#fdff02 48.5px,#ff9000 54.5px,#ff3d00 60.5px,#ff1300 65.5px,#ff0200 70.5px,#ff0b00 75.5px,#ff2400 79.5px,#ff3700 81.5px,#ff8700 87.5px,#fff400 93.5px,#f7ff08 94.5px,#b0ff4f 98.5px,#52ffad 104.5px,#0afff5 108.5px,#00f8ff 109.5px,#0df 111.5px,#00d1ff 113.5px,#00deff 119.5px,#00ceff 122.5px,#00b2ff 124.5px,#0087ff 126.5px,#004cff 128.5px,#00f 130.5px,#0000a4 132.5px,#00008f 133.5px,#00008f 144.5px)"></i><i style="background:linear-gradient(#00008f 0.5px,#00008f 12.5px,#000098 13.5px,#0000f1 17.5px,#0007ff 18.5px,#0059ff 22.5px,#00a2ff 26.5px,#00cfff 29.5px,#0ff 33.5px,#2effd1 37.5px,#59ffa6 40.5px,#fffb00 49.5px,#ff9f00 54.5px,#ff5800 59.5px,#ff2900 64.5px,#ff1300 69.5px,#ff1700 74.5px,#ff2500 77.5px,#ff3d00 80.5px,#ff7800 85.5px,#fdff02 93.5px,#a6ff59 98.5px,#5bffa4 103.5px,#06fff9 108.5px,#00f5ff 109.5px,#00d6ff 112.5px,#00d3ff 114.5px,#00dbff 119.5px,#00c6ff 122.5px,#0092ff 125.5px,#005cff 127.5px,#0016ff 129.5px,#0000ec 130.5px,#00008f 132.5px,#00008f 144.5px)"></i><i style="background:linear-gradient(#00008f 0.5px,#00008f 13.5px,#0000fc 18.5px,#0065ff 23.5px,#00acff 27.5px,#00efff 32.5px,#06fff9 34.5px,#28ffd7 37.5px,#60ff9f 41.5px,#f5ff0a 49.5px,#fff600 50.5px,#ff9f00 55.5px,#ff5d00 60.5px,#f30 65.5px,#ff2600 68.5px,#f20 71.5px,#ff3000 76.5px,#ff6200 82.5px,#ff9700 86.5px,#fffc00 92.5px,#acff53 97.5px,#54ffab 103.5px,#03fffc 108.5px,#00f3ff 109.5px,#00d8ff 112.5px,#00d9ff 118.5px,#00c9ff 121.5px,#00aeff 123.5px,#0084ff 125.5px,#004bff 127.5px,#0003ff 129.5px,#0000a9 131.5px,#00008f 132.5px,#00008f 144.5px)"></i><i style="background:linear-gradient(#00008f 0.5px,#00008f 13.5px,#000095 14.5px,#0000f2 18.5px,#0009ff 19.5px,#0071ff 24.5px,#00a6ff 27.5px,#00deff 31.5px,#01fffe 34.5px,#2effd1 38.5px,#57ffa8 41.5px,#f8ff07 50.5px,#fff300 51.5px,#ffa100 56.5px,#ff6400 61.5px,#ff3f00 66.5px,#ff3400 70.5px,#ff3d00 75.5px,#ff5f00 80.5px,#ff7f00 83.5px,#ffa800 86.5px,#fffa00 91.5px,#f3ff0c 92.5px,#b1ff4e 96.5px,#0ff 108.5px,#00e6ff 110.5px,#00d9ff 112.5px,#00d6ff 118.5px,#00c1ff 121.5px,#00a3ff 123.5px,#0076ff 125.5px,#0016ff 128.5px,#0000ed 129.5px,#000092 131.5px,#00008f 144.5px)"></i><i style="background:linear-gradient(#00008f 0.5px,#00008f 14.5px,#0000a1 15.5px,#0000fe 19.5px,#0069ff 24.5px,#00afff 28.5px,#00f0ff 33.5px,#07fff8 35.5px,#34ffcb 39.5px,#5dffa2 42.5px,#faff05 51.5px,#fff200 52.5px,#ffa500 57.5px,#ff7600 61.5px,#ff5d00 64.5px,#ff4d00 67.5px,#ff4600 71.5px,#ff4f00 75.5px,#ff7100 80.5px,#ffab00 85.5px,#fff800 90.5px,#f5ff0a 91.5px,#97ff68 97.5px,#09fff6 107.5px,#00faff 108.5px,#00deff 111.5px,#00d2ff 118.5px,#00b8ff 121.5px,#0096ff 123.5px,#06f 125.5px,#0027ff 127.5px,#0001ff 128.5px,#00a 130.5px,#00008f 131.5px,#00008f 144.5px)"></i><i style="background:linear-gradient(#00008f 0.5px,#000093 15.5px,#0000f4 19.5px,#000bff 20.5px,#0061ff 24.5px,#00a8ff 28.5px,#00dfff 32.5px,#01fffe 35.5px,#53ffac 42.5px,#92ff6d 46.5px,#fbff04 52.5px,#ffb700 57.5px,#ff8900 61.5px,#ff6a00 65.5px,#ff5a00 70.5px,#ff5c00 73.5px,#ff6700 76.5px,#ff8400 80.5px,#ffb000 84.5px,#fff900 89.5px,#f6ff09 90.5px,#b7ff48 94.5px,#03fffc 107.5px,#00f6ff 108.5px,#00deff 111.5px,#00d2ff 117.5px,#0bf 120.5px,#08f 123.5px,#05f 125.5px,#0012ff 127.5px,#0000eb 128.5px,#000091 130.5px,#00008f 144.5px)"></i><i style="background:linear-gradient(#00008f 0.5px,#00008f 15.5px,#00009e 16.5px,#0001ff 20.5px,#0058ff 24.5px,#00a1ff 28.5px,#00d9ff 32.5px,#00faff 35.5px,#05fffa 36.5px,#57ffa8 43.5px,#f9ff06 53.5px,#fff500 54.5px,#ffb200 59.5px,#ff8400 64.5px,#ff7100 68.5px,#ff6e00 72.5px,#ff7600 75.5px,#ff8f00 79.5px,#ffb700 83.5px,#fffb00 88.5px,#af5 94.5px,#00fdff 107.5px,#00e0ff 110.5px,#00cdff 117.5px,#00b1ff 120.5px,#008fff 122.5px,#0060ff 124.5px,#0000fc 127.5px,#0000a7 129.5px,#00008f 130.5px,#00008f 144.5px)"></i><i style="background:linear-gradient(#00008f 0.5px,#000090 16.5px,#0000f4 20.5px,#000cff 21.5px,#0062ff 25.5px,#00a9ff 29.5px,#00f4ff 35.5px,#00feff 36.5px,#0afff5 37.5px,#4dffb2 43.5px,#f6ff09 54.5px,#fff900 55.5px,#ffc600 59.5px,#ffa000 63.5px,#ff8900 67.5px,#ff8200 71.5px,#ff8b00 75.5px,#ff9c00 78.5px,#ffc000 82.5px,#fffe00 87.5px,#91ff6e 95.5px,#56ffa9 100.5px,#05fffa 106.5px,#00f8ff 107.5px,#00dcff 110.5px,#00cdff 116.5px,#00b4ff 119.5px,#0095ff 121.5px,#0069ff 123.5px,#000cff 126.5px,#0000e4 127.5px,#00008f 129.5px,#00008f 144.5px)"></i><i style="background:linear-gradient(#00008f 0.5px,#00008f 16.5px,#00009c 17.5px,#0001ff 21.5px,#04f 24.5px,#00a1ff 29.5px,#00e3ff 34.5px,#03fffc 37.5px,#37ffc8 42.5px,#5dffa2 45.5px,#ff0 56.5px,#ffda00 59.5px,#ffb500 63.5px,#ffa300 66.5px,#ff9800 70.5px,#ff9d00 74.5px,#ffb100 78.5px,#ffca00 81.5px,#fff700 85.5px,#fbff04 86.5px,#9eff61 93.5px,#41ffbe 101.5px,#00feff 106.5px,#00dfff 109.5px,#00d4ff 111.5px,#00c7ff 116.5px,#00b6ff 118.5px,#09f 120.5px,#0070ff 122.5px,#0019ff 125.5px,#0000f3 126.5px,#00009f 128.5px,#00008f 129.5px,#00008f 144.5px)"></i><i style="background:linear-gradient(#00008f 0.5px,#00008f 17.5px,#0000f3 21.5px,#000cff 22.5px,#0062ff 26.5px,#00a8ff 30.5px,#00f2ff 36.5px,#06fff9 38.5px,#45ffba 44.5px,#ecff13 56.5px,#fffa00 58.5px,#ffdb00 61.5px,#ffbe00 65.5px,#ffaf00 69.5px,#ffae00 71.5px,#ffb300 74.5px,#ffc700 78.5px,#fffe00 84.5px,#9dff62 92.5px,#45ffba 100.5px,#05fffa 105.5px,#00f8ff 106.5px,#00daff 109.5px,#00c2ff 115.5px,#00abff 118.5px,#008bff 120.5px,#005eff 122.5px,#0001ff 125.5px,#0000b0 127.5px,#00008f 128.5px,#00008f 144.5px)"></i><i style="background:linear-gradient(#00008f 0.5px,#00008f 17.5px,#000098 18.5px,#0000fe 22.5px,#006bff 27.5px,#009fff 30.5px,#00ebff 36.5px,#00feff 38.5px,#09fff6 39.5px,#52ffad 46.5px,#d8ff27 56.5px,#faff05 59.5px,#fffa00 60.5px,#ffd400 65.5px,#ffc500 70.5px,#ffd100 76.5px,#fffe00 82.5px,#3dffc2 100.5px,#00fdff 105.5px,#00d5ff 109.5px,#00b8ff 115.5px,#009bff 118.5px,#007bff 120.5px,#0064ff 121.5px,#000cff 124.5px,#0000e7 125.5px,#000094 127.5px,#00008f 128.5px,#00008f 144.5px)"></i><i style="background:linear-gradient(#00008f 0.5px,#00008f 18.5px,#0000ef 22.5px,#0009ff 23.5px,#0060ff 27.5px,#00a5ff 31.5px,#00d9ff 35.5px,#02fffd 39.5px,#47ffb8 46.5px,#d0ff2f 57.5px,#fffe00 62.5px,#ffe200 67.5px,#ffdb00 71.5px,#ffe300 75.5px,#fffa00 79.5px,#fdff02 80.5px,#d9ff26 84.5px,#4affb5 98.5px,#04fffb 104.5px,#00f6ff 105.5px,#00d7ff 108.5px,#00b3ff 114.5px,#0098ff 117.5px,#06f 120.5px,#0050ff 121.5px,#0016ff 123.5px,#0000f2 124.5px,#0000a3 126.5px,#00008f 127.5px,#00008f 144.5px)"></i><i style="background:linear-gradient(#00008f 0.5px,#000091 19.5px,#0000f9 23.5px,#0012ff 24.5px,#0054ff 27.5px,#009bff 31.5px,#00d1ff 35.5px,#04fffb 40.5px,#32ffcd 45.5px,#bcff43 57.5px,#f1ff0e 63.5px,#fffc00 66.5px,#fff200 71.5px,#fffe00 76.5px,#e8ff17 80.5px,#c6ff39 84.5px,#4bffb4 97.5px,#00fbff 104.5px,#00d1ff 108.5px,#00a8ff 114.5px,#08f 117.5px,#0050ff 120.5px,#0000fb 123.5px,#00008f 126.5px,#00008f 144.5px)"></i><i style="background:linear-gradient(#00008f 0.5px,#00008f 19.5px,#00009a 20.5px,#0000ea 23.5px,#0004ff 24.5px,#006fff 29.5px,#00afff 33.5px,#00d4ff 36.5px,#00fbff 40.5px,#05fffa 41.5px,#cdff32 61.5px,#e7ff18 65.5px,#f5ff0a 71.5px,#eaff15 76.5px,#cf3 81.5px,#38ffc7 98.5px,#0ff 103.5px,#00d3ff 107.5px,#00a4ff 113.5px,#0084ff 116.5px,#004fff 119.5px,#00f 122.5px,#000091 125.5px,#00008f 144.5px)"></i><i style="background:linear-gradient(#00008f 0.5px,#00008f 20.5px,#0000f3 24.5px,#000cff 25.5px,#004fff 28.5px,#00a5ff 33.5px,#00d6ff 37.5px,#00fcff 41.5px,#06fff9 42.5px,#b1ff4e 60.5px,#d1ff2e 65.5px,#dfff20 71.5px,#d8ff27 75.5px,#b9ff46 81.5px,#38ffc7 97.5px,#03fffc 102.5px,#00f6ff 103.5px,#0080ff 115.5px,#004dff 118.5px,#0001ff 121.5px,#0000e1 122.5px,#000097 124.5px,#00008f 125.5px,#00008f 144.5px)"></i><i style="background:linear-gradient(#00008f 0.5px,#000091 21.5px,#0000fc 25.5px,#05f 29.5px,#009aff 33.5px,#00d8ff 38.5px,#00fdff 42.5px,#06fff9 43.5px,#a5ff5a 61.5px,#c0ff3f 66.5px,#c9ff36 71.5px,#c3ff3c 75.5px,#a0ff5f 82.5px,#5effa1 91.5px,#25ffda 98.5px,#06fff9 101.5px,#00f9ff 102.5px,#007cff 114.5px,#004aff 117.5px,#0002ff 120.5px,#00009c 123.5px,#00008f 124.5px,#00008f 144.5px)"></i><i style="background:linear-gradient(#00008f 0.5px,#00008f 21.5px,#00009a 22.5px,#0000eb 25.5px,#0005ff 26.5px,#005bff 30.5px,#00abff 35.5px,#00e3ff 40.5px,#00fdff 43.5px,#07fff8 44.5px,#92ff6d 61.5px,#abff54 66.5px,#b4ff4b 72.5px,#a4ff5b 78.5px,#83ff7c 84.5px,#43ffbc 93.5px,#00fbff 101.5px,#07f 113.5px,#0047ff 116.5px,#0001ff 119.5px,#00009f 122.5px,#00008f 123.5px,#00008f 144.5px)"></i><i style="background:linear-gradient(#00008f 0.5px,#00008f 22.5px,#0000a3 23.5px,#0000f3 26.5px,#000cff 27.5px,#0060ff 31.5px,#00a0ff 35.5px,#00daff 40.5px,#00fdff 44.5px,#06fff9 45.5px,#5effa1 56.5px,#86ff79 62.5px,#98ff67 66.5px,#a1ff5e 71.5px,#96ff69 77.5px,#7aff85 83.5px,#4effb1 90.5px,#04fffb 99.5px,#00faff 100.5px,#0072ff 112.5px,#0042ff 115.5px,#0000fd 118.5px,#0000a0 121.5px,#00008f 122.5px,#00008f 144.5px)"></i><i style="background:linear-gradient(#00008f 0.5px,#00008f 23.5px,#0000f9 27.5px,#0012ff 28.5px,#0064ff 32.5px,#00a2ff 36.5px,#00daff 41.5px,#00fcff 45.5px,#06fff9 46.5px,#70ff8f 61.5px,#83ff7c 65.5px,#8fff70 71.5px,#82ff7d 78.5px,#67ff98 84.5px,#42ffbd 90.5px,#00feff 98.5px,#00cfff 103.5px,#007bff 110.5px,#004fff 113.5px,#0000fa 117.5px,#0000a0 120.5px,#00008f 121.5px,#00008f 144.5px)"></i><i style="background:linear-gradient(#00008f 0.5px,#00008f 23.5px,#000096 24.5px,#00f 28.5px,#05f 32.5px,#0096ff 36.5px,#00d9ff 42.5px,#04fffb 47.5px,#4fb 56.5px,#6f9 62.5px,#78ff87 67.5px,#7eff81 72.5px,#6fff90 79.5px,#4fffb0 86.5px,#2effd1 91.5px,#03fffc 96.5px,#0cf 102.5px,#0084ff 108.5px,#005aff 111.5px,#000eff 115.5px,#0000f5 116.5px,#00009e 119.5px,#00008f 120.5px,#00008f 144.5px)"></i><i style="background:linear-gradient(#00008f 0.5px,#00008f 24.5px,#00009d 25.5px,#0000ed 28.5px,#0005ff 29.5px,#0058ff 33.5px,#0089ff 36.5px,#00ceff 42.5px,#02fffd 48.5px,#38ffc7 56.5px,#53ffac 61.5px,#6eff91 70.5px,#67ff98 77.5px,#51ffae 83.5px,#36ffc9 88.5px,#06fff9 94.5px,#00fcff 95.5px,#009bff 105.5px,#0054ff 110.5px,#0008ff 114.5px,#0000f0 115.5px,#00009a 118.5px,#00008f 119.5px,#00008f 144.5px)"></i><i style="background:linear-gradient(#00008f 0.5px,#00008f 25.5px,#0000f1 29.5px,#0009ff 30.5px,#005aff 34.5px,#0095ff 38.5px,#00deff 45.5px,#00feff 49.5px,#06fff9 50.5px,#46ffb9 61.5px,#58ffa7 66.5px,#60ff9f 72.5px,#56ffa9 78.5px,#3fffc0 84.5px,#2fffd0 87.5px,#0ff 93.5px,#00a1ff 103.5px,#0089ff 105.5px,#004eff 109.5px,#0002ff 113.5px,#0000d0 115.5px,#000095 117.5px,#00008f 118.5px,#00008f 144.5px)"></i><i style="background:linear-gradient(#00008f 0.5px,#00008f 26.5px,#0000f5 30.5px,#000dff 31.5px,#005aff 35.5px,#009fff 40.5px,#00dbff 46.5px,#02fffd 51.5px,#21ffde 56.5px,#41ffbe 63.5px,#52ffad 72.5px,#4bffb4 77.5px,#3affc5 82.5px,#20ffdf 87.5px,#01fffe 91.5px,#0082ff 104.5px,#0048ff 108.5px,#0010ff 111.5px,#0000f9 112.5px,#0000c9 114.5px,#00008f 116.5px,#00008f 144.5px)"></i><i style="background:linear-gradient(#00008f 0.5px,#000092 27.5px,#0000f8 31.5px,#000fff 32.5px,#0037ff 34.5px,#0067ff 37.5px,#009bff 41.5px,#00d7ff 47.5px,#03fffc 53.5px,#34ffcb 63.5px,#41ffbe 68.5px,#4fb 72.5px,#3dffc2 77.5px,#30ffcf 81.5px,#17ffe8 86.5px,#01fffe 89.5px,#005fff 105.5px,#002fff 108.5px,#0007ff 110.5px,#0000f1 111.5px,#00008f 115.5px,#00008f 144.5px)"></i><i style="background:linear-gradient(#00008f 0.5px,#00008f 27.5px,#000096 28.5px,#0000f9 32.5px,#0010ff 33.5px,#0054ff 37.5px,#0097ff 42.5px,#00d2ff 48.5px,#03fffc 55.5px,#24ffdb 62.5px,#32ffcd 67.5px,#36ffc9 72.5px,#28ffd7 79.5px,#0ff 87.5px,#00d2ff 92.5px,#0043ff 105.5px,#0000fe 109.5px,#00009c 113.5px,#00008f 114.5px,#00008f 144.5px)"></i><i style="background:linear-gradient(#00008f 0.5px,#00008f 28.5px,#009 29.5px,#0000e4 32.5px,#0000f7 33.5px,#000bff 34.5px,#004fff 38.5px,#0079ff 41.5px,#00a7ff 45.5px,#00dbff 51.5px,#01fffe 57.5px,#1dffe2 64.5px,#27ffd8 72.5px,#1fffe0 77.5px,#00feff 84.5px,#00ebff 87.5px,#00c7ff 91.5px,#0008ff 107.5px,#0000f3 108.5px,#000092 112.5px,#00008f 113.5px,#00008f 144.5px)"></i><i style="background:linear-gradient(#00008f 0.5px,#00008f 29.5px,#00009b 30.5px,#0000f2 34.5px,#0006ff 35.5px,#0065ff 41.5px,#00b3ff 48.5px,#00daff 53.5px,#0ff 60.5px,#1fe 65.5px,#18ffe7 70.5px,#1fe 76.5px,#02fffd 80.5px,#00f7ff 82.5px,#00c5ff 89.5px,#0080ff 95.5px,#0001ff 105.5px,#0000e4 107.5px,#00008f 111.5px,#00008f 144.5px)"></i><i style="background:linear-gradient(#00008f 0.5px,#00008f 30.5px,#000098 31.5px,#00f 36.5px,#0050ff 41.5px,#0082ff 45.5px,#0af 49.5px,#00e2ff 57.5px,#01fffe 65.5px,#07fff8 70.5px,#01fffe 75.5px,#00e2ff 82.5px,#00a2ff 90.5px,#0006ff 102.5px,#0000f7 103.5px,#0000bc 107.5px,#000094 109.5px,#00008f 110.5px,#00008f 144.5px)"></i><i style="background:linear-gradient(#00008f 0.5px,#00008f 31.5px,#000092 32.5px,#0000f7 37.5px,#0009ff 38.5px,#0047ff 42.5px,#006dff 45.5px,#00b0ff 52.5px,#00cbff 56.5px,#00e3ff 61.5px,#00f3ff 69.5px,#00e9ff 76.5px,#00c4ff 83.5px,#0087ff 90.5px,#0000fe 100.5px,#000091 107.5px,#00008f 144.5px)"></i><i style="background:linear-gradient(#00008f 0.5px,#00008f 33.5px,#0000fe 39.5px,#0056ff 45.5px,#009cff 52.5px,#0cf 60.5px,#00deff 67.5px,#00d6ff 75.5px,#00b1ff 82.5px,#0075ff 89.5px,#0007ff 97.5px,#0000f7 98.5px,#009 104.5px,#00008f 105.5px,#00008f 144.5px)"></i><i style="background:linear-gradient(#00008f 0.5px,#00008f 34.5px,#000096 35.5px,#0000f3 40.5px,#0004ff 41.5px,#05f 47.5px,#0095ff 54.5px,#0bf 61.5px,#00c8ff 67.5px,#00bdff 75.5px,#009dff 81.5px,#0049ff 90.5px,#0001ff 95.5px,#000090 102.5px,#00008f 144.5px)"></i><i style="background:linear-gradient(#00008f 0.5px,#00008f 36.5px,#0000f6 42.5px,#0006ff 43.5px,#0051ff 49.5px,#007dff 54.5px,#00a7ff 62.5px,#00afff 67.5px,#00a8ff 73.5px,#008dff 79.5px,#0064ff 84.5px,#0027ff 90.5px,#0000fa 93.5px,#000098 99.5px,#00008f 100.5px,#00008f 144.5px)"></i><i style="background:linear-gradient(#00008f 0.5px,#000091 38.5px,#0000f5 44.5px,#0004ff 45.5px,#0049ff 51.5px,#0071ff 56.5px,#0086ff 60.5px,#0094ff 66.5px,#008bff 73.5px,#0074ff 78.5px,#05f 82.5px,#00f 90.5px,#00008f 97.5px,#00008f 144.5px)"></i><i style="background:linear-gradient(#00008f 0.5px,#00008f 39.5px,#000094 40.5px,#0000c6 43.5px,#0000fe 47.5px,#002cff 51.5px,#0054ff 56.5px,#006dff 61.5px,#0076ff 65.5px,#006dff 72.5px,#0059ff 77.5px,#003aff 81.5px,#0003ff 86.5px,#0000f6 87.5px,#0000c8 91.5px,#000097 94.5px,#00008f 95.5px,#00008f 144.5px)"></i><i style="background:linear-gradient(#00008f 0.5px,#00008f 41.5px,#000093 42.5px,#0000d0 46.5px,#0002ff 50.5px,#0027ff 54.5px,#004bff 60.5px,#0054ff 63.5px,#0056ff 67.5px,#0040ff 75.5px,#002dff 78.5px,#0000fd 83.5px,#00008f 92.5px,#00008f 144.5px)"></i><i style="background:linear-gradient(#00008f 0.5px,#00008f 44.5px,#0000d3 49.5px,#0000fc 53.5px,#0005ff 54.5px,#0020ff 58.5px,#002dff 61.5px,#03f 66.5px,#001eff 74.5px,#0000fc 79.5px,#0000d2 83.5px,#00008f 88.5px,#00008f 144.5px)"></i><i style="background:linear-gradient(#00008f 0.5px,#00008f 46.5px,#000094 47.5px,#0000c4 51.5px,#0000e0 54.5px,#0001ff 59.5px,#000eff 65.5px,#0002ff 70.5px,#0000f3 74.5px,#0000d0 79.5px,#00008f 85.5px,#00008f 144.5px)"></i><i style="background:linear-gradient(#00008f 0.5px,#00008f 49.5px,#000092 50.5px,#0000b9 54.5px,#0000d4 58.5px,#0000e5 64.5px,#0000e1 67.5px,#0000c7 74.5px,#0000b4 77.5px,#00008f 81.5px,#00008f 144.5px)"></i><i style="background:linear-gradient(#00008f 0.5px,#00008f 54.5px,#0000af 59.5px,#0000b9 63.5px,#0000b5 67.5px,#00008f 76.5px,#00008f 144.5px)"></i><i style="background:#00008f"></i><i style="background:#00008f"></i><i style="background:#00008f"></i><i style="background:#00008f"></i><i style="background:#00008f"></i><i style="background:#00008f"></i><i style="background:#00008f"></i><i style="background:#00008f"></i><i style="background:#00008f"></i><i style="background:#00008f"></i><i style="background:#00008f"></i><i style="background:#00008f"></i><i style="background:#00008f"></i><i style="background:#00008f"></i><i style="background:#00008f"></i></div>
<div class="cb" style="left:433.6px;top:311.6px;width:26.6px;height:198.0px;background:linear-gradient(#800000 0.00% 1.56%,#8f0000 1.56% 3.12%,#9f0000 3.12% 4.69%,#af0000 4.69% 6.25%,#bf0000 6.25% 7.81%,#cf0000 7.81% 9.38%,#df0000 9.38% 10.94%,#ef0000 10.94% 12.50%,#ff0000 12.50% 14.06%,#ff1000 14.06% 15.62%,#ff2000 15.62% 17.19%,#ff3000 17.19% 18.75%,#ff4000 18.75% 20.31%,#ff5000 20.31% 21.88%,#ff6000 21.88% 23.44%,#ff7000 23.44% 25.00%,#ff8000 25.00% 26.56%,#ff8f00 26.56% 28.12%,#ff9f00 28.12% 29.69%,#ffaf00 29.69% 31.25%,#ffbf00 31.25% 32.81%,#ffcf00 32.81% 34.38%,#ffdf00 34.38% 35.94%,#ffef00 35.94% 37.50%,#ffff00 37.50% 39.06%,#efff10 39.06% 40.62%,#dfff20 40.62% 42.19%,#cfff30 42.19% 43.75%,#bfff40 43.75% 45.31%,#afff50 45.31% 46.88%,#9fff60 46.88% 48.44%,#8fff70 48.44% 50.00%,#80ff80 50.00% 51.56%,#70ff8f 51.56% 53.12%,#60ff9f 53.12% 54.69%,#50ffaf 54.69% 56.25%,#40ffbf 56.25% 57.81%,#30ffcf 57.81% 59.38%,#20ffdf 59.38% 60.94%,#10ffef 60.94% 62.50%,#00ffff 62.50% 64.06%,#00efff 64.06% 65.62%,#00dfff 65.62% 67.19%,#00cfff 67.19% 68.75%,#00bfff 68.75% 70.31%,#00afff 70.31% 71.88%,#009fff 71.88% 73.44%,#008fff 73.44% 75.00%,#0080ff 75.00% 76.56%,#0070ff 76.56% 78.12%,#0060ff 78.12% 79.69%,#0050ff 79.69% 81.25%,#0040ff 81.25% 82.81%,#0030ff 82.81% 84.38%,#0020ff 84.38% 85.94%,#0010ff 85.94% 87.50%,#0000ff 87.50% 89.06%,#0000ef 89.06% 90.62%,#0000df 90.62% 92.19%,#0000cf 92.19% 93.75%,#0000bf 93.75% 95.31%,#0000af 95.31% 96.88%,#00009f 96.88% 98.44%,#00008f 98.44% 100.00%)"></div>
<div class="cb" style="left:353.6px;top:601.5px;width:16.5px;height:145.0px;background:linear-gradient(#800000 0.00% 1.56%,#8f0000 1.56% 3.12%,#9f0000 3.12% 4.69%,#af0000 4.69% 6.25%,#bf0000 6.25% 7.81%,#cf0000 7.81% 9.38%,#df0000 9.38% 10.94%,#ef0000 10.94% 12.50%,#ff0000 12.50% 14.06%,#ff1000 14.06% 15.62%,#ff2000 15.62% 17.19%,#ff3000 17.19% 18.75%,#ff4000 18.75% 20.31%,#ff5000 20.31% 21.88%,#ff6000 21.88% 23.44%,#ff7000 23.44% 25.00%,#ff8000 25.00% 26.56%,#ff8f00 26.56% 28.12%,#ff9f00 28.12% 29.69%,#ffaf00 29.69% 31.25%,#ffbf00 31.25% 32.81%,#ffcf00 32.81% 34.38%,#ffdf00 34.38% 35.94%,#ffef00 35.94% 37.50%,#ffff00 37.50% 39.06%,#efff10 39.06% 40.62%,#dfff20 40.62% 42.19%,#cfff30 42.19% 43.75%,#bfff40 43.75% 45.31%,#afff50 45.31% 46.88%,#9fff60 46.88% 48.44%,#8fff70 48.44% 50.00%,#80ff80 50.00% 51.56%,#70ff8f 51.56% 53.12%,#60ff9f 53.12% 54.69%,#50ffaf 54.69% 56.25%,#40ffbf 56.25% 57.81%,#30ffcf 57.81% 59.38%,#20ffdf 59.38% 60.94%,#10ffef 60.94% 62.50%,#00ffff 62.50% 64.06%,#00efff 64.06% 65.62%,#00dfff 65.62% 67.19%,#00cfff 67.19% 68.75%,#00bfff 68.75% 70.31%,#00afff 70.31% 71.88%,#009fff 71.88% 73.44%,#008fff 73.44% 75.00%,#0080ff 75.00% 76.56%,#0070ff 76.56% 78.12%,#0060ff 78.12% 79.69%,#0050ff 79.69% 81.25%,#0040ff 81.25% 82.81%,#0030ff 82.81% 84.38%,#0020ff 84.38% 85.94%,#0010ff 85.94% 87.50%,#0000ff 87.50% 89.06%,#0000ef 89.06% 90.62%,#0000df 90.62% 92.19%,#0000cf 92.19% 93.75%,#0000bf 93.75% 95.31%,#0000af 95.31% 96.88%,#00009f 96.88% 98.44%,#00008f 98.44% 100.00%)"></div>
<svg width="602" height="802" viewBox="0 0 602 802">
<g id="panel-a-b">
<line x1="86.26" y1="5.50" x2="86.26" y2="215.50" stroke="#b9b9b9" stroke-width="1" stroke-dasharray="2.6 2.6"/>
<line x1="114.12" y1="5.50" x2="114.12" y2="215.50" stroke="#b9b9b9" stroke-width="1" stroke-dasharray="2.6 2.6"/>
<line x1="141.98" y1="5.50" x2="141.98" y2="215.50" stroke="#b9b9b9" stroke-width="1" stroke-dasharray="2.6 2.6"/>
<line x1="169.84" y1="5.50" x2="169.84" y2="215.50" stroke="#b9b9b9" stroke-width="1" stroke-dasharray="2.6 2.6"/>
<line x1="197.70" y1="5.50" x2="197.70" y2="215.50" stroke="#b9b9b9" stroke-width="1" stroke-dasharray="2.6 2.6"/>
<line x1="225.56" y1="5.50" x2="225.56" y2="215.50" stroke="#b9b9b9" stroke-width="1" stroke-dasharray="2.6 2.6"/>
<line x1="253.42" y1="5.50" x2="253.42" y2="215.50" stroke="#b9b9b9" stroke-width="1" stroke-dasharray="2.6 2.6"/>
<line x1="58.40" y1="180.50" x2="257.50" y2="180.50" stroke="#b9b9b9" stroke-width="1" stroke-dasharray="2.6 2.6"/>
<line x1="58.40" y1="145.50" x2="257.50" y2="145.50" stroke="#b9b9b9" stroke-width="1" stroke-dasharray="2.6 2.6"/>
<line x1="58.40" y1="110.50" x2="257.50" y2="110.50" stroke="#b9b9b9" stroke-width="1" stroke-dasharray="2.6 2.6"/>
<line x1="58.40" y1="75.50" x2="257.50" y2="75.50" stroke="#b9b9b9" stroke-width="1" stroke-dasharray="2.6 2.6"/>
<line x1="58.40" y1="40.50" x2="257.50" y2="40.50" stroke="#b9b9b9" stroke-width="1" stroke-dasharray="2.6 2.6"/>
<line x1="58.40" y1="5.50" x2="257.50" y2="5.50" stroke="#b9b9b9" stroke-width="1" stroke-dasharray="2.6 2.6"/>
<line x1="58.40" y1="127.20" x2="123.00" y2="127.20" stroke="#f03030" stroke-width="1.3" stroke-dasharray="2.6 2.4"/>
<line x1="128.00" y1="132.20" x2="128.00" y2="215.50" stroke="#f03030" stroke-width="1.3" stroke-dasharray="2.6 2.4"/>
<path d="M72.50 11.70 L86.20 53.50 L100.20 88.40 L114.20 114.30 L128.00 127.20 L141.80 136.40 L155.70 141.80 L169.60 144.40 L183.40 147.00 L197.30 149.30 L211.00 151.60 L224.90 152.60 L238.80 153.50 L252.70 153.90" stroke="#000" stroke-width="1.7" fill="none" stroke-dasharray="5.2 3.2"/>
<circle cx="72.50" cy="11.70" r="2.55" fill="#000"/>
<circle cx="86.20" cy="53.50" r="2.55" fill="#000"/>
<circle cx="100.20" cy="88.40" r="2.55" fill="#000"/>
<circle cx="114.20" cy="114.30" r="2.55" fill="#000"/>
<circle cx="128.00" cy="127.20" r="2.55" fill="#000"/>
<circle cx="141.80" cy="136.40" r="2.55" fill="#000"/>
<circle cx="155.70" cy="141.80" r="2.55" fill="#000"/>
<circle cx="169.60" cy="144.40" r="2.55" fill="#000"/>
<circle cx="183.40" cy="147.00" r="2.55" fill="#000"/>
<circle cx="197.30" cy="149.30" r="2.55" fill="#000"/>
<circle cx="211.00" cy="151.60" r="2.55" fill="#000"/>
<circle cx="224.90" cy="152.60" r="2.55" fill="#000"/>
<circle cx="238.80" cy="153.50" r="2.55" fill="#000"/>
<circle cx="252.70" cy="153.90" r="2.55" fill="#000"/>
<circle cx="128.00" cy="127.20" r="4.9" fill="none" stroke="#e8141c" stroke-width="1.1"/>
<circle cx="128.00" cy="127.20" r="0.9" fill="#c01018"/>
<rect x="58.40" y="5.50" width="199.10" height="210.00" fill="none" stroke="#2a2a2a" stroke-width="1"/>
<line x1="58.40" y1="215.50" x2="58.40" y2="212.90" stroke="#222" stroke-width="1"/>
<line x1="58.40" y1="5.50" x2="58.40" y2="8.10" stroke="#222" stroke-width="1"/>
<line x1="86.26" y1="215.50" x2="86.26" y2="212.90" stroke="#222" stroke-width="1"/>
<line x1="86.26" y1="5.50" x2="86.26" y2="8.10" stroke="#222" stroke-width="1"/>
<line x1="114.12" y1="215.50" x2="114.12" y2="212.90" stroke="#222" stroke-width="1"/>
<line x1="114.12" y1="5.50" x2="114.12" y2="8.10" stroke="#222" stroke-width="1"/>
<line x1="141.98" y1="215.50" x2="141.98" y2="212.90" stroke="#222" stroke-width="1"/>
<line x1="141.98" y1="5.50" x2="141.98" y2="8.10" stroke="#222" stroke-width="1"/>
<line x1="169.84" y1="215.50" x2="169.84" y2="212.90" stroke="#222" stroke-width="1"/>
<line x1="169.84" y1="5.50" x2="169.84" y2="8.10" stroke="#222" stroke-width="1"/>
<line x1="197.70" y1="215.50" x2="197.70" y2="212.90" stroke="#222" stroke-width="1"/>
<line x1="197.70" y1="5.50" x2="197.70" y2="8.10" stroke="#222" stroke-width="1"/>
<line x1="225.56" y1="215.50" x2="225.56" y2="212.90" stroke="#222" stroke-width="1"/>
<line x1="225.56" y1="5.50" x2="225.56" y2="8.10" stroke="#222" stroke-width="1"/>
<line x1="253.42" y1="215.50" x2="253.42" y2="212.90" stroke="#222" stroke-width="1"/>
<line x1="253.42" y1="5.50" x2="253.42" y2="8.10" stroke="#222" stroke-width="1"/>
<line x1="58.40" y1="215.50" x2="61.00" y2="215.50" stroke="#222" stroke-width="1"/>
<line x1="257.50" y1="215.50" x2="254.90" y2="215.50" stroke="#222" stroke-width="1"/>
<line x1="58.40" y1="180.50" x2="61.00" y2="180.50" stroke="#222" stroke-width="1"/>
<line x1="257.50" y1="180.50" x2="254.90" y2="180.50" stroke="#222" stroke-width="1"/>
<line x1="58.40" y1="145.50" x2="61.00" y2="145.50" stroke="#222" stroke-width="1"/>
<line x1="257.50" y1="145.50" x2="254.90" y2="145.50" stroke="#222" stroke-width="1"/>
<line x1="58.40" y1="110.50" x2="61.00" y2="110.50" stroke="#222" stroke-width="1"/>
<line x1="257.50" y1="110.50" x2="254.90" y2="110.50" stroke="#222" stroke-width="1"/>
<line x1="58.40" y1="75.50" x2="61.00" y2="75.50" stroke="#222" stroke-width="1"/>
<line x1="257.50" y1="75.50" x2="254.90" y2="75.50" stroke="#222" stroke-width="1"/>
<line x1="58.40" y1="40.50" x2="61.00" y2="40.50" stroke="#222" stroke-width="1"/>
<line x1="257.50" y1="40.50" x2="254.90" y2="40.50" stroke="#222" stroke-width="1"/>
<line x1="58.40" y1="5.50" x2="61.00" y2="5.50" stroke="#222" stroke-width="1"/>
<line x1="257.50" y1="5.50" x2="254.90" y2="5.50" stroke="#222" stroke-width="1"/>
<text x="47.8" y="220.2" font-size="14" text-anchor="middle" fill="#000" stroke="#000" stroke-width="0.22">0</text>
<text x="47.8" y="185.2" font-size="14" text-anchor="middle" fill="#000" stroke="#000" stroke-width="0.22">1</text>
<text x="47.8" y="150.2" font-size="14" text-anchor="middle" fill="#000" stroke="#000" stroke-width="0.22">2</text>
<text x="47.8" y="115.2" font-size="14" text-anchor="middle" fill="#000" stroke="#000" stroke-width="0.22">3</text>
<text x="47.8" y="80.2" font-size="14" text-anchor="middle" fill="#000" stroke="#000" stroke-width="0.22">4</text>
<text x="47.8" y="45.2" font-size="14" text-anchor="middle" fill="#000" stroke="#000" stroke-width="0.22">5</text>
<text x="47.8" y="10.2" font-size="14" text-anchor="middle" fill="#000" stroke="#000" stroke-width="0.22">6</text>
<text x="58.8" y="233.4" font-size="14" text-anchor="middle" fill="#000" stroke="#000" stroke-width="0.22">0</text>
<text x="86.7" y="233.4" font-size="14" text-anchor="middle" fill="#000" stroke="#000" stroke-width="0.22">2</text>
<text x="114.5" y="233.4" font-size="14" text-anchor="middle" fill="#000" stroke="#000" stroke-width="0.22">4</text>
<text x="142.4" y="233.4" font-size="14" text-anchor="middle" fill="#000" stroke="#000" stroke-width="0.22">6</text>
<text x="170.2" y="233.4" font-size="14" text-anchor="middle" fill="#000" stroke="#000" stroke-width="0.22">8</text>
<text x="198.1" y="233.4" font-size="14" text-anchor="middle" fill="#000" stroke="#000" stroke-width="0.22">10</text>
<text x="226.0" y="233.4" font-size="14" text-anchor="middle" fill="#000" stroke="#000" stroke-width="0.22">12</text>
<text x="253.8" y="233.4" font-size="14" text-anchor="middle" fill="#000" stroke="#000" stroke-width="0.22">14</text>
<text x="154.9" y="249.9" font-size="14.2" text-anchor="middle" fill="#000" stroke="#000" stroke-width="0.22" textLength="151.2" lengthAdjust="spacingAndGlyphs">Parabolic lens height (μm)</text>
<text x="154.0" y="274.8" font-size="14" text-anchor="middle" fill="#000" stroke="#000" stroke-width="0.22">(a)</text>
<text x="33.8" y="110.2" font-size="14.6" text-anchor="middle" fill="#000" stroke="#000" stroke-width="0.22" transform="rotate(-90 33.8 110.2)" textLength="88.0" lengthAdjust="spacingAndGlyphs">Spot size (μm)</text>
<line x1="393.66" y1="5.30" x2="393.66" y2="215.50" stroke="#b9b9b9" stroke-width="1" stroke-dasharray="2.6 2.6"/>
<line x1="421.32" y1="5.30" x2="421.32" y2="215.50" stroke="#b9b9b9" stroke-width="1" stroke-dasharray="2.6 2.6"/>
<line x1="448.98" y1="5.30" x2="448.98" y2="215.50" stroke="#b9b9b9" stroke-width="1" stroke-dasharray="2.6 2.6"/>
<line x1="476.64" y1="5.30" x2="476.64" y2="215.50" stroke="#b9b9b9" stroke-width="1" stroke-dasharray="2.6 2.6"/>
<line x1="504.30" y1="5.30" x2="504.30" y2="215.50" stroke="#b9b9b9" stroke-width="1" stroke-dasharray="2.6 2.6"/>
<line x1="531.96" y1="5.30" x2="531.96" y2="215.50" stroke="#b9b9b9" stroke-width="1" stroke-dasharray="2.6 2.6"/>
<line x1="559.62" y1="5.30" x2="559.62" y2="215.50" stroke="#b9b9b9" stroke-width="1" stroke-dasharray="2.6 2.6"/>
<line x1="366.00" y1="194.82" x2="563.60" y2="194.82" stroke="#b9b9b9" stroke-width="1" stroke-dasharray="2.6 2.6"/>
<line x1="366.00" y1="174.04" x2="563.60" y2="174.04" stroke="#b9b9b9" stroke-width="1" stroke-dasharray="2.6 2.6"/>
<line x1="366.00" y1="153.26" x2="563.60" y2="153.26" stroke="#b9b9b9" stroke-width="1" stroke-dasharray="2.6 2.6"/>
<line x1="366.00" y1="132.48" x2="563.60" y2="132.48" stroke="#b9b9b9" stroke-width="1" stroke-dasharray="2.6 2.6"/>
<line x1="366.00" y1="111.70" x2="563.60" y2="111.70" stroke="#b9b9b9" stroke-width="1" stroke-dasharray="2.6 2.6"/>
<line x1="366.00" y1="90.92" x2="563.60" y2="90.92" stroke="#b9b9b9" stroke-width="1" stroke-dasharray="2.6 2.6"/>
<line x1="366.00" y1="70.14" x2="563.60" y2="70.14" stroke="#b9b9b9" stroke-width="1" stroke-dasharray="2.6 2.6"/>
<line x1="366.00" y1="49.36" x2="563.60" y2="49.36" stroke="#b9b9b9" stroke-width="1" stroke-dasharray="2.6 2.6"/>
<line x1="366.00" y1="28.58" x2="563.60" y2="28.58" stroke="#b9b9b9" stroke-width="1" stroke-dasharray="2.6 2.6"/>
<line x1="366.00" y1="7.80" x2="563.60" y2="7.80" stroke="#b9b9b9" stroke-width="1" stroke-dasharray="2.6 2.6"/>
<line x1="366.00" y1="148.00" x2="430.20" y2="148.00" stroke="#f03030" stroke-width="1.3" stroke-dasharray="2.6 2.4"/>
<line x1="435.20" y1="153.00" x2="435.20" y2="215.50" stroke="#f03030" stroke-width="1.3" stroke-dasharray="2.6 2.4"/>
<path d="M379.70 7.60 L393.50 46.10 L407.40 95.00 L421.20 127.30 L435.20 148.00 L448.90 164.70 L462.60 175.50 L476.50 181.60 L490.40 186.60 L504.00 190.80 L518.00 194.30 L532.00 196.10 L545.50 198.10 L559.50 199.40" stroke="#000" stroke-width="1.7" fill="none" stroke-dasharray="5.2 3.2"/>
<circle cx="379.70" cy="7.60" r="2.55" fill="#000"/>
<circle cx="393.50" cy="46.10" r="2.55" fill="#000"/>
<circle cx="407.40" cy="95.00" r="2.55" fill="#000"/>
<circle cx="421.20" cy="127.30" r="2.55" fill="#000"/>
<circle cx="435.20" cy="148.00" r="2.55" fill="#000"/>
<circle cx="448.90" cy="164.70" r="2.55" fill="#000"/>
<circle cx="462.60" cy="175.50" r="2.55" fill="#000"/>
<circle cx="476.50" cy="181.60" r="2.55" fill="#000"/>
<circle cx="490.40" cy="186.60" r="2.55" fill="#000"/>
<circle cx="504.00" cy="190.80" r="2.55" fill="#000"/>
<circle cx="518.00" cy="194.30" r="2.55" fill="#000"/>
<circle cx="532.00" cy="196.10" r="2.55" fill="#000"/>
<circle cx="545.50" cy="198.10" r="2.55" fill="#000"/>
<circle cx="559.50" cy="199.40" r="2.55" fill="#000"/>
<circle cx="435.20" cy="148.00" r="4.9" fill="none" stroke="#e8141c" stroke-width="1.1"/>
<circle cx="435.20" cy="148.00" r="0.9" fill="#c01018"/>
<rect x="366.00" y="5.30" width="197.60" height="210.20" fill="none" stroke="#2a2a2a" stroke-width="1"/>
<line x1="366.00" y1="5.30" x2="366.00" y2="215.50" stroke="#5a5a5a" stroke-width="1.8"/>
<line x1="366.00" y1="215.50" x2="366.00" y2="212.90" stroke="#222" stroke-width="1"/>
<line x1="366.00" y1="5.30" x2="366.00" y2="7.90" stroke="#222" stroke-width="1"/>
<line x1="393.66" y1="215.50" x2="393.66" y2="212.90" stroke="#222" stroke-width="1"/>
<line x1="393.66" y1="5.30" x2="393.66" y2="7.90" stroke="#222" stroke-width="1"/>
<line x1="421.32" y1="215.50" x2="421.32" y2="212.90" stroke="#222" stroke-width="1"/>
<line x1="421.32" y1="5.30" x2="421.32" y2="7.90" stroke="#222" stroke-width="1"/>
<line x1="448.98" y1="215.50" x2="448.98" y2="212.90" stroke="#222" stroke-width="1"/>
<line x1="448.98" y1="5.30" x2="448.98" y2="7.90" stroke="#222" stroke-width="1"/>
<line x1="476.64" y1="215.50" x2="476.64" y2="212.90" stroke="#222" stroke-width="1"/>
<line x1="476.64" y1="5.30" x2="476.64" y2="7.90" stroke="#222" stroke-width="1"/>
<line x1="504.30" y1="215.50" x2="504.30" y2="212.90" stroke="#222" stroke-width="1"/>
<line x1="504.30" y1="5.30" x2="504.30" y2="7.90" stroke="#222" stroke-width="1"/>
<line x1="531.96" y1="215.50" x2="531.96" y2="212.90" stroke="#222" stroke-width="1"/>
<line x1="531.96" y1="5.30" x2="531.96" y2="7.90" stroke="#222" stroke-width="1"/>
<line x1="559.62" y1="215.50" x2="559.62" y2="212.90" stroke="#222" stroke-width="1"/>
<line x1="559.62" y1="5.30" x2="559.62" y2="7.90" stroke="#222" stroke-width="1"/>
<line x1="366.00" y1="215.60" x2="368.60" y2="215.60" stroke="#222" stroke-width="1"/>
<line x1="563.60" y1="215.60" x2="561.00" y2="215.60" stroke="#222" stroke-width="1"/>
<line x1="366.00" y1="194.82" x2="368.60" y2="194.82" stroke="#222" stroke-width="1"/>
<line x1="563.60" y1="194.82" x2="561.00" y2="194.82" stroke="#222" stroke-width="1"/>
<line x1="366.00" y1="174.04" x2="368.60" y2="174.04" stroke="#222" stroke-width="1"/>
<line x1="563.60" y1="174.04" x2="561.00" y2="174.04" stroke="#222" stroke-width="1"/>
<line x1="366.00" y1="153.26" x2="368.60" y2="153.26" stroke="#222" stroke-width="1"/>
<line x1="563.60" y1="153.26" x2="561.00" y2="153.26" stroke="#222" stroke-width="1"/>
<line x1="366.00" y1="132.48" x2="368.60" y2="132.48" stroke="#222" stroke-width="1"/>
<line x1="563.60" y1="132.48" x2="561.00" y2="132.48" stroke="#222" stroke-width="1"/>
<line x1="366.00" y1="111.70" x2="368.60" y2="111.70" stroke="#222" stroke-width="1"/>
<line x1="563.60" y1="111.70" x2="561.00" y2="111.70" stroke="#222" stroke-width="1"/>
<line x1="366.00" y1="90.92" x2="368.60" y2="90.92" stroke="#222" stroke-width="1"/>
<line x1="563.60" y1="90.92" x2="561.00" y2="90.92" stroke="#222" stroke-width="1"/>
<line x1="366.00" y1="70.14" x2="368.60" y2="70.14" stroke="#222" stroke-width="1"/>
<line x1="563.60" y1="70.14" x2="561.00" y2="70.14" stroke="#222" stroke-width="1"/>
<line x1="366.00" y1="49.36" x2="368.60" y2="49.36" stroke="#222" stroke-width="1"/>
<line x1="563.60" y1="49.36" x2="561.00" y2="49.36" stroke="#222" stroke-width="1"/>
<line x1="366.00" y1="28.58" x2="368.60" y2="28.58" stroke="#222" stroke-width="1"/>
<line x1="563.60" y1="28.58" x2="561.00" y2="28.58" stroke="#222" stroke-width="1"/>
<line x1="366.00" y1="7.80" x2="368.60" y2="7.80" stroke="#222" stroke-width="1"/>
<line x1="563.60" y1="7.80" x2="561.00" y2="7.80" stroke="#222" stroke-width="1"/>
<text x="352.2" y="220.3" font-size="14" text-anchor="middle" fill="#000" stroke="#000" stroke-width="0.22">0</text>
<text x="352.2" y="199.6" font-size="14" text-anchor="middle" fill="#000" stroke="#000" stroke-width="0.22">2</text>
<text x="352.2" y="178.8" font-size="14" text-anchor="middle" fill="#000" stroke="#000" stroke-width="0.22">4</text>
<text x="352.2" y="158.0" font-size="14" text-anchor="middle" fill="#000" stroke="#000" stroke-width="0.22">6</text>
<text x="352.2" y="137.2" font-size="14" text-anchor="middle" fill="#000" stroke="#000" stroke-width="0.22">8</text>
<text x="352.2" y="116.4" font-size="14" text-anchor="middle" fill="#000" stroke="#000" stroke-width="0.22">10</text>
<text x="352.2" y="95.7" font-size="14" text-anchor="middle" fill="#000" stroke="#000" stroke-width="0.22">12</text>
<text x="352.2" y="74.9" font-size="14" text-anchor="middle" fill="#000" stroke="#000" stroke-width="0.22">14</text>
<text x="352.2" y="54.1" font-size="14" text-anchor="middle" fill="#000" stroke="#000" stroke-width="0.22">16</text>
<text x="352.2" y="33.3" font-size="14" text-anchor="middle" fill="#000" stroke="#000" stroke-width="0.22">18</text>
<text x="352.2" y="12.5" font-size="14" text-anchor="middle" fill="#000" stroke="#000" stroke-width="0.22">20</text>
<text x="366.0" y="233.4" font-size="14" text-anchor="middle" fill="#000" stroke="#000" stroke-width="0.22">0</text>
<text x="393.7" y="233.4" font-size="14" text-anchor="middle" fill="#000" stroke="#000" stroke-width="0.22">2</text>
<text x="421.3" y="233.4" font-size="14" text-anchor="middle" fill="#000" stroke="#000" stroke-width="0.22">4</text>
<text x="449.0" y="233.4" font-size="14" text-anchor="middle" fill="#000" stroke="#000" stroke-width="0.22">6</text>
<text x="476.6" y="233.4" font-size="14" text-anchor="middle" fill="#000" stroke="#000" stroke-width="0.22">8</text>
<text x="504.3" y="233.4" font-size="14" text-anchor="middle" fill="#000" stroke="#000" stroke-width="0.22">10</text>
<text x="532.0" y="233.4" font-size="14" text-anchor="middle" fill="#000" stroke="#000" stroke-width="0.22">12</text>
<text x="559.6" y="233.4" font-size="14" text-anchor="middle" fill="#000" stroke="#000" stroke-width="0.22">14</text>
<text x="461.8" y="249.8" font-size="14.2" text-anchor="middle" fill="#000" stroke="#000" stroke-width="0.22" textLength="151.0" lengthAdjust="spacingAndGlyphs">Parabolic lens height (μm)</text>
<text x="462.6" y="274.0" font-size="14" text-anchor="middle" fill="#000" stroke="#000" stroke-width="0.22">(b)</text>
<text x="337.5" y="111.0" font-size="14.4" text-anchor="middle" fill="#000" stroke="#000" stroke-width="0.22" transform="rotate(-90 337.5 111.0)" textLength="132.6" lengthAdjust="spacingAndGlyphs">Working distance (μm)</text>
</g>
<g id="panel-c">
<path d="M127.06 335.01 L131.81 338.82 L136.32 342.63 L140.58 346.44 L144.60 350.25 L148.38 354.06 L151.92 357.87 L155.21 361.68 L158.25 365.49 L161.06 369.30 L163.61 373.11 L165.93 376.92 L168.00 380.73 L169.83 384.54 L171.41 388.34 L172.75 392.15 L173.85 395.96 L174.70 399.77 L175.31 403.58 L175.68 407.39 L175.80 411.20 L175.68 415.01 L175.31 418.82 L174.70 422.63 L173.85 426.44 L172.75 430.25 L171.41 434.06 L169.83 437.86 L168.00 441.67 L165.93 445.48 L163.61 449.29 L161.06 453.10 L158.25 456.91 L155.21 460.72 L151.92 464.53 L148.38 468.34 L144.60 472.15 L140.58 475.96 L136.32 479.77 L131.81 483.58 L127.06 487.39" stroke="#eeeef8" stroke-width="1.05" fill="none"/>
<path d="M127.06 335.00 L176.20 335.00 L176.20 316.60 L240.50 316.60 L240.50 312.20" stroke="#eeeef8" stroke-width="0.95" fill="none"/>
<path d="M127.06 487.50 L176.20 487.50 L176.20 506.50 L240.50 506.50 L240.50 510.00" stroke="#eeeef8" stroke-width="0.95" fill="none"/>
<line x1="240.40" y1="335.50" x2="240.40" y2="487.50" stroke="#eeeef8" stroke-width="1.0" stroke-dasharray="3.8 2.4"/>
<line x1="179.00" y1="487.60" x2="238.00" y2="487.60" stroke="#eeeef8" stroke-width="0.95"/>
<path d="M176.6 487.6 L183.8 484.6 L182.0 487.6 L183.8 490.6 Z" fill="#ffffff"/>
<path d="M240.2 487.6 L233.0 484.6 L234.8 487.6 L233.0 490.6 Z" fill="#ffffff"/>
<text x="208.2" y="484.4" font-size="12.4" text-anchor="middle" fill="#f4f4fb" stroke="#f4f4fb" stroke-width="0.22" textLength="20.6" lengthAdjust="spacingAndGlyphs">WD</text>
<text x="100.3" y="317.0" font-size="13" text-anchor="middle" fill="#000" stroke="#000" stroke-width="0.22">10</text>
<text x="100.3" y="336.9" font-size="13" text-anchor="middle" fill="#000" stroke="#000" stroke-width="0.22">8</text>
<text x="100.3" y="356.7" font-size="13" text-anchor="middle" fill="#000" stroke="#000" stroke-width="0.22">6</text>
<text x="100.3" y="376.6" font-size="13" text-anchor="middle" fill="#000" stroke="#000" stroke-width="0.22">4</text>
<text x="100.3" y="396.4" font-size="13" text-anchor="middle" fill="#000" stroke="#000" stroke-width="0.22">2</text>
<text x="100.3" y="416.3" font-size="13" text-anchor="middle" fill="#000" stroke="#000" stroke-width="0.22">0</text>
<text x="99.3" y="436.2" font-size="13" text-anchor="middle" fill="#000" stroke="#000" stroke-width="0.22">-2</text>
<text x="99.3" y="456.0" font-size="13" text-anchor="middle" fill="#000" stroke="#000" stroke-width="0.22">-4</text>
<text x="99.3" y="475.9" font-size="13" text-anchor="middle" fill="#000" stroke="#000" stroke-width="0.22">-6</text>
<text x="99.3" y="495.7" font-size="13" text-anchor="middle" fill="#000" stroke="#000" stroke-width="0.22">-8</text>
<text x="99.3" y="515.6" font-size="13" text-anchor="middle" fill="#000" stroke="#000" stroke-width="0.22">-10</text>
<text x="115.3" y="527.6" font-size="13" text-anchor="middle" fill="#000" stroke="#000" stroke-width="0.22">-6</text>
<text x="146.0" y="527.6" font-size="13" text-anchor="middle" fill="#000" stroke="#000" stroke-width="0.22">-3</text>
<text x="176.1" y="527.6" font-size="13" text-anchor="middle" fill="#000" stroke="#000" stroke-width="0.22">0</text>
<text x="206.0" y="527.6" font-size="13" text-anchor="middle" fill="#000" stroke="#000" stroke-width="0.22">3</text>
<text x="235.9" y="527.6" font-size="13" text-anchor="middle" fill="#000" stroke="#000" stroke-width="0.22">6</text>
<text x="266.7" y="527.6" font-size="13" text-anchor="middle" fill="#000" stroke="#000" stroke-width="0.22">9</text>
<text x="296.8" y="527.6" font-size="13" text-anchor="middle" fill="#000" stroke="#000" stroke-width="0.22">12</text>
<text x="326.7" y="527.6" font-size="13" text-anchor="middle" fill="#000" stroke="#000" stroke-width="0.22">15</text>
<text x="357.1" y="527.6" font-size="13" text-anchor="middle" fill="#000" stroke="#000" stroke-width="0.22">18</text>
<text x="386.5" y="527.6" font-size="13" text-anchor="middle" fill="#000" stroke="#000" stroke-width="0.22">21</text>
<text x="412.8" y="527.6" font-size="13" text-anchor="middle" fill="#000" stroke="#000" stroke-width="0.22">24</text>
<text x="266.0" y="543.3" font-size="13.6" text-anchor="middle" fill="#000" stroke="#000" stroke-width="0.22" textLength="36.5" lengthAdjust="spacingAndGlyphs">z (μm)</text>
<text x="266.8" y="568.2" font-size="13.6" text-anchor="middle" fill="#000" stroke="#000" stroke-width="0.22">(c)</text>
<text x="86.3" y="412.5" font-size="13.6" text-anchor="middle" fill="#000" stroke="#000" stroke-width="0.22" transform="rotate(-90 86.3 412.5)" textLength="37.2" lengthAdjust="spacingAndGlyphs">x (μm)</text>
<text x="482.0" y="319.4" font-size="13" text-anchor="middle" fill="#000" stroke="#000" stroke-width="0.22">0</text>
<text x="482.0" y="351.4" font-size="13" text-anchor="middle" fill="#000" stroke="#000" stroke-width="0.22">-4</text>
<text x="482.0" y="383.5" font-size="13" text-anchor="middle" fill="#000" stroke="#000" stroke-width="0.22">-8</text>
<text x="482.0" y="415.5" font-size="13" text-anchor="middle" fill="#000" stroke="#000" stroke-width="0.22">-12</text>
<text x="482.0" y="447.6" font-size="13" text-anchor="middle" fill="#000" stroke="#000" stroke-width="0.22">-16</text>
<text x="482.0" y="479.6" font-size="13" text-anchor="middle" fill="#000" stroke="#000" stroke-width="0.22">-20</text>
<text x="482.0" y="511.7" font-size="13" text-anchor="middle" fill="#000" stroke="#000" stroke-width="0.22">-24</text>
<text x="446.6" y="306.6" font-size="13" text-anchor="middle" fill="#000" stroke="#000" stroke-width="0.22">dB</text>
<rect x="433.6" y="311.6" width="26.6" height="198.0" fill="none" stroke="#40302a" stroke-width="0.7" stroke-opacity="0.75"/>
<line x1="458.00" y1="344.60" x2="460.20" y2="344.60" stroke="#30241e" stroke-width="0.7"/>
<line x1="458.00" y1="377.60" x2="460.20" y2="377.60" stroke="#30241e" stroke-width="0.7"/>
<line x1="458.00" y1="410.60" x2="460.20" y2="410.60" stroke="#30241e" stroke-width="0.7"/>
<line x1="458.00" y1="443.60" x2="460.20" y2="443.60" stroke="#30241e" stroke-width="0.7"/>
<line x1="458.00" y1="476.60" x2="460.20" y2="476.60" stroke="#30241e" stroke-width="0.7"/>
</g>
<g id="panel-d-e">
<text x="20.8" y="609.6" font-size="13" text-anchor="middle" fill="#000" stroke="#000" stroke-width="0.22">4</text>
<text x="20.8" y="644.9" font-size="13" text-anchor="middle" fill="#000" stroke="#000" stroke-width="0.22">2</text>
<text x="20.8" y="680.3" font-size="13" text-anchor="middle" fill="#000" stroke="#000" stroke-width="0.22">0</text>
<text x="19.6" y="715.6" font-size="13" text-anchor="middle" fill="#000" stroke="#000" stroke-width="0.22">-2</text>
<text x="19.6" y="751.0" font-size="13" text-anchor="middle" fill="#000" stroke="#000" stroke-width="0.22">-4</text>
<text x="31.9" y="761.7" font-size="13" text-anchor="middle" fill="#000" stroke="#000" stroke-width="0.22">-4</text>
<text x="67.8" y="761.7" font-size="13" text-anchor="middle" fill="#000" stroke="#000" stroke-width="0.22">-2</text>
<text x="106.0" y="761.7" font-size="13" text-anchor="middle" fill="#000" stroke="#000" stroke-width="0.22">0</text>
<text x="141.5" y="761.7" font-size="13" text-anchor="middle" fill="#000" stroke="#000" stroke-width="0.22">2</text>
<text x="176.4" y="761.7" font-size="13" text-anchor="middle" fill="#000" stroke="#000" stroke-width="0.22">4</text>
<text x="197.1" y="761.7" font-size="13" text-anchor="middle" fill="#000" stroke="#000" stroke-width="0.22">-4</text>
<text x="232.7" y="761.7" font-size="13" text-anchor="middle" fill="#000" stroke="#000" stroke-width="0.22">-2</text>
<text x="270.7" y="761.7" font-size="13" text-anchor="middle" fill="#000" stroke="#000" stroke-width="0.22">0</text>
<text x="305.6" y="761.7" font-size="13" text-anchor="middle" fill="#000" stroke="#000" stroke-width="0.22">2</text>
<text x="341.5" y="761.7" font-size="13" text-anchor="middle" fill="#000" stroke="#000" stroke-width="0.22">4</text>
<text x="106.1" y="776.5" font-size="13.8" text-anchor="middle" fill="#000" stroke="#000" stroke-width="0.22" textLength="38.2" lengthAdjust="spacingAndGlyphs">x (μm)</text>
<text x="270.9" y="776.5" font-size="13.8" text-anchor="middle" fill="#000" stroke="#000" stroke-width="0.22" textLength="37.6" lengthAdjust="spacingAndGlyphs">x (μm)</text>
<text x="106.0" y="798.8" font-size="14" text-anchor="middle" fill="#000" stroke="#000" stroke-width="0.22">(d)</text>
<text x="270.7" y="798.8" font-size="14" text-anchor="middle" fill="#000" stroke="#000" stroke-width="0.22">(e)</text>
<text x="10.3" y="674.7" font-size="13.6" text-anchor="middle" fill="#000" stroke="#000" stroke-width="0.22" transform="rotate(-90 10.3 674.7)" textLength="36.6" lengthAdjust="spacingAndGlyphs">y (μm)</text>
<text x="385.7" y="607.6" font-size="13" text-anchor="middle" fill="#000" stroke="#000" stroke-width="0.22">0</text>
<text x="385.7" y="631.4" font-size="13" text-anchor="middle" fill="#000" stroke="#000" stroke-width="0.22">-4</text>
<text x="385.7" y="655.3" font-size="13" text-anchor="middle" fill="#000" stroke="#000" stroke-width="0.22">-8</text>
<text x="385.7" y="679.1" font-size="13" text-anchor="middle" fill="#000" stroke="#000" stroke-width="0.22">-12</text>
<text x="385.7" y="703.0" font-size="13" text-anchor="middle" fill="#000" stroke="#000" stroke-width="0.22">-16</text>
<text x="385.7" y="726.8" font-size="13" text-anchor="middle" fill="#000" stroke="#000" stroke-width="0.22">-20</text>
<text x="385.7" y="750.7" font-size="13" text-anchor="middle" fill="#000" stroke="#000" stroke-width="0.22">-24</text>
<text x="361.6" y="598.0" font-size="13" text-anchor="middle" fill="#000" stroke="#000" stroke-width="0.22">dB</text>
<rect x="353.6" y="601.5" width="16.5" height="145.0" fill="none" stroke="#40302a" stroke-width="0.7" stroke-opacity="0.75"/>
<line x1="367.90" y1="625.67" x2="370.10" y2="625.67" stroke="#30241e" stroke-width="0.7"/>
<line x1="367.90" y1="649.83" x2="370.10" y2="649.83" stroke="#30241e" stroke-width="0.7"/>
<line x1="367.90" y1="674.00" x2="370.10" y2="674.00" stroke="#30241e" stroke-width="0.7"/>
<line x1="367.90" y1="698.17" x2="370.10" y2="698.17" stroke="#30241e" stroke-width="0.7"/>
<line x1="367.90" y1="722.33" x2="370.10" y2="722.33" stroke="#30241e" stroke-width="0.7"/>
</g>
<g id="panel-f">
<line x1="491.34" y1="600.80" x2="491.34" y2="745.00" stroke="#bdbdbd" stroke-width="1" stroke-dasharray="5 4"/>
<line x1="528.00" y1="600.80" x2="528.00" y2="745.00" stroke="#bdbdbd" stroke-width="1" stroke-dasharray="5 4"/>
<line x1="564.66" y1="600.80" x2="564.66" y2="745.00" stroke="#bdbdbd" stroke-width="1" stroke-dasharray="5 4"/>
<line x1="455.00" y1="717.46" x2="601.30" y2="717.46" stroke="#bdbdbd" stroke-width="1" stroke-dasharray="5 4"/>
<line x1="455.00" y1="689.92" x2="601.30" y2="689.92" stroke="#bdbdbd" stroke-width="1" stroke-dasharray="5 4"/>
<line x1="455.00" y1="662.38" x2="601.30" y2="662.38" stroke="#bdbdbd" stroke-width="1" stroke-dasharray="5 4"/>
<line x1="455.00" y1="634.84" x2="601.30" y2="634.84" stroke="#bdbdbd" stroke-width="1" stroke-dasharray="5 4"/>
<line x1="455.00" y1="607.30" x2="601.30" y2="607.30" stroke="#bdbdbd" stroke-width="1" stroke-dasharray="5 4"/>
<path d="M454.68 745.00 L455.29 745.00 L455.90 745.00 L456.51 745.00 L457.12 745.00 L457.74 745.00 L458.35 745.00 L458.96 745.00 L459.57 745.00 L460.18 745.00 L460.79 745.00 L461.40 745.00 L462.01 745.00 L462.62 745.00 L463.23 745.00 L463.85 745.00 L464.46 745.00 L465.07 745.00 L465.68 745.00 L466.29 744.99 L466.90 744.99 L467.51 744.99 L468.12 744.98 L468.73 744.98 L469.34 744.97 L469.95 744.96 L470.57 744.95 L471.18 744.94 L471.79 744.92 L472.40 744.90 L473.01 744.87 L473.62 744.84 L474.23 744.80 L474.84 744.76 L475.45 744.70 L476.06 744.64 L476.68 744.57 L477.29 744.48 L477.90 744.38 L478.51 744.27 L479.12 744.15 L479.73 744.01 L480.34 743.86 L480.95 743.70 L481.56 743.52 L482.18 743.33 L482.79 743.13 L483.40 742.93 L484.01 742.71 L484.62 742.49 L485.23 742.27 L485.84 742.06 L486.45 741.84 L487.06 741.63 L487.67 741.43 L488.28 741.24 L488.90 741.07 L489.51 740.91 L490.12 740.76 L490.73 740.63 L491.34 740.51 L491.95 740.40 L492.56 740.30 L493.17 740.20 L493.78 740.10 L494.39 739.99 L495.01 739.87 L495.62 739.72 L496.23 739.55 L496.84 739.33 L497.45 739.07 L498.06 738.75 L498.67 738.36 L499.28 737.89 L499.89 737.33 L500.50 736.67 L501.12 735.90 L501.73 735.01 L502.34 733.99 L502.95 732.83 L503.56 731.53 L504.17 730.07 L504.78 728.45 L505.39 726.65 L506.00 724.68 L506.62 722.53 L507.23 720.20 L507.84 717.67 L508.45 714.95 L509.06 712.05 L509.67 708.95 L510.28 705.67 L510.89 702.21 L511.50 698.57 L512.11 694.76 L512.73 690.80 L513.34 686.70 L513.95 682.47 L514.56 678.13 L515.17 673.71 L515.78 669.21 L516.39 664.67 L517.00 660.11 L517.61 655.55 L518.22 651.04 L518.84 646.59 L519.45 642.23 L520.06 638.01 L520.67 633.94 L521.28 630.06 L521.89 626.40 L522.50 622.99 L523.11 619.85 L523.72 617.01 L524.33 614.51 L524.95 612.34 L525.56 610.55 L526.17 609.14 L526.78 608.12 L527.39 607.51 L528.00 607.30 L528.61 607.51 L529.22 608.12 L529.83 609.14 L530.44 610.55 L531.05 612.34 L531.67 614.51 L532.28 617.01 L532.89 619.85 L533.50 622.99 L534.11 626.40 L534.72 630.06 L535.33 633.94 L535.94 638.01 L536.55 642.23 L537.16 646.59 L537.78 651.04 L538.39 655.55 L539.00 660.11 L539.61 664.67 L540.22 669.21 L540.83 673.71 L541.44 678.13 L542.05 682.47 L542.66 686.70 L543.27 690.80 L543.89 694.76 L544.50 698.57 L545.11 702.21 L545.72 705.67 L546.33 708.95 L546.94 712.05 L547.55 714.95 L548.16 717.67 L548.77 720.20 L549.38 722.53 L550.00 724.68 L550.61 726.65 L551.22 728.45 L551.83 730.07 L552.44 731.53 L553.05 732.83 L553.66 733.99 L554.27 735.01 L554.88 735.90 L555.50 736.67 L556.11 737.33 L556.72 737.89 L557.33 738.36 L557.94 738.75 L558.55 739.07 L559.16 739.33 L559.77 739.55 L560.38 739.72 L560.99 739.87 L561.61 739.99 L562.22 740.10 L562.83 740.20 L563.44 740.30 L564.05 740.40 L564.66 740.51 L565.27 740.63 L565.88 740.76 L566.49 740.91 L567.10 741.07 L567.72 741.24 L568.33 741.43 L568.94 741.63 L569.55 741.84 L570.16 742.06 L570.77 742.27 L571.38 742.49 L571.99 742.71 L572.60 742.93 L573.21 743.13 L573.83 743.33 L574.44 743.52 L575.05 743.70 L575.66 743.86 L576.27 744.01 L576.88 744.15 L577.49 744.27 L578.10 744.38 L578.71 744.48 L579.32 744.57 L579.93 744.64 L580.55 744.70 L581.16 744.76 L581.77 744.80 L582.38 744.84 L582.99 744.87 L583.60 744.90 L584.21 744.92 L584.82 744.94 L585.43 744.95 L586.04 744.96 L586.66 744.97 L587.27 744.98 L587.88 744.98 L588.49 744.99 L589.10 744.99 L589.71 744.99 L590.32 745.00 L590.93 745.00 L591.54 745.00 L592.15 745.00 L592.77 745.00 L593.38 745.00 L593.99 745.00 L594.60 745.00 L595.21 745.00 L595.82 745.00 L596.43 745.00 L597.04 745.00 L597.65 745.00 L598.26 745.00 L598.88 745.00 L599.49 745.00 L600.10 745.00 L600.71 745.00 L601.32 745.00" stroke="#000" stroke-width="1.25" fill="none" stroke-linejoin="round"/>
<rect x="455.0" y="600.8" width="146.3" height="144.2" fill="none" stroke="#000" stroke-width="1.2"/>
<line x1="491.34" y1="745.00" x2="491.34" y2="742.00" stroke="#000" stroke-width="1"/>
<line x1="491.34" y1="600.80" x2="491.34" y2="603.80" stroke="#000" stroke-width="1"/>
<line x1="528.00" y1="745.00" x2="528.00" y2="742.00" stroke="#000" stroke-width="1"/>
<line x1="528.00" y1="600.80" x2="528.00" y2="603.80" stroke="#000" stroke-width="1"/>
<line x1="564.66" y1="745.00" x2="564.66" y2="742.00" stroke="#000" stroke-width="1"/>
<line x1="564.66" y1="600.80" x2="564.66" y2="603.80" stroke="#000" stroke-width="1"/>
<line x1="455.00" y1="717.46" x2="458.00" y2="717.46" stroke="#000" stroke-width="1"/>
<line x1="601.30" y1="717.46" x2="598.30" y2="717.46" stroke="#000" stroke-width="1"/>
<line x1="455.00" y1="689.92" x2="458.00" y2="689.92" stroke="#000" stroke-width="1"/>
<line x1="601.30" y1="689.92" x2="598.30" y2="689.92" stroke="#000" stroke-width="1"/>
<line x1="455.00" y1="662.38" x2="458.00" y2="662.38" stroke="#000" stroke-width="1"/>
<line x1="601.30" y1="662.38" x2="598.30" y2="662.38" stroke="#000" stroke-width="1"/>
<line x1="455.00" y1="634.84" x2="458.00" y2="634.84" stroke="#000" stroke-width="1"/>
<line x1="601.30" y1="634.84" x2="598.30" y2="634.84" stroke="#000" stroke-width="1"/>
<line x1="455.00" y1="607.30" x2="458.00" y2="607.30" stroke="#000" stroke-width="1"/>
<line x1="601.30" y1="607.30" x2="598.30" y2="607.30" stroke="#000" stroke-width="1"/>
<circle cx="458.9" cy="745.3" r="1.05" fill="#ff1a1a"/>
<circle cx="463.3" cy="745.3" r="1.05" fill="#ff1a1a"/>
<circle cx="468.0" cy="744.3" r="1.05" fill="#ff1a1a"/>
<circle cx="472.6" cy="743.6" r="1.05" fill="#ff1a1a"/>
<circle cx="477.1" cy="743.0" r="1.05" fill="#ff1a1a"/>
<circle cx="481.5" cy="743.2" r="1.05" fill="#ff1a1a"/>
<circle cx="486.0" cy="743.4" r="1.05" fill="#ff1a1a"/>
<circle cx="490.6" cy="743.6" r="1.05" fill="#ff1a1a"/>
<circle cx="495.1" cy="740.6" r="1.05" fill="#ff1a1a"/>
<circle cx="499.5" cy="731.8" r="1.05" fill="#ff1a1a"/>
<circle cx="504.2" cy="717.2" r="1.05" fill="#ff1a1a"/>
<circle cx="509.0" cy="697.9" r="1.05" fill="#ff1a1a"/>
<circle cx="513.3" cy="673.3" r="1.05" fill="#ff1a1a"/>
<circle cx="518.1" cy="638.2" r="1.05" fill="#ff1a1a"/>
<circle cx="522.3" cy="617.5" r="1.05" fill="#ff1a1a"/>
<circle cx="527.0" cy="608.6" r="1.05" fill="#ff1a1a"/>
<circle cx="531.5" cy="619.4" r="1.05" fill="#ff1a1a"/>
<circle cx="536.0" cy="637.4" r="1.05" fill="#ff1a1a"/>
<circle cx="540.6" cy="654.1" r="1.05" fill="#ff1a1a"/>
<circle cx="545.1" cy="679.5" r="1.05" fill="#ff1a1a"/>
<circle cx="549.7" cy="706.4" r="1.05" fill="#ff1a1a"/>
<circle cx="554.0" cy="723.3" r="1.05" fill="#ff1a1a"/>
<circle cx="558.4" cy="733.2" r="1.05" fill="#ff1a1a"/>
<circle cx="563.1" cy="739.4" r="1.05" fill="#ff1a1a"/>
<circle cx="567.7" cy="742.8" r="1.05" fill="#ff1a1a"/>
<circle cx="572.2" cy="744.2" r="1.05" fill="#ff1a1a"/>
<circle cx="577.0" cy="744.7" r="1.05" fill="#ff1a1a"/>
<circle cx="581.3" cy="744.9" r="1.05" fill="#ff1a1a"/>
<circle cx="585.9" cy="744.9" r="1.05" fill="#ff1a1a"/>
<circle cx="590.4" cy="744.9" r="1.05" fill="#ff1a1a"/>
<circle cx="595.0" cy="744.9" r="1.05" fill="#ff1a1a"/>
<circle cx="599.3" cy="744.9" r="1.05" fill="#ff1a1a"/>
<text x="442.6" y="749.6" font-size="13.5" text-anchor="middle" fill="#000" stroke="#000" stroke-width="0.22">0</text>
<text x="442.6" y="722.0" font-size="13.5" text-anchor="middle" fill="#000" stroke="#000" stroke-width="0.22">0.2</text>
<text x="442.6" y="694.5" font-size="13.5" text-anchor="middle" fill="#000" stroke="#000" stroke-width="0.22">0.4</text>
<text x="442.6" y="666.9" font-size="13.5" text-anchor="middle" fill="#000" stroke="#000" stroke-width="0.22">0.6</text>
<text x="442.6" y="639.4" font-size="13.5" text-anchor="middle" fill="#000" stroke="#000" stroke-width="0.22">0.8</text>
<text x="442.6" y="611.9" font-size="13.5" text-anchor="middle" fill="#000" stroke="#000" stroke-width="0.22">1</text>
<text x="455.3" y="761.7" font-size="13.5" text-anchor="middle" fill="#000" stroke="#000" stroke-width="0.22">-4</text>
<text x="490.5" y="761.7" font-size="13.5" text-anchor="middle" fill="#000" stroke="#000" stroke-width="0.22">-2</text>
<text x="528.1" y="761.7" font-size="13.5" text-anchor="middle" fill="#000" stroke="#000" stroke-width="0.22">0</text>
<text x="563.5" y="761.7" font-size="13.5" text-anchor="middle" fill="#000" stroke="#000" stroke-width="0.22">2</text>
<text x="600.3" y="761.7" font-size="13.5" text-anchor="middle" fill="#000" stroke="#000" stroke-width="0.22">4</text>
<text x="529.1" y="776.0" font-size="13.8" text-anchor="middle" fill="#000" stroke="#000" stroke-width="0.22" textLength="38.2" lengthAdjust="spacingAndGlyphs">x (μm)</text>
<text x="528.6" y="796.8" font-size="14" text-anchor="middle" fill="#000" stroke="#000" stroke-width="0.22">(f)</text>
<text x="426.2" y="678.6" font-size="13.5" text-anchor="middle" fill="#000" stroke="#000" stroke-width="0.22" transform="rotate(-90 426.2 678.6)" textLength="113.4" lengthAdjust="spacingAndGlyphs">Normalized intensity</text>
<circle cx="543.4" cy="616.6" r="1.05" fill="#ff1a1a"/>
<line x1="538.80" y1="626.20" x2="550.00" y2="626.20" stroke="#000" stroke-width="1.2"/>
<text x="549.2" y="619.6" font-size="9" text-anchor="start" fill="#000" stroke="#000" stroke-width="0.22" textLength="48.4" lengthAdjust="spacingAndGlyphs">Measurement</text>
<text x="553.3" y="628.4" font-size="9" text-anchor="start" fill="#000" stroke="#000" stroke-width="0.22" textLength="39.2" lengthAdjust="spacingAndGlyphs">Simulation</text>
</g>
</svg>
</div>
</body></html>
